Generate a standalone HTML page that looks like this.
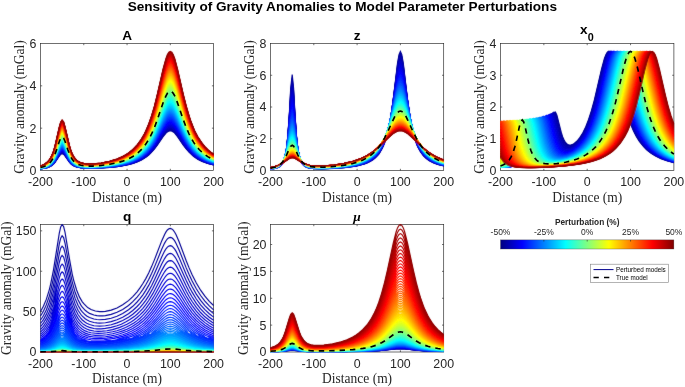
<!DOCTYPE html><html><head><meta charset="utf-8"><title>fig</title><style>html,body{margin:0;padding:0;background:#fff}#f{position:relative;width:685px;height:387px;overflow:hidden;background:#fff}</style></head><body><div id="f">
<svg width="685" height="387" viewBox="0 0 685 387" style="position:absolute;left:0;top:0;will-change:opacity">
<defs>
<clipPath id="c0"><rect x="39.70" y="42.70" width="174.70" height="128.60"/></clipPath>
<clipPath id="c1"><rect x="269.70" y="42.70" width="174.80" height="128.60"/></clipPath>
<clipPath id="c2"><rect x="499.70" y="42.70" width="175.00" height="128.60"/></clipPath>
<clipPath id="c3"><rect x="39.70" y="223.70" width="174.70" height="129.10"/></clipPath>
<clipPath id="c4"><rect x="269.70" y="223.70" width="174.80" height="129.10"/></clipPath>
<linearGradient id="jet" x1="0" x2="1" y1="0" y2="0">
<stop offset="0.0000" stop-color="#000080"/>
<stop offset="0.0156" stop-color="#00008f"/>
<stop offset="0.0312" stop-color="#00009f"/>
<stop offset="0.0469" stop-color="#0000af"/>
<stop offset="0.0625" stop-color="#0000bf"/>
<stop offset="0.0781" stop-color="#0000cf"/>
<stop offset="0.0938" stop-color="#0000df"/>
<stop offset="0.1094" stop-color="#0000ef"/>
<stop offset="0.1250" stop-color="#0000ff"/>
<stop offset="0.1406" stop-color="#0010ff"/>
<stop offset="0.1562" stop-color="#0020ff"/>
<stop offset="0.1719" stop-color="#0030ff"/>
<stop offset="0.1875" stop-color="#0040ff"/>
<stop offset="0.2031" stop-color="#0050ff"/>
<stop offset="0.2188" stop-color="#0060ff"/>
<stop offset="0.2344" stop-color="#0070ff"/>
<stop offset="0.2500" stop-color="#0080ff"/>
<stop offset="0.2656" stop-color="#008fff"/>
<stop offset="0.2812" stop-color="#009fff"/>
<stop offset="0.2969" stop-color="#00afff"/>
<stop offset="0.3125" stop-color="#00bfff"/>
<stop offset="0.3281" stop-color="#00cfff"/>
<stop offset="0.3438" stop-color="#00dfff"/>
<stop offset="0.3594" stop-color="#00efff"/>
<stop offset="0.3750" stop-color="#00ffff"/>
<stop offset="0.3906" stop-color="#10ffef"/>
<stop offset="0.4062" stop-color="#20ffdf"/>
<stop offset="0.4219" stop-color="#30ffcf"/>
<stop offset="0.4375" stop-color="#40ffbf"/>
<stop offset="0.4531" stop-color="#50ffaf"/>
<stop offset="0.4688" stop-color="#60ff9f"/>
<stop offset="0.4844" stop-color="#70ff8f"/>
<stop offset="0.5000" stop-color="#80ff80"/>
<stop offset="0.5156" stop-color="#8fff70"/>
<stop offset="0.5312" stop-color="#9fff60"/>
<stop offset="0.5469" stop-color="#afff50"/>
<stop offset="0.5625" stop-color="#bfff40"/>
<stop offset="0.5781" stop-color="#cfff30"/>
<stop offset="0.5938" stop-color="#dfff20"/>
<stop offset="0.6094" stop-color="#efff10"/>
<stop offset="0.6250" stop-color="#ffff00"/>
<stop offset="0.6406" stop-color="#ffef00"/>
<stop offset="0.6562" stop-color="#ffdf00"/>
<stop offset="0.6719" stop-color="#ffcf00"/>
<stop offset="0.6875" stop-color="#ffbf00"/>
<stop offset="0.7031" stop-color="#ffaf00"/>
<stop offset="0.7188" stop-color="#ff9f00"/>
<stop offset="0.7344" stop-color="#ff8f00"/>
<stop offset="0.7500" stop-color="#ff8000"/>
<stop offset="0.7656" stop-color="#ff7000"/>
<stop offset="0.7812" stop-color="#ff6000"/>
<stop offset="0.7969" stop-color="#ff5000"/>
<stop offset="0.8125" stop-color="#ff4000"/>
<stop offset="0.8281" stop-color="#ff3000"/>
<stop offset="0.8438" stop-color="#ff2000"/>
<stop offset="0.8594" stop-color="#ff1000"/>
<stop offset="0.8750" stop-color="#ff0000"/>
<stop offset="0.8906" stop-color="#ef0000"/>
<stop offset="0.9062" stop-color="#df0000"/>
<stop offset="0.9219" stop-color="#cf0000"/>
<stop offset="0.9375" stop-color="#bf0000"/>
<stop offset="0.9531" stop-color="#af0000"/>
<stop offset="0.9688" stop-color="#9f0000"/>
<stop offset="0.9844" stop-color="#8f0000"/>
<stop offset="1.0000" stop-color="#800000"/>
</linearGradient>
<filter id="bl" filterUnits="userSpaceOnUse" x="0" y="0" width="685" height="387"><feConvolveMatrix order="3" kernelMatrix="0.01 0.05 0.01 0.05 0.76 0.05 0.01 0.05 0.01" divisor="1" edgeMode="none" preserveAlpha="false"/></filter>
</defs>
<g stroke="#262626" stroke-width="0.66" fill="none">
<rect x="40.50" y="43.50" width="173.10" height="127.00"/>
<path d="M83.78 170.50v-1.70M83.78 43.50v1.70M127.05 170.50v-1.70M127.05 43.50v1.70M170.32 170.50v-1.70M170.32 43.50v1.70M40.50 128.17h1.70M213.60 128.17h-1.70M40.50 85.83h1.70M213.60 85.83h-1.70"/>
</g>
<g clip-path="url(#c0)"><g filter="url(#bl)"><g transform="scale(.1)" fill="none" stroke-linejoin="miter" stroke-miterlimit="8" stroke-width="11.5">
<path stroke="#000093" d="M405 1690l43-7 29-7 29-13 14-10 15-13 14-16 44-64 14-17 14-7 15 6 14 17 44 63 14 15 14 12 15 9 29 12 43 9 43 3 72 1 87-3 86-6 73-7 57-9 58-11 43-12 43-15 44-20 43-27 29-23 29-28 29-33 28-38 58-84 29-36 14-12 15-8 14-3 15 3 14 8 15 12 28 36 58 84 29 38 29 33 43 40 43 30 44 22 57 21 58 15"/>
<path fill="#00009d" d="M405 1690l43-7 29-7 43-23 29-29 58-81 14-7 15 6 58 80 28 27 44 21 43 9 115 4 173-9 130-16 101-23 43-15 44-20 43-27 29-23 58-61 86-122 29-36 29-20 14-3 15 3 29 20 28 36 87 122 29 33 43 40 43 30 44 22 57 21 58 15 0-2 -58-16 -57-22 -44-23 -43-31 -43-41 -29-34 -87-128 -28-37 -29-21 -15-3 -14 3 -29 21 -29 37 -86 128 -58 63 -29 24 -43 28 -44 20 -43 16 -101 24 -130 17 -173 9 -115-4 -43-9 -44-22 -28-29 -58-82 -15-6 -14 7 -58 84 -29 30 -43 23 -29 9 -43 6z"/>
<path stroke="#00009d" d="M405 1690l43-7 29-8 29-13 14-10 15-13 14-16 44-66 14-17 14-7 15 6 14 17 44 64 14 16 14 12 15 9 29 13 43 8 43 4 72 1 87-3 86-6 73-8 57-9 58-12 43-11 43-16 44-20 43-28 29-23 29-28 29-34 28-39 58-86 29-36 14-13 15-8 14-3 15 3 14 8 15 13 28 36 58 86 29 39 29 34 43 40 43 31 44 22 57 22 58 15"/>
<path stroke="#0000a7" d="M405 1689l43-6 29-9 29-13 14-10 15-13 14-17 44-67 14-17 14-7 15 6 14 17 44 65 14 17 14 12 15 10 29 12 43 9 43 3 72 1 87-3 86-6 73-8 57-9 58-12 43-12 43-16 44-20 43-28 29-24 29-29 29-34 28-40 58-88 29-37 14-13 15-8 14-3 15 3 14 8 15 13 28 37 58 88 29 40 29 34 43 41 43 31 44 23 57 22 58 16"/>
<path fill="#0000b1" d="M405 1689l43-6 29-9 43-23 29-30 58-84 14-7 15 6 58 82 28 29 44 22 43 9 115 4 173-9 130-17 101-24 43-16 44-20 43-28 29-24 58-63 86-128 29-37 29-21 14-3 15 3 29 21 28 37 87 128 29 34 43 41 43 31 44 23 57 22 58 16 0-2 -58-16 -57-23 -44-24 -43-32 -43-43 -29-36 -87-132 -28-38 -29-23 -15-3 -14 3 -29 22 -29 39 -86 132 -58 66 -29 24 -43 29 -44 22 -43 16 -101 25 -130 18 -173 9 -72 0 -43-4 -43-9 -29-13 -15-10 -28-30 -58-86 -15-6 -14 7 -58 88 -29 31 -43 24 -29 9 -43 7z"/>
<path stroke="#0000b1" d="M405 1689l43-7 29-8 29-14 14-10 15-14 14-17 44-68 14-18 14-7 15 7 14 17 44 67 14 16 14 13 15 10 29 12 43 9 43 4 72 1 87-3 86-7 73-8 57-9 58-12 43-12 43-16 44-22 43-28 29-24 29-30 29-35 28-40 58-90 29-37 14-13 15-9 14-3 15 3 14 9 15 13 28 37 58 90 29 40 29 35 43 43 43 31 44 23 57 23 58 16"/>
<path stroke="#0000ba" d="M405 1689l43-7 29-9 29-14 14-10 15-14 14-17 44-70 14-18 14-7 15 6 14 18 44 68 14 17 14 13 15 10 29 13 43 9 43 4 72 0 87-3 86-6 73-8 57-10 58-12 43-13 43-16 44-22 43-29 29-24 29-30 29-36 28-41 58-91 29-39 14-13 15-9 14-3 15 3 14 9 15 14 28 38 58 91 29 41 29 36 43 43 43 32 44 24 57 23 58 16"/>
<path fill="#0000c4" d="M405 1689l43-7 29-9 43-24 29-31 58-88 14-7 15 6 58 86 28 30 15 10 29 13 43 9 43 4 72 0 173-9 130-18 101-25 43-16 44-22 43-29 29-24 58-66 86-132 29-39 29-22 14-3 15 3 29 23 28 38 87 132 29 36 43 43 43 32 44 24 57 23 58 16 0-2 -58-17 -57-24 -44-25 -43-33 -43-45 -29-37 -87-137 -28-39 -15-15 -14-9 -15-3 -14 3 -15 9 -14 15 -29 39 -86 137 -58 68 -29 26 -43 30 -44 23 -43 17 -101 26 -130 17 -173 10 -72 0 -43-4 -43-10 -29-13 -15-10 -28-31 -58-89 -15-7 -14 8 -58 91 -29 32 -14 10 -29 15 -29 9 -43 7z"/>
<path stroke="#0000c4" d="M405 1688l43-7 29-8 29-15 14-10 15-14 14-18 44-70 14-19 14-8 15 7 14 18 44 69 14 17 14 14 15 10 29 13 43 9 43 4 72 1 87-3 86-7 73-8 57-9 58-13 43-13 43-17 44-22 43-29 29-26 29-30 29-36 28-43 58-92 29-39 14-14 15-9 14-3 15 3 14 9 15 14 28 39 58 93 29 42 29 36 43 44 43 32 44 25 57 23 58 17"/>
<path stroke="#0000ce" d="M405 1688l43-7 29-9 29-15 14-10 15-14 14-18 44-72 14-19 14-8 15 7 14 18 44 71 14 17 14 14 15 10 29 13 43 10 43 4 72 0 87-3 86-7 73-8 57-9 58-13 43-13 43-17 44-23 43-30 29-26 29-31 29-37 28-43 58-94 29-39 14-15 15-9 14-3 15 3 14 9 15 15 28 39 58 94 29 43 29 37 43 45 43 33 44 25 57 24 58 17"/>
<path fill="#0000d8" d="M405 1688l43-7 29-9 29-15 14-10 29-32 58-91 14-8 15 7 58 89 28 31 15 10 29 13 43 10 43 4 72 0 173-10 130-17 101-26 43-17 44-23 43-30 29-26 58-68 86-137 29-39 14-15 15-9 14-3 15 3 14 9 15 15 28 39 87 137 29 37 43 45 43 33 44 25 57 24 58 17 0-3 -58-17 -57-25 -44-25 -43-35 -43-46 -29-38 -87-142 -28-41 -15-15 -14-9 -15-3 -14 3 -15 9 -14 15 -29 41 -86 142 -58 70 -29 27 -43 31 -44 23 -43 18 -101 27 -130 18 -173 11 -72-1 -43-4 -43-10 -29-14 -15-11 -28-32 -44-72 -14-20 -15-7 -14 8 -58 94 -29 34 -14 11 -29 15 -29 9 -43 8z"/>
<path stroke="#0000d8" d="M405 1688l43-8 29-8 29-15 14-11 15-15 14-18 44-73 14-20 14-7 15 7 14 19 44 71 14 18 14 13 15 11 29 13 43 10 43 4 72 1 87-3 86-7 73-9 57-9 58-14 43-13 43-17 44-23 43-31 29-26 29-31 29-38 28-44 58-96 29-40 14-14 15-9 14-4 15 4 14 9 15 14 28 40 58 96 29 44 29 38 43 45 43 34 44 25 57 25 58 17"/>
<path stroke="#0000e2" d="M405 1688l43-8 29-9 29-15 14-11 15-15 14-19 44-74 14-20 14-8 15 7 14 20 44 72 14 18 14 14 15 11 29 14 43 10 43 4 72 1 87-4 86-7 73-9 57-9 58-14 43-13 43-18 44-23 43-31 29-27 29-32 29-38 28-45 58-97 29-41 14-15 15-9 14-3 15 3 14 9 15 15 28 41 58 97 29 45 29 38 43 46 43 35 44 25 57 25 58 17"/>
<path fill="#0000eb" d="M405 1688l43-8 29-9 29-15 14-11 29-34 58-94 14-8 15 7 14 20 44 72 28 32 15 11 29 14 43 10 43 4 72 1 173-11 130-18 101-27 43-18 44-23 43-31 29-27 58-70 86-142 29-41 14-15 15-9 14-3 15 3 14 9 15 15 28 41 87 142 29 38 43 46 43 35 44 25 57 25 58 17 0-2 -58-18 -57-25 -44-27 -43-36 -43-47 -29-40 -87-147 -28-42 -15-15 -14-10 -15-3 -14 3 -15 10 -14 15 -29 42 -86 147 -58 73 -29 27 -43 33 -44 24 -43 18 -101 28 -130 19 -173 11 -72-1 -43-4 -43-11 -29-14 -15-11 -28-33 -44-75 -14-20 -15-7 -14 8 -58 97 -29 35 -14 11 -29 16 -29 9 -43 8z"/>
<path stroke="#0000eb" d="M405 1687l43-7 29-10 29-15 14-11 15-15 14-19 44-76 14-20 14-8 15 7 14 20 44 74 14 18 14 14 15 11 29 14 43 10 43 4 72 1 87-3 86-7 73-9 57-10 58-14 43-14 43-17 44-24 43-32 29-27 29-33 29-39 28-45 58-99 29-42 14-15 15-9 14-3 15 3 14 9 15 15 28 42 58 99 29 45 29 39 43 47 43 35 44 27 57 25 58 17"/>
<path stroke="#0000f5" d="M405 1687l43-8 29-9 29-16 14-11 15-16 14-19 44-77 14-20 14-8 15 7 14 20 44 75 14 19 14 14 15 11 29 14 43 11 43 4 72 1 87-4 86-7 73-9 57-10 58-14 43-14 43-18 44-24 43-33 29-27 29-33 29-40 28-46 58-101 29-42 14-15 15-10 14-3 15 3 14 10 15 15 28 42 58 101 29 46 29 40 43 47 43 36 44 27 57 25 58 18"/>
<path fill="#0000ff" d="M405 1687l43-8 29-9 29-16 14-11 29-35 58-97 14-8 15 7 14 20 44 75 28 33 15 11 29 14 43 11 43 4 72 1 173-11 130-19 101-28 43-18 44-24 43-33 29-27 58-73 86-147 29-42 14-15 15-10 14-3 15 3 14 10 15 15 28 42 87 147 29 40 43 47 43 36 44 27 57 25 58 18 0-2 -58-18 -57-27 -44-27 -43-37 -43-49 -29-41 -87-152 -28-44 -15-16 -14-10 -15-3 -14 3 -15 10 -14 16 -29 44 -86 151 -29 41 -29 35 -29 28 -43 33 -44 25 -43 19 -43 15 -58 14 -130 20 -173 11 -72-1 -43-4 -43-11 -29-15 -15-11 -28-34 -44-78 -14-21 -15-7 -14 8 -14 21 -44 80 -29 35 -14 12 -29 17 -29 9 -43 8z"/>
<path stroke="#0000ff" d="M405 1687l43-8 29-10 29-16 14-12 15-15 14-19 44-79 14-21 14-8 15 8 14 20 44 76 14 19 14 15 15 11 29 15 43 10 43 4 72 1 87-3 86-8 73-9 57-10 58-14 43-14 43-19 44-24 43-33 29-28 29-34 29-40 28-47 58-103 29-43 14-15 15-10 14-3 15 3 14 10 15 15 28 43 58 103 29 47 29 40 43 49 43 36 44 27 57 26 58 18"/>
<path stroke="#000aff" d="M405 1686l43-8 29-9 29-17 14-12 15-15 14-20 44-80 14-21 14-8 15 7 14 21 44 78 14 19 14 15 15 11 29 15 43 11 43 4 72 1 87-4 86-7 73-10 57-10 58-14 43-15 43-19 44-25 43-33 29-28 29-35 29-41 28-47 58-104 29-44 14-16 15-10 14-3 15 3 14 10 15 16 28 44 58 104 29 48 29 41 43 49 43 37 44 27 57 27 58 18"/>
<path fill="#0014ff" d="M405 1686l43-8 29-9 29-17 14-12 29-35 44-80 14-21 14-8 15 7 14 21 44 78 28 34 15 11 29 15 43 11 43 4 72 1 173-11 130-20 58-14 43-15 43-19 44-25 43-33 29-28 29-35 29-41 86-151 29-44 14-16 15-10 14-3 15 3 14 10 15 16 28 44 87 152 29 41 43 49 43 37 44 27 57 27 58 18 0-2 -58-19 -57-28 -44-28 -43-38 -43-51 -29-42 -87-157 -28-45 -15-16 -14-11 -15-3 -14 3 -15 11 -14 16 -29 45 -86 157 -29 42 -29 36 -29 29 -43 34 -44 26 -43 19 -43 15 -58 15 -130 20 -173 12 -72-1 -43-4 -43-11 -29-16 -15-11 -28-36 -44-80 -14-21 -15-8 -14 9 -14 21 -44 83 -29 36 -14 13 -29 16 -29 10 -43 9z"/>
<path stroke="#0014ff" d="M405 1686l43-8 29-10 29-16 14-13 15-15 14-21 44-81 14-21 14-9 15 8 14 21 44 79 14 20 14 15 15 11 29 15 43 11 43 4 72 1 87-3 86-8 73-9 57-11 58-15 43-14 43-19 44-26 43-34 29-28 29-35 29-42 28-48 58-106 29-45 14-16 15-10 14-3 15 3 14 10 15 16 28 45 58 106 29 48 29 42 43 50 43 37 44 28 57 27 58 19"/>
<path stroke="#001dff" d="M405 1686l43-9 29-10 29-16 14-13 15-16 14-20 44-83 14-21 14-9 15 8 14 21 44 80 14 20 14 16 15 11 29 16 43 11 43 4 72 1 87-4 86-8 73-9 57-11 58-15 43-15 43-19 44-26 43-34 29-29 29-36 29-42 28-49 58-108 29-45 14-16 15-11 14-3 15 3 14 11 15 16 28 45 58 108 29 49 29 42 43 51 43 38 44 28 57 28 58 19"/>
<path fill="#0027ff" d="M405 1686l43-9 29-10 29-16 14-13 29-36 44-83 14-21 14-9 15 8 14 21 44 80 28 36 15 11 29 16 43 11 43 4 72 1 173-12 130-20 58-15 43-15 43-19 44-26 43-34 29-29 29-36 29-42 86-157 29-45 14-16 15-11 14-3 15 3 14 11 15 16 28 45 87 157 29 42 43 51 43 38 44 28 57 28 58 19 0-2 -58-20 -57-28 -44-29 -43-40 -43-52 -29-44 -87-161 -28-47 -15-17 -14-10 -15-4 -14 4 -15 10 -14 17 -29 46 -86 162 -29 44 -29 36 -29 31 -43 35 -44 27 -43 20 -43 15 -58 15 -130 21 -173 12 -72-1 -43-4 -43-12 -29-16 -15-12 -28-36 -44-83 -14-22 -15-8 -14 9 -14 23 -44 84 -29 38 -14 13 -29 17 -29 10 -43 9z"/>
<path stroke="#0027ff" d="M405 1685l43-8 29-10 29-17 14-13 15-16 14-21 44-83 14-23 14-8 15 8 14 21 44 82 14 20 14 16 15 11 29 16 43 11 43 5 72 0 87-3 86-8 73-10 57-11 58-15 43-15 43-20 44-26 43-35 29-30 29-36 29-43 28-49 58-110 29-46 14-16 15-10 14-4 15 4 14 10 15 16 28 46 58 110 29 50 29 43 43 51 43 39 44 29 57 27 58 20"/>
<path stroke="#0031ff" d="M405 1685l43-9 29-10 29-17 14-13 15-16 14-22 44-84 14-23 14-9 15 8 14 22 44 83 14 21 14 15 15 12 29 16 43 12 43 4 72 1 87-4 86-8 73-10 57-11 58-15 43-15 43-20 44-27 43-35 29-31 29-36 29-44 28-50 58-112 29-46 14-17 15-10 14-4 15 4 14 10 15 17 28 47 58 111 29 50 29 44 43 52 43 40 44 29 57 28 58 20"/>
<path fill="#003bff" d="M405 1685l43-9 29-10 29-17 14-13 29-38 44-84 14-23 14-9 15 8 14 22 44 83 28 36 15 12 29 16 43 12 43 4 72 1 173-12 130-21 58-15 43-15 43-20 44-27 43-35 29-31 29-36 29-44 86-162 29-46 14-17 15-10 14-4 15 4 14 10 15 17 28 47 87 161 29 44 43 52 43 40 44 29 57 28 58 20 0-2 -58-21 -57-29 -44-30 -43-40 -43-54 -29-45 -87-167 -28-48 -15-17 -14-11 -15-4 -14 4 -15 11 -14 17 -29 48 -86 167 -29 44 -29 38 -29 31 -43 37 -44 27 -43 21 -43 16 -58 15 -130 22 -173 12 -72-1 -43-4 -43-12 -29-16 -15-13 -28-37 -44-86 -14-22 -15-8 -14 9 -14 23 -44 87 -29 39 -14 13 -29 18 -29 11 -43 9z"/>
<path stroke="#003bff" d="M405 1685l43-9 29-10 29-18 14-13 15-17 14-21 44-86 14-23 14-9 15 8 14 22 44 84 14 21 14 16 15 13 29 16 43 11 43 5 72 1 87-4 86-8 73-10 57-12 58-15 43-16 43-20 44-27 43-36 29-31 29-37 29-44 28-52 58-112 29-48 14-17 15-10 14-4 15 4 14 10 15 17 28 48 58 113 29 51 29 44 43 53 43 40 44 30 57 29 58 20"/>
<path stroke="#0045ff" d="M405 1685l43-9 29-11 29-18 14-13 15-17 14-22 44-87 14-23 14-9 15 8 14 22 44 86 14 21 14 16 15 13 29 16 43 12 43 4 72 1 87-4 86-8 73-10 57-12 58-15 43-16 43-21 44-27 43-37 29-31 29-38 29-44 28-53 58-114 29-48 14-17 15-11 14-4 15 4 14 11 15 17 28 48 58 114 29 53 29 45 43 54 43 40 44 30 57 29 58 21"/>
<path fill="#004eff" d="M405 1685l43-9 29-11 29-18 14-13 29-39 44-87 14-23 14-9 15 8 14 22 44 86 28 37 15 13 29 16 43 12 43 4 72 1 173-12 130-22 58-15 43-16 43-21 44-27 43-37 29-31 29-38 29-44 86-167 29-48 14-17 15-11 14-4 15 4 14 11 15 17 28 48 87 167 29 45 43 54 43 40 44 30 57 29 58 21 0-3 -58-21 -57-29 -44-31 -43-42 -43-56 -29-46 -87-172 -28-49 -15-18 -14-11 -15-4 -14 4 -15 11 -14 18 -29 49 -86 172 -29 46 -29 39 -29 32 -43 38 -44 28 -43 21 -43 16 -58 16 -130 23 -86 8 -87 4 -72-1 -43-4 -43-13 -29-16 -15-13 -28-39 -44-87 -14-24 -15-8 -14 9 -14 24 -44 90 -29 40 -14 14 -29 18 -29 11 -43 9z"/>
<path stroke="#004eff" d="M405 1684l43-9 29-11 29-18 14-13 15-17 14-22 44-89 14-24 14-9 15 9 14 23 44 86 14 21 14 17 15 13 29 16 43 12 43 5 72 1 87-4 86-9 73-10 57-12 58-16 43-16 43-21 44-27 43-37 29-32 29-38 29-46 28-53 58-116 29-49 14-17 15-11 14-4 15 4 14 11 15 17 28 49 58 116 29 53 29 46 43 55 43 41 44 30 57 30 58 20"/>
<path stroke="#0058ff" d="M405 1684l43-9 29-11 29-18 14-14 15-18 14-22 44-90 14-24 14-9 15 8 14 24 44 87 14 22 14 17 15 13 29 16 14 6 29 7 43 4 72 1 87-4 86-8 73-11 57-12 58-16 43-16 43-21 44-28 43-38 29-32 29-39 29-46 28-54 58-118 29-49 14-18 15-11 14-4 15 4 14 11 15 18 28 49 58 118 29 54 29 46 43 56 43 42 44 31 28 16 29 13 58 21"/>
<path fill="#0062ff" d="M405 1684l43-9 29-11 29-18 14-14 29-40 44-90 14-24 14-9 15 8 14 24 44 87 28 39 15 13 29 16 43 13 43 4 72 1 87-4 86-8 130-23 58-16 43-16 43-21 44-28 43-38 29-32 29-39 29-46 86-172 29-49 14-18 15-11 14-4 15 4 14 11 15 18 28 49 87 172 29 46 43 56 43 42 44 31 57 29 58 21 0-2 -58-21 -57-31 -44-32 -43-43 -43-57 -29-48 -87-176 -28-51 -15-18 -14-12 -15-4 -14 4 -15 12 -14 18 -29 51 -86 176 -29 48 -29 40 -29 33 -43 38 -44 29 -43 22 -43 17 -58 17 -130 23 -86 8 -87 4 -72-1 -43-4 -43-13 -29-17 -15-13 -28-40 -44-90 -14-24 -15-9 -14 10 -14 24 -44 93 -29 41 -14 14 -29 19 -29 11 -43 9z"/>
<path stroke="#0062ff" d="M405 1684l43-10 29-11 29-18 14-14 15-18 14-23 44-91 14-24 14-9 15 8 14 24 44 89 14 22 14 17 15 13 29 17 14 5 29 7 43 5 72 1 87-4 86-9 73-10 57-12 58-17 43-16 43-22 44-28 43-39 29-32 29-39 29-47 28-55 58-119 29-51 14-17 15-12 14-4 15 4 14 12 15 17 28 51 58 119 29 55 29 47 43 56 43 42 44 32 28 16 29 14 58 21"/>
<path stroke="#006cff" d="M405 1683l43-9 29-11 29-19 14-14 15-18 14-23 44-93 14-24 14-10 15 9 14 24 44 90 14 22 14 18 15 13 29 17 14 5 29 8 43 4 72 1 87-4 86-8 73-11 57-12 58-17 43-17 43-22 44-29 43-38 29-33 29-40 29-48 28-55 58-121 29-51 14-18 15-12 14-4 15 4 14 12 15 18 28 51 58 121 29 55 29 48 43 57 43 43 44 32 28 17 29 14 58 21"/>
<path fill="#0076ff" d="M405 1683l43-9 29-11 29-19 14-14 29-41 44-93 14-24 14-10 15 9 14 24 44 90 28 40 15 13 29 17 43 13 43 4 72 1 87-4 86-8 130-23 58-17 43-17 43-22 44-29 43-38 29-33 29-40 29-48 86-176 29-51 14-18 15-12 14-4 15 4 14 12 15 18 28 51 87 176 29 48 43 57 43 43 44 32 57 31 58 21 0-2 -58-22 -57-32 -44-33 -43-44 -43-58 -29-49 -87-182 -28-52 -15-19 -14-11 -15-4 -14 4 -15 11 -14 19 -29 52 -86 182 -29 49 -29 41 -29 33 -43 40 -44 30 -43 22 -43 18 -58 17 -130 23 -86 9 -87 4 -72-1 -43-4 -43-13 -29-18 -15-13 -28-41 -44-93 -14-25 -15-9 -14 10 -14 25 -44 96 -29 42 -14 14 -29 20 -29 11 -43 10z"/>
<path stroke="#0076ff" d="M405 1683l43-10 29-11 29-19 14-14 15-18 14-24 44-94 14-25 14-9 15 9 14 24 44 91 14 23 14 18 15 13 29 17 14 6 29 7 43 5 72 1 87-4 86-9 73-11 57-12 58-17 43-17 43-22 44-30 43-39 29-33 29-41 29-48 28-56 58-123 29-51 14-19 15-12 14-4 15 4 14 12 15 19 28 51 58 123 29 56 29 48 43 58 43 44 44 32 28 17 29 14 58 22"/>
<path stroke="#0080ff" d="M405 1683l43-10 29-11 29-20 14-14 15-19 14-23 44-96 14-25 14-10 15 9 14 25 44 93 14 23 14 18 15 13 29 18 14 5 29 8 43 4 72 1 87-4 86-9 73-11 57-12 58-17 43-18 43-22 44-30 43-40 29-33 29-41 29-49 28-57 58-125 29-52 14-19 15-11 14-4 15 4 14 11 15 19 28 52 58 125 29 57 29 49 43 58 43 44 44 33 28 17 29 15 58 22"/>
<path fill="#0089ff" d="M405 1683l43-10 29-11 29-20 14-14 29-42 44-96 14-25 14-10 15 9 14 25 44 93 28 41 15 13 29 18 43 13 43 4 72 1 87-4 86-9 130-23 58-17 43-18 43-22 44-30 43-40 29-33 29-41 29-49 86-182 29-52 14-19 15-11 14-4 15 4 14 11 15 19 28 52 87 182 29 49 43 58 43 44 44 33 57 32 58 22 0-2 -58-23 -57-32 -44-34 -43-45 -43-61 -29-50 -87-186 -28-54 -15-19 -14-12 -15-4 -14 4 -15 12 -14 19 -29 54 -86 186 -29 50 -29 42 -29 35 -43 41 -44 31 -43 23 -43 17 -58 18 -57 13 -73 11 -86 9 -87 5 -72-1 -43-6 -43-13 -29-18 -15-14 -28-42 -44-95 -14-25 -15-9 -14 10 -14 26 -44 97 -29 44 -14 15 -29 19 -29 12 -43 10z"/>
<path stroke="#0089ff" d="M405 1682l43-9 29-12 29-20 14-14 15-19 14-24 44-96 14-26 14-10 15 9 14 25 44 94 14 23 14 18 15 14 29 18 14 6 29 7 43 5 72 1 87-4 86-9 73-12 57-12 58-18 43-17 43-23 44-30 43-40 29-35 29-41 29-50 28-57 58-126 29-53 14-19 15-12 14-4 15 4 14 12 15 19 28 53 58 126 29 57 29 50 43 60 43 44 44 33 28 18 29 14 58 23"/>
<path stroke="#0093ff" d="M405 1682l43-10 29-12 29-19 14-15 15-19 14-25 44-97 14-26 14-10 15 9 14 25 44 95 14 24 14 18 15 14 29 18 14 6 29 7 43 6 72 1 87-5 86-9 73-11 57-13 58-18 43-17 43-23 44-31 43-41 29-35 29-42 29-50 28-58 58-128 29-54 14-19 15-12 14-4 15 4 14 12 15 19 28 54 58 128 29 58 29 50 43 61 43 45 44 34 28 17 29 15 58 23"/>
<path fill="#009dff" d="M405 1682l43-10 29-12 29-19 14-15 29-44 44-97 14-26 14-10 15 9 14 25 44 95 28 42 15 14 29 18 43 13 43 6 72 1 87-5 86-9 73-11 57-13 58-18 43-17 43-23 44-31 43-41 29-35 29-42 29-50 86-186 29-54 14-19 15-12 14-4 15 4 14 12 15 19 28 54 87 186 29 50 43 61 43 45 44 34 57 32 58 23 0-2 -58-24 -57-33 -44-35 -43-46 -43-62 -29-52 -87-191 -28-55 -15-20 -14-12 -15-4 -14 4 -15 12 -14 20 -29 55 -86 191 -29 52 -29 43 -29 36 -43 42 -44 31 -43 24 -43 18 -58 18 -57 13 -73 12 -86 9 -87 5 -72-1 -43-6 -43-13 -29-19 -15-14 -28-43 -44-98 -14-26 -15-9 -14 10 -14 27 -44 100 -29 45 -14 15 -29 20 -29 12 -43 10z"/>
<path stroke="#009dff" d="M405 1682l43-10 29-12 29-20 14-15 15-20 14-24 44-99 14-26 14-11 15 10 14 25 44 97 14 24 14 18 15 14 29 19 14 5 29 8 43 5 72 1 87-4 86-10 73-11 57-13 58-18 43-18 43-23 44-31 43-42 29-35 29-42 29-51 28-59 58-130 29-54 14-20 15-12 14-4 15 4 14 12 15 20 28 54 58 130 29 59 29 51 43 61 43 46 44 34 28 18 29 15 58 23"/>
<path stroke="#00a7ff" d="M405 1681l43-10 29-12 29-20 14-15 15-20 14-25 44-100 14-27 14-10 15 9 14 26 44 98 14 24 14 19 15 14 29 19 14 6 29 7 43 6 72 1 87-5 86-9 73-12 57-13 58-18 43-18 43-24 44-31 43-42 29-36 29-43 29-52 28-59 58-132 29-55 14-20 15-12 14-4 15 4 14 12 15 20 28 55 58 132 29 59 29 52 43 62 43 46 44 35 28 18 29 15 58 24"/>
<path fill="#00b1ff" d="M405 1681l43-10 29-12 29-20 14-15 29-45 44-100 14-27 14-10 15 9 14 26 44 98 28 43 15 14 29 19 43 13 43 6 72 1 87-5 86-9 73-12 57-13 58-18 43-18 43-24 44-31 43-42 29-36 29-43 29-52 86-191 29-55 14-20 15-12 14-4 15 4 14 12 15 20 28 55 87 191 29 52 43 62 43 46 44 35 57 33 58 24 0-3 -58-24 -57-34 -44-35 -43-48 -43-63 -29-53 -87-196 -28-57 -15-20 -14-13 -15-4 -14 4 -15 13 -14 20 -29 57 -86 196 -29 53 -29 44 -29 37 -43 43 -44 32 -43 24 -43 19 -58 18 -57 14 -73 12 -86 9 -87 5 -72-1 -43-6 -43-14 -29-19 -15-14 -28-44 -44-101 -14-26 -15-10 -14 11 -14 27 -44 103 -29 46 -14 15 -29 21 -29 12 -43 11z"/>
<path stroke="#00b1ff" d="M405 1681l43-10 29-12 29-21 14-15 15-20 14-26 44-101 14-27 14-10 15 9 14 26 44 99 14 25 14 19 15 14 29 19 14 6 29 8 43 5 72 1 87-4 86-10 73-12 57-13 58-18 43-19 43-24 44-31 43-43 29-36 29-44 29-52 28-61 58-132 29-56 14-20 15-13 14-4 15 4 14 13 15 20 28 56 58 133 29 60 29 52 43 63 43 47 44 35 28 19 29 15 58 23"/>
<path stroke="#00baff" d="M405 1681l43-11 29-12 29-21 14-15 15-20 14-26 44-103 14-27 14-11 15 10 14 26 44 101 14 25 14 19 15 14 29 19 14 7 29 7 43 6 72 1 87-5 86-9 73-12 57-14 58-18 43-19 43-24 44-32 43-43 29-37 29-44 29-53 28-62 58-134 29-57 14-20 15-13 14-4 15 4 14 13 15 20 28 57 58 135 29 61 29 53 43 63 43 48 44 35 28 19 29 15 58 24"/>
<path fill="#00c4ff" d="M405 1681l43-11 29-12 29-21 14-15 29-46 44-103 14-27 14-11 15 10 14 26 44 101 28 44 15 14 29 19 43 14 43 6 72 1 87-5 86-9 73-12 57-14 58-18 43-19 43-24 44-32 43-43 29-37 29-44 29-53 86-196 29-57 14-20 15-13 14-4 15 4 14 13 15 20 28 57 87 196 29 53 43 63 43 48 44 35 57 34 58 24 0-2 -58-24 -57-35 -44-37 -43-48 -43-66 -29-54 -87-201 -28-58 -15-20 -14-14 -15-4 -14 4 -15 14 -14 20 -29 58 -86 201 -29 54 -29 46 -29 37 -43 44 -44 33 -43 25 -43 19 -58 19 -57 14 -73 12 -86 10 -87 5 -72-1 -43-6 -43-14 -29-19 -15-15 -28-46 -44-102 -14-28 -15-10 -14 11 -14 28 -44 106 -29 47 -14 15 -29 22 -29 13 -43 10z"/>
<path stroke="#00c4ff" d="M405 1681l43-11 29-13 29-21 14-15 15-21 14-26 44-104 14-27 14-11 15 10 14 27 44 101 14 25 14 20 15 14 29 20 14 6 29 8 43 5 72 1 87-4 86-10 73-12 57-14 58-19 43-18 43-25 44-33 43-43 29-37 29-45 29-54 28-62 58-136 29-57 14-21 15-13 14-4 15 4 14 13 15 21 28 57 58 136 29 63 29 53 43 64 43 49 44 36 28 18 29 16 58 24"/>
<path stroke="#00ceff" d="M405 1680l43-10 29-13 29-22 14-15 15-21 14-26 44-106 14-28 14-11 15 10 14 28 44 102 14 26 14 20 15 15 29 19 14 6 29 8 43 6 72 1 87-5 86-10 73-12 57-14 58-19 43-19 43-25 44-33 43-44 29-37 29-46 29-54 28-63 58-138 29-58 14-20 15-14 14-4 15 4 14 14 15 20 28 58 58 138 29 63 29 54 43 66 43 48 44 37 28 19 29 16 58 24"/>
<path fill="#00d8ff" d="M405 1680l43-10 29-13 29-22 14-15 29-47 44-106 14-28 14-11 15 10 14 28 44 102 28 46 15 15 29 19 43 14 43 6 72 1 87-5 86-10 73-12 57-14 58-19 43-19 43-25 44-33 43-44 29-37 29-46 29-54 86-201 29-58 14-20 15-14 14-4 15 4 14 14 15 20 28 58 87 201 29 54 43 66 43 48 44 37 57 35 58 24 0-2 -58-25 -57-36 -44-37 -43-50 -43-67 -29-55 -87-206 -28-60 -15-21 -14-13 -15-5 -14 5 -15 13 -14 21 -29 60 -86 205 -29 56 -29 47 -29 38 -43 45 -44 34 -43 25 -43 20 -58 19 -57 15 -73 12 -86 10 -87 5 -72-1 -43-6 -43-14 -29-20 -15-16 -28-46 -44-105 -14-28 -15-10 -14 11 -14 28 -44 108 -29 49 -14 16 -29 22 -29 13 -43 11z"/>
<path stroke="#00d8ff" d="M405 1680l43-11 29-13 29-21 14-16 15-21 14-27 44-107 14-28 14-11 15 10 14 28 44 104 14 25 14 20 15 16 29 19 14 7 29 8 43 5 72 2 87-5 86-10 73-13 57-14 58-19 43-19 43-25 44-34 43-44 29-38 29-46 29-55 28-64 58-140 29-58 14-21 15-13 14-5 15 5 14 13 15 21 28 59 58 139 29 64 29 55 43 66 43 49 44 37 28 19 29 16 58 25"/>
<path stroke="#00e2ff" d="M405 1680l43-11 29-13 29-22 14-16 15-22 14-27 44-108 14-28 14-11 15 10 14 28 44 105 14 26 14 20 15 16 29 20 14 6 29 8 43 6 72 1 87-5 86-10 73-12 57-15 58-19 43-20 43-25 44-34 43-45 29-38 29-47 29-56 28-64 58-141 29-60 14-21 15-13 14-5 15 5 14 13 15 21 28 60 58 141 29 65 29 55 43 67 43 50 44 37 28 20 29 16 58 25"/>
<path fill="#00ebff" d="M405 1680l43-11 29-13 29-22 14-16 29-49 44-108 14-28 14-11 15 10 14 28 44 105 28 46 15 16 29 20 43 14 43 6 72 1 87-5 86-10 73-12 57-15 58-19 43-20 43-25 44-34 43-45 29-38 29-47 29-56 86-205 29-60 14-21 15-13 14-5 15 5 14 13 15 21 28 60 87 206 29 55 43 67 43 50 44 37 57 36 58 25 0-2 -58-26 -57-37 -44-38 -43-51 -43-68 -29-57 -87-211 -28-61 -15-21 -14-14 -15-5 -14 5 -15 14 -14 21 -29 61 -86 211 -29 57 -29 47 -29 40 -43 46 -44 35 -43 26 -43 20 -58 20 -57 14 -73 13 -86 10 -87 5 -72-1 -43-6 -43-15 -29-20 -15-16 -28-47 -44-108 -14-29 -15-10 -14 11 -14 30 -44 110 -29 49 -14 17 -29 22 -29 14 -43 11z"/>
<path stroke="#00ebff" d="M405 1679l43-11 29-13 29-22 14-17 15-21 14-27 44-109 14-29 14-12 15 11 14 28 44 106 14 27 14 20 15 16 14 11 15 9 14 6 29 9 43 6 72 1 87-5 86-10 73-13 57-15 58-19 43-20 43-26 44-34 43-46 29-39 29-47 29-56 28-65 58-143 29-60 14-22 15-13 14-5 15 5 14 13 15 22 28 60 58 143 29 65 29 57 43 67 43 51 44 37 28 20 29 16 58 26"/>
<path stroke="#00f5ff" d="M405 1679l43-11 29-14 29-22 14-17 15-21 14-28 44-110 14-30 14-11 15 10 14 29 44 108 14 26 14 21 15 16 14 12 15 8 14 7 29 8 43 6 72 1 87-5 86-10 73-13 57-14 58-20 43-20 43-26 44-35 43-46 29-40 29-47 29-57 28-66 58-145 29-61 14-21 15-14 14-5 15 5 14 14 15 21 28 61 58 145 29 66 29 57 43 68 43 51 44 38 28 20 29 17 58 26"/>
<path fill="#00ffff" d="M405 1679l43-11 29-14 29-22 14-17 29-49 44-110 14-30 14-11 15 10 14 29 44 108 28 47 15 16 29 20 43 15 43 6 72 1 87-5 86-10 73-13 57-14 58-20 43-20 43-26 44-35 43-46 29-40 29-47 29-57 86-211 29-61 14-21 15-14 14-5 15 5 14 14 15 21 28 61 87 211 29 57 43 68 43 51 44 38 57 37 58 26 0-2 -58-27 -57-37 -44-39 -43-53 -43-69 -29-59 -87-215 -28-63 -15-22 -14-14 -15-5 -14 5 -15 14 -14 22 -29 63 -86 215 -29 58 -29 49 -29 40 -43 48 -44 35 -43 27 -43 20 -58 21 -57 14 -73 14 -86 10 -87 5 -72-1 -43-6 -43-15 -29-21 -15-16 -28-49 -44-110 -14-29 -15-11 -14 12 -14 30 -44 113 -29 50 -14 17 -29 23 -29 14 -43 11z"/>
<path stroke="#00ffff" d="M405 1679l43-12 29-13 29-23 14-17 15-21 14-28 44-112 14-30 14-11 15 10 14 29 44 109 14 27 14 21 15 16 14 12 15 9 14 6 29 9 43 6 72 1 87-5 86-11 73-13 57-14 58-21 43-20 43-26 44-35 43-47 29-40 29-48 29-57 28-67 58-147 29-61 14-22 15-14 14-5 15 5 14 14 15 22 28 61 58 147 29 67 29 57 43 69 43 52 44 39 28 20 29 17 58 26"/>
<path stroke="#0afff5" d="M405 1678l43-11 29-14 29-23 14-17 15-22 14-28 44-113 14-30 14-12 15 11 14 29 44 110 14 28 14 21 15 16 14 12 15 9 14 7 29 8 43 6 72 1 87-5 86-10 73-14 57-14 58-21 43-20 43-27 44-35 43-48 29-40 29-49 29-58 28-67 58-148 29-63 14-22 15-14 14-5 15 5 14 14 15 22 28 63 58 148 29 67 29 59 43 69 43 53 44 39 28 20 29 17 58 27"/>
<path fill="#14ffeb" d="M405 1678l43-11 29-14 29-23 14-17 29-50 44-113 14-30 14-12 15 11 14 29 44 110 28 49 15 16 29 21 43 15 43 6 72 1 87-5 86-10 73-14 57-14 58-21 43-20 43-27 44-35 43-48 29-40 29-49 29-58 86-215 29-63 14-22 15-14 14-5 15 5 14 14 15 22 28 63 87 215 29 59 43 69 43 53 44 39 57 37 58 27 0-3 -58-27 -57-38 -44-40 -43-53 -43-72 -29-59 -87-221 -28-63 -15-23 -14-15 -15-5 -14 5 -15 15 -14 22 -29 64 -86 221 -29 59 -29 50 -29 41 -43 49 -44 36 -43 27 -43 21 -58 21 -57 15 -73 13 -86 11 -87 5 -72-1 -43-6 -43-15 -29-22 -15-16 -28-50 -44-113 -14-30 -15-11 -14 12 -14 31 -44 116 -29 51 -14 18 -29 23 -29 14 -43 12z"/>
<path stroke="#14ffeb" d="M405 1678l43-11 29-14 29-24 14-17 15-22 14-29 44-114 14-30 14-12 15 11 14 29 44 112 14 27 14 22 15 16 14 12 15 9 14 7 29 9 43 6 72 1 87-5 86-11 73-13 57-15 58-21 43-21 43-27 44-35 43-48 29-41 29-49 29-59 28-68 58-150 29-63 14-22 15-15 14-5 15 5 14 15 15 22 28 63 58 150 29 68 29 59 43 71 43 52 44 40 28 21 29 17 58 27"/>
<path stroke="#1dffe2" d="M405 1678l43-12 29-14 15-10 14-13 14-18 15-22 14-29 44-116 14-31 14-12 15 11 14 30 44 113 14 28 14 22 15 16 14 12 15 10 14 6 29 9 43 6 72 1 87-5 86-11 73-13 57-15 58-21 43-21 43-27 44-36 43-49 29-41 29-50 29-59 28-69 58-152 29-64 14-22 15-15 14-5 15 5 14 15 15 23 28 63 58 152 29 69 29 59 43 72 43 53 44 40 28 21 29 17 58 27"/>
<path fill="#27ffd8" d="M405 1678l43-12 29-14 29-23 14-18 29-51 44-116 14-31 14-12 15 11 14 30 44 113 28 50 15 16 29 22 43 15 43 6 72 1 87-5 86-11 73-13 57-15 58-21 43-21 43-27 44-36 43-49 29-41 29-50 29-59 86-221 29-64 14-22 15-15 14-5 15 5 14 15 15 23 28 63 87 221 29 59 43 72 43 53 44 40 57 38 58 27 0-2 -58-27 -57-40 -44-40 -43-55 -43-73 -29-61 -87-225 -28-65 -15-24 -14-14 -15-5 -14 5 -15 14 -14 24 -29 65 -86 225 -29 61 -29 51 -29 42 -43 49 -44 37 -43 28 -43 22 -58 21 -57 15 -73 14 -86 11 -87 6 -72-2 -43-6 -43-16 -29-22 -15-17 -28-50 -44-116 -14-30 -15-11 -14 12 -14 31 -44 118 -29 53 -14 18 -29 24 -29 14 -43 12z"/>
<path stroke="#27ffd8" d="M405 1678l43-12 29-14 15-11 14-13 14-18 15-23 14-29 44-117 14-31 14-12 15 11 14 30 44 114 14 29 14 22 15 16 14 13 15 9 14 7 29 9 43 6 72 1 87-5 86-11 73-14 57-15 58-21 43-21 43-28 44-37 43-49 29-41 29-51 29-60 28-69 58-154 29-64 14-23 15-14 14-5 15 5 14 14 15 23 28 64 58 154 29 69 29 61 43 72 43 54 44 40 28 21 29 18 58 27"/>
<path stroke="#31ffce" d="M405 1677l43-12 29-14 15-10 14-14 14-18 15-23 14-30 44-118 14-31 14-12 15 11 14 30 44 116 14 28 14 22 15 17 14 13 15 9 14 7 29 9 43 6 72 2 87-6 86-11 73-14 57-15 58-21 43-22 43-28 44-37 43-49 29-42 29-51 29-61 28-71 58-154 29-65 14-24 15-14 14-5 15 5 14 14 15 24 28 65 58 155 29 70 29 61 43 73 43 55 44 40 28 22 29 18 58 27"/>
<path fill="#3bffc4" d="M405 1677l43-12 29-14 29-24 14-18 29-53 44-118 14-31 14-12 15 11 14 30 44 116 28 50 15 17 29 22 43 16 43 6 72 2 87-6 86-11 73-14 57-15 58-21 43-22 43-28 44-37 43-49 29-42 29-51 29-61 86-225 29-65 14-24 15-14 14-5 15 5 14 14 15 24 28 65 87 225 29 61 43 73 43 55 44 40 57 40 58 27 0-2 -58-28 -57-40 -44-42 -43-56 -43-74 -29-63 -87-230 -28-66 -15-24 -14-15 -15-5 -14 5 -15 15 -14 24 -29 66 -86 230 -29 62 -29 53 -29 43 -43 50 -44 38 -43 28 -43 22 -58 22 -57 16 -73 14 -86 11 -87 6 -72-2 -43-6 -43-16 -29-23 -15-17 -28-52 -44-117 -14-32 -15-11 -14 12 -14 32 -44 121 -29 54 -14 18 -29 25 -29 14 -43 13z"/>
<path stroke="#3bffc4" d="M405 1677l43-12 29-15 15-10 14-14 14-18 15-23 14-30 44-120 14-31 14-13 15 12 14 30 44 117 14 29 14 22 15 17 14 13 15 9 14 8 29 9 43 6 72 1 87-5 86-11 73-14 57-16 58-22 43-21 43-28 44-38 43-50 29-42 29-52 29-61 28-72 58-156 29-66 14-23 15-15 14-5 15 5 14 15 15 23 28 66 58 156 29 72 29 61 43 74 43 55 44 42 28 21 29 18 58 28"/>
<path stroke="#45ffba" d="M405 1677l43-13 29-14 15-11 14-14 14-18 15-24 14-30 44-121 14-32 14-12 15 11 14 32 44 117 14 30 14 22 15 17 14 13 15 10 14 7 29 9 43 6 72 2 87-6 86-11 73-14 57-16 58-22 43-22 43-28 44-38 43-50 29-43 29-53 29-62 28-72 58-158 29-66 14-24 15-15 14-5 15 5 14 15 15 24 28 66 58 158 29 72 29 63 43 74 43 56 44 42 28 22 29 18 58 28"/>
<path fill="#4effb1" d="M405 1677l43-13 29-14 29-25 14-18 29-54 44-121 14-32 14-12 15 11 14 32 44 117 28 52 15 17 29 23 43 16 43 6 72 2 87-6 86-11 73-14 57-16 58-22 43-22 43-28 44-38 43-50 29-43 29-53 29-62 86-230 29-66 14-24 15-15 14-5 15 5 14 15 15 24 28 66 87 230 29 63 43 74 43 56 44 42 57 40 58 28 0-2 -58-29 -57-41 -44-42 -43-57 -43-77 -29-63 -87-235 -28-68 -15-25 -14-15 -15-5 -14 5 -15 15 -14 25 -29 68 -86 235 -29 63 -29 53 -29 44 -43 52 -44 38 -43 30 -43 22 -58 22 -57 16 -73 15 -86 11 -87 6 -72-1 -43-7 -43-17 -29-23 -15-17 -28-53 -44-120 -14-32 -15-12 -14 13 -14 33 -44 123 -29 55 -14 19 -29 25 -29 15 -43 12z"/>
<path stroke="#4effb1" d="M405 1676l43-12 29-15 15-11 14-14 14-18 15-24 14-30 44-122 14-33 14-12 15 11 14 32 44 119 14 29 14 23 15 17 14 13 15 10 14 7 29 10 43 6 72 1 87-5 86-12 73-14 57-16 58-22 43-22 43-29 44-38 43-51 29-44 29-52 29-63 28-73 58-160 29-67 14-24 15-15 14-5 15 5 14 15 15 24 28 67 58 160 29 73 29 63 43 75 43 57 44 42 28 22 29 19 58 28"/>
<path stroke="#58ffa7" d="M405 1676l43-12 29-15 15-11 14-14 14-19 15-24 14-31 44-123 14-33 14-13 15 12 14 32 44 120 14 30 14 23 15 17 14 14 15 9 14 8 29 9 43 7 72 1 87-6 86-11 73-15 57-16 58-22 43-22 43-30 44-38 43-52 29-44 29-53 29-63 28-74 58-161 29-68 14-25 15-15 14-5 15 5 14 15 15 25 28 68 58 161 29 74 29 63 43 77 43 57 44 42 28 23 29 18 58 29"/>
<path fill="#62ff9d" d="M405 1676l43-12 29-15 29-25 14-19 29-55 44-123 14-33 14-13 15 12 14 32 44 120 28 53 15 17 29 23 43 17 43 7 72 1 87-6 86-11 73-15 57-16 58-22 43-22 43-30 44-38 43-52 29-44 29-53 29-63 86-235 29-68 14-25 15-15 14-5 15 5 14 15 15 25 28 68 87 235 29 63 43 77 43 57 44 42 57 41 58 29 0-2 -58-30 -57-41 -44-44 -43-58 -43-78 -29-65 -87-240 -28-69 -15-25 -14-16 -15-5 -14 5 -15 16 -14 25 -29 69 -86 240 -29 65 -29 54 -29 45 -43 53 -44 39 -43 30 -43 23 -58 22 -57 17 -73 15 -86 11 -87 6 -72-1 -43-7 -43-17 -29-23 -15-18 -28-54 -44-123 -14-33 -15-12 -14 13 -14 34 -44 126 -29 56 -14 19 -29 25 -29 16 -43 12z"/>
<path stroke="#62ff9d" d="M405 1676l43-13 29-15 15-11 14-14 14-19 15-24 14-32 44-124 14-33 14-13 15 12 14 32 44 121 14 31 14 23 15 18 14 13 15 10 14 7 29 10 43 6 72 1 87-5 86-12 73-14 57-17 58-22 43-23 43-29 44-39 43-52 29-45 29-53 29-65 28-74 58-163 29-69 14-24 15-16 14-5 15 5 14 16 15 24 28 69 58 163 29 75 29 64 43 77 43 57 44 43 28 23 29 19 58 29"/>
<path stroke="#6cff93" d="M405 1675l43-12 29-16 15-11 14-14 14-19 15-25 14-31 44-126 14-34 14-13 15 12 14 33 44 123 14 30 14 24 15 18 14 13 15 10 14 7 29 10 43 7 72 1 87-6 86-11 73-15 57-17 58-22 43-23 43-30 44-39 43-53 29-45 29-54 29-65 28-75 58-165 29-69 14-25 15-16 14-5 15 5 14 16 15 25 28 69 58 165 29 75 29 65 14 28 29 50 43 58 44 44 28 22 29 19 58 30"/>
<path fill="#76ff89" d="M405 1675l43-12 29-16 29-25 14-19 29-56 44-126 14-34 14-13 15 12 14 33 44 123 28 54 15 18 29 23 43 17 43 7 72 1 87-6 86-11 73-15 57-17 58-22 43-23 43-30 44-39 43-53 29-45 29-54 29-65 86-240 29-69 14-25 15-16 14-5 15 5 14 16 15 25 28 69 87 240 29 65 43 78 43 58 44 44 57 41 58 30 0-3 -58-29 -57-43 -44-44 -43-60 -43-79 -29-66 -87-245 -28-71 -15-25 -14-16 -15-6 -14 6 -15 16 -14 25 -29 70 -86 245 -29 67 -29 55 -29 46 -43 53 -44 41 -43 30 -43 23 -58 23 -57 17 -73 15 -86 12 -87 6 -72-1 -43-7 -43-17 -29-24 -15-18 -28-56 -44-125 -14-33 -15-12 -14 13 -14 34 -44 129 -29 57 -14 19 -29 26 -29 16 -43 13z"/>
<path stroke="#76ff89" d="M405 1675l43-13 29-15 15-11 14-15 14-19 15-25 14-32 44-127 14-34 14-13 15 12 14 33 44 124 14 31 14 24 15 18 14 13 15 10 14 8 29 9 43 7 72 2 87-6 86-12 73-15 57-17 58-23 43-23 43-30 44-39 43-54 29-45 29-55 29-65 28-76 58-167 29-70 14-25 15-16 14-5 15 5 14 16 15 25 28 70 58 167 29 76 29 65 14 29 29 50 43 59 44 44 28 23 29 19 58 30"/>
<path stroke="#80ff80" d="M405 1675l43-13 29-16 15-11 14-15 14-19 15-25 14-32 44-129 14-34 14-13 15 12 14 33 44 125 14 31 14 25 15 18 14 13 15 11 14 7 29 10 43 7 72 1 87-6 86-12 73-15 57-17 58-23 43-23 43-30 44-41 43-53 29-46 29-55 29-67 28-76 58-169 29-70 14-25 15-16 14-6 15 6 14 16 15 25 28 71 58 168 29 77 29 66 14 29 29 50 43 60 44 44 28 23 29 20 58 29"/>
<path fill="#89ff76" d="M405 1675l43-13 29-16 29-26 14-19 29-57 44-129 14-34 14-13 15 12 14 33 44 125 28 56 15 18 29 24 43 17 43 7 72 1 87-6 86-12 73-15 57-17 58-23 43-23 43-30 44-41 43-53 29-46 29-55 29-67 86-245 29-70 14-25 15-16 14-6 15 6 14 16 15 25 28 71 87 245 29 66 43 79 43 60 44 44 57 43 58 29 0-2 -58-30 -57-44 -44-45 -43-61 -43-81 -29-67 -87-250 -28-72 -15-26 -14-16 -15-6 -14 6 -15 16 -14 26 -29 72 -86 250 -29 67 -29 57 -29 46 -43 55 -44 41 -43 31 -43 24 -58 24 -57 17 -73 15 -86 12 -87 6 -72-1 -43-7 -43-18 -29-24 -15-19 -28-56 -44-128 -14-34 -15-12 -14 13 -14 35 -44 131 -29 59 -14 19 -29 27 -29 16 -43 13z"/>
<path stroke="#89ff76" d="M405 1675l43-14 29-15 15-12 14-15 14-19 15-26 14-32 44-130 14-34 14-14 15 13 14 33 44 127 14 31 14 24 15 19 14 14 15 10 14 8 29 9 43 7 72 2 87-6 86-12 73-16 57-17 58-23 43-23 43-31 44-41 43-54 29-46 29-56 29-67 28-77 58-170 29-72 14-25 15-16 14-6 15 6 14 16 15 25 28 72 58 170 29 77 29 67 14 29 29 51 43 60 44 45 28 24 29 19 58 30"/>
<path stroke="#93ff6c" d="M405 1674l43-13 29-16 15-11 14-16 14-19 15-26 14-33 44-131 14-35 14-13 15 12 14 34 44 128 14 32 14 24 15 19 14 14 15 10 14 8 29 10 43 7 72 1 87-6 86-12 73-15 57-17 58-24 43-24 43-31 44-41 43-55 29-46 29-57 29-67 28-78 58-172 29-72 14-26 15-16 14-6 15 6 14 16 15 26 28 72 58 172 29 78 29 67 14 30 29 51 43 61 44 45 28 24 29 20 58 30"/>
<path fill="#9dff62" d="M405 1674l43-13 29-16 29-27 14-19 29-59 44-131 14-35 14-13 15 12 14 34 44 128 28 56 15 19 29 24 43 18 43 7 72 1 87-6 86-12 73-15 57-17 58-24 43-24 43-31 44-41 43-55 29-46 29-57 29-67 86-250 29-72 14-26 15-16 14-6 15 6 14 16 15 26 28 72 87 250 29 67 43 81 43 61 44 45 57 44 58 30 0-2 -58-31 -57-44 -44-46 -43-62 -43-83 -29-69 -87-255 -28-73 -15-26 -14-17 -15-6 -14 6 -15 17 -14 26 -29 73 -86 255 -29 69 -29 58 -29 47 -43 56 -44 42 -43 31 -43 25 -58 24 -57 17 -73 16 -86 12 -87 6 -72-1 -43-7 -43-18 -29-25 -15-19 -28-57 -44-131 -14-34 -15-13 -14 14 -14 35 -44 134 -29 60 -14 20 -29 27 -29 16 -43 14z"/>
<path stroke="#9dff62" d="M405 1674l43-14 29-16 15-11 14-15 14-20 15-26 14-33 44-133 14-35 14-13 15 12 14 34 44 129 14 32 14 25 15 19 14 14 15 11 14 7 29 10 43 7 72 2 87-6 86-13 73-15 57-17 58-24 43-24 43-31 44-42 43-55 29-47 29-57 29-69 28-78 58-174 29-73 14-26 15-16 14-6 15 6 14 16 15 26 28 73 58 174 29 79 29 68 14 30 29 52 43 61 44 45 28 24 29 20 58 31"/>
<path stroke="#a7ff58" d="M405 1674l43-14 29-16 15-12 14-15 14-20 15-26 14-34 44-134 14-35 14-14 15 13 14 34 44 131 14 32 14 25 15 19 14 14 15 11 14 8 29 10 43 7 72 1 87-6 86-12 73-16 57-17 58-24 43-25 43-31 44-42 43-56 29-47 29-58 29-69 28-80 58-175 29-73 14-26 15-17 14-6 15 6 14 17 15 26 28 73 58 176 29 79 29 69 14 30 29 53 43 62 44 46 28 24 29 20 58 31"/>
<path fill="#b1ff4e" d="M405 1674l43-14 29-16 29-27 14-20 29-60 44-134 14-35 14-14 15 13 14 34 44 131 28 57 15 19 29 25 43 18 43 7 72 1 87-6 86-12 73-16 57-17 58-24 43-25 43-31 44-42 43-56 29-47 29-58 29-69 86-255 29-73 14-26 15-17 14-6 15 6 14 17 15 26 28 73 87 255 29 69 43 83 43 62 44 46 57 44 58 31 0-2 -58-32 -57-45 -44-47 -43-63 -43-84 -29-70 -87-260 -28-75 -15-27 -14-17 -15-6 -14 6 -15 17 -14 27 -29 75 -86 260 -29 70 -29 58 -29 49 -43 57 -44 42 -43 33 -43 24 -58 25 -57 18 -73 16 -86 12 -87 6 -72-1 -43-7 -43-19 -29-25 -15-19 -28-59 -44-132 -14-36 -15-13 -14 15 -14 36 -44 136 -29 61 -14 20 -29 28 -29 16 -43 14z"/>
<path stroke="#b1ff4e" d="M405 1673l43-13 29-17 15-12 14-15 14-20 15-27 14-33 44-135 14-36 14-14 15 13 14 34 44 132 14 33 14 25 15 19 14 14 15 11 14 8 29 10 43 7 72 2 87-6 86-13 73-16 57-17 58-25 43-24 43-32 44-42 43-57 29-48 29-58 29-69 28-81 58-176 29-75 14-26 15-17 14-6 15 6 14 17 15 26 28 75 58 176 29 81 29 69 14 31 29 53 43 62 44 47 28 24 29 21 58 31"/>
<path stroke="#baff45" d="M405 1673l43-14 29-16 15-12 14-16 14-20 15-27 14-34 44-136 14-36 14-15 15 13 14 36 44 132 14 33 14 26 15 19 14 15 15 10 14 8 29 11 43 7 72 1 87-6 86-12 73-16 57-18 58-25 43-24 43-33 44-42 43-57 29-49 29-58 29-70 28-82 58-178 29-75 14-27 15-17 14-6 15 6 14 17 15 27 28 75 58 178 29 82 29 70 14 31 29 53 43 63 44 47 28 25 29 20 58 32"/>
<path fill="#c4ff3b" d="M405 1673l43-14 29-16 29-28 14-20 29-61 44-136 14-36 14-15 15 13 14 36 44 132 28 59 15 19 29 25 43 19 43 7 72 1 87-6 86-12 73-16 57-18 58-25 43-24 43-33 44-42 43-57 29-49 29-58 29-70 86-260 29-75 14-27 15-17 14-6 15 6 14 17 15 27 28 75 87 260 29 70 43 84 43 63 44 47 57 45 58 32 0-2 -58-33 -57-46 -44-48 -43-64 -43-85 -29-72 -87-265 -28-76 -15-27 -14-18 -15-5 -14 5 -15 18 -14 27 -29 76 -86 265 -29 71 -29 60 -29 50 -43 58 -44 43 -43 33 -43 25 -58 25 -57 18 -73 16 -86 13 -87 7 -72-2 -43-7 -43-19 -29-26 -15-19 -28-60 -44-135 -14-36 -15-13 -14 14 -14 37 -44 139 -29 62 -14 20 -29 29 -29 16 -43 14z"/>
<path stroke="#c4ff3b" d="M405 1673l43-14 29-17 15-12 14-16 14-20 15-27 14-35 44-137 14-37 14-14 15 13 14 36 44 134 14 33 14 26 15 19 14 15 15 11 14 8 29 10 43 8 72 1 87-6 86-13 73-16 57-18 58-25 43-25 43-32 44-43 43-58 29-49 29-59 29-71 28-82 58-180 29-76 14-27 15-17 14-5 15 5 14 17 15 27 28 76 58 180 29 82 29 71 14 31 29 54 43 64 44 47 28 25 29 21 58 32"/>
<path stroke="#ceff31" d="M405 1672l43-14 29-16 15-13 14-16 14-20 15-28 14-34 44-139 14-37 14-14 15 13 14 36 44 135 14 34 14 26 15 19 14 15 15 11 14 8 29 11 43 7 72 2 87-7 86-13 73-16 57-18 58-25 43-25 43-33 44-43 43-58 29-50 29-60 29-71 28-83 58-182 29-76 14-27 15-18 14-5 15 5 14 18 15 27 28 76 58 182 29 83 29 72 14 31 29 54 43 64 44 48 28 25 29 21 58 33"/>
<path fill="#d8ff27" d="M405 1672l43-14 29-16 29-29 14-20 29-62 44-139 14-37 14-14 15 13 14 36 44 135 28 60 15 19 29 26 43 19 43 7 72 2 87-7 86-13 73-16 57-18 58-25 43-25 43-33 44-43 43-58 29-50 29-60 29-71 86-265 29-76 14-27 15-18 14-5 15 5 14 18 15 27 28 76 87 265 29 72 43 85 43 64 44 48 57 46 58 33 0-2 -58-33 -57-47 -44-49 -43-65 -43-88 -29-73 -87-269 -28-78 -15-28 -14-17 -15-6 -14 6 -15 17 -14 28 -29 78 -86 269 -29 73 -29 61 -29 50 -43 59 -44 45 -43 33 -43 26 -58 25 -57 19 -73 16 -86 13 -87 7 -72-2 -43-7 -43-19 -29-27 -15-20 -28-60 -44-138 -14-37 -15-13 -14 15 -14 37 -44 141 -29 63 -14 22 -29 28 -29 17 -43 15z"/>
<path stroke="#d8ff27" d="M405 1672l43-14 29-17 15-12 14-16 14-22 15-27 14-35 44-140 14-37 14-15 15 14 14 36 44 136 14 34 14 26 15 20 14 15 15 11 14 9 29 10 43 8 72 1 87-6 86-13 73-17 57-18 58-25 43-26 43-33 44-43 43-59 29-50 29-60 29-72 28-84 58-183 29-77 14-28 15-17 14-6 15 6 14 17 15 28 28 77 58 183 29 84 29 72 14 31 29 55 43 65 44 49 28 25 29 21 29 18 29 15"/>
<path stroke="#e2ff1d" d="M405 1672l43-15 29-17 15-12 14-16 14-22 15-27 14-36 44-141 14-37 14-15 15 13 14 37 44 138 14 34 14 26 15 20 14 15 15 12 14 8 29 11 43 7 72 2 87-7 86-13 73-16 57-19 58-25 43-26 43-33 44-45 43-59 29-50 29-61 29-73 28-84 58-185 29-78 14-28 15-17 14-6 15 6 14 17 15 28 28 78 58 185 29 84 29 73 14 32 29 56 43 65 44 49 28 25 29 22 29 17 29 16"/>
<path fill="#ebff14" d="M405 1672l43-15 29-17 29-28 14-22 29-63 44-141 14-37 14-15 15 13 14 37 44 138 28 60 15 20 29 27 43 19 43 7 72 2 87-7 86-13 73-16 57-19 58-25 43-26 43-33 44-45 43-59 29-50 29-61 29-73 86-269 29-78 14-28 15-17 14-6 15 6 14 17 15 28 28 78 87 269 29 73 43 88 43 65 44 49 57 47 58 33 0-3 -58-33 -57-48 -44-50 -43-66 -43-89 -29-74 -87-275 -28-79 -15-28 -14-18 -15-6 -14 6 -15 18 -14 28 -29 79 -86 275 -29 74 -29 62 -29 51 -43 60 -44 45 -43 34 -43 26 -58 26 -57 19 -73 17 -86 13 -87 7 -72-2 -43-7 -43-20 -29-26 -15-21 -28-62 -44-140 -14-37 -15-14 -14 15 -14 38 -44 144 -29 64 -14 22 -29 29 -29 18 -43 14z"/>
<path stroke="#ebff14" d="M405 1672l43-15 29-17 15-13 14-16 14-22 15-28 14-35 44-143 14-38 14-14 15 13 14 37 44 139 14 35 14 26 15 20 14 16 15 11 14 8 29 11 43 8 72 1 87-6 86-14 73-16 57-19 58-26 43-25 43-34 44-45 43-59 29-51 29-62 29-73 28-85 58-187 29-78 14-28 15-18 14-6 15 6 14 18 15 28 28 78 58 187 29 85 29 74 14 32 29 56 14 24 29 42 44 49 28 26 29 21 29 18 29 15"/>
<path stroke="#f5ff0a" d="M405 1671l43-14 29-18 15-12 14-17 14-22 15-28 14-36 44-144 14-38 14-15 15 14 14 37 44 140 14 35 14 27 15 21 14 15 15 11 14 9 29 11 43 7 72 2 87-7 86-13 73-17 57-19 58-26 43-26 43-34 44-45 43-60 29-51 29-62 29-74 28-86 58-189 29-79 14-28 15-18 14-6 15 6 14 18 15 28 28 79 58 189 29 86 29 74 14 32 29 57 14 24 29 42 44 50 28 26 29 22 29 18 29 15"/>
<path fill="#ffff00" d="M405 1671l43-14 29-18 29-29 14-22 29-64 44-144 14-38 14-15 15 14 14 37 44 140 28 62 15 21 29 26 43 20 43 7 72 2 87-7 86-13 73-17 57-19 58-26 43-26 43-34 44-45 43-60 29-51 29-62 29-74 86-275 29-79 14-28 15-18 14-6 15 6 14 18 15 28 28 79 87 275 29 74 43 89 43 66 44 50 57 48 58 33 0-2 -58-34 -57-49 -44-50 -43-68 -43-90 -29-76 -87-279 -28-81 -15-29 -14-18 -15-6 -14 6 -15 18 -14 29 -29 81 -86 279 -29 75 -29 64 -29 52 -43 61 -44 46 -43 34 -43 27 -58 26 -57 20 -73 17 -86 13 -87 7 -72-2 -43-7 -43-20 -29-27 -15-21 -28-63 -44-143 -14-38 -15-14 -14 16 -14 39 -44 146 -29 65 -14 22 -29 30 -29 18 -43 15z"/>
<path stroke="#ffff00" d="M405 1671l43-15 29-17 15-13 14-17 14-22 15-28 14-36 44-146 14-38 14-15 15 14 14 37 44 142 14 35 14 27 15 21 14 15 15 12 14 8 29 11 43 8 72 1 87-6 86-14 73-17 57-19 58-26 43-26 43-34 44-46 43-61 29-51 29-63 29-75 28-86 58-190 29-80 14-29 15-18 14-6 15 6 14 18 15 29 28 80 58 190 29 86 29 75 14 33 29 57 14 25 29 42 44 50 28 27 29 21 29 19 29 15"/>
<path stroke="#fff500" d="M405 1671l43-15 29-18 15-13 14-17 14-22 15-28 14-37 44-146 14-39 14-16 15 14 14 38 44 143 14 35 14 28 15 21 14 15 15 12 14 9 29 11 43 7 72 2 87-7 86-13 73-17 57-20 58-26 43-27 43-34 44-46 43-61 29-52 29-64 29-75 28-87 58-192 29-81 14-29 15-18 14-6 15 6 14 18 15 29 28 81 58 192 29 87 29 76 14 33 29 57 14 25 29 43 44 50 28 27 29 22 29 19 29 15"/>
<path fill="#ffeb00" d="M405 1671l43-15 29-18 29-30 14-22 29-65 44-146 14-39 14-16 15 14 14 38 44 143 28 63 15 21 29 27 43 20 43 7 72 2 87-7 86-13 73-17 57-20 58-26 43-27 43-34 44-46 43-61 29-52 29-64 29-75 86-279 29-81 14-29 15-18 14-6 15 6 14 18 15 29 28 81 87 279 29 76 43 90 43 68 44 50 57 49 58 34 0-2 -58-35 -57-49 -44-52 -43-69 -43-92 -29-76 -87-285 -28-82 -15-29 -14-19 -15-6 -14 6 -15 19 -14 29 -29 82 -86 284 -29 77 -29 64 -29 53 -43 63 -44 46 -43 36 -43 27 -58 26 -57 20 -73 17 -86 14 -87 7 -72-2 -43-7 -43-21 -29-27 -15-21 -28-64 -44-146 -14-38 -15-14 -14 15 -14 40 -44 149 -29 66 -14 23 -29 30 -29 18 -43 15z"/>
<path stroke="#ffeb00" d="M405 1670l43-15 29-18 15-13 14-17 14-22 15-29 14-37 44-147 14-40 14-15 15 14 14 38 44 144 14 36 14 28 15 21 14 15 15 12 14 9 29 11 43 8 72 1 87-6 86-14 73-17 57-20 58-26 43-27 43-35 44-46 43-62 29-53 29-63 29-76 28-88 58-194 29-81 14-29 15-19 14-6 15 6 14 19 15 29 28 81 58 194 29 88 29 76 14 33 29 58 14 25 29 44 44 51 28 26 29 23 29 18 29 16"/>
<path stroke="#ffe200" d="M405 1670l43-15 29-18 15-13 14-17 14-23 15-29 14-37 44-149 14-40 14-15 15 14 14 38 44 146 14 36 14 28 15 21 14 16 15 11 14 9 29 12 43 7 72 2 87-7 86-14 73-17 57-20 58-26 43-27 43-36 44-46 43-63 29-53 29-64 29-77 28-89 58-195 29-82 14-29 15-19 14-6 15 6 14 19 15 29 28 82 58 196 29 89 29 76 14 34 29 58 14 26 29 43 44 52 28 27 29 22 29 19 29 16"/>
<path fill="#ffd800" d="M405 1670l43-15 29-18 29-30 14-23 29-66 44-149 14-40 14-15 15 14 14 38 44 146 28 64 15 21 29 27 43 21 43 7 72 2 87-7 86-14 73-17 57-20 58-26 43-27 43-36 44-46 43-63 29-53 29-64 29-77 86-284 29-82 14-29 15-19 14-6 15 6 14 19 15 29 28 82 87 285 29 76 43 92 43 69 44 52 57 49 58 35 0-2 -58-36 -57-50 -44-52 -43-70 -43-94 -29-78 -87-289 -28-84 -15-29 -14-19 -15-7 -14 7 -15 18 -14 30 -29 84 -86 289 -29 78 -29 65 -29 54 -43 64 -44 47 -43 36 -43 27 -58 28 -57 19 -73 18 -86 14 -87 7 -72-1 -43-8 -43-21 -29-28 -15-22 -28-65 -44-148 -14-39 -15-14 -14 16 -14 40 -44 152 -29 67 -14 23 -29 31 -29 18 -43 15z"/>
<path stroke="#ffd800" d="M405 1670l43-16 29-18 15-13 14-17 14-23 15-29 14-38 44-150 14-40 14-16 15 15 14 38 44 147 14 36 14 29 15 21 14 16 15 12 14 9 29 11 43 8 72 2 87-7 86-14 73-18 57-20 58-27 43-27 43-35 44-47 43-63 29-54 29-65 29-77 28-90 58-197 29-82 14-30 15-18 14-7 15 7 14 18 15 30 28 83 58 197 29 89 29 78 14 34 29 59 14 25 29 44 44 52 28 27 29 23 29 19 29 16"/>
<path stroke="#ffce00" d="M405 1669l43-15 29-18 15-14 14-17 14-23 15-30 14-37 44-152 14-40 14-16 15 14 14 39 44 148 14 37 14 28 15 22 14 16 15 12 14 9 29 12 43 8 72 1 87-7 86-14 73-18 57-19 58-28 43-27 43-36 44-47 43-64 29-54 29-65 29-78 28-91 58-198 29-84 14-30 15-18 14-7 15 7 14 19 15 29 28 84 58 198 29 91 29 78 14 34 29 60 14 25 29 45 44 52 28 28 29 22 29 20 29 16"/>
<path fill="#ffc400" d="M405 1669l43-15 29-18 29-31 14-23 29-67 44-152 14-40 14-16 15 14 14 39 44 148 28 65 15 22 29 28 43 21 43 8 72 1 87-7 86-14 73-18 57-19 58-28 43-27 43-36 44-47 43-64 29-54 29-65 29-78 86-289 29-84 14-30 15-18 14-7 15 7 14 19 15 29 28 84 87 289 29 78 43 94 43 70 44 52 57 50 58 36 0-2 -58-36 -57-51 -44-54 -43-71 -43-95 -29-80 -87-294 -28-85 -15-30 -14-19 -15-7 -14 7 -15 19 -14 30 -29 85 -86 294 -29 79 -29 67 -29 55 -43 64 -44 49 -43 36 -43 28 -58 28 -57 20 -73 18 -86 14 -87 7 -72-1 -43-8 -43-21 -29-29 -15-22 -28-66 -44-150 -14-40 -15-15 -14 16 -14 41 -44 154 -29 69 -14 23 -29 31 -29 19 -43 16z"/>
<path stroke="#ffc400" d="M405 1669l43-15 29-19 15-13 14-18 14-23 15-30 14-38 44-153 14-41 14-15 15 14 14 40 44 149 14 37 14 28 15 22 14 16 15 12 14 9 29 12 43 8 29 2 43 0 87-7 86-14 73-18 57-20 58-28 43-28 43-36 44-48 43-64 29-54 29-66 29-79 28-91 58-200 29-84 14-30 15-19 14-7 15 7 14 19 15 30 28 84 58 200 29 92 29 78 14 35 29 60 14 26 29 45 44 52 28 28 29 23 29 19 29 17"/>
<path stroke="#ffba00" d="M405 1669l43-16 29-19 15-13 14-18 14-23 15-30 14-39 44-154 14-41 14-16 15 15 14 40 44 150 14 37 14 29 15 22 14 16 15 13 14 9 29 12 43 8 29 2 43-1 87-7 86-14 73-18 57-20 58-28 43-28 43-36 44-49 43-64 29-55 29-67 29-79 28-92 58-202 29-85 14-30 15-19 14-7 15 7 14 19 15 30 28 85 58 202 29 92 29 80 14 34 29 61 14 26 29 45 44 54 28 27 29 24 29 19 29 17"/>
<path fill="#ffb100" d="M405 1669l43-16 29-19 29-31 14-23 29-69 44-154 14-41 14-16 15 15 14 40 44 150 28 66 15 22 29 29 43 21 43 8 72 1 87-7 86-14 73-18 57-20 58-28 43-28 43-36 44-49 43-64 29-55 29-67 29-79 86-294 29-85 14-30 15-19 14-7 15 7 14 19 15 30 28 85 87 294 29 80 43 95 43 71 44 54 57 51 58 36 0-3 -58-36 -57-52 -44-54 -43-73 -43-97 -29-80 -87-299 -28-87 -15-30 -14-20 -15-7 -14 7 -15 20 -14 30 -29 87 -86 298 -29 81 -29 68 -29 56 -43 65 -44 49 -43 37 -43 29 -58 28 -57 20 -73 19 -86 14 -87 7 -72-1 -43-8 -43-22 -29-29 -15-22 -28-67 -44-153 -14-41 -15-15 -14 17 -14 41 -44 157 -29 70 -14 24 -29 31 -29 19 -43 16z"/>
<path stroke="#ffb100" d="M405 1669l43-16 29-19 15-14 14-18 14-23 15-30 14-39 44-156 14-41 14-16 15 15 14 40 44 151 14 38 14 29 15 22 14 17 15 12 14 9 29 12 43 8 29 2 43 0 87-7 86-15 73-18 57-20 58-28 43-28 43-37 44-49 43-65 29-55 29-67 29-80 28-93 58-204 29-85 14-31 15-19 14-7 15 7 14 19 15 31 28 85 58 204 29 93 29 80 14 35 29 61 14 26 29 46 44 54 28 28 29 23 29 20 29 16"/>
<path stroke="#ffa700" d="M405 1668l43-16 29-19 15-13 14-18 14-24 15-31 14-39 44-157 14-41 14-17 15 15 14 41 44 153 14 38 14 29 15 22 14 17 15 12 14 10 29 12 43 8 29 2 43-1 87-7 86-14 73-19 57-20 58-28 43-29 43-37 44-49 29-41 14-24 29-56 29-68 29-81 28-93 58-205 29-87 14-30 15-20 14-7 15 7 14 20 15 30 28 87 58 205 29 94 29 80 14 36 29 61 14 27 29 46 44 54 28 28 29 24 29 20 29 16"/>
<path fill="#ff9d00" d="M405 1668l43-16 29-19 29-31 14-24 29-70 44-157 14-41 14-17 15 15 14 41 44 153 28 67 15 22 29 29 43 22 43 8 72 1 87-7 86-14 73-19 57-20 58-28 43-29 43-37 44-49 43-65 29-56 29-68 29-81 86-298 29-87 14-30 15-20 14-7 15 7 14 20 15 30 28 87 87 299 29 80 43 97 43 73 44 54 57 52 58 36 0-2 -58-37 -57-53 -44-55 -43-73 -43-99 -29-82 -87-304 -28-88 -15-31 -14-20 -15-6 -14 6 -15 20 -14 31 -29 88 -86 304 -29 82 -29 69 -29 56 -43 67 -44 50 -43 37 -43 29 -58 29 -57 21 -73 18 -86 15 -87 8 -72-2 -43-9 -43-21 -29-30 -15-22 -28-69 -44-155 -14-41 -15-15 -14 16 -14 43 -44 159 -29 71 -14 24 -29 32 -29 19 -43 17z"/>
<path stroke="#ff9d00" d="M405 1668l43-16 29-19 15-14 14-18 14-24 15-31 14-40 44-158 14-42 14-16 15 15 14 41 44 154 14 38 14 30 15 22 14 17 15 13 14 9 29 12 43 8 29 2 43 0 87-7 86-15 73-18 57-21 58-29 43-28 43-37 44-50 29-42 14-24 29-56 29-69 29-81 28-94 58-207 29-87 14-31 15-20 14-7 15 7 14 20 15 31 28 87 58 207 29 94 29 82 14 35 29 62 14 27 29 47 44 54 28 29 29 23 29 20 29 17"/>
<path stroke="#ff9300" d="M405 1668l43-17 29-19 15-14 14-18 14-24 15-31 14-40 44-159 14-43 14-16 15 15 14 41 44 155 14 39 14 30 15 22 14 17 15 13 14 9 29 12 43 9 29 2 43 0 87-8 86-15 73-18 57-21 58-29 43-29 43-37 44-50 29-42 14-25 29-56 29-69 29-82 28-95 58-209 29-88 14-31 15-20 14-6 15 6 14 20 15 31 28 88 58 209 29 95 29 82 14 36 29 63 14 27 29 46 44 55 28 29 29 24 29 20 29 17"/>
<path fill="#ff8900" d="M405 1668l43-17 29-19 29-32 14-24 29-71 44-159 14-43 14-16 15 15 14 41 44 155 28 69 15 22 29 30 43 21 43 9 72 2 87-8 86-15 73-18 57-21 58-29 43-29 43-37 44-50 43-67 29-56 29-69 29-82 86-304 29-88 14-31 15-20 14-6 15 6 14 20 15 31 28 88 87 304 29 82 43 99 43 73 44 55 57 53 58 37 0-2 -58-38 -57-53 -44-56 -43-75 -43-100 -29-84 -87-308 -28-89 -15-32 -14-20 -15-7 -14 7 -15 20 -14 31 -29 90 -86 308 -29 84 -29 69 -29 58 -43 68 -44 50 -43 39 -43 29 -58 29 -57 21 -73 19 -86 15 -87 8 -72-2 -43-9 -29-12 -14-9 -29-30 -15-23 -28-70 -44-158 -14-42 -15-15 -14 17 -14 43 -44 162 -29 72 -14 24 -29 33 -29 20 -43 16z"/>
<path stroke="#ff8900" d="M405 1667l43-16 29-19 15-15 14-18 14-24 15-32 14-40 44-160 14-43 14-17 15 16 14 41 44 157 14 39 14 30 15 22 14 18 15 12 14 10 29 12 43 8 29 2 43 0 87-7 86-15 73-19 57-21 58-29 43-29 43-38 44-50 29-43 14-24 29-58 29-69 29-82 28-96 58-211 29-88 14-32 15-20 14-6 15 6 14 20 15 32 28 88 58 211 29 96 29 82 14 37 29 63 14 27 29 47 44 55 28 29 29 25 29 20 29 17"/>
<path stroke="#ff8000" d="M405 1667l43-16 29-20 15-14 14-19 14-24 15-32 14-40 44-162 14-43 14-17 15 15 14 42 44 158 14 39 14 31 15 23 14 17 15 13 14 9 29 12 43 9 29 2 43 0 87-8 86-15 73-19 57-21 58-29 43-29 43-39 44-50 29-43 14-25 29-58 29-69 29-84 28-96 58-212 29-90 14-31 15-20 14-7 15 7 14 20 15 32 28 89 58 212 29 96 29 84 14 36 29 64 14 27 29 48 44 56 28 29 29 24 29 21 29 17"/>
<path fill="#ff7600" d="M405 1667l43-16 29-20 29-33 14-24 29-72 44-162 14-43 14-17 15 15 14 42 44 158 28 70 15 23 29 30 14 9 29 12 43 9 72 2 87-8 86-15 73-19 57-21 58-29 43-29 43-39 44-50 43-68 29-58 29-69 29-84 86-308 29-90 14-31 15-20 14-7 15 7 14 20 15 32 28 89 87 308 29 84 43 100 43 75 44 56 57 53 58 38 0-2 -58-39 -57-54 -44-57 -43-76 -43-102 -29-84 -87-314 -28-90 -15-33 -14-20 -15-7 -14 7 -15 20 -14 33 -29 90 -86 314 -29 84 -29 71 -29 59 -43 69 -44 51 -43 39 -43 30 -58 29 -57 22 -73 19 -86 15 -87 8 -72-2 -43-9 -29-12 -14-10 -29-30 -15-24 -28-70 -44-161 -14-42 -15-16 -14 17 -14 44 -44 164 -29 74 -14 24 -29 34 -29 20 -43 16z"/>
<path stroke="#ff7600" d="M405 1667l43-17 29-20 15-14 14-19 14-24 15-32 14-41 44-163 14-44 14-16 15 15 14 42 44 159 14 40 14 30 15 24 14 17 15 13 14 9 29 13 43 9 29 1 43 0 87-7 86-15 73-19 57-22 58-29 43-30 43-38 44-51 29-44 14-25 29-58 29-70 29-84 28-97 58-214 29-90 14-32 15-20 14-7 15 7 14 20 15 32 28 90 58 214 29 97 29 84 14 37 29 64 14 28 29 47 44 57 28 29 29 25 29 20 29 18"/>
<path stroke="#ff6c00" d="M405 1666l43-16 29-20 15-15 14-19 14-24 15-33 14-41 44-164 14-44 14-17 15 16 14 42 44 161 14 39 14 31 15 24 14 17 15 13 14 10 29 12 43 9 29 2 43 0 87-8 86-15 73-19 57-22 58-29 43-30 43-39 44-51 29-44 14-25 29-59 29-71 29-84 28-99 58-215 29-90 14-33 15-20 14-7 15 7 14 20 15 33 28 90 58 216 29 98 29 84 14 38 29 64 14 28 29 48 44 57 28 30 29 24 29 21 29 18"/>
<path fill="#ff6200" d="M405 1666l43-16 29-20 29-34 14-24 29-74 44-164 14-44 14-17 15 16 14 42 44 161 28 70 15 24 29 30 14 10 29 12 43 9 72 2 87-8 86-15 73-19 57-22 58-29 43-30 43-39 44-51 43-69 29-59 29-71 29-84 86-314 29-90 14-33 15-20 14-7 15 7 14 20 15 33 28 90 87 314 29 84 43 102 43 76 44 57 57 54 58 39 0-2 -58-39 -57-56 -44-57 -43-78 -43-103 -29-86 -87-318 -28-92 -15-33 -14-21 -15-7 -14 7 -15 21 -14 33 -29 92 -86 318 -29 86 -29 72 -29 59 -43 70 -44 53 -43 39 -43 30 -58 30 -57 22 -73 20 -86 15 -87 8 -72-2 -43-9 -29-12 -14-10 -29-31 -15-24 -28-72 -44-163 -14-43 -15-16 -14 18 -14 44 -44 167 -29 75 -14 25 -29 34 -29 20 -43 17z"/>
<path stroke="#ff6200" d="M405 1666l29-10 14-7 29-20 15-14 14-19 14-25 15-33 14-41 44-166 14-44 14-17 15 16 14 42 44 162 14 40 14 31 15 24 14 17 15 13 14 10 29 13 43 9 29 2 43-1 87-7 86-16 73-19 57-22 58-30 43-30 43-39 44-52 29-44 14-25 29-59 29-71 29-86 28-99 58-217 29-91 14-32 15-21 14-7 15 7 14 21 15 32 28 91 58 218 29 98 29 86 14 37 29 65 14 28 29 49 44 57 28 30 29 25 29 21 29 18"/>
<path stroke="#ff5800" d="M405 1666l29-10 14-7 29-20 15-15 14-19 14-25 15-33 14-42 44-167 14-44 14-18 15 16 14 43 44 163 14 41 14 31 15 24 14 18 15 13 14 10 29 12 43 9 29 2 43 0 87-8 86-15 73-20 57-22 58-30 43-30 43-39 44-53 29-44 14-26 29-59 29-72 29-86 28-100 58-218 29-92 14-33 15-21 14-7 15 7 14 21 15 33 28 92 58 218 29 100 29 86 14 38 29 65 14 29 29 49 44 57 28 31 29 25 29 21 29 18"/>
<path fill="#ff4e00" d="M405 1666l43-17 29-20 29-34 14-25 29-75 44-167 14-44 14-18 15 16 14 43 44 163 28 72 15 24 29 31 14 10 29 12 43 9 72 2 87-8 86-15 73-20 57-22 58-30 43-30 43-39 44-53 43-70 29-59 29-72 29-86 86-318 29-92 14-33 15-21 14-7 15 7 14 21 15 33 28 92 87 318 29 86 43 103 43 78 44 57 57 56 58 39 0-3 -58-39 -57-56 -44-59 -43-78 -43-105 -29-87 -87-324 -28-93 -15-34 -14-21 -15-7 -14 7 -15 21 -14 34 -29 93 -86 323 -29 88 -29 73 -29 60 -43 71 -44 53 -43 40 -43 31 -58 30 -57 23 -73 20 -86 15 -87 8 -72-2 -43-9 -29-13 -14-10 -29-31 -15-24 -28-73 -44-165 -14-44 -15-16 -14 17 -14 45 -44 170 -29 76 -14 25 -29 34 -29 21 -43 17z"/>
<path stroke="#ff4e00" d="M405 1666l29-11 14-7 29-20 15-15 14-19 14-25 15-33 14-42 44-169 14-44 14-18 15 16 14 44 44 164 14 40 14 32 15 24 14 18 15 13 14 10 29 13 43 9 29 2 43-1 87-7 86-16 73-20 57-22 58-30 43-30 43-40 44-53 29-44 14-26 29-60 29-73 29-86 28-101 58-220 29-93 14-33 15-21 14-7 15 7 14 21 15 33 28 93 58 220 29 101 29 86 14 38 29 67 14 28 29 49 44 58 28 31 29 25 29 22 29 18"/>
<path stroke="#ff4500" d="M405 1665l29-10 14-7 29-21 15-14 14-20 14-25 15-34 14-42 44-170 14-45 14-17 15 16 14 44 44 165 14 41 14 32 15 24 14 18 15 13 14 10 29 13 43 9 29 2 43 0 87-8 86-15 73-20 57-23 58-30 43-31 43-40 44-53 29-45 14-26 29-60 29-73 29-88 28-101 58-222 29-93 14-34 15-21 14-7 15 7 14 21 15 34 28 93 58 222 29 102 29 87 14 38 29 67 14 28 29 50 44 59 28 30 29 26 29 21 29 18"/>
<path fill="#ff3b00" d="M405 1665l43-17 29-21 29-34 14-25 29-76 44-170 14-45 14-17 15 16 14 44 44 165 28 73 15 24 29 31 14 10 29 13 43 9 72 2 87-8 86-15 73-20 57-23 58-30 43-31 43-40 44-53 43-71 29-60 29-73 29-88 86-323 29-93 14-34 15-21 14-7 15 7 14 21 15 34 28 93 87 324 29 87 43 105 43 78 44 59 57 56 58 39 0-2 -58-40 -57-57 -44-59 -43-80 -43-106 -29-89 -87-328 -28-95 -15-34 -14-21 -15-8 -14 7 -15 22 -14 34 -29 94 -86 329 -29 88 -29 75 -29 61 -43 72 -44 54 -43 40 -43 32 -58 31 -57 22 -73 20 -86 16 -87 8 -72-2 -43-9 -29-13 -14-10 -29-32 -15-24 -28-74 -44-168 -14-45 -15-16 -14 18 -14 46 -44 172 -29 76 -14 26 -29 35 -29 21 -43 18z"/>
<path stroke="#ff3b00" d="M405 1665l29-10 14-7 29-21 15-15 14-20 14-26 15-33 14-43 44-171 14-45 14-18 15 17 14 44 44 166 14 42 14 32 15 24 14 18 15 14 14 10 29 13 43 9 29 2 43 0 87-8 86-16 73-20 57-22 58-31 43-31 43-41 44-53 29-45 14-27 29-60 29-74 29-88 28-102 58-224 29-94 14-33 15-22 14-7 15 7 14 22 15 33 28 94 58 224 29 102 29 88 14 39 29 67 14 29 29 50 44 59 28 31 29 26 29 21 29 18"/>
<path stroke="#ff3100" d="M405 1665l29-11 14-7 29-21 15-15 14-20 14-26 15-33 14-43 44-172 14-46 14-18 15 16 14 45 44 168 14 41 14 33 15 24 14 18 15 14 14 10 29 13 43 9 29 2 43 0 87-8 86-16 73-20 57-22 58-31 43-32 43-40 44-54 29-46 14-26 29-61 29-75 29-88 28-103 58-226 29-94 14-34 15-22 14-7 15 8 14 21 15 34 28 95 58 225 29 103 29 89 14 38 29 68 14 29 29 51 44 59 28 31 29 26 29 22 29 18"/>
<path fill="#ff2700" d="M405 1665l43-18 29-21 29-35 14-26 29-76 44-172 14-46 14-18 15 16 14 45 44 168 28 74 15 24 29 32 14 10 29 13 43 9 72 2 87-8 86-16 73-20 57-22 58-31 43-32 43-40 44-54 43-72 29-61 29-75 29-88 86-329 29-94 14-34 15-22 14-7 15 8 14 21 15 34 28 95 87 328 29 89 43 106 43 80 44 59 57 57 58 40 0-2 -58-41 -57-58 -44-60 -43-81 -43-108 -29-90 -87-333 -28-96 -15-35 -14-21 -15-8 -14 8 -15 21 -14 35 -29 96 -86 333 -29 90 -29 75 -29 63 -43 73 -44 54 -43 42 -43 31 -58 32 -57 23 -73 20 -86 16 -87 8 -72-2 -43-9 -29-13 -14-10 -29-33 -15-25 -28-75 -44-170 -14-45 -15-17 -14 18 -14 47 -44 174 -29 78 -14 27 -29 35 -29 21 -43 18z"/>
<path stroke="#ff2700" d="M405 1664l29-10 14-7 29-21 15-16 14-20 14-26 15-34 14-43 44-173 14-46 14-18 15 16 14 45 44 169 14 42 14 32 15 25 14 19 15 13 14 11 29 13 43 9 29 2 43 0 87-8 86-16 73-21 57-22 58-32 43-31 43-41 44-54 29-46 14-27 29-62 29-74 29-90 28-103 58-227 29-96 14-34 15-21 14-8 15 8 14 21 15 34 28 96 58 227 29 104 29 89 14 39 29 68 14 30 29 50 44 60 28 32 29 26 29 22 29 18"/>
<path stroke="#ff1d00" d="M405 1664l29-10 14-8 29-21 15-15 14-20 14-27 15-34 14-44 44-174 14-47 14-18 15 17 14 45 44 170 14 43 14 32 15 25 14 19 15 14 14 10 29 13 43 9 29 3 43-1 87-8 86-16 73-20 57-23 58-32 43-31 43-42 44-54 29-47 14-26 29-63 29-75 29-90 28-104 58-229 29-96 14-35 15-21 14-8 15 8 14 21 15 35 28 96 58 229 29 104 29 90 14 40 29 68 14 30 29 51 44 60 28 32 29 26 29 22 29 19"/>
<path fill="#ff1400" d="M405 1664l43-18 29-21 29-35 14-27 29-78 44-174 14-47 14-18 15 17 14 45 44 170 28 75 15 25 29 33 14 10 29 13 43 9 72 2 87-8 86-16 73-20 57-23 58-32 43-31 43-42 44-54 43-73 29-63 29-75 29-90 86-333 29-96 14-35 15-21 14-8 15 8 14 21 15 35 28 96 87 333 29 90 43 108 43 81 44 60 57 58 58 41 0-2 -58-41 -57-59 -44-61 -43-82 -43-110 -29-91 -87-339 -28-97 -15-35 -14-22 -15-8 -14 8 -15 22 -14 35 -29 97 -86 338 -29 92 -29 76 -29 63 -43 74 -44 56 -43 42 -43 32 -58 32 -57 23 -73 21 -86 16 -87 8 -72-1 -43-10 -29-13 -14-11 -29-33 -15-25 -28-76 -44-173 -14-46 -15-16 -14 18 -14 47 -44 177 -29 79 -14 27 -29 36 -29 21 -43 18z"/>
<path stroke="#ff1400" d="M405 1664l29-11 14-7 29-21 15-16 14-20 14-27 15-34 14-44 44-176 14-47 14-18 15 17 14 45 44 172 14 42 14 33 15 25 14 19 15 14 14 10 29 14 43 9 29 2 43 0 87-8 86-17 73-20 57-23 58-32 43-32 43-41 44-55 29-47 14-27 29-63 29-76 29-90 28-105 58-231 29-97 14-34 15-22 14-8 15 8 14 22 15 34 28 97 58 231 29 105 29 91 14 39 29 69 14 30 29 52 44 61 28 31 29 27 29 22 29 19"/>
<path stroke="#ff0a00" d="M405 1663l29-10 14-8 29-21 15-16 14-20 14-27 15-34 14-45 44-177 14-47 14-18 15 16 14 46 44 173 14 43 14 33 15 25 14 19 15 14 14 11 29 13 43 10 29 2 43-1 87-8 86-16 73-21 57-23 58-32 43-32 43-42 44-56 29-47 14-27 29-63 29-76 29-92 28-105 58-233 29-97 14-35 15-22 14-8 15 8 14 22 15 35 28 97 58 233 29 106 29 91 14 40 29 70 14 30 29 52 44 61 28 32 29 27 29 22 29 19"/>
<path fill="#ff0000" d="M405 1663l43-18 29-21 29-36 14-27 29-79 44-177 14-47 14-18 15 16 14 46 44 173 28 76 15 25 29 33 14 11 29 13 43 10 72 1 87-8 86-16 73-21 57-23 58-32 43-32 43-42 44-56 43-74 29-63 29-76 29-92 86-338 29-97 14-35 15-22 14-8 15 8 14 22 15 35 28 97 87 339 29 91 43 110 43 82 44 61 57 59 58 41 0-2 -58-42 -57-60 -44-62 -43-83 -43-111 -29-93 -87-343 -28-99 -15-35 -14-23 -15-7 -14 7 -15 23 -14 35 -29 99 -86 343 -29 92 -29 78 -29 64 -43 75 -44 57 -43 42 -43 33 -58 32 -57 24 -73 21 -86 16 -87 8 -72-1 -43-10 -29-14 -14-10 -29-34 -15-25 -28-77 -44-176 -14-46 -15-17 -14 18 -14 48 -44 180 -29 80 -14 27 -29 37 -29 21 -43 19z"/>
<path stroke="#ff0000" d="M405 1663l29-11 14-7 29-22 15-15 14-21 14-27 15-35 14-44 44-179 14-47 14-19 15 17 14 46 44 174 14 44 14 33 15 25 14 19 15 15 14 10 29 14 43 9 29 2 43 0 87-8 86-17 73-21 57-23 58-32 43-33 43-42 44-56 29-47 14-27 29-64 29-77 29-92 28-106 58-234 29-99 14-35 15-22 14-8 15 8 14 22 15 35 28 99 58 234 29 106 29 92 14 41 29 70 14 30 29 52 44 62 28 32 29 27 29 23 29 19"/>
<path stroke="#f50000" d="M405 1663l29-11 14-8 29-21 15-16 14-21 14-27 15-35 14-45 44-180 14-48 14-18 15 17 14 46 44 176 14 43 14 34 15 25 14 20 15 14 14 10 29 14 43 10 29 2 43-1 87-8 86-16 73-21 57-24 58-32 43-33 43-42 44-57 29-47 14-28 29-64 29-78 29-92 28-108 58-235 29-99 14-35 15-23 14-7 15 7 14 23 15 35 28 99 58 236 29 107 29 93 14 40 29 71 14 30 29 53 44 62 28 33 29 27 29 22 29 20"/>
<path fill="#eb0000" d="M405 1663l43-19 29-21 29-37 14-27 29-80 44-180 14-48 14-18 15 17 14 46 44 176 28 77 15 25 29 34 14 10 29 14 43 10 72 1 87-8 86-16 73-21 57-24 58-32 43-33 43-42 44-57 43-75 29-64 29-78 29-92 86-343 29-99 14-35 15-23 14-7 15 7 14 23 15 35 28 99 87 343 29 93 43 111 43 83 44 62 57 60 58 42 0-3 -58-42 -57-61 -44-63 -43-84 -43-113 -29-94 -87-348 -28-100 -15-36 -14-23 -15-7 -14 7 -15 23 -14 36 -29 100 -86 348 -29 94 -29 79 -29 65 -43 76 -44 57 -43 43 -43 33 -58 33 -57 24 -73 21 -86 17 -87 9 -72-2 -43-10 -29-14 -14-11 -29-33 -15-26 -28-79 -44-178 -14-47 -15-17 -14 19 -14 48 -44 183 -29 81 -14 28 -29 37 -29 22 -43 18z"/>
<path stroke="#eb0000" d="M405 1663l29-11 14-8 29-22 15-16 14-21 14-27 15-35 14-46 44-181 14-48 14-19 15 18 14 46 44 177 14 44 14 34 15 26 14 19 15 14 14 11 29 14 43 9 29 2 43 0 87-8 86-17 73-21 57-24 58-33 43-32 43-43 44-57 29-48 14-28 29-64 29-78 29-94 28-108 58-237 29-100 14-35 15-23 14-7 15 7 14 23 15 35 28 100 58 238 29 108 29 93 14 41 29 71 14 31 29 53 44 62 28 33 29 27 29 23 29 20"/>
<path stroke="#e20000" d="M405 1662l29-11 14-7 29-22 15-16 14-21 14-28 15-36 14-45 44-183 14-48 14-19 15 17 14 47 44 178 14 45 14 34 15 26 14 19 15 14 14 11 29 14 43 10 29 2 43 0 87-9 86-17 73-21 57-24 58-33 43-33 43-43 44-57 29-48 14-28 29-65 29-79 29-94 28-109 58-239 29-100 14-36 15-23 14-7 15 7 14 23 15 36 28 100 58 239 29 109 29 94 14 41 29 72 14 31 29 53 44 63 28 33 29 28 29 23 29 19"/>
<path fill="#d80000" d="M405 1662l43-18 29-22 29-37 14-28 29-81 44-183 14-48 14-19 15 17 14 47 44 178 28 79 15 26 29 33 14 11 29 14 43 10 72 2 87-9 86-17 73-21 57-24 58-33 43-33 43-43 44-57 43-76 29-65 29-79 29-94 86-348 29-100 14-36 15-23 14-7 15 7 14 23 15 36 28 100 87 348 29 94 43 113 43 84 44 63 57 61 58 42 0-2 -58-43 -57-61 -44-64 -43-86 -43-114 -29-95 -87-353 -28-102 -15-36 -14-23 -15-8 -14 8 -15 23 -14 36 -29 102 -86 353 -29 95 -29 80 -29 65 -43 78 -44 58 -43 43 -43 34 -58 33 -57 24 -73 22 -86 17 -87 9 -72-2 -43-10 -29-14 -14-11 -29-34 -15-27 -28-79 -44-180 -14-48 -15-18 -14 19 -14 50 -44 185 -29 82 -14 28 -29 37 -29 23 -43 19z"/>
<path stroke="#d80000" d="M405 1662l29-11 14-8 29-22 15-16 14-21 14-28 15-36 14-46 44-184 14-48 14-19 15 17 14 47 44 180 14 44 14 35 15 26 14 19 15 15 14 11 29 14 43 9 29 2 43 0 87-8 86-17 73-22 57-24 58-33 43-33 43-44 44-57 29-49 14-28 29-65 29-80 29-94 28-110 58-240 29-102 14-36 15-22 14-8 15 8 14 22 15 37 28 101 58 240 29 110 29 95 14 41 29 72 14 31 29 54 44 64 28 33 29 28 29 23 29 19"/>
<path stroke="#ce0000" d="M405 1662l29-12 14-7 29-23 15-16 14-21 14-28 15-36 14-46 44-185 14-50 14-19 15 18 14 48 44 180 14 45 14 34 15 27 14 19 15 15 14 11 29 14 43 10 29 2 43 0 87-9 86-17 73-22 57-24 58-33 43-34 43-43 44-58 29-49 14-29 29-65 29-80 29-95 28-111 58-242 29-102 14-36 15-23 14-8 15 8 14 23 15 36 28 102 58 242 29 111 29 95 14 42 29 72 14 32 29 54 44 64 28 33 29 28 29 24 29 19"/>
<path fill="#c40000" d="M405 1662l43-19 29-23 29-37 14-28 29-82 44-185 14-50 14-19 15 18 14 48 44 180 28 79 15 27 29 34 14 11 29 14 43 10 72 2 87-9 86-17 73-22 57-24 58-33 43-34 43-43 44-58 43-78 29-65 29-80 29-95 86-353 29-102 14-36 15-23 14-8 15 8 14 23 15 36 28 102 87 353 29 95 43 114 43 86 44 64 57 61 58 43 0-2 -58-44 -57-62 -44-65 -43-86 -43-116 -29-97 -87-358 -28-103 -15-37 -14-23 -15-8 -14 8 -15 23 -14 37 -29 103 -86 358 -29 96 -29 81 -29 67 -43 79 -44 58 -43 45 -43 34 -58 33 -57 25 -73 22 -86 17 -87 9 -72-2 -43-10 -29-14 -14-11 -29-35 -15-27 -28-80 -44-183 -14-49 -15-17 -14 19 -14 50 -44 187 -29 84 -14 28 -29 38 -29 23 -43 19z"/>
<path stroke="#c40000" d="M405 1661l29-11 14-8 29-22 15-17 14-21 14-28 15-36 14-47 44-186 14-50 14-19 15 18 14 48 44 181 14 45 14 35 15 27 14 20 15 14 14 11 29 15 43 9 29 3 43-1 87-8 86-17 73-22 57-25 58-33 43-34 43-44 44-58 29-50 14-28 29-67 29-80 29-96 28-111 58-244 29-102 14-37 15-23 14-8 15 8 14 23 15 37 28 102 58 244 29 111 29 96 14 42 29 74 14 31 29 55 44 64 28 34 29 28 29 23 29 20"/>
<path stroke="#ba0000" d="M405 1661l29-11 14-8 29-23 15-16 14-22 14-28 15-37 14-47 44-187 14-50 14-19 15 17 14 49 44 183 14 45 14 35 15 27 14 20 15 15 14 11 29 14 43 10 29 2 43 0 87-9 86-17 73-22 57-25 58-33 43-34 43-45 44-58 29-50 14-29 29-67 29-81 29-96 28-112 58-246 29-103 14-37 15-23 14-8 15 8 14 23 15 37 28 103 58 246 29 112 29 97 14 42 29 74 14 31 29 55 44 65 28 34 29 28 29 24 29 20"/>
<path fill="#b10000" d="M405 1661l43-19 29-23 29-38 14-28 29-84 44-187 14-50 14-19 15 17 14 49 44 183 28 80 15 27 29 35 14 11 29 14 43 10 72 2 87-9 86-17 73-22 57-25 58-33 43-34 43-45 44-58 43-79 29-67 29-81 29-96 86-358 29-103 14-37 15-23 14-8 15 8 14 23 15 37 28 103 87 358 29 97 43 116 43 86 44 65 57 62 58 44 0-2 -58-44 -57-63 -44-66 -43-88 -43-118 -29-98 -87-362 -28-105 -15-37 -14-24 -15-8 -14 8 -15 24 -14 37 -29 105 -86 362 -29 98 -29 82 -29 68 -43 79 -44 60 -43 45 -43 34 -58 34 -57 25 -73 23 -86 17 -87 9 -72-2 -43-10 -29-14 -14-12 -29-35 -15-27 -28-82 -44-185 -14-49 -15-18 -14 19 -14 51 -44 190 -29 85 -14 28 -29 39 -29 23 -43 19z"/>
<path stroke="#b10000" d="M405 1661l29-12 14-8 29-22 15-17 14-22 14-28 15-37 14-47 44-189 14-50 14-20 15 18 14 49 44 184 14 46 14 35 15 27 14 20 15 15 14 11 29 15 43 9 29 3 43-1 87-8 86-18 73-22 57-25 58-34 43-34 43-44 44-59 29-51 14-29 29-67 29-81 29-97 28-113 58-247 29-104 14-38 15-23 14-8 15 8 14 24 15 37 28 104 58 247 29 113 29 97 14 43 29 74 14 32 29 55 44 65 28 35 29 28 29 24 29 20"/>
<path stroke="#a70000" d="M405 1660l29-11 14-8 29-23 15-17 14-22 14-28 15-37 14-48 44-190 14-51 14-19 15 18 14 49 44 185 14 46 14 36 15 27 14 20 15 15 14 12 29 14 43 10 29 2 43 0 87-9 86-17 73-23 57-25 58-34 43-34 43-45 44-60 29-50 14-29 29-68 29-82 29-98 28-113 58-249 29-105 14-37 15-24 14-8 15 8 14 24 15 37 28 105 58 249 29 113 29 98 14 43 29 75 14 32 29 56 44 66 28 34 29 29 29 24 29 20"/>
<path fill="#9d0000" d="M405 1660l43-19 29-23 29-39 14-28 29-85 44-190 14-51 14-19 15 18 14 49 44 185 28 82 15 27 29 35 14 12 29 14 43 10 72 2 87-9 86-17 73-23 57-25 58-34 43-34 43-45 44-60 43-79 29-68 29-82 29-98 86-362 29-105 14-37 15-24 14-8 15 8 14 24 15 37 28 105 87 362 29 98 43 118 43 88 44 66 57 63 58 44 0-2 -58-45 -57-64 -44-67 -43-89 -43-119 -29-99 -87-368 -28-106 -15-38 -14-24 -15-8 -14 8 -15 24 -14 38 -29 106 -86 368 -29 99 -29 83 -29 69 -43 80 -44 61 -43 45 -43 35 -58 35 -57 25 -73 22 -86 18 -87 9 -72-2 -43-10 -29-15 -14-11 -29-36 -15-27 -28-83 -44-188 -14-50 -15-18 -14 20 -14 51 -44 193 -29 86 -14 29 -29 39 -29 23 -43 20z"/>
<path stroke="#9d0000" d="M405 1660l29-11 14-8 29-24 15-16 14-22 14-29 15-38 14-48 44-191 14-51 14-20 15 19 14 49 44 187 14 46 14 36 15 27 14 20 15 16 14 11 29 14 43 11 29 2 43 0 87-9 86-18 73-22 57-25 29-16 29-19 43-35 43-45 44-60 29-50 14-30 29-68 29-83 29-98 28-114 58-251 29-105 14-38 15-24 14-8 15 8 14 24 15 38 28 105 58 251 29 114 29 99 14 43 29 75 14 33 29 56 44 66 28 34 29 29 29 24 29 21"/>
<path stroke="#930000" d="M405 1660l29-12 14-8 29-23 15-17 14-22 14-29 15-38 14-48 44-193 14-51 14-20 15 18 14 50 44 188 14 47 14 36 15 27 14 21 15 15 14 11 29 15 43 10 29 2 43 0 87-9 86-18 73-22 57-25 29-16 29-19 43-35 43-45 44-61 29-51 14-29 29-69 29-83 29-99 28-115 58-253 29-106 14-38 15-24 14-8 15 8 14 24 15 38 28 106 58 253 29 115 29 99 14 44 29 75 14 33 29 56 44 67 28 35 29 29 29 24 29 21"/>
</g></g>
<path transform="scale(.1)" fill="none" stroke="#000" stroke-width="16.5" stroke-dasharray="54 50" d="M405 1675l29-8 14-5 15-7 14-9 15-11 14-15 14-19 15-25 14-32 15-40 29-89 14-34 14-13 15 12 14 33 29 87 15 38 14 31 14 25 15 18 14 13 15 11 14 7 29 10 43 7 29 1 43 0 87-6 86-12 73-15 57-17 29-10 29-13 43-23 43-30 29-26 15-15 29-34 14-19 29-46 29-55 29-67 28-76 58-169 15-38 14-32 14-25 15-16 14-6 15 6 14 16 15 25 14 32 14 39 58 168 29 77 29 66 14 29 29 50 14 22 29 38 15 16 29 28 28 23 29 20 29 16 29 13"/>
</g>
<g stroke="#262626" stroke-width="0.66" fill="none">
<rect x="270.50" y="43.50" width="173.20" height="127.00"/>
<path d="M313.80 170.50v-1.70M313.80 43.50v1.70M357.10 170.50v-1.70M357.10 43.50v1.70M400.40 170.50v-1.70M400.40 43.50v1.70M270.50 138.75h1.70M443.70 138.75h-1.70M270.50 107.00h1.70M443.70 107.00h-1.70M270.50 75.25h1.70M443.70 75.25h-1.70"/>
</g>
<g clip-path="url(#c1)"><g filter="url(#bl)"><g transform="scale(.1)" fill="none" stroke-linejoin="miter" stroke-miterlimit="8" stroke-width="11.5">
<path stroke="#000093" d="M2705 1693l29-4 29-7 29-13 14-11 14-18 15-27 14-44 15-77 14-131 15-212 14-265 15-139 14 139 14 264 15 212 14 131 15 76 14 44 15 27 14 16 14 11 29 12 29 6 43 4 73 1 86-3 87-5 72-6 101-15 72-19 29-11 29-14 29-18 29-24 29-32 14-21 29-53 14-35 15-42 14-51 15-63 14-75 14-91 15-108 43-369 15-87 14-32 14 32 15 87 43 369 29 199 14 75 15 63 14 51 15 42 14 35 29 53 29 38 29 28 29 21 43 22 43 16 58 14"/>
<path fill="#00009d" d="M2705 1693l58-11 29-13 14-11 14-18 15-27 14-44 15-77 14-131 29-477 15-139 14 139 29 476 14 131 15 76 14 44 15 27 14 16 14 11 29 12 29 6 43 4 159-2 159-11 101-15 72-19 58-25 29-18 29-24 43-53 29-53 29-77 14-51 29-138 14-91 58-477 15-87 14-32 14 32 15 87 43 369 29 199 29 138 29 93 14 35 29 53 29 38 29 28 29 21 43 22 43 16 58 14 0-1 -58-15 -43-17 -43-23 -29-21 -29-28 -29-39 -29-54 -14-35 -29-93 -29-135 -29-190 -43-341 -15-78 -14-29 -14 29 -15 78 -58 443 -14 88 -29 135 -29 93 -29 65 -28 45 -44 46 -29 21 -29 17 -57 22 -72 18 -101 14 -159 11 -145 1 -43-4 -29-6 -29-12 -14-11 -14-17 -15-27 -14-44 -15-74 -14-124 -29-431 -14-120 -15 121 -29 431 -14 125 -15 74 -14 45 -15 27 -14 17 -14 12 -29 13 -58 11z"/>
<path stroke="#00009d" d="M2705 1692l29-4 29-7 29-13 14-11 14-17 15-27 14-45 15-75 14-128 15-204 14-250 15-129 14 129 14 249 15 203 14 128 15 75 14 44 15 27 14 17 14 11 29 12 29 6 43 4 58 1 87-2 86-5 73-6 101-14 72-18 29-9 28-13 29-16 29-21 29-28 15-18 28-45 29-64 15-42 14-51 15-62 14-75 14-89 15-105 43-355 15-82 14-30 14 30 15 82 43 355 29 194 14 75 15 62 14 51 15 42 14 35 29 54 29 38 29 28 29 21 43 23 43 16 58 14"/>
<path stroke="#0000a7" d="M2705 1692l29-4 29-7 29-13 14-12 14-17 15-27 14-45 15-74 14-125 15-196 14-235 15-121 14 120 14 235 15 196 14 124 15 74 14 44 15 27 14 17 14 11 29 12 29 6 43 4 58 1 87-2 86-4 73-7 101-14 72-18 29-10 28-12 29-17 29-21 29-28 15-18 28-45 29-65 15-42 14-51 15-61 14-74 14-88 58-443 15-78 14-29 14 29 15 78 43 341 29 190 14 74 15 61 14 51 15 42 14 35 29 54 29 39 29 28 29 21 43 23 43 17 58 15"/>
<path fill="#0000b1" d="M2705 1692l58-11 29-13 14-12 14-17 15-27 14-45 15-74 14-125 29-431 15-121 14 120 29 431 14 124 15 74 14 44 15 27 14 17 14 11 29 12 29 6 43 4 145-1 159-11 101-14 72-18 57-22 29-17 29-21 44-46 28-45 29-65 29-93 29-135 14-88 58-443 15-78 14-29 14 29 15 78 43 341 29 190 29 135 29 93 14 35 29 54 29 39 29 28 29 21 43 23 43 17 58 15 0-2 -87-26 -43-21 -29-19 -29-25 -29-33 -28-46 -15-30 -29-77 -29-111 -28-157 -58-413 -15-70 -14-25 -14 25 -15 70 -58 413 -14 85 -29 133 -29 92 -29 64 -28 46 -44 47 -29 22 -29 17 -57 23 -72 19 -101 14 -159 12 -145 0 -43-3 -29-7 -29-12 -14-11 -14-17 -15-27 -14-44 -15-72 -14-118 -29-390 -14-104 -15 105 -29 390 -14 119 -15 72 -14 44 -15 28 -14 17 -14 12 -29 13 -58 12z"/>
<path stroke="#0000b1" d="M2705 1692l29-4 29-7 29-14 14-11 14-18 15-27 14-44 15-74 14-122 29-410 15-112 14 112 29 409 14 122 15 73 14 43 15 27 14 17 14 11 29 13 29 6 43 4 58 1 87-2 86-5 73-6 101-15 72-18 29-10 28-13 29-16 29-22 29-28 15-18 28-46 29-65 15-42 14-50 15-61 14-73 14-86 58-428 15-74 14-27 14 27 15 74 43 328 29 186 14 73 15 61 14 50 15 43 14 35 29 54 29 39 29 28 29 22 43 23 43 17 58 15"/>
<path stroke="#0000ba" d="M2705 1692l29-4 29-8 29-13 14-12 14-17 15-28 14-44 15-72 14-119 29-390 15-105 14 104 29 390 14 118 15 72 14 44 15 27 14 17 14 11 29 12 29 7 43 3 58 2 87-2 86-5 73-7 101-14 72-19 29-10 28-13 29-17 29-22 29-28 15-19 28-46 29-64 15-42 14-50 15-61 14-72 14-85 58-413 15-70 14-25 14 25 15 70 58 413 28 157 15 61 14 50 15 42 14 35 15 30 28 46 29 33 29 25 29 19 43 21 44 15 43 11"/>
<path fill="#0000c4" d="M2705 1692l58-12 29-13 14-12 14-17 15-28 14-44 15-72 14-119 29-390 15-105 14 104 29 390 14 118 15 72 14 44 15 27 14 17 14 11 29 12 29 7 43 3 145 0 159-12 101-14 72-19 57-23 29-17 29-22 44-47 28-46 29-64 29-92 29-133 14-85 58-413 15-70 14-25 14 25 15 70 58 413 28 157 29 111 29 77 15 30 28 46 29 33 29 25 29 19 43 21 87 26 0-2 -87-26 -43-22 -29-19 -29-26 -29-34 -28-46 -15-30 -29-77 -29-109 -28-152 -58-385 -15-63 -14-23 -14 23 -15 63 -72 467 -14 70 -29 109 -29 77 -29 55 -29 39 -43 42 -58 34 -58 22 -86 19 -101 13 -159 10 -130-1 -58-10 -29-12 -14-12 -14-17 -15-27 -14-42 -15-70 -14-113 -29-353 -14-91 -15 91 -29 354 -14 113 -15 71 -14 43 -15 27 -14 18 -14 12 -29 14 -58 11z"/>
<path stroke="#0000c4" d="M2705 1691l29-4 29-7 29-14 14-11 14-18 15-27 14-44 15-71 14-117 29-371 15-98 14 97 29 371 14 116 15 71 14 43 15 27 14 17 14 11 29 13 29 6 43 4 58 1 87-2 86-5 73-6 101-15 72-19 29-10 28-14 29-16 29-22 29-30 15-18 28-46 29-65 15-42 14-50 15-59 14-71 14-84 58-398 15-67 14-24 14 24 15 67 58 398 28 155 15 59 14 51 29 77 15 29 28 46 29 34 29 25 29 20 43 21 44 15 43 11"/>
<path stroke="#0000ce" d="M2705 1691l29-4 29-7 29-14 14-12 14-18 15-27 14-43 15-71 14-113 29-354 15-91 14 91 29 353 14 113 15 70 14 42 15 27 14 17 14 12 29 12 29 7 29 3 58 2 72-1 86-4 73-6 101-13 43-8 43-11 58-22 29-15 29-19 29-26 14-16 29-39 29-55 29-77 14-50 15-59 14-70 29-174 43-293 15-63 14-23 14 23 15 63 58 385 28 152 15 59 14 50 29 77 15 30 28 46 29 34 29 26 29 19 43 22 44 15 43 11"/>
<path fill="#0000d8" d="M2705 1691l58-11 29-14 14-12 14-18 15-27 14-43 15-71 14-113 29-354 15-91 14 91 29 353 14 113 15 70 14 42 15 27 14 17 14 12 29 12 58 10 130 1 159-10 101-13 86-19 58-22 58-34 43-42 29-39 29-55 29-77 29-109 14-70 72-467 15-63 14-23 14 23 15 63 58 385 28 152 29 109 29 77 15 30 28 46 29 34 29 26 29 19 43 22 87 26 0-1 -87-28 -43-22 -29-19 -29-26 -29-35 -28-47 -15-29 -29-77 -29-107 -28-147 -58-359 -15-58 -14-20 -14 20 -15 58 -72 438 -14 68 -29 107 -29 77 -29 54 -29 41 -43 41 -58 36 -58 22 -72 17 -86 13 -145 11 -144 3 -72-8 -44-16 -14-12 -14-17 -15-27 -14-42 -15-68 -14-107 -29-320 -14-80 -15 80 -29 321 -14 108 -15 68 -14 43 -15 27 -14 18 -14 12 -29 14 -58 12z"/>
<path stroke="#0000d8" d="M2705 1691l29-4 29-8 29-14 14-12 14-17 15-27 14-43 15-70 14-110 29-337 15-86 14 85 29 336 14 110 15 69 14 43 15 27 14 17 14 11 15 8 29 9 29 4 43 3 58 0 86-2 145-11 86-13 72-17 58-22 29-15 29-20 29-26 14-16 29-39 29-55 29-77 29-108 14-69 14-80 58-372 15-61 14-21 14 21 15 61 58 372 28 149 29 108 29 77 15 30 28 46 29 34 29 26 29 20 43 22 44 15 43 11"/>
<path stroke="#0000e2" d="M2705 1691l29-5 29-7 29-14 14-12 14-18 15-27 14-43 15-68 14-108 29-321 15-80 14 80 29 320 14 107 15 68 14 42 15 27 14 17 14 12 15 7 29 9 29 5 43 3 58 0 86-3 145-11 86-13 72-17 58-22 29-16 29-20 29-25 14-16 29-41 29-54 29-77 29-107 14-68 14-79 58-359 15-58 14-20 14 20 15 58 58 359 28 147 29 107 29 77 15 29 28 47 29 35 29 26 29 19 43 22 44 16 43 12"/>
<path fill="#0000eb" d="M2705 1691l58-12 29-14 14-12 14-18 15-27 14-43 15-68 14-108 29-321 15-80 14 80 29 320 14 107 15 68 14 42 15 27 14 17 14 12 44 16 72 8 144-3 145-11 86-13 72-17 58-22 58-36 43-41 29-41 29-54 29-77 29-107 14-68 72-438 15-58 14-20 14 20 15 58 58 359 28 147 29 107 29 77 15 29 28 47 29 35 29 26 29 19 43 22 87 28 0-2 -43-12 -44-16 -43-22 -29-21 -29-26 -29-35 -28-47 -15-30 -29-76 -29-105 -28-142 -58-335 -15-52 -14-19 -14 19 -15 52 -72 411 -14 66 -29 105 -29 76 -29 55 -29 41 -43 42 -58 36 -58 23 -72 18 -86 13 -145 12 -144 2 -72-7 -44-18 -14-11 -14-17 -15-27 -14-41 -15-66 -14-102 -29-291 -14-70 -15 71 -29 292 -14 102 -15 66 -14 42 -15 27 -14 18 -14 12 -29 14 -58 12z"/>
<path stroke="#0000eb" d="M2705 1691l29-5 29-7 29-15 14-12 14-17 15-27 14-43 15-67 14-105 29-306 15-75 14 74 29 306 14 104 15 67 14 42 15 26 14 18 14 11 15 8 29 9 29 5 43 2 58 1 86-3 145-11 86-13 72-18 58-23 29-15 29-20 29-26 14-16 29-41 29-55 29-76 29-106 14-67 14-77 44-268 14-80 15-54 14-20 14 20 15 54 14 80 44 268 28 144 29 106 29 76 15 30 28 47 29 35 29 26 29 20 43 22 44 16 43 12"/>
<path stroke="#0000f5" d="M2705 1690l29-4 29-8 29-14 14-12 14-18 15-27 14-42 15-66 14-102 29-292 15-71 14 70 29 291 14 102 15 66 14 41 15 27 14 17 14 11 15 8 29 10 29 4 43 3 58 0 86-2 145-12 86-13 72-18 58-23 29-16 29-20 29-26 14-16 29-41 29-55 29-76 29-105 14-66 72-411 15-52 14-19 14 19 15 52 14 76 44 259 28 142 29 105 29 76 15 30 28 47 29 35 29 26 29 21 43 22 44 16 43 12"/>
<path fill="#0000ff" d="M2705 1690l58-12 29-14 14-12 14-18 15-27 14-42 15-66 14-102 29-292 15-71 14 70 29 291 14 102 15 66 14 41 15 27 14 17 14 11 44 18 72 7 144-2 145-12 86-13 72-18 58-23 58-36 43-42 29-41 29-55 29-76 29-105 14-66 72-411 15-52 14-19 14 19 15 52 58 335 28 142 29 105 29 76 15 30 28 47 29 35 29 26 29 21 43 22 44 16 43 12 0-2 -43-12 -44-16 -43-23 -29-21 -29-26 -29-36 -43-77 -29-75 -29-103 -28-137 -58-314 -15-47 -14-17 -14 17 -15 47 -72 387 -14 64 -29 103 -29 75 -29 55 -43 57 -44 38 -57 33 -58 20 -72 17 -101 14 -130 10 -130 1 -72-7 -44-18 -14-11 -14-17 -15-27 -14-40 -15-64 -14-96 -29-266 -14-61 -15 62 -29 266 -14 97 -15 64 -14 41 -15 27 -28 30 -29 14 -58 13z"/>
<path stroke="#0000ff" d="M2705 1690l29-4 29-8 29-15 14-12 14-17 15-27 14-42 15-65 14-100 29-278 15-66 14 65 29 278 14 99 15 65 14 41 15 26 14 17 14 12 15 8 29 9 29 5 43 3 58 0 72-2 130-9 101-14 72-17 58-20 28-14 29-18 29-24 15-14 29-35 14-22 29-55 29-76 29-104 14-65 14-74 44-252 14-72 15-50 14-18 14 18 15 50 14 72 44 252 28 139 29 104 29 76 15 30 28 47 29 35 29 27 29 20 43 23 44 16 43 12"/>
<path stroke="#000aff" d="M2705 1690l29-5 29-8 29-14 14-12 14-18 15-27 14-41 15-64 14-97 29-266 15-62 14 61 29 266 14 96 15 64 14 40 15 27 14 17 14 11 15 8 29 10 29 4 43 3 58 1 72-2 130-10 101-14 72-17 58-20 28-15 29-18 29-23 15-15 29-35 14-22 29-55 29-75 29-103 14-64 58-317 14-70 15-47 14-17 14 17 15 47 14 70 44 244 28 137 29 103 29 75 15 30 28 47 29 36 29 26 29 21 43 23 44 16 43 12"/>
<path fill="#0014ff" d="M2705 1690l58-13 29-14 28-30 15-27 14-41 15-64 14-97 29-266 15-62 14 61 29 266 14 96 15 64 14 40 15 27 14 17 14 11 44 18 72 7 130-1 130-10 101-14 72-17 58-20 57-33 44-38 43-57 29-55 29-75 29-103 14-64 72-387 15-47 14-17 14 17 15 47 58 314 28 137 29 103 29 75 43 77 29 36 29 26 29 21 43 23 44 16 43 12 0-1 -43-13 -44-16 -57-34 -29-23 -29-31 -43-67 -29-64 -29-87 -29-116 -72-363 -15-44 -14-15 -14 15 -15 44 -72 363 -43 163 -29 75 -29 55 -43 57 -44 38 -57 33 -58 22 -72 17 -101 14 -130 10 -130 2 -72-8 -44-18 -28-28 -15-26 -14-40 -15-62 -14-91 -29-242 -14-54 -15 55 -29 243 -14 91 -15 62 -14 41 -15 26 -28 30 -29 15 -58 12z"/>
<path stroke="#0014ff" d="M2705 1690l29-5 29-8 29-14 14-13 14-17 15-27 14-41 15-63 14-94 29-254 15-58 14 57 29 253 14 94 15 63 14 40 15 26 14 17 14 12 15 8 29 9 29 5 43 3 58 0 72-2 130-9 101-15 72-17 58-21 28-14 29-18 29-24 15-14 29-36 14-21 29-56 29-75 29-102 14-63 58-307 14-67 15-46 14-16 14 16 15 46 14 67 58 307 29 118 29 88 29 64 14 26 29 40 29 31 29 24 29 18 28 15 44 16 43 13"/>
<path stroke="#001dff" d="M2705 1689l29-4 29-8 29-15 14-12 14-18 15-26 14-41 15-62 14-91 29-243 15-55 14 54 29 242 14 91 15 62 14 40 15 26 14 17 14 11 15 8 29 10 29 5 43 3 58 0 72-2 130-10 101-14 72-17 58-22 28-14 29-19 29-23 15-15 29-35 14-22 29-55 29-75 29-101 14-62 58-299 14-64 15-44 14-15 14 15 15 44 14 64 58 299 29 116 29 87 29 64 14 26 29 41 29 31 29 23 29 19 28 15 44 16 43 13"/>
<path fill="#0027ff" d="M2705 1689l58-12 29-15 28-30 15-26 14-41 15-62 14-91 29-243 15-55 14 54 29 242 14 91 15 62 14 40 15 26 28 28 44 18 72 8 130-2 130-10 101-14 72-17 58-22 57-33 44-38 43-57 29-55 29-75 43-163 72-363 15-44 14-15 14 15 15 44 72 363 29 116 29 87 29 64 43 67 29 31 29 23 57 34 44 16 43 13 0-2 -43-12 -44-18 -57-33 -29-24 -29-32 -43-66 -29-64 -29-86 -29-112 -72-342 -15-40 -14-14 -14 14 -15 40 -72 341 -29 113 -29 86 -29 64 -28 47 -44 51 -43 33 -58 30 -58 20 -72 16 -101 14 -130 9 -115 1 -72-8 -44-18 -28-28 -15-26 -14-39 -15-59 -14-87 -29-220 -14-49 -15 49 -29 222 -14 87 -15 59 -14 40 -15 26 -28 30 -29 15 -58 13z"/>
<path stroke="#0027ff" d="M2705 1689l29-5 29-8 29-14 14-12 14-18 15-27 14-40 15-61 14-89 29-232 15-51 14 51 29 231 14 88 15 61 14 39 15 26 14 17 14 12 15 8 29 10 29 4 43 3 58 1 72-2 130-10 101-15 72-17 58-22 28-14 29-19 29-24 15-14 29-36 28-48 29-64 29-86 29-114 58-291 14-61 15-42 14-15 14 15 15 42 14 61 58 291 29 114 29 87 29 64 14 25 29 41 29 31 29 24 29 19 28 14 44 17 43 13"/>
<path stroke="#0031ff" d="M2705 1689l29-5 29-8 29-15 14-12 14-18 15-26 14-40 15-59 14-87 29-222 15-49 14 49 29 220 14 87 15 59 14 39 15 26 14 17 14 11 15 9 29 9 29 5 43 3 115-1 130-9 101-14 72-16 58-20 29-13 29-17 43-33 29-32 15-19 28-47 29-64 29-86 29-113 58-282 14-59 15-40 14-14 14 14 15 40 14 59 58 283 29 112 29 86 29 64 14 25 29 41 29 32 29 24 29 18 28 15 44 18 43 12"/>
<path fill="#003bff" d="M2705 1689l58-13 29-15 28-30 15-26 14-40 15-59 14-87 29-222 15-49 14 49 29 220 14 87 15 59 14 39 15 26 28 28 44 18 72 8 115-1 130-9 101-14 72-16 58-20 58-30 43-33 44-51 28-47 29-64 29-86 29-113 72-341 15-40 14-14 14 14 15 40 72 342 29 112 29 86 29 64 43 66 29 32 29 24 57 33 44 18 43 12 0-1 -43-13 -44-18 -57-34 -29-24 -29-32 -43-66 -44-103 -29-96 -86-380 -15-37 -14-13 -14 13 -15 37 -86 379 -44 136 -29 63 -28 48 -44 51 -43 34 -58 30 -58 20 -72 17 -86 12 -130 10 -116 3 -72-6 -43-12 -29-20 -14-17 -15-26 -14-38 -15-57 -14-81 -29-202 -14-43 -15 43 -43 285 -15 58 -14 39 -15 26 -28 30 -29 15 -58 13z"/>
<path stroke="#003bff" d="M2705 1689l29-5 29-8 29-15 14-12 14-18 15-26 14-39 15-59 14-84 29-213 15-46 14 46 29 211 14 84 15 58 14 39 15 25 14 17 14 12 15 8 29 10 29 5 72 3 115-3 130-11 87-13 72-18 58-22 43-24 43-34 29-31 15-19 28-48 29-64 29-84 15-53 28-124 44-209 14-57 15-38 14-14 14 14 15 38 14 57 58 275 29 111 29 85 29 63 14 26 29 41 29 31 29 24 29 19 28 15 44 18 43 12"/>
<path stroke="#0045ff" d="M2705 1689l29-5 29-8 29-15 14-13 14-17 15-26 14-39 15-58 14-82 29-203 15-43 14 43 29 202 14 81 15 57 14 38 15 26 14 17 14 12 15 8 14 5 29 7 29 4 43 2 116-3 130-10 86-12 72-17 58-20 29-13 29-17 43-34 29-32 15-19 28-48 29-63 29-84 15-52 28-121 44-203 14-55 15-37 14-13 14 13 15 37 14 55 44 203 28 122 29 96 15 39 29 64 14 25 29 41 29 32 29 24 29 19 28 15 44 18 43 13"/>
<path fill="#004eff" d="M2705 1689l58-13 29-15 28-30 15-26 14-39 15-58 43-285 15-43 14 43 29 202 14 81 15 57 14 38 15 26 14 17 29 20 43 12 72 6 116-3 130-10 86-12 72-17 58-20 58-30 43-34 44-51 28-48 29-63 44-136 86-379 15-37 14-13 14 13 15 37 86 380 29 96 44 103 43 66 29 32 29 24 57 34 44 18 43 13 0-2 -43-13 -44-18 -57-35 -29-24 -29-32 -43-67 -44-101 -29-94 -72-308 -14-51 -15-34 -14-12 -14 12 -15 34 -14 51 -72 308 -44 133 -29 62 -28 48 -44 51 -43 34 -58 31 -58 21 -72 17 -86 12 -130 11 -116 2 -72-5 -43-13 -29-20 -14-17 -15-25 -14-37 -15-55 -14-77 -29-185 -14-39 -15 39 -43 264 -15 55 -14 38 -15 26 -28 30 -44 20 -43 8z"/>
<path stroke="#004eff" d="M2705 1688l29-5 29-8 29-15 14-12 14-18 15-26 14-38 15-56 14-80 29-194 15-42 14 41 29 193 14 79 15 56 14 38 15 25 14 17 14 12 15 8 14 6 29 7 29 3 43 3 116-3 130-10 86-13 72-16 58-21 29-13 29-17 43-35 29-31 15-20 28-47 29-63 29-84 15-50 28-120 44-197 14-52 15-35 14-13 14 13 15 35 14 52 44 197 28 120 29 95 15 39 29 63 14 25 29 42 29 31 29 25 29 19 28 15 44 18 43 13"/>
<path stroke="#0058ff" d="M2705 1688l43-8 29-11 15-9 14-12 14-18 15-26 14-38 15-55 14-78 29-186 15-39 14 39 29 185 14 77 15 55 14 37 15 25 14 17 14 12 15 8 14 6 29 7 29 3 43 2 116-2 130-11 86-12 72-17 58-21 29-13 29-18 43-34 29-32 15-19 28-48 29-62 29-83 15-50 28-117 44-191 14-51 15-34 14-12 14 12 15 34 14 51 44 191 28 117 29 94 15 39 29 62 14 26 29 41 29 32 29 24 29 20 28 15 44 18 43 13"/>
<path fill="#0062ff" d="M2705 1688l43-8 44-20 28-30 15-26 14-38 15-55 43-264 15-39 14 39 29 185 14 77 15 55 14 37 15 25 14 17 29 20 43 13 72 5 116-2 130-11 86-12 72-17 58-21 58-31 43-34 44-51 28-48 29-62 44-133 72-308 14-51 15-34 14-12 14 12 15 34 14 51 72 308 29 94 44 101 43 67 29 32 29 24 57 35 44 18 43 13 0-1 -43-14 -44-18 -57-35 -29-25 -29-32 -43-66 -29-63 -29-81 -29-102 -58-239 -14-47 -15-31 -14-11 -14 11 -15 31 -14 47 -72 293 -29 91 -29 72 -29 54 -29 41 -43 45 -44 31 -57 28 -58 19 -72 16 -87 12 -115 9 -116 3 -72-6 -43-13 -29-20 -14-17 -15-24 -14-37 -15-53 -14-72 -29-170 -14-34 -15 35 -43 244 -15 53 -14 37 -15 25 -28 30 -44 20 -43 9z"/>
<path stroke="#0062ff" d="M2705 1688l43-9 29-11 15-9 14-12 14-17 15-26 14-37 15-55 14-75 29-178 15-37 14 36 29 177 14 75 15 54 14 37 15 25 14 17 14 11 15 8 14 6 29 7 29 4 43 2 116-3 115-9 87-11 72-16 58-19 29-12 28-16 44-31 29-28 14-16 29-42 29-54 29-72 29-93 28-115 44-185 14-49 15-32 14-12 14 12 15 32 14 49 44 185 28 115 29 93 15 39 29 62 14 25 29 42 29 31 29 25 29 20 28 15 44 18 43 13"/>
<path stroke="#006cff" d="M2705 1688l43-9 29-11 15-9 14-12 14-18 15-25 14-37 15-53 14-74 29-170 15-35 14 34 29 170 14 72 15 53 14 37 15 24 14 17 14 12 15 8 14 6 29 7 29 3 43 3 116-3 115-9 87-12 72-16 58-19 29-12 28-16 44-31 29-28 14-17 29-41 29-54 29-72 29-91 72-293 14-47 15-31 14-11 14 11 15 31 14 47 58 239 29 102 29 81 29 63 14 25 29 41 29 32 29 25 29 19 28 16 44 18 43 14"/>
<path fill="#0076ff" d="M2705 1688l43-9 44-20 28-30 15-25 14-37 15-53 43-244 15-35 14 34 29 170 14 72 15 53 14 37 15 24 14 17 29 20 43 13 72 6 116-3 115-9 87-12 72-16 58-19 57-28 44-31 43-45 29-41 29-54 29-72 29-91 72-293 14-47 15-31 14-11 14 11 15 31 14 47 58 239 29 102 29 81 29 63 43 66 29 32 29 25 57 35 44 18 43 14 0-2 -72-25 -58-32 -29-22 -29-28 -43-59 -43-86 -29-80 -29-99 -58-226 -14-44 -15-28 -14-11 -14 11 -15 28 -29 97 -57 225 -29 89 -29 70 -29 54 -29 41 -43 46 -44 31 -57 29 -58 19 -72 16 -87 12 -115 9 -116 3 -72-6 -43-13 -29-20 -14-16 -15-25 -14-35 -15-51 -14-68 -29-156 -14-31 -15 31 -43 227 -15 51 -14 36 -15 25 -28 29 -44 21 -43 8z"/>
<path stroke="#0076ff" d="M2705 1688l43-9 29-11 15-9 14-12 14-18 15-25 14-37 15-52 14-71 29-164 15-33 14 33 29 162 14 71 15 52 14 35 15 25 14 17 14 11 15 9 14 5 29 7 29 4 43 2 116-2 115-10 87-12 72-15 58-19 29-13 28-16 44-31 29-28 14-17 29-42 29-54 29-70 29-91 72-285 14-45 15-30 14-11 14 11 15 30 14 45 58 232 29 101 29 80 14 33 29 54 14 23 29 36 29 28 29 22 29 18 29 14 29 11 43 14"/>
<path stroke="#0080ff" d="M2705 1687l43-8 29-12 15-9 14-12 14-17 15-25 14-36 15-51 43-227 15-31 14 31 29 156 14 68 15 51 14 35 15 25 14 16 14 12 15 8 14 6 29 7 29 4 43 2 116-3 115-9 87-12 72-16 58-19 29-13 28-16 44-31 29-29 14-17 29-41 29-54 29-70 29-89 57-225 15-53 14-44 15-28 14-11 14 11 15 28 14 44 58 226 29 99 29 80 14 32 29 54 14 22 29 37 29 28 29 22 29 18 29 14 29 11 43 14"/>
<path fill="#0089ff" d="M2705 1687l43-8 44-21 28-29 15-25 14-36 15-51 43-227 15-31 14 31 29 156 14 68 15 51 14 35 15 25 14 16 29 20 43 13 72 6 116-3 115-9 87-12 72-16 58-19 57-29 44-31 43-46 29-41 29-54 29-70 29-89 57-225 29-97 15-28 14-11 14 11 15 28 14 44 58 226 29 99 29 80 43 86 43 59 29 28 29 22 58 32 72 25 0-1 -72-26 -58-32 -29-23 -29-28 -43-58 -43-86 -29-78 -29-96 -43-164 -29-90 -15-27 -14-9 -14 9 -15 27 -14 40 -72 264 -29 87 -29 69 -29 53 -29 42 -43 45 -44 32 -57 29 -58 19 -72 17 -72 10 -101 10 -116 5 -72-3 -58-11 -29-14 -28-28 -15-24 -14-34 -15-49 -43-208 -14-28 -15 29 -43 210 -15 49 -14 35 -15 24 -28 30 -44 20 -43 9z"/>
<path stroke="#0089ff" d="M2705 1687l43-9 29-11 15-9 14-12 14-17 15-25 14-36 15-50 43-218 15-30 14 30 43 216 15 49 14 35 15 24 14 17 14 12 15 8 14 6 29 7 29 3 43 3 116-3 115-9 87-13 72-16 58-19 29-13 28-16 44-32 29-28 14-17 29-41 29-54 29-69 29-89 72-270 14-42 15-28 14-10 14 10 15 28 14 42 58 219 29 98 29 79 14 32 29 54 14 22 29 36 29 28 29 23 29 18 29 14 29 12 43 13"/>
<path stroke="#0093ff" d="M2705 1687l43-9 29-11 15-9 14-12 14-18 15-24 14-35 15-49 43-210 15-29 14 28 43 208 15 49 14 34 15 24 14 17 14 11 29 14 29 7 29 4 72 3 116-5 101-10 72-10 72-17 58-19 29-13 28-16 44-32 29-28 14-17 29-42 29-53 29-69 29-87 72-264 14-40 15-27 14-9 14 9 15 27 14 40 15 50 43 164 29 96 29 78 14 32 29 54 14 22 29 36 29 28 29 23 29 18 29 14 29 12 43 14"/>
<path fill="#009dff" d="M2705 1687l43-9 44-20 28-30 15-24 14-35 15-49 43-210 15-29 14 28 43 208 15 49 14 34 15 24 28 28 29 14 58 11 72 3 116-5 101-10 72-10 72-17 58-19 57-29 44-32 43-45 29-42 29-53 29-69 29-87 72-264 14-40 15-27 14-9 14 9 15 27 29 90 43 164 29 96 29 78 43 86 43 58 29 28 29 23 58 32 72 26 0-2 -72-26 -58-33 -29-22 -29-29 -43-58 -43-85 -29-76 -72-248 -29-85 -15-25 -14-8 -14 8 -15 25 -14 38 -72 251 -29 84 -29 68 -29 53 -43 58 -44 41 -43 28 -58 27 -57 18 -73 15 -72 10 -115 10 -101 3 -72-4 -44-9 -29-14 -14-12 -14-16 -15-24 -14-33 -15-47 -43-193 -14-25 -15 26 -43 195 -15 47 -14 34 -15 24 -28 29 -44 20 -43 9z"/>
<path stroke="#009dff" d="M2705 1687l43-9 29-12 15-8 14-13 14-17 15-24 14-35 15-48 43-202 15-27 14 26 43 201 15 47 14 34 15 24 14 16 14 12 15 8 14 6 29 7 29 4 43 2 101-2 116-9 86-11 73-16 57-17 29-12 29-15 43-28 44-41 29-36 14-22 29-53 29-68 29-86 72-258 14-39 15-25 14-9 14 9 15 25 14 40 15 48 43 160 29 94 29 77 14 32 29 53 14 22 29 37 29 28 29 23 29 18 29 14 29 12 43 14"/>
<path stroke="#00a7ff" d="M2705 1686l43-9 29-11 15-9 14-12 14-17 15-24 14-34 15-47 43-195 15-26 14 25 43 193 15 47 14 33 15 24 14 16 14 12 29 14 44 9 72 4 101-3 115-10 72-10 73-15 57-18 29-12 29-15 43-28 44-41 29-36 14-22 29-53 29-68 29-84 72-251 14-38 15-25 14-8 14 8 15 25 14 38 15 47 43 155 29 93 29 76 14 32 29 53 14 22 29 36 29 29 29 22 29 19 29 14 29 12 43 14"/>
<path fill="#00b1ff" d="M2705 1686l43-9 44-20 28-29 15-24 14-34 15-47 43-195 15-26 14 25 43 193 15 47 14 33 15 24 14 16 14 12 29 14 44 9 72 4 101-3 115-10 72-10 73-15 57-18 58-27 43-28 44-41 43-58 29-53 29-68 29-84 72-251 14-38 15-25 14-8 14 8 15 25 29 85 72 248 29 76 43 85 43 58 29 29 29 22 58 33 72 26 0-1 -72-27 -58-33 -29-22 -29-29 -43-58 -43-84 -29-74 -87-282 -14-35 -15-23 -14-8 -14 8 -15 23 -14 35 -87 282 -29 74 -29 59 -28 47 -29 36 -44 40 -43 29 -58 27 -57 18 -73 16 -72 10 -115 10 -101 3 -72-4 -44-9 -29-14 -14-12 -14-16 -15-23 -14-32 -15-45 -43-179 -14-23 -15 23 -43 181 -15 46 -14 33 -15 24 -28 29 -44 20 -43 9z"/>
<path stroke="#00b1ff" d="M2705 1686l43-9 29-11 15-9 14-12 14-17 15-24 14-34 15-46 43-188 15-24 14 23 43 186 15 46 14 33 15 23 14 17 14 11 29 14 44 10 72 4 101-3 115-10 72-11 73-15 57-18 29-12 29-15 43-28 44-41 29-36 14-22 29-53 29-67 29-83 72-245 14-37 15-23 14-9 14 9 15 23 14 37 58 197 29 92 29 75 14 31 29 53 14 22 29 36 29 29 29 22 29 19 29 14 29 12 43 15"/>
<path stroke="#00baff" d="M2705 1686l43-9 29-12 15-8 14-12 14-17 15-24 14-33 15-46 43-181 15-23 14 23 43 179 15 45 14 32 15 23 14 16 14 12 29 14 44 9 72 4 101-3 115-10 72-10 73-16 57-18 29-12 29-15 43-29 44-40 29-36 28-47 29-59 29-74 29-90 58-192 14-35 15-23 14-8 14 8 15 23 14 35 58 192 29 90 29 74 14 32 29 52 14 22 29 36 29 29 29 22 29 19 29 14 29 12 43 15"/>
<path fill="#00c4ff" d="M2705 1686l43-9 44-20 28-29 15-24 14-33 15-46 43-181 15-23 14 23 43 179 15 45 14 32 15 23 14 16 14 12 29 14 44 9 72 4 101-3 115-10 72-10 73-16 57-18 58-27 43-29 44-40 29-36 28-47 29-59 29-74 87-282 14-35 15-23 14-8 14 8 15 23 14 35 87 282 29 74 43 84 43 58 29 29 29 22 58 33 72 27 0-2 -72-26 -58-34 -29-23 -29-28 -43-58 -43-83 -29-72 -87-269 -14-33 -15-22 -14-7 -14 7 -15 22 -14 33 -87 269 -29 72 -29 58 -28 46 -29 37 -44 40 -43 29 -58 28 -57 18 -73 16 -72 10 -115 11 -101 3 -72-4 -44-10 -29-14 -14-11 -29-39 -14-31 -15-43 -43-167 -14-20 -15 21 -43 168 -15 44 -14 32 -15 23 -14 17 -29 21 -29 11 -43 10z"/>
<path stroke="#00c4ff" d="M2705 1686l43-9 29-12 15-9 14-12 14-17 15-23 14-33 15-44 43-175 15-22 14 21 43 173 15 44 14 32 15 23 14 16 14 11 29 14 44 10 72 4 101-3 115-10 72-11 73-15 57-19 29-12 29-15 43-29 44-40 29-37 28-46 29-58 29-74 87-275 14-34 15-22 14-8 14 8 15 22 14 34 87 275 29 74 14 31 29 52 14 22 29 36 29 29 29 22 29 19 29 14 29 13 43 14"/>
<path stroke="#00ceff" d="M2705 1686l43-10 29-11 15-9 14-12 14-17 15-23 14-32 15-44 43-168 15-21 14 20 43 167 15 43 14 31 15 23 14 16 14 11 29 14 44 10 72 4 101-3 115-11 72-10 73-16 57-18 29-13 29-15 43-29 44-40 29-37 28-46 29-58 29-72 87-269 14-33 15-22 14-7 14 7 15 22 14 33 87 269 29 72 14 31 29 52 14 22 29 36 29 28 29 23 29 19 29 15 29 12 43 14"/>
<path fill="#00d8ff" d="M2705 1686l43-10 29-11 29-21 14-17 15-23 14-32 15-44 43-168 15-21 14 20 43 167 15 43 14 31 29 39 14 11 29 14 44 10 72 4 101-3 115-11 72-10 73-16 57-18 58-28 43-29 44-40 29-37 28-46 29-58 29-72 87-269 14-33 15-22 14-7 14 7 15 22 14 33 87 269 29 72 43 83 43 58 29 28 29 23 58 34 72 26 0-1 -72-27 -58-34 -43-36 -44-52 -43-72 -29-64 -29-78 -72-216 -14-31 -15-20 -14-7 -14 7 -15 20 -14 31 -87 257 -29 70 -29 58 -28 45 -44 52 -43 36 -43 26 -58 25 -58 17 -72 15 -72 10 -101 9 -101 3 -72-4 -44-10 -29-14 -14-11 -29-38 -29-71 -43-155 -14-19 -15 19 -43 157 -15 42 -14 31 -15 23 -14 17 -29 20 -29 12 -43 9z"/>
<path stroke="#00d8ff" d="M2705 1686l43-10 29-11 15-9 14-12 14-17 15-23 14-31 15-43 43-163 15-20 14 19 43 161 15 42 14 31 15 23 14 15 14 12 29 14 44 9 72 4 101-3 101-8 72-10 72-15 58-17 58-25 43-26 43-36 29-33 15-19 28-45 29-58 29-72 87-263 14-32 15-20 14-7 14 7 15 20 14 32 15 40 57 182 29 79 29 64 15 28 28 45 15 20 29 32 43 36 29 19 29 15 29 12 43 15"/>
<path stroke="#00e2ff" d="M2705 1685l43-9 29-12 15-8 14-12 14-17 15-23 14-31 15-42 29-109 14-48 15-19 14 19 14 47 29 108 15 41 14 30 15 22 14 16 14 11 29 14 44 10 72 4 101-3 101-9 72-10 72-15 58-17 58-25 43-26 43-36 29-33 15-19 28-45 29-58 29-70 72-218 15-39 14-31 15-20 14-7 14 7 15 20 14 31 15 39 57 177 29 78 29 64 15 27 28 45 15 20 29 32 43 36 29 19 29 15 29 12 43 15"/>
<path fill="#00ebff" d="M2705 1685l43-9 29-12 29-20 14-17 15-23 14-31 15-42 43-157 15-19 14 19 43 155 29 71 29 38 14 11 29 14 44 10 72 4 101-3 101-9 72-10 72-15 58-17 58-25 43-26 43-36 44-52 28-45 29-58 29-70 87-257 14-31 15-20 14-7 14 7 15 20 14 31 72 216 29 78 29 64 43 72 44 52 43 36 58 34 72 27 0-1 -72-28 -58-34 -43-36 -44-51 -43-72 -29-63 -101-281 -14-29 -15-19 -14-6 -14 6 -15 19 -14 29 -87 245 -29 69 -29 56 -28 45 -44 52 -43 36 -43 27 -58 25 -58 17 -72 15 -72 10 -101 9 -101 3 -72-4 -44-9 -29-14 -14-11 -29-37 -29-69 -43-145 -14-17 -15 18 -58 186 -29 53 -14 16 -29 21 -29 12 -43 9z"/>
<path stroke="#00ebff" d="M2705 1685l43-9 29-12 15-9 14-12 14-16 15-22 14-31 15-41 29-106 14-46 15-18 14 17 14 46 29 104 15 40 14 30 15 22 14 16 14 11 29 14 44 10 72 4 101-3 101-9 72-10 72-15 58-17 58-25 43-27 43-36 29-33 15-19 28-45 29-57 29-70 72-213 15-38 14-30 15-19 14-6 14 6 15 19 14 30 15 38 57 173 29 77 29 63 15 27 28 45 15 20 29 32 43 36 29 19 29 15 29 12 43 15"/>
<path stroke="#00f5ff" d="M2705 1685l43-9 29-12 15-9 14-12 14-16 15-22 14-31 15-40 29-102 14-44 15-18 14 17 14 43 29 102 15 39 14 30 15 21 14 16 14 11 29 14 44 9 72 4 101-3 101-9 72-10 72-15 58-17 58-25 43-27 43-36 29-33 15-19 28-45 29-56 29-69 72-209 15-36 14-29 15-19 14-6 14 6 15 19 14 29 15 36 57 170 29 75 29 63 15 26 28 46 15 19 29 32 43 36 29 19 29 15 29 13 43 15"/>
<path fill="#00ffff" d="M2705 1685l43-9 29-12 29-21 14-16 29-53 58-186 15-18 14 17 43 145 29 69 29 37 14 11 29 14 44 9 72 4 101-3 101-9 72-10 72-15 58-17 58-25 43-27 43-36 44-52 28-45 29-56 29-69 87-245 14-29 15-19 14-6 14 6 15 19 14 29 101 281 29 63 43 72 44 51 43 36 58 34 72 28 0-2 -72-27 -58-35 -43-36 -44-51 -43-71 -29-62 -101-269 -14-27 -15-18 -14-6 -14 6 -15 18 -14 27 -87 234 -29 67 -29 56 -28 45 -44 51 -43 36 -43 27 -44 20 -57 19 -73 17 -72 11 -86 9 -101 5 -73-1 -57-9 -44-18 -28-26 -15-21 -29-66 -43-135 -14-16 -15 17 -58 175 -29 51 -14 16 -29 20 -29 12 -43 10z"/>
<path stroke="#00ffff" d="M2705 1685l43-10 29-11 15-9 14-12 14-16 15-22 14-30 15-39 29-100 14-42 15-17 14 17 14 41 29 98 15 39 14 29 15 21 14 15 14 12 29 13 44 10 72 4 101-3 101-9 72-10 72-15 58-18 58-25 43-27 43-36 29-33 15-19 28-44 29-56 29-69 72-204 15-35 14-28 15-18 14-6 14 6 15 18 14 28 29 75 43 126 29 74 29 62 15 27 28 45 15 19 29 32 43 36 29 19 29 15 29 13 43 15"/>
<path stroke="#0afff5" d="M2705 1685l43-10 29-12 15-8 14-12 14-16 15-22 14-29 15-39 29-96 14-40 15-17 14 16 14 40 29 95 15 37 14 29 15 21 14 15 14 11 15 8 29 10 29 6 28 3 73 1 101-5 86-9 72-11 73-17 57-19 44-20 43-27 43-36 29-32 15-19 28-45 29-56 29-67 58-161 29-73 14-27 15-18 14-6 14 6 15 18 14 27 15 34 57 162 29 73 29 62 15 26 28 45 15 19 29 32 43 36 29 19 29 16 29 12 43 15"/>
<path fill="#14ffeb" d="M2705 1685l43-10 29-12 29-20 14-16 29-51 58-175 15-17 14 16 43 135 29 66 15 21 28 26 44 18 57 9 73 1 101-5 86-9 72-11 73-17 57-19 44-20 43-27 43-36 44-51 28-45 29-56 29-67 87-234 14-27 15-18 14-6 14 6 15 18 14 27 101 269 29 62 43 71 44 51 43 36 58 35 72 27 0-1 -72-28 -58-34 -43-37 -44-51 -43-70 -29-60 -101-258 -14-26 -15-16 -14-6 -14 6 -15 16 -14 26 -101 258 -29 60 -29 49 -29 40 -43 45 -44 33 -43 25 -43 18 -58 18 -72 15 -72 11 -101 9 -87 3 -72-2 -43-7 -44-18 -28-26 -15-21 -29-63 -43-126 -14-14 -15 14 -58 165 -29 50 -14 16 -29 20 -29 12 -43 9z"/>
<path stroke="#14ffeb" d="M2705 1684l43-9 29-12 15-9 14-11 14-16 15-22 14-29 15-37 29-94 14-38 15-16 14 15 14 38 29 92 15 37 14 28 15 21 14 15 14 11 15 8 29 10 43 7 72 3 87-4 101-9 72-10 72-16 58-17 43-19 43-24 44-33 43-45 29-40 29-50 29-61 29-72 57-158 15-33 14-26 15-17 14-6 14 6 15 17 14 26 15 33 57 158 29 73 29 60 15 26 28 45 15 19 29 32 43 36 29 19 29 16 29 12 43 16"/>
<path stroke="#1dffe2" d="M2705 1684l43-9 29-12 15-9 14-11 14-16 15-22 14-28 15-37 29-90 14-38 15-14 14 14 14 36 29 90 15 35 14 28 15 21 14 15 14 11 15 8 29 10 43 7 72 2 87-3 101-9 72-11 72-15 58-18 43-18 43-25 44-33 43-45 29-40 29-49 29-60 29-71 57-155 15-32 14-26 15-16 14-6 14 6 15 16 14 26 15 32 57 155 29 71 29 60 15 26 28 44 15 19 29 32 43 37 29 18 29 16 29 13 43 15"/>
<path fill="#27ffd8" d="M2705 1684l43-9 29-12 29-20 14-16 29-50 58-165 15-14 14 14 43 126 29 63 15 21 28 26 44 18 43 7 72 2 87-3 101-9 72-11 72-15 58-18 43-18 43-25 44-33 43-45 29-40 29-49 29-60 101-258 14-26 15-16 14-6 14 6 15 16 14 26 101 258 29 60 43 70 44 51 43 37 58 34 72 28 0-1 -72-29 -58-34 -43-37 -44-50 -43-70 -29-59 -101-247 -14-24 -15-15 -14-5 -14 5 -15 15 -14 24 -101 247 -29 59 -29 49 -29 39 -43 45 -44 34 -43 24 -43 18 -58 19 -72 15 -72 11 -101 9 -87 4 -72-3 -43-7 -44-18 -28-25 -15-20 -29-62 -43-117 -14-13 -15 14 -58 154 -29 49 -14 15 -29 21 -29 11 -43 10z"/>
<path stroke="#27ffd8" d="M2705 1684l43-10 29-11 29-21 14-15 15-21 14-28 15-36 29-88 14-36 15-14 14 13 14 36 29 86 15 35 14 27 15 21 14 15 14 10 15 8 29 10 43 8 72 2 87-3 101-10 72-10 72-16 58-18 43-18 43-25 44-33 43-45 29-40 29-49 29-59 29-70 43-115 29-67 14-25 15-16 14-5 14 5 15 16 14 25 29 67 43 115 29 70 29 60 15 25 28 44 15 19 29 32 43 37 29 19 29 15 29 13 43 15"/>
<path stroke="#31ffce" d="M2705 1684l43-10 29-11 29-21 14-15 15-21 14-28 15-35 29-85 14-34 15-14 14 13 14 34 29 83 15 35 14 27 15 20 14 14 14 11 15 8 29 10 43 7 72 3 87-4 101-9 72-11 72-15 58-19 43-18 43-24 44-34 43-45 29-39 29-49 29-59 29-68 43-113 29-66 14-24 15-15 14-5 14 5 15 15 14 24 29 66 43 113 29 68 29 59 15 26 28 44 44 50 43 37 29 19 29 15 29 13 43 16"/>
<path fill="#3bffc4" d="M2705 1684l43-10 29-11 29-21 14-15 29-49 58-154 15-14 14 13 43 117 29 62 15 20 28 25 44 18 43 7 72 3 87-4 101-9 72-11 72-15 58-19 43-18 43-24 44-34 43-45 29-39 29-49 29-59 101-247 14-24 15-15 14-5 14 5 15 15 14 24 101 247 29 59 43 70 44 50 43 37 58 34 72 29 0-1 -58-22 -57-32 -44-33 -43-45 -43-62 -29-53 -116-267 -14-22 -15-14 -14-5 -14 5 -15 14 -14 22 -29 63 -72 174 -29 58 -29 47 -29 40 -43 45 -44 33 -43 24 -43 19 -58 18 -72 16 -72 11 -101 10 -87 3 -72-2 -43-7 -44-18 -28-26 -15-19 -29-59 -43-110 -14-12 -15 13 -58 146 -29 47 -14 15 -29 20 -29 12 -43 9z"/>
<path stroke="#3bffc4" d="M2705 1684l43-10 29-12 29-20 14-15 15-21 14-27 15-34 29-83 14-33 15-13 14 12 14 33 29 81 15 33 14 27 15 20 14 14 14 11 15 8 29 10 43 7 72 2 87-3 101-9 72-11 72-16 58-18 43-19 43-24 44-33 43-46 29-39 29-48 29-58 29-68 43-110 29-64 14-23 15-15 14-5 14 5 15 15 14 23 29 64 43 110 29 68 29 58 15 25 28 44 44 50 43 37 29 19 29 16 29 13 43 15"/>
<path stroke="#45ffba" d="M2705 1683l43-9 29-12 29-20 14-15 15-21 14-26 15-34 29-80 14-32 15-13 14 12 14 32 29 78 15 33 14 26 15 19 14 15 14 11 15 8 29 10 43 7 72 2 87-3 101-10 72-11 72-16 58-18 43-19 43-24 44-33 43-45 29-40 29-47 29-58 72-174 29-63 14-22 15-14 14-5 14 5 15 14 14 22 29 63 58 142 29 62 29 53 14 23 29 39 43 45 44 33 28 17 29 15 58 22"/>
<path fill="#4effb1" d="M2705 1683l43-9 29-12 29-20 14-15 29-47 58-146 15-13 14 12 43 110 29 59 15 19 28 26 44 18 43 7 72 2 87-3 101-10 72-11 72-16 58-18 43-19 43-24 44-33 43-45 29-40 29-47 29-58 72-174 29-63 14-22 15-14 14-5 14 5 15 14 14 22 116 267 29 53 43 62 43 45 44 33 57 32 58 22 0-2 -58-22 -57-31 -44-34 -43-45 -43-61 -29-51 -29-61 -58-137 -29-59 -14-21 -15-14 -14-4 -14 4 -15 14 -14 21 -29 59 -58 137 -29 60 -29 52 -28 43 -29 35 -44 40 -43 30 -43 23 -44 17 -57 17 -72 15 -73 10 -86 8 -87 3 -72-2 -43-7 -44-18 -28-25 -15-19 -29-56 -29-74 -14-29 -14-11 -15 12 -58 137 -29 46 -14 15 -29 20 -29 11 -43 10z"/>
<path stroke="#4effb1" d="M2705 1683l43-9 29-12 29-20 14-15 15-20 14-27 15-32 29-78 14-31 15-12 14 11 14 30 29 77 15 32 14 25 15 19 14 15 14 10 15 8 29 10 43 7 72 3 87-4 86-8 73-10 72-14 57-17 44-17 43-23 43-30 44-41 29-35 28-43 15-24 29-57 72-172 29-60 14-22 15-14 14-5 14 5 15 14 14 22 29 60 58 140 29 61 29 53 14 22 29 39 43 45 44 33 28 18 29 14 58 22"/>
<path stroke="#58ffa7" d="M2705 1683l43-10 29-11 29-20 14-15 15-20 14-26 15-32 29-75 14-30 15-12 14 11 14 29 29 74 15 31 14 25 15 19 14 15 14 10 15 8 29 10 43 7 72 2 87-3 86-8 73-10 72-15 57-17 44-17 43-23 43-30 44-40 29-35 28-43 29-52 29-60 58-137 29-59 14-21 15-14 14-4 14 4 15 14 14 21 29 59 58 137 29 61 29 51 43 61 43 45 44 34 28 17 29 14 58 22"/>
<path fill="#62ff9d" d="M2705 1683l43-10 29-11 29-20 14-15 29-46 58-137 15-12 14 11 14 29 29 74 29 56 15 19 28 25 44 18 43 7 72 2 87-3 86-8 73-10 72-15 57-17 44-17 43-23 43-30 44-40 29-35 28-43 29-52 29-60 58-137 29-59 14-21 15-14 14-4 14 4 15 14 14 21 29 59 58 137 29 61 29 51 43 61 43 45 44 34 57 31 58 22 0-1 -58-22 -57-32 -44-33 -43-45 -43-60 -29-51 -87-191 -29-55 -14-20 -15-13 -14-5 -14 5 -15 12 -14 21 -29 55 -87 191 -29 50 -28 43 -29 34 -44 41 -43 30 -43 22 -44 18 -57 17 -72 15 -73 10 -86 8 -87 4 -72-3 -43-7 -44-17 -28-25 -29-42 -58-127 -14-10 -15 11 -58 130 -29 44 -14 15 -29 19 -29 12 -43 10z"/>
<path stroke="#62ff9d" d="M2705 1683l43-10 29-12 29-19 14-15 15-20 14-25 15-32 29-73 14-28 15-12 14 11 14 28 29 71 15 31 14 25 15 18 14 14 14 11 15 8 29 10 43 7 72 2 87-3 86-8 73-11 72-15 57-17 44-17 43-22 43-31 44-40 29-35 28-42 29-51 29-60 58-134 29-58 14-20 15-13 14-5 14 5 15 13 14 20 29 58 58 134 29 60 29 51 43 61 43 44 44 34 28 17 29 14 58 23"/>
<path stroke="#6cff93" d="M2705 1683l43-10 29-12 29-19 14-15 15-20 14-24 15-31 29-71 14-28 15-11 14 10 14 27 29 70 15 30 14 24 15 18 14 14 14 11 15 7 29 10 43 7 72 3 87-4 86-8 73-10 72-15 57-17 44-18 43-22 43-30 44-41 29-34 28-43 29-50 29-59 58-132 29-55 14-21 15-12 14-5 14 5 15 13 14 20 29 55 58 132 29 59 29 51 43 60 43 45 44 33 28 17 29 15 58 22"/>
<path fill="#76ff89" d="M2705 1683l43-10 29-12 29-19 14-15 29-44 58-130 15-11 14 10 58 127 29 42 28 25 44 17 43 7 72 3 87-4 86-8 73-10 72-15 57-17 44-18 43-22 43-30 44-41 29-34 28-43 29-50 87-191 29-55 14-21 15-12 14-5 14 5 15 13 14 20 29 55 87 191 29 51 43 60 43 45 44 33 57 32 58 22 0-1 -58-23 -57-32 -44-33 -43-44 -43-60 -29-50 -87-183 -29-53 -14-19 -15-12 -14-4 -14 4 -15 12 -14 19 -29 53 -87 183 -29 50 -28 41 -29 35 -44 40 -43 30 -43 23 -44 17 -57 18 -130 24 -87 9 -86 4 -73-1 -43-5 -43-13 -29-18 -14-14 -29-41 -44-94 -14-25 -14-9 -15 10 -14 26 -44 96 -29 43 -14 14 -29 20 -29 12 -43 9z"/>
<path stroke="#76ff89" d="M2705 1683l43-10 29-12 29-20 14-14 15-19 14-25 44-99 14-26 15-11 14 10 14 26 44 96 14 24 15 18 14 14 14 11 15 7 29 10 43 7 72 3 87-4 86-8 73-11 72-15 57-17 44-17 43-23 43-30 44-41 29-34 28-42 29-50 29-58 58-129 29-54 14-20 15-12 14-4 14 4 15 12 14 20 29 54 58 129 29 58 29 50 43 60 43 45 44 33 28 18 29 14 58 22"/>
<path stroke="#80ff80" d="M2705 1682l43-9 29-12 29-20 14-14 15-19 14-24 44-96 14-26 15-10 14 9 14 25 44 94 14 23 15 18 14 14 29 18 14 6 29 7 43 5 73 1 86-4 87-9 72-12 58-12 57-18 44-17 43-23 43-30 44-40 29-35 28-41 29-50 29-57 58-126 29-53 14-19 15-12 14-4 14 4 15 12 14 19 29 53 58 126 29 57 29 50 43 60 43 44 44 33 28 18 29 14 58 23"/>
<path fill="#89ff76" d="M2705 1682l43-9 29-12 29-20 14-14 29-43 44-96 14-26 15-10 14 9 14 25 44 94 29 41 14 14 29 18 43 13 43 5 73 1 86-4 87-9 130-24 57-18 44-17 43-23 43-30 44-40 29-35 28-41 29-50 87-183 29-53 14-19 15-12 14-4 14 4 15 12 14 19 29 53 87 183 29 50 43 60 43 44 44 33 57 32 58 23 0-1 -58-23 -57-32 -44-33 -43-45 -43-58 -29-49 -87-177 -29-51 -14-18 -15-11 -14-4 -14 4 -15 11 -29 42 -101 204 -29 49 -28 40 -29 34 -44 41 -43 30 -58 29 -43 16 -58 16 -130 23 -158 11 -73-1 -43-5 -43-13 -29-17 -14-14 -29-40 -44-89 -14-23 -14-8 -15 9 -14 24 -44 91 -29 42 -14 14 -29 20 -29 11 -43 10z"/>
<path stroke="#89ff76" d="M2705 1682l43-10 29-11 29-20 14-14 15-19 14-23 44-94 14-25 15-9 14 8 14 24 44 92 14 23 15 17 14 14 29 18 14 5 29 8 43 5 73 1 72-4 86-8 73-10 57-12 58-16 43-16 58-29 43-31 44-40 29-34 28-41 29-49 29-57 58-124 29-52 14-18 15-12 14-4 14 4 15 12 14 19 29 51 58 124 29 57 29 49 43 59 43 44 44 34 28 17 29 15 58 22"/>
<path stroke="#93ff6c" d="M2705 1682l43-10 29-11 29-20 14-14 15-18 14-24 44-91 14-24 15-9 14 8 14 23 44 89 14 23 15 17 14 14 29 17 14 6 29 7 43 5 73 1 72-3 86-8 73-11 57-12 58-16 43-16 58-29 43-30 44-41 29-34 28-40 29-49 101-204 15-24 14-18 15-11 14-4 14 4 15 11 14 18 29 51 58 121 29 56 29 49 43 58 43 45 44 33 28 17 29 15 58 23"/>
<path fill="#9dff62" d="M2705 1682l43-10 29-11 29-20 14-14 29-42 44-91 14-24 15-9 14 8 14 23 44 89 29 40 14 14 29 17 43 13 43 5 73 1 158-11 130-23 58-16 43-16 58-29 43-30 44-41 29-34 28-40 29-49 101-204 29-42 15-11 14-4 14 4 15 11 14 18 29 51 87 177 29 49 43 58 43 45 44 33 57 32 58 23 0-1 -58-23 -57-32 -44-34 -43-44 -43-58 -29-47 -101-197 -29-39 -15-11 -14-4 -14 4 -15 11 -29 39 -101 197 -29 47 -43 58 -29 31 -43 36 -43 28 -44 21 -43 16 -58 16 -130 23 -158 12 -73-1 -43-5 -43-13 -29-17 -14-14 -29-38 -44-84 -14-22 -14-8 -15 9 -14 22 -44 87 -29 40 -14 14 -29 19 -29 12 -43 10z"/>
<path stroke="#9dff62" d="M2705 1682l43-10 29-12 29-19 14-14 15-18 14-23 44-89 14-23 15-9 14 8 14 23 44 86 14 22 15 17 14 14 29 17 14 6 29 7 43 5 73 1 72-3 86-9 73-10 57-12 58-16 43-17 44-21 43-27 43-36 29-31 43-59 29-48 29-55 58-119 29-49 14-17 15-11 14-4 14 4 15 11 14 17 29 49 58 119 29 55 29 49 43 58 43 44 44 33 28 18 29 14 58 23"/>
<path stroke="#a7ff58" d="M2705 1682l43-10 29-12 29-19 14-14 15-18 14-22 44-87 14-22 15-9 14 8 14 22 44 84 14 21 15 17 14 14 29 17 14 6 29 7 43 5 73 1 72-4 86-8 73-11 57-12 58-16 43-16 44-21 43-28 43-36 29-31 43-58 29-47 101-197 15-22 14-17 15-11 14-4 14 4 15 11 14 17 15 22 101 197 29 47 43 58 43 44 44 34 28 17 29 15 58 23"/>
<path fill="#b1ff4e" d="M2705 1682l43-10 29-12 29-19 14-14 29-40 44-87 14-22 15-9 14 8 14 22 44 84 29 38 14 14 29 17 43 13 43 5 73 1 158-12 130-23 58-16 43-16 44-21 43-28 43-36 29-31 43-58 29-47 101-197 29-39 15-11 14-4 14 4 15 11 29 39 101 197 29 47 43 58 43 44 44 34 57 32 58 23 0-2 -58-23 -43-23 -43-30 -44-40 -43-52 -29-43 -115-214 -29-37 -15-10 -14-4 -14 4 -15 10 -29 37 -101 189 -29 47 -43 57 -29 31 -43 36 -43 27 -44 22 -43 16 -58 16 -130 23 -158 12 -73-1 -43-5 -43-12 -29-18 -14-12 -29-38 -44-80 -14-19 -14-8 -15 8 -14 21 -44 82 -14 22 -29 31 -43 25 -58 15z"/>
<path stroke="#b1ff4e" d="M2705 1682l43-10 29-12 29-19 14-14 15-17 14-23 44-84 14-21 15-9 14 8 14 21 44 81 14 22 15 17 14 12 29 18 14 5 29 8 43 5 73 1 72-4 86-8 73-11 57-12 58-17 43-16 44-21 43-27 43-37 29-30 43-58 29-47 101-193 15-22 14-16 15-11 14-3 14 3 15 11 14 16 15 22 101 193 29 47 43 58 43 44 44 33 28 17 29 15 58 23"/>
<path stroke="#baff45" d="M2705 1681l29-5 29-10 29-14 14-11 14-14 15-17 14-22 44-82 14-21 15-8 14 8 14 19 44 80 14 21 15 17 14 12 29 18 14 5 29 7 43 5 73 1 72-3 86-9 73-11 57-12 58-16 43-16 44-22 43-27 43-36 29-31 43-57 29-47 101-189 15-21 14-16 15-10 14-4 14 4 15 10 14 16 15 21 29 51 57 113 29 50 29 43 43 52 44 40 43 30 43 23 58 23"/>
<path fill="#c4ff3b" d="M2705 1681l58-15 43-25 29-31 14-22 44-82 14-21 15-8 14 8 14 19 44 80 29 38 14 12 29 18 43 12 43 5 73 1 158-12 130-23 58-16 43-16 44-22 43-27 43-36 29-31 43-57 29-47 101-189 29-37 15-10 14-4 14 4 15 10 29 37 115 214 29 43 43 52 44 40 43 30 43 23 58 23 0-1 -58-23 -43-23 -43-30 -44-40 -43-51 -29-43 -115-206 -29-36 -15-9 -14-3 -14 3 -15 9 -29 36 -101 182 -29 46 -43 56 -29 31 -43 36 -43 27 -58 27 -101 31 -130 21 -159 11 -58-1 -43-5 -43-13 -29-17 -14-12 -29-37 -44-75 -14-18 -14-7 -15 7 -14 20 -44 78 -14 21 -29 30 -43 25 -58 15z"/>
<path stroke="#c4ff3b" d="M2705 1681l29-6 29-9 29-14 14-11 14-14 15-17 14-21 44-80 14-20 15-8 14 7 14 19 44 78 14 20 15 17 14 12 29 17 14 6 29 7 43 5 73 1 72-4 86-8 73-11 57-12 58-17 43-16 44-21 43-28 43-36 29-30 43-57 29-46 72-136 29-50 15-21 14-15 15-10 14-3 14 3 15 10 14 15 15 21 29 50 57 111 29 49 29 43 43 52 44 40 43 30 43 23 58 23"/>
<path stroke="#ceff31" d="M2705 1681l29-6 29-9 29-15 14-10 14-13 15-17 14-21 44-78 14-20 15-7 14 7 14 18 44 75 14 21 15 16 14 12 29 17 14 6 29 7 43 5 58 1 72-3 87-8 72-10 58-11 58-16 43-15 58-27 43-27 43-36 29-31 43-56 29-46 72-133 29-49 15-20 14-16 15-9 14-3 14 3 15 9 14 16 15 20 29 49 57 108 29 49 29 43 43 51 44 40 43 30 43 23 58 23"/>
<path fill="#d8ff27" d="M2705 1681l58-15 43-25 29-30 14-21 44-78 14-20 15-7 14 7 14 18 44 75 29 37 14 12 29 17 43 13 43 5 58 1 159-11 130-21 101-31 58-27 43-27 43-36 29-31 43-56 29-46 101-182 29-36 15-9 14-3 14 3 15 9 29 36 115 206 29 43 43 51 44 40 43 30 43 23 58 23 0-1 -58-23 -43-23 -43-30 -44-40 -43-51 -29-41 -115-200 -29-33 -15-9 -14-3 -14 3 -15 9 -29 33 -115 199 -58 78 -29 29 -43 36 -43 28 -58 27 -101 31 -130 22 -159 10 -58-1 -43-5 -43-12 -29-17 -14-12 -29-35 -44-72 -14-17 -14-6 -15 7 -14 18 -44 74 -14 20 -29 30 -43 25 -58 15z"/>
<path stroke="#d8ff27" d="M2705 1681l29-6 29-9 29-15 14-10 14-13 15-17 14-21 44-76 14-18 15-8 14 7 14 18 44 73 14 20 15 16 14 12 29 17 14 5 29 8 43 5 58 1 72-3 87-8 72-10 58-12 58-15 43-15 58-27 43-28 43-36 29-30 43-56 29-45 72-131 29-49 15-19 14-15 15-9 14-3 14 3 15 9 14 15 15 19 29 49 57 106 29 48 29 42 43 52 44 39 43 30 43 24 58 23"/>
<path stroke="#e2ff1d" d="M2705 1681l29-6 29-9 29-15 14-10 29-30 14-20 44-74 14-18 15-7 14 6 14 17 44 72 29 35 14 12 29 17 43 12 43 5 58 1 72-3 87-7 72-11 58-11 58-16 43-15 58-27 43-28 43-36 29-29 29-36 29-42 29-47 57-105 29-47 15-19 14-14 15-9 14-3 14 3 15 9 14 14 15 19 29 47 57 105 29 48 29 41 43 51 44 40 43 30 43 23 58 23"/>
<path fill="#ebff14" d="M2705 1681l58-15 43-25 29-30 14-20 44-74 14-18 15-7 14 6 14 17 44 72 29 35 14 12 29 17 43 12 43 5 58 1 159-10 130-22 101-31 58-27 43-28 43-36 29-29 58-78 115-199 29-33 15-9 14-3 14 3 15 9 29 33 115 200 29 41 43 51 44 40 43 30 43 23 58 23 0-1 -58-23 -43-23 -43-30 -44-40 -43-50 -29-41 -115-192 -29-32 -15-9 -14-3 -14 3 -15 9 -29 32 -115 192 -29 41 -43 50 -29 27 -44 33 -43 25 -43 20 -101 31 -130 22 -159 11 -58-1 -43-5 -43-13 -29-16 -14-12 -29-34 -44-68 -14-16 -14-5 -15 6 -14 17 -44 70 -14 20 -29 29 -43 24 -58 15z"/>
<path stroke="#ebff14" d="M2705 1681l29-6 29-9 29-15 14-10 29-29 14-20 44-72 14-18 15-7 14 6 14 17 44 69 29 35 14 12 29 16 43 13 43 5 58 1 72-3 87-8 72-10 58-12 58-15 43-16 58-27 43-27 43-36 29-30 29-35 29-41 29-47 57-103 29-46 15-19 14-14 15-8 14-3 14 3 15 8 14 14 15 19 29 46 57 103 29 47 29 41 43 51 44 39 43 30 43 23 58 24"/>
<path stroke="#f5ff0a" d="M2705 1680l29-5 29-10 29-14 14-10 29-29 14-20 44-70 14-17 15-6 14 5 14 16 44 68 29 34 14 12 29 16 43 13 43 5 58 1 72-3 87-8 72-11 58-11 58-16 43-15 43-20 43-25 44-33 29-27 43-50 29-41 29-46 57-101 29-45 15-18 14-14 15-9 14-3 14 3 15 9 14 14 15 18 29 45 57 101 29 46 29 41 43 50 44 40 43 30 43 23 58 23"/>
<path fill="#ffff00" d="M2705 1680l58-15 43-24 29-29 14-20 44-70 14-17 15-6 14 5 14 16 44 68 29 34 14 12 29 16 43 13 43 5 58 1 159-11 130-22 101-31 43-20 43-25 44-33 29-27 43-50 29-41 115-192 29-32 15-9 14-3 14 3 15 9 29 32 115 192 29 41 43 50 44 40 43 30 43 23 58 23 0-1 -58-23 -43-24 -43-30 -44-38 -43-50 -29-40 -115-186 -29-30 -15-9 -14-2 -14 2 -15 9 -29 30 -115 186 -29 40 -43 49 -29 27 -44 33 -43 25 -58 25 -101 29 -130 21 -144 9 -58-1 -43-5 -43-12 -29-16 -14-12 -29-33 -44-64 -14-15 -14-5 -15 6 -14 16 -44 67 -14 19 -29 28 -43 24 -58 15z"/>
<path stroke="#ffff00" d="M2705 1680l29-6 29-9 29-14 14-10 29-29 14-19 44-68 14-17 15-6 14 5 14 16 44 66 14 18 29 27 14 9 29 12 44 10 57 4 58-1 72-5 72-7 58-9 58-12 58-15 43-16 43-19 43-25 44-33 29-27 43-50 29-41 29-45 57-100 29-44 15-17 14-14 15-8 14-3 14 3 15 8 14 14 15 17 29 44 57 100 29 45 29 41 43 50 44 39 43 30 43 23 58 24"/>
<path stroke="#fff500" d="M2705 1680l29-6 29-9 29-14 14-10 29-28 14-19 44-67 14-16 15-6 14 5 14 15 44 64 29 33 14 12 29 16 43 12 43 5 58 1 72-3 72-6 73-10 57-11 58-14 43-15 58-25 43-25 44-33 29-27 43-49 29-40 29-46 57-97 29-43 15-17 14-13 15-9 14-2 14 2 15 9 14 13 15 17 29 43 57 98 29 45 29 40 43 50 44 38 43 30 43 24 58 23"/>
<path fill="#ffeb00" d="M2705 1680l58-15 43-24 29-28 14-19 44-67 14-16 15-6 14 5 14 15 44 64 29 33 14 12 29 16 43 12 43 5 58 1 144-9 130-21 101-29 58-25 43-25 44-33 29-27 43-49 29-40 115-186 29-30 15-9 14-2 14 2 15 9 29 30 115 186 29 40 43 50 44 38 43 30 43 24 58 23 0-1 -58-23 -43-24 -43-30 -44-38 -43-49 -29-39 -115-180 -29-29 -15-8 -14-2 -14 2 -15 8 -29 29 -115 179 -29 40 -43 49 -29 26 -44 33 -43 25 -58 25 -101 29 -115 19 -144 12 -101-4 -44-9 -43-21 -29-26 -58-78 -14-14 -14-5 -15 6 -14 15 -58 81 -29 28 -43 24 -58 15z"/>
<path stroke="#ffeb00" d="M2705 1680l29-6 29-9 29-14 14-10 29-28 14-19 44-65 14-15 15-6 14 5 14 15 44 62 14 18 29 26 14 9 29 12 44 9 43 4 58 0 72-4 72-7 58-8 57-11 58-15 43-14 58-25 43-26 44-32 29-27 43-49 29-40 86-141 29-42 15-16 14-13 15-8 14-3 14 3 15 8 14 13 15 16 29 43 86 140 29 40 43 49 44 39 43 30 43 23 58 24"/>
<path stroke="#ffe200" d="M2705 1680l29-6 29-9 29-14 14-10 29-28 14-18 44-63 14-15 15-6 14 5 14 14 44 61 14 17 29 26 14 9 29 12 44 9 43 3 58 1 72-4 72-8 58-8 57-11 58-14 43-15 58-25 43-25 44-33 29-26 43-49 29-40 86-138 29-41 15-17 14-12 15-8 14-2 14 2 15 8 14 12 15 17 29 41 86 139 29 39 43 49 44 38 43 30 43 24 58 23"/>
<path fill="#ffd800" d="M2705 1680l58-15 43-24 29-28 58-81 14-15 15-6 14 5 14 14 58 78 29 26 43 21 44 9 101 4 144-12 115-19 101-29 58-25 43-25 44-33 29-26 43-49 29-40 115-179 29-29 15-8 14-2 14 2 15 8 29 29 115 180 29 39 43 49 44 38 43 30 43 24 58 23 0-1 -58-23 -43-24 -43-30 -29-24 -44-45 -28-36 -130-193 -29-28 -15-7 -14-3 -14 3 -15 7 -29 28 -29 39 -86 134 -29 39 -43 48 -29 27 -44 32 -43 25 -58 25 -101 29 -115 20 -144 11 -101-4 -44-9 -43-20 -29-25 -58-75 -14-13 -14-4 -15 5 -14 14 -58 78 -29 27 -43 24 -58 15z"/>
<path stroke="#ffd800" d="M2705 1680l29-6 29-9 29-14 14-10 29-27 58-80 14-15 15-5 14 5 14 13 44 59 14 17 29 26 14 9 29 12 44 9 43 3 58 0 72-4 72-7 58-8 57-11 58-15 43-14 58-25 43-26 44-32 29-27 43-48 29-39 86-136 29-41 15-16 14-12 15-7 14-3 14 3 15 7 14 12 15 16 29 41 86 136 29 39 43 49 44 38 43 30 43 23 58 24"/>
<path stroke="#ffce00" d="M2705 1680l29-6 29-9 29-14 14-10 29-27 58-78 14-14 15-5 14 4 14 13 58 75 29 25 14 8 29 12 44 9 43 4 58 0 72-4 72-7 58-9 57-11 58-14 43-15 58-25 43-25 44-32 29-27 43-48 29-39 86-134 29-39 15-16 14-12 15-7 14-3 14 3 15 7 14 12 15 16 29 39 57 91 44 63 28 36 44 45 29 24 43 30 43 24 58 23"/>
<path fill="#ffc400" d="M2705 1680l58-15 43-24 29-27 58-78 14-14 15-5 14 4 14 13 58 75 29 25 43 20 44 9 101 4 144-11 115-20 101-29 58-25 43-25 44-32 29-27 43-48 29-39 86-134 29-39 29-28 15-7 14-3 14 3 15 7 29 28 130 193 28 36 44 45 29 24 43 30 43 24 58 23 0-1 -58-24 -43-23 -43-29 -29-25 -44-44 -28-35 -101-150 -29-38 -29-26 -15-7 -14-2 -14 2 -15 7 -29 26 -29 38 -86 130 -43 55 -29 30 -44 38 -43 30 -43 23 -44 18 -101 30 -115 19 -144 11 -101-3 -44-9 -43-20 -29-25 -58-70 -14-13 -14-4 -15 5 -14 13 -58 75 -29 26 -43 23 -58 15z"/>
<path stroke="#ffc400" d="M2705 1679l29-6 29-9 29-13 14-10 29-27 58-76 14-13 15-6 14 5 14 12 58 73 29 25 14 8 29 12 44 9 43 4 58 0 72-4 72-8 58-8 57-11 58-15 43-14 58-26 43-25 44-32 29-26 43-48 29-38 86-132 29-39 15-15 14-12 15-7 14-2 14 2 15 7 14 12 15 15 29 39 72 111 29 40 28 36 44 45 29 24 43 30 43 23 58 24"/>
<path stroke="#ffba00" d="M2705 1679l29-6 29-9 29-13 14-10 29-26 58-75 14-13 15-5 14 4 14 13 58 70 29 25 14 8 29 12 44 9 43 3 58 0 72-4 72-7 58-8 57-11 58-15 43-15 44-18 43-23 43-30 44-38 29-30 43-55 86-130 29-38 15-15 14-11 15-7 14-2 14 2 15 7 14 11 15 15 29 38 72 110 29 40 28 35 44 44 29 25 43 29 43 23 58 24"/>
<path fill="#ffb100" d="M2705 1679l58-15 43-23 29-26 58-75 14-13 15-5 14 4 14 13 58 70 29 25 43 20 44 9 101 3 144-11 115-19 101-30 44-18 43-23 43-30 44-38 29-30 43-55 86-130 29-38 29-26 15-7 14-2 14 2 15 7 29 26 29 38 101 150 28 35 44 44 29 25 43 29 43 23 58 24 0-1 -58-24 -43-23 -43-29 -29-24 -44-44 -28-35 -101-145 -29-36 -29-25 -15-7 -14-2 -14 2 -15 7 -29 25 -29 36 -101 145 -28 35 -44 43 -43 35 -43 27 -44 22 -43 16 -101 28 -116 18 -129 10 -101-3 -44-9 -43-20 -29-24 -58-67 -14-12 -14-4 -15 5 -14 12 -58 72 -29 25 -43 23 -58 15z"/>
<path stroke="#ffb100" d="M2705 1679l29-6 29-9 29-14 14-9 29-26 58-73 14-12 15-5 14 4 14 12 58 69 29 24 14 8 29 12 44 9 43 3 58 0 57-3 72-7 58-7 58-11 58-14 43-13 58-23 43-24 43-29 29-24 44-44 28-35 29-40 72-107 29-37 15-15 14-11 15-7 14-2 14 2 15 7 14 11 15 15 29 37 72 107 29 40 28 35 44 44 29 24 43 30 43 23 58 24"/>
<path stroke="#ffa700" d="M2705 1679l29-6 29-9 29-14 14-9 29-25 58-72 14-12 15-5 14 4 14 12 58 67 29 24 14 8 29 12 44 9 43 3 58 0 57-3 72-7 58-8 58-10 58-14 43-14 43-16 44-22 43-27 43-35 44-43 28-35 29-39 72-106 29-36 15-14 14-11 15-7 14-2 14 2 15 7 14 11 15 14 29 36 72 106 29 39 28 35 44 44 29 24 43 29 43 23 58 24"/>
<path fill="#ff9d00" d="M2705 1679l58-15 43-23 29-25 58-72 14-12 15-5 14 4 14 12 58 67 29 24 43 20 44 9 101 3 129-10 116-18 101-28 43-16 44-22 43-27 43-35 44-43 28-35 101-145 29-36 29-25 15-7 14-2 14 2 15 7 29 25 29 36 101 145 28 35 44 44 29 24 43 29 43 23 58 24 0-1 -43-17 -44-21 -43-28 -43-34 -44-43 -28-34 -101-141 -29-35 -29-24 -15-6 -14-2 -14 2 -15 6 -29 24 -29 35 -101 140 -28 35 -44 43 -43 34 -43 27 -44 22 -43 17 -101 27 -116 19 -129 9 -101-3 -44-9 -43-19 -29-23 -58-65 -14-10 -14-4 -15 5 -14 11 -58 68 -29 25 -43 23 -58 15z"/>
<path stroke="#ff9d00" d="M2705 1679l29-6 29-9 29-14 14-9 29-25 58-70 14-12 15-4 14 3 14 11 58 66 29 24 14 8 29 11 44 9 43 4 58 0 57-3 72-7 58-8 58-11 58-13 43-14 43-17 44-21 43-27 43-35 44-43 28-35 29-38 72-105 29-35 15-14 14-10 15-7 14-2 14 2 15 7 14 10 15 14 29 36 72 104 29 38 28 35 44 43 43 35 43 27 44 22 43 17"/>
<path stroke="#ff9300" d="M2705 1679l29-6 29-9 29-14 14-9 29-25 58-68 14-11 15-5 14 4 14 10 58 65 29 23 14 8 29 11 44 9 43 3 58 0 57-3 72-6 58-8 58-11 58-14 43-13 43-17 44-22 43-27 43-34 44-43 28-35 101-140 29-35 15-14 14-10 15-6 14-2 14 2 15 6 14 11 15 13 29 35 101 141 28 34 44 43 43 34 43 28 44 21 43 17"/>
<path fill="#ff8900" d="M2705 1679l58-15 43-23 29-25 58-68 14-11 15-5 14 4 14 10 58 65 29 23 43 19 44 9 101 3 129-9 116-19 101-27 43-17 44-22 43-27 43-34 44-43 28-35 101-140 29-35 29-24 15-6 14-2 14 2 15 6 29 24 29 35 101 141 28 34 44 43 43 34 43 28 44 21 43 17 0-1 -87-38 -43-27 -43-35 -44-42 -28-34 -101-136 -29-34 -29-22 -29-9 -29 8 -29 23 -29 34 -101 136 -28 34 -44 42 -43 34 -43 27 -44 22 -43 17 -101 27 -116 19 -129 10 -101-3 -44-9 -43-19 -29-23 -58-61 -14-10 -14-3 -15 4 -14 11 -58 65 -29 24 -43 23 -58 14z"/>
<path stroke="#ff8900" d="M2705 1678l29-5 29-9 29-14 14-9 29-24 58-67 14-11 15-5 14 4 14 10 58 63 29 23 14 8 29 11 44 9 43 3 58 0 57-3 72-7 58-8 58-10 58-14 43-14 43-17 44-21 43-27 43-35 44-42 28-34 101-139 29-34 15-13 14-10 15-6 14-2 14 2 15 6 14 10 15 13 29 34 101 139 28 34 44 43 43 34 43 27 44 22 43 17"/>
<path stroke="#ff8000" d="M2705 1678l29-6 29-8 29-14 14-9 29-24 58-65 14-11 15-4 14 3 14 10 58 61 29 23 14 8 29 11 44 9 43 3 58 0 57-3 72-7 58-8 58-11 58-14 43-13 43-17 44-22 43-27 43-34 44-42 28-34 101-136 29-34 15-13 14-10 15-6 14-2 14 2 15 7 14 9 15 13 29 34 101 136 28 34 44 42 43 35 43 27 44 21 43 17"/>
<path fill="#ff7600" d="M2705 1678l58-14 43-23 29-24 58-65 14-11 15-4 14 3 14 10 58 61 29 23 43 19 44 9 101 3 129-10 116-19 101-27 43-17 44-22 43-27 43-34 44-42 28-34 101-136 29-34 29-23 29-8 29 9 29 22 29 34 101 136 28 34 44 42 43 35 43 27 87 38 0-1 -87-38 -43-27 -43-34 -44-42 -28-33 -101-133 -29-32 -29-21 -29-8 -29 7 -29 22 -29 32 -115 150 -29 31 -43 39 -44 31 -43 25 -86 36 -101 25 -116 18 -130 9 -86-4 -44-9 -43-18 -29-22 -58-58 -14-10 -14-3 -15 4 -14 10 -58 63 -29 23 -43 22 -58 15z"/>
<path stroke="#ff7600" d="M2705 1678l29-6 29-9 29-13 14-9 29-24 58-63 14-11 15-4 14 3 14 10 58 60 29 22 14 7 29 12 29 6 29 4 43 2 58-1 58-4 72-7 58-9 57-11 44-11 43-14 43-17 44-21 43-27 43-34 44-42 28-34 101-134 29-33 15-12 14-10 15-6 14-2 14 2 15 6 14 10 15 12 29 33 101 135 28 33 44 42 43 34 43 27 44 22 43 17"/>
<path stroke="#ff6c00" d="M2705 1678l29-6 29-9 29-13 14-9 29-23 58-63 14-10 15-4 14 3 14 10 58 58 29 22 14 7 29 11 44 9 43 3 43 1 58-3 72-6 58-8 58-10 57-13 44-12 43-16 43-20 43-25 44-31 43-39 29-31 43-54 72-96 29-32 15-12 14-10 15-5 14-2 14 2 15 6 14 9 15 12 29 32 101 133 28 33 44 42 43 34 43 27 44 21 43 17"/>
<path fill="#ff6200" d="M2705 1678l58-15 43-22 29-23 58-63 14-10 15-4 14 3 14 10 58 58 29 22 43 18 44 9 86 4 130-9 116-18 101-25 86-36 43-25 44-31 43-39 29-31 115-150 29-32 29-22 29-7 29 8 29 21 29 32 101 133 28 33 44 42 43 34 43 27 87 38 0-1 -87-38 -72-48 -43-39 -29-31 -115-145 -29-31 -29-21 -29-7 -29 7 -29 21 -29 31 -115 145 -29 31 -43 38 -44 31 -43 25 -86 36 -87 23 -116 19 -115 9 -101-1 -58-10 -43-18 -29-21 -58-56 -14-9 -14-3 -15 4 -14 10 -58 59 -29 23 -43 22 -58 15z"/>
<path stroke="#ff6200" d="M2705 1678l29-6 29-9 29-13 14-9 29-23 58-61 14-10 15-4 14 3 14 9 58 57 29 22 14 7 29 11 44 9 43 3 43 0 58-2 72-6 58-8 58-10 57-13 44-13 43-16 43-19 43-25 44-31 43-39 29-31 43-53 72-94 29-32 15-12 14-9 15-6 14-2 14 2 15 6 14 9 29 27 29 35 87 112 43 48 29 27 43 33 43 27 44 22 43 17"/>
<path stroke="#ff5800" d="M2705 1678l29-6 29-9 29-13 14-9 29-23 58-59 14-10 15-4 14 3 14 9 58 56 29 21 14 7 29 11 29 7 29 3 43 2 58-1 115-9 58-8 58-11 87-23 43-16 43-20 43-25 44-31 43-38 29-31 29-34 86-111 29-31 15-12 14-9 15-5 14-2 14 2 15 5 14 9 15 12 29 31 86 111 29 34 29 31 43 39 29 21 43 27 44 21 43 17"/>
<path fill="#ff4e00" d="M2705 1678l58-15 43-22 29-23 58-59 14-10 15-4 14 3 14 9 58 56 29 21 43 18 58 10 101 1 115-9 116-19 87-23 86-36 43-25 44-31 43-38 29-31 115-145 29-31 29-21 29-7 29 7 29 21 29 31 115 145 29 31 43 39 72 48 87 38 0 0 -87-39 -72-48 -72-68 -130-157 -29-26 -14-8 -29-7 -29 7 -14 8 -29 26 -130 157 -72 68 -44 31 -43 24 -86 36 -87 23 -116 19 -115 10 -101-1 -58-10 -43-18 -29-21 -58-53 -14-8 -14-3 -15 4 -14 9 -58 57 -29 23 -43 21 -58 15z"/>
<path stroke="#ff4e00" d="M2705 1678l29-6 29-9 29-13 14-9 29-22 58-58 14-10 15-4 14 3 14 9 58 54 29 21 14 7 29 11 29 6 29 4 43 2 58-1 115-10 58-8 58-11 87-23 43-16 43-19 43-25 44-31 43-39 29-30 43-51 58-74 29-34 29-26 14-8 15-6 14-2 14 2 15 6 14 8 29 26 29 34 58 74 43 51 29 31 43 38 29 22 43 26 44 22 43 17"/>
<path stroke="#ff4500" d="M2705 1678l29-6 29-9 29-13 14-8 29-23 58-57 14-9 15-4 14 3 14 8 58 53 29 21 14 7 29 11 29 6 29 4 43 2 58-1 115-10 58-8 58-11 87-23 43-16 43-20 43-24 44-31 43-39 29-29 43-52 58-73 29-32 29-26 14-8 15-5 14-2 14 2 15 5 14 8 29 26 29 33 58 73 43 51 29 30 43 38 29 21 43 27 44 21 43 18"/>
<path fill="#ff3b00" d="M2705 1678l58-15 43-21 29-23 58-57 14-9 15-4 14 3 14 8 58 53 29 21 43 18 58 10 101 1 115-10 116-19 87-23 86-36 43-24 44-31 72-68 130-157 29-26 14-8 29-7 29 7 14 8 29 26 130 157 72 68 72 48 87 39 0-1 -87-39 -72-47 -72-68 -130-152 -29-24 -14-9 -29-6 -29 6 -14 8 -29 25 -130 152 -72 67 -44 31 -43 24 -86 36 -87 23 -116 19 -115 10 -101-1 -43-6 -44-14 -43-27 -58-51 -14-8 -14-2 -15 3 -14 9 -58 55 -43 30 -44 17 -43 10z"/>
<path stroke="#ff3b00" d="M2705 1677l43-9 44-18 28-19 15-11 58-56 14-9 15-4 14 3 14 8 58 52 15 10 28 17 44 14 43 6 43 2 58-1 115-9 58-9 58-10 87-24 43-15 43-20 43-25 44-31 43-38 29-29 29-33 72-90 29-32 29-25 14-8 15-5 14-2 14 2 15 5 14 9 29 24 29 32 72 90 29 33 29 30 43 38 29 21 43 27 44 21 43 17"/>
<path stroke="#ff3100" d="M2705 1677l43-10 44-17 28-18 15-12 58-55 14-9 15-3 14 2 14 8 58 51 15 11 28 16 44 14 43 6 43 2 58-1 115-10 58-8 58-11 87-23 43-16 43-20 43-24 44-31 43-38 29-29 29-33 72-88 29-31 29-25 14-8 15-5 14-1 14 1 15 5 14 9 29 24 29 31 101 121 29 30 43 38 29 21 43 26 44 22 43 17"/>
<path fill="#ff2700" d="M2705 1677l43-10 44-17 43-30 58-55 14-9 15-3 14 2 14 8 58 51 43 27 44 14 43 6 101 1 115-10 116-19 87-23 86-36 43-24 44-31 72-67 130-152 29-25 14-8 29-6 29 6 14 9 29 24 130 152 72 68 72 47 87 39 0-1 -87-38 -72-48 -72-66 -130-148 -29-24 -14-7 -29-7 -29 7 -14 7 -29 24 -130 148 -43 42 -44 35 -43 28 -43 23 -87 33 -86 22 -116 18 -115 8 -87-1 -43-6 -44-14 -43-27 -58-48 -14-7 -14-3 -15 4 -14 8 -58 53 -43 29 -44 17 -43 10z"/>
<path stroke="#ff2700" d="M2705 1677l43-10 44-17 28-18 15-12 58-53 14-9 15-3 14 2 14 8 58 49 15 11 28 16 44 14 43 6 43 2 58-1 115-10 58-8 58-11 87-23 43-16 43-20 43-24 44-31 43-38 29-29 101-119 29-31 29-24 14-8 15-4 14-2 14 2 15 4 14 9 29 23 29 31 101 119 29 30 43 37 29 21 43 27 44 21 43 17"/>
<path stroke="#ff1d00" d="M2705 1677l43-10 44-17 28-18 15-11 58-53 14-8 15-4 14 3 14 7 58 48 15 11 28 16 44 14 43 6 43 2 44-1 115-8 58-8 58-10 86-22 43-15 44-18 43-23 43-28 44-35 43-42 101-118 29-30 29-24 14-7 15-5 14-2 14 2 15 5 14 7 29 24 29 30 101 118 29 29 43 37 29 21 43 27 44 21 43 17"/>
<path fill="#ff1400" d="M2705 1677l43-10 44-17 43-29 58-53 14-8 15-4 14 3 14 7 58 48 43 27 44 14 43 6 87 1 115-8 116-18 86-22 87-33 43-23 43-28 44-35 43-42 130-148 29-24 14-7 29-7 29 7 14 7 29 24 130 148 72 66 72 48 87 38 0-1 -87-38 -72-47 -72-66 -130-143 -29-23 -14-7 -29-7 -29 7 -14 7 -29 22 -130 144 -43 42 -44 34 -43 28 -43 23 -87 33 -86 22 -116 18 -115 9 -87-2 -43-6 -44-13 -43-26 -58-46 -14-7 -14-2 -15 3 -14 8 -58 50 -43 29 -44 17 -43 10z"/>
<path stroke="#ff1400" d="M2705 1677l43-10 44-17 28-18 15-11 58-51 14-9 15-3 14 2 14 8 58 47 15 10 28 16 44 13 43 7 43 2 44-1 115-9 58-8 58-10 86-22 43-14 44-19 43-22 43-29 44-34 43-42 101-116 29-30 29-23 14-7 15-5 14-2 14 2 15 5 14 7 29 23 29 30 101 116 43 42 29 24 29 21 43 26 44 21 43 18"/>
<path stroke="#ff0a00" d="M2705 1677l43-10 44-17 28-18 15-11 58-50 14-8 15-3 14 2 14 7 58 46 15 10 28 16 44 13 43 6 43 2 44 0 115-9 58-8 58-10 86-22 43-15 44-18 43-23 43-28 44-34 43-42 101-114 29-30 29-22 14-7 15-5 14-2 14 2 15 5 14 7 29 23 29 29 101 114 43 42 29 24 29 21 43 26 44 21 43 17"/>
<path fill="#ff0000" d="M2705 1677l43-10 44-17 43-29 58-50 14-8 15-3 14 2 14 7 58 46 43 26 44 13 43 6 87 2 115-9 116-18 86-22 87-33 43-23 43-28 44-34 43-42 130-144 29-22 14-7 29-7 29 7 14 7 29 23 130 143 72 66 72 47 87 38 0-1 -87-38 -72-47 -72-64 -130-140 -43-28 -29-6 -29 6 -43 28 -144 154 -73 61 -43 28 -43 22 -87 33 -86 22 -116 18 -115 9 -87-1 -43-6 -44-13 -43-25 -58-44 -14-7 -14-2 -15 3 -14 8 -58 48 -43 28 -44 17 -43 10z"/>
<path stroke="#ff0000" d="M2705 1677l43-10 44-17 28-17 15-11 58-50 14-7 15-3 14 2 14 6 58 45 15 10 28 16 44 13 43 6 43 2 44-1 115-8 58-8 58-10 86-22 43-15 44-18 43-23 43-28 44-34 43-42 101-112 29-29 29-22 14-7 15-5 14-1 14 1 15 5 14 7 29 22 29 29 101 113 43 41 29 24 29 20 43 26 44 22 43 17"/>
<path stroke="#f50000" d="M2705 1677l43-10 44-17 28-17 15-11 58-48 14-8 15-3 14 2 14 7 58 44 15 9 28 16 44 13 43 6 43 2 44-1 115-9 58-7 58-11 86-22 43-15 44-18 43-22 43-28 44-34 29-27 43-45 72-81 29-28 29-21 14-7 15-5 14-1 14 1 15 5 14 7 29 21 29 29 101 111 43 41 29 23 29 21 43 26 44 21 43 17"/>
<path fill="#eb0000" d="M2705 1677l43-10 44-17 43-28 58-48 14-8 15-3 14 2 14 7 58 44 43 25 44 13 43 6 87 1 115-9 116-18 86-22 87-33 43-22 43-28 73-61 144-154 43-28 29-6 29 6 43 28 130 140 72 64 72 47 87 38 0 0 -87-39 -72-46 -72-63 -130-136 -43-28 -29-5 -29 5 -43 28 -144 149 -73 60 -43 28 -43 22 -87 34 -101 24 -101 16 -115 9 -87-2 -43-5 -44-14 -43-24 -58-42 -14-6 -14-2 -15 3 -14 7 -58 47 -43 27 -44 17 -43 9z"/>
<path stroke="#eb0000" d="M2705 1676l43-9 44-17 43-28 58-47 14-7 15-3 14 2 14 6 58 43 15 10 28 14 44 14 43 6 43 2 44-1 115-9 58-8 58-10 86-22 43-15 44-18 43-23 43-28 44-33 29-27 43-44 72-80 29-28 29-21 14-7 15-4 14-1 14 1 15 4 14 8 29 21 29 27 101 110 43 41 29 23 29 21 43 26 44 21 43 17"/>
<path stroke="#e20000" d="M2705 1676l43-9 44-17 43-27 58-47 14-7 15-3 14 2 14 6 58 42 15 10 28 14 44 14 43 5 43 2 44 0 115-9 101-16 58-12 43-12 43-15 44-19 43-22 43-28 44-33 29-27 43-44 72-78 29-27 29-21 14-7 15-4 14-1 14 1 15 4 14 7 29 21 29 27 101 109 43 40 29 23 29 20 43 26 44 22 43 17"/>
<path fill="#d80000" d="M2705 1676l43-9 44-17 43-27 58-47 14-7 15-3 14 2 14 6 58 42 43 24 44 14 43 5 87 2 115-9 101-16 101-24 87-34 43-22 43-28 73-60 144-149 43-28 29-5 29 5 43 28 130 136 72 63 72 46 87 39 0-1 -72-31 -72-43 -73-59 -144-146 -43-26 -29-6 -29 6 -43 26 -144 146 -73 59 -43 27 -43 23 -44 18 -57 19 -87 21 -101 15 -115 9 -87-1 -43-6 -44-13 -28-14 -73-49 -28-8 -29 10 -73 55 -28 16 -44 16 -43 10z"/>
<path stroke="#d80000" d="M2705 1676l43-10 44-16 28-17 73-55 14-7 15-3 14 2 14 6 58 41 43 23 44 13 43 6 43 2 44 0 115-10 101-15 87-21 57-19 44-18 43-22 43-28 44-33 29-26 43-44 72-77 29-27 29-20 14-7 15-4 14-1 14 1 15 4 14 7 29 20 29 27 72 77 43 44 29 26 44 33 29 19 43 25 72 30"/>
<path stroke="#ce0000" d="M2705 1676l43-10 44-16 28-16 73-55 14-7 15-3 14 2 14 6 73 49 28 14 44 13 43 6 43 2 44-1 115-9 101-15 87-21 57-19 44-18 43-23 43-27 44-33 29-26 115-119 29-27 29-20 14-6 15-4 14-2 14 2 15 4 14 7 29 19 29 27 115 119 29 26 44 33 29 19 43 24 72 31"/>
<path fill="#c40000" d="M2705 1676l43-10 44-16 28-16 73-55 29-10 28 8 73 49 28 14 44 13 43 6 87 1 115-9 101-15 87-21 57-19 44-18 43-23 43-27 73-59 144-146 43-26 29-6 29 6 43 26 144 146 73 59 72 43 72 31 0-1 -72-30 -72-43 -73-58 -115-117 -29-25 -43-26 -29-5 -29 5 -43 26 -29 25 -115 116 -44 37 -43 31 -43 26 -44 21 -86 30 -87 21 -101 16 -115 9 -87-1 -43-6 -44-13 -28-14 -73-47 -28-7 -29 9 -73 53 -28 16 -44 16 -43 10z"/>
<path stroke="#c40000" d="M2705 1676l43-10 44-16 28-16 73-54 14-6 15-3 14 1 14 6 73 48 28 14 44 13 43 6 43 2 44-1 115-9 101-16 87-20 43-14 43-17 44-21 43-26 43-31 44-37 115-118 29-25 29-20 14-6 15-4 14-2 14 2 15 4 14 6 29 20 29 25 115 118 29 26 44 33 29 19 43 24 72 31"/>
<path stroke="#ba0000" d="M2705 1676l43-10 44-16 28-16 73-53 14-6 15-3 14 2 14 5 73 47 28 14 44 13 43 6 43 1 44 0 115-9 101-16 87-21 43-13 43-17 44-21 43-26 43-31 44-37 115-116 29-25 29-19 14-7 15-4 14-1 14 1 15 4 14 7 29 19 29 25 115 117 44 37 29 21 29 19 43 24 72 30"/>
<path fill="#b10000" d="M2705 1676l43-10 44-16 28-16 73-53 29-9 28 7 73 47 28 14 44 13 43 6 87 1 115-9 101-16 87-21 86-30 44-21 43-26 43-31 44-37 115-116 29-25 43-26 29-5 29 5 43 26 29 25 115 117 73 58 72 43 72 30 0 0 -72-31 -72-42 -73-58 -101-100 -43-38 -43-24 -29-5 -29 5 -43 24 -43 38 -101 100 -44 36 -43 31 -43 25 -44 21 -86 31 -87 20 -101 16 -101 9 -87 0 -57-6 -44-13 -28-13 -73-45 -28-7 -29 9 -73 50 -28 16 -44 16 -43 10z"/>
<path stroke="#b10000" d="M2705 1676l43-10 44-16 28-16 73-51 14-7 15-2 14 1 14 5 73 47 28 13 44 13 43 5 43 2 44 0 115-10 101-15 87-21 43-14 43-17 44-21 43-25 43-31 44-36 115-115 29-25 29-19 14-6 15-4 14-1 14 1 15 4 14 6 29 19 29 25 115 115 44 37 29 21 29 18 43 24 72 31"/>
<path stroke="#a70000" d="M2705 1676l43-10 44-16 28-16 73-50 14-7 15-2 14 1 14 6 73 45 28 13 44 13 57 6 87 0 101-9 101-16 87-20 43-14 43-17 44-21 43-25 43-31 44-36 101-100 43-38 29-18 14-6 15-4 14-1 14 1 15 4 14 6 29 18 43 38 101 100 44 36 29 22 29 18 43 24 72 31"/>
<path fill="#9d0000" d="M2705 1676l43-10 44-16 28-16 73-50 29-9 28 7 73 45 28 13 44 13 57 6 87 0 101-9 101-16 87-20 86-31 44-21 43-25 43-31 44-36 101-100 43-38 43-24 29-5 29 5 43 24 43 38 101 100 73 58 72 42 72 31 0-1 -72-31 -72-42 -73-56 -101-98 -43-37 -43-23 -29-5 -29 5 -43 23 -43 37 -101 97 -44 36 -43 30 -87 46 -86 31 -87 21 -101 16 -101 8 -87 1 -57-7 -44-12 -28-13 -73-43 -28-6 -29 8 -73 49 -28 15 -44 16 -43 9z"/>
<path stroke="#9d0000" d="M2705 1675l43-9 44-16 28-15 73-50 14-6 15-3 14 2 14 5 73 44 28 13 44 12 57 7 87-1 101-8 101-16 87-21 43-14 43-16 44-21 43-25 43-31 44-36 101-98 43-38 29-18 14-6 15-3 14-2 14 2 15 3 14 6 29 18 43 38 101 98 44 36 29 21 29 19 43 24 72 30"/>
<path stroke="#930000" d="M2705 1675l43-9 44-16 28-15 73-49 14-6 15-2 14 1 14 5 73 43 28 13 44 12 57 7 87-1 101-8 101-16 87-21 43-14 43-17 44-20 43-26 43-30 44-36 101-97 43-37 29-17 14-6 29-5 29 5 14 6 29 17 43 37 101 98 44 35 29 21 29 19 43 23 72 31"/>
</g></g>
<path transform="scale(.1)" fill="none" stroke="#000" stroke-width="16.5" stroke-dasharray="54 50" d="M2705 1682l43-9 29-12 15-9 14-11 14-14 15-19 14-24 15-30 29-66 14-26 15-10 14 9 14 25 29 65 15 29 14 23 15 18 14 14 14 10 15 8 14 6 29 7 43 5 73 1 86-4 87-9 72-12 58-12 57-18 44-17 43-23 29-19 14-11 29-25 15-15 29-35 28-41 29-50 29-57 58-126 14-29 15-24 14-19 15-12 14-4 14 4 15 12 14 19 15 24 14 29 58 126 29 57 29 50 14 22 29 38 14 16 29 28 15 12 29 21 28 18 29 14 29 13 29 10"/>
</g>
<g stroke="#262626" stroke-width="0.66" fill="none">
<rect x="500.50" y="43.50" width="173.40" height="127.00"/>
<path d="M543.85 170.50v-1.70M543.85 43.50v1.70M587.20 170.50v-1.70M587.20 43.50v1.70M630.55 170.50v-1.70M630.55 43.50v1.70M500.50 138.75h1.70M673.90 138.75h-1.70M500.50 107.00h1.70M673.90 107.00h-1.70M500.50 75.25h1.70M673.90 75.25h-1.70"/>
</g>
<g clip-path="url(#c2)"><g filter="url(#bl)"><g transform="scale(.1)" fill="none" stroke-linejoin="miter" stroke-miterlimit="8" stroke-width="11.5">
<path stroke="#000093" d="M5005 1673l159-14 58-8 43-9 43-12 29-12 29-16 29-25 15-17 14-22 14-28 15-36 14-46 15-57 43-204 15-41 14-6 15 31 43 171 14 45 15 34 14 24 15 15 14 8 15 2 14-1 15-6 14-8 29-25 29-36 29-47 29-60 28-73 29-90 29-106 72-310 29-106 15-38 14-23 15-9 14 9 15 24 14 38 29 106 58 253 43 167 15 47 29 84 28 68 29 57 29 46 44 55 28 30 44 35 43 27 58 28 58 20 72 20"/>
<path fill="#00009d" d="M5005 1673l159-14 101-17 43-12 29-12 29-16 29-25 29-39 29-64 29-103 43-204 15-41 14-6 15 31 43 171 14 45 15 34 14 24 15 15 14 8 15 2 14-1 29-14 29-25 29-36 29-47 29-60 28-73 29-90 29-106 72-310 29-106 15-38 14-23 15-9 14 9 15 24 14 38 29 106 58 253 43 167 44 131 28 68 29 57 29 46 44 55 28 30 44 35 43 27 58 28 58 20 72 20 0-2 -58-16 -58-20 -57-27 -44-26 -43-34 -29-28 -43-53 -29-45 -44-86 -43-115 -43-150 -101-422 -15-43 -14-30 -15-15 -14 2 -15 17 -14 33 -15 44 -101 422 -29 102 -29 84 -28 70 -29 56 -29 45 -29 35 -43 34 -29 10 -15-1 -14-4 -15-10 -14-17 -15-25 -14-36 -58-220 -14-28 -15 9 -14 44 -44 203 -29 100 -28 62 -29 37 -44 33 -29 13 -43 14 -101 18 -159 14z"/>
<path stroke="#00009d" d="M5005 1674l159-14 58-9 43-9 43-13 29-12 29-18 15-12 14-15 15-19 14-25 14-31 15-40 14-50 15-62 29-141 14-56 15-26 14 12 15 44 28 120 15 52 14 40 15 30 14 19 15 13 14 6 15 1 14-2 15-6 14-9 29-25 29-35 29-46 29-58 28-72 29-87 29-104 72-309 29-110 15-42 14-28 15-13 14 4 15 19 14 34 15 46 14 55 72 313 44 159 14 44 29 78 29 64 29 53 29 44 43 51 29 28 43 33 44 25 57 27 58 20 58 15"/>
<path stroke="#0000a7" d="M5005 1674l159-14 58-9 43-9 43-14 29-13 29-20 15-13 14-16 15-21 14-27 14-35 15-44 14-56 44-203 14-44 15-9 14 28 43 172 15 48 14 36 15 25 14 17 15 10 14 4 15 1 14-4 15-6 14-9 29-25 29-35 29-45 29-56 28-70 29-84 29-102 29-117 43-190 29-115 15-44 14-33 15-17 14-2 15 15 14 30 15 43 28 112 73 310 43 150 15 42 28 73 15 32 29 54 29 45 43 53 29 28 43 34 44 26 57 27 58 20 58 16"/>
<path fill="#0000b1" d="M5005 1674l159-14 101-18 43-14 29-13 44-33 29-37 28-62 29-100 44-203 14-44 15-9 14 28 58 220 14 36 15 25 14 17 15 10 14 4 15 1 29-10 43-34 29-35 29-45 29-56 28-70 29-84 29-102 101-422 15-44 14-33 15-17 14-2 15 15 14 30 15 43 101 422 43 150 43 115 44 86 29 45 43 53 29 28 43 34 44 26 57 27 58 20 58 16 0-2 -58-16 -58-21 -57-29 -44-27 -43-36 -29-30 -43-56 -29-47 -29-58 -29-70 -43-133 -44-169 -58-252 -28-103 -15-36 -14-21 -15-5 -14 12 -15 26 -14 41 -29 108 -72 310 -29 105 -29 89 -29 73 -29 59 -29 48 -43 53 -43 34 -29 11 -29 0 -15-6 -14-12 -15-18 -14-28 -15-37 -57-223 -15-25 -14 12 -15 47 -43 202 -29 97 -29 60 -29 36 -43 32 -29 12 -43 13 -101 18 -145 12z"/>
<path stroke="#0000b1" d="M5005 1674l87-7 72-7 58-9 43-10 43-14 29-14 29-21 15-15 14-18 15-24 14-30 14-38 15-49 14-61 29-140 15-58 14-29 15 9 14 42 43 174 15 43 14 31 15 22 14 14 15 8 14 3 15-1 14-4 15-6 14-9 29-25 29-34 14-21 29-49 29-61 29-75 29-91 29-107 86-367 15-48 14-36 15-23 14-6 15 10 14 25 15 40 28 107 73 312 43 154 15 43 28 75 15 33 29 56 29 46 43 54 29 29 43 35 44 27 57 27 58 21 58 16"/>
<path stroke="#0000ba" d="M5005 1674l145-12 57-9 44-9 43-13 29-12 29-19 14-13 15-16 14-20 15-26 14-34 14-43 15-54 43-202 15-47 14-12 15 25 14 52 29 121 14 50 15 37 14 28 15 18 14 12 15 6 14 2 15-2 29-11 14-9 29-25 29-33 14-20 29-48 29-59 29-73 29-89 29-105 72-310 29-108 14-41 15-26 14-12 15 5 14 21 15 36 28 103 58 252 44 169 14 48 29 85 29 70 29 58 29 47 43 56 29 30 43 36 44 27 57 29 58 21 58 16"/>
<path fill="#0000c4" d="M5005 1674l145-12 101-18 43-13 29-12 43-32 29-36 29-60 29-97 43-202 15-47 14-12 15 25 57 223 15 37 14 28 15 18 14 12 15 6 29 0 29-11 43-34 43-53 29-48 29-59 29-73 29-89 29-105 72-310 29-108 14-41 15-26 14-12 15 5 14 21 15 36 28 103 58 252 44 169 43 133 29 70 29 58 29 47 43 56 29 30 43 36 44 27 57 29 58 21 58 16 0-2 -58-17 -58-22 -43-21 -43-27 -44-35 -29-28 -43-54 -29-46 -43-87 -43-117 -44-153 -72-311 -29-110 -14-40 -15-27 -14-12 -15 5 -14 21 -29 82 -87 367 -29 108 -29 92 -29 76 -28 62 -29 51 -44 57 -43 39 -43 22 -29 3 -15-3 -14-8 -15-13 -14-20 -15-29 -14-40 -58-224 -14-22 -15 15 -14 49 -44 202 -28 94 -29 58 -29 35 -44 30 -28 12 -44 13 -101 16 -130 11z"/>
<path stroke="#0000c4" d="M5005 1674l145-12 57-9 44-9 43-14 29-13 29-21 14-14 15-17 14-23 15-29 14-38 14-47 15-59 29-139 14-60 15-32 14 6 15 39 43 176 14 45 15 33 14 23 15 16 14 10 15 4 14 1 15-2 29-12 14-9 29-25 29-33 14-19 29-46 29-58 29-71 29-86 29-103 29-118 43-190 29-113 14-44 15-31 14-16 15 0 14 16 15 32 14 44 14 53 73 312 43 161 15 46 28 79 29 66 29 54 29 44 43 52 29 28 44 34 43 26 43 21 58 21 58 17"/>
<path stroke="#0000ce" d="M5005 1674l130-11 58-8 43-8 44-13 28-12 29-18 15-12 14-15 15-20 14-25 15-33 14-42 14-52 44-202 14-49 15-15 14 22 15 51 29 122 14 51 14 40 15 29 14 20 15 13 14 8 15 3 14 0 15-3 14-5 29-17 29-24 14-15 29-36 15-21 29-51 28-62 29-76 29-92 29-108 58-250 29-117 14-47 15-35 14-21 15-5 14 12 15 27 14 40 29 110 72 311 44 153 14 42 29 75 14 32 29 55 29 46 43 54 29 28 44 35 43 27 43 21 58 22 58 17"/>
<path fill="#0000d8" d="M5005 1674l130-11 101-16 44-13 28-12 44-30 29-35 29-58 28-94 44-202 14-49 15-15 14 22 58 224 14 40 15 29 14 20 15 13 14 8 15 3 29-3 43-22 43-39 44-57 29-51 28-62 29-76 29-92 29-108 87-367 29-82 14-21 15-5 14 12 15 27 14 40 29 110 72 311 44 153 43 117 43 87 29 46 43 54 29 28 44 35 43 27 43 21 58 22 58 17 0-3 -58-17 -58-23 -43-22 -43-29 -44-36 -29-30 -43-57 -29-48 -29-59 -29-72 -43-135 -29-111 -72-312 -29-99 -14-33 -15-18 -14-2 -15 15 -14 30 -15 42 -101 421 -29 104 -29 87 -29 72 -28 59 -29 47 -44 55 -29 27 -28 20 -44 17 -29 0 -14-5 -15-9 -14-14 -15-22 -14-30 -14-42 -44-176 -14-49 -15-19 -14 19 -15 52 -29 138 -28 113 -29 72 -29 43 -15 15 -29 22 -28 14 -44 14 -86 16 -145 13z"/>
<path stroke="#0000d8" d="M5005 1674l130-11 58-8 43-9 44-13 28-13 29-19 15-14 14-17 15-22 14-28 15-36 14-47 14-57 44-199 14-35 15 2 14 37 44 177 14 46 14 35 15 25 14 18 15 11 14 6 15 2 14-1 15-3 14-6 29-16 29-24 14-15 29-35 15-21 29-49 28-60 29-74 29-90 29-106 72-310 29-108 15-39 14-25 15-10 14 7 15 22 14 37 29 105 58 252 43 168 15 48 28 84 29 69 29 57 29 47 43 56 29 29 44 36 43 27 43 22 58 22 58 17"/>
<path stroke="#0000e2" d="M5005 1675l145-13 43-7 43-9 44-14 28-14 29-22 15-15 14-19 15-24 14-31 15-41 14-51 14-62 29-138 15-52 14-19 15 19 14 49 29 124 15 52 14 42 14 30 15 22 14 14 15 9 14 5 15 2 14-2 15-4 29-13 28-20 29-27 29-34 15-21 29-47 28-59 29-72 29-87 29-104 72-309 29-112 15-42 14-30 15-15 14 2 15 18 14 33 14 45 15 54 72 312 29 111 15 49 28 86 29 72 29 59 29 48 43 57 29 30 44 36 43 29 43 22 58 23 58 17"/>
<path fill="#0000eb" d="M5005 1675l145-13 86-16 44-14 28-14 29-22 15-15 29-43 29-72 28-113 29-138 15-52 14-19 15 19 14 49 44 176 14 42 14 30 15 22 14 14 15 9 14 5 29 0 44-17 28-20 29-27 44-55 29-47 28-59 29-72 29-87 29-104 101-421 15-42 14-30 15-15 14 2 15 18 14 33 29 99 72 312 29 111 43 135 29 72 29 59 29 48 43 57 29 30 44 36 43 29 43 22 58 23 58 17 0-2 -58-18 -58-24 -43-23 -43-30 -44-38 -29-32 -28-38 -29-47 -29-56 -29-69 -43-131 -44-167 -58-252 -29-106 -14-38 -14-24 -15-9 -14 8 -15 24 -14 38 -29 106 -72 311 -29 107 -29 90 -29 75 -43 88 -29 45 -44 52 -29 26 -28 20 -44 18 -29 2 -14-2 -29-16 -15-16 -14-23 -14-32 -29-97 -29-125 -15-47 -14-15 -15 22 -14 54 -29 137 -29 111 -29 70 -29 42 -14 14 -29 21 -58 23 -86 17 -145 14z"/>
<path stroke="#0000eb" d="M5005 1675l145-14 43-6 43-10 29-9 29-13 29-18 14-13 15-17 14-21 15-27 14-36 15-45 14-56 43-199 15-38 14-2 15 35 43 178 15 48 14 37 14 26 15 19 14 12 15 7 14 4 15 1 14-2 15-4 29-14 28-20 29-26 29-34 15-20 29-46 28-57 29-70 29-85 29-101 29-117 58-251 14-55 15-46 14-33 15-20 14-3 15 13 14 29 14 41 29 111 58 252 44 164 14 46 29 81 14 35 29 61 29 49 43 59 29 31 44 37 43 29 43 23 58 23 58 18"/>
<path stroke="#0000f5" d="M5005 1675l87-7 58-7 43-7 43-10 29-9 29-14 29-21 14-14 15-18 14-24 15-30 14-40 15-50 14-61 29-137 14-54 15-22 14 15 15 47 29 125 14 54 15 43 14 32 14 23 15 16 14 10 15 6 14 2 29-2 15-5 29-13 28-20 29-26 29-33 15-19 29-45 28-55 15-33 29-75 29-90 29-107 72-311 29-106 14-38 15-24 14-8 15 9 14 24 14 38 29 106 58 252 44 167 14 48 29 83 29 69 29 56 29 47 28 38 29 32 44 38 43 30 43 23 58 24 58 18"/>
<path fill="#0000ff" d="M5005 1675l145-14 86-17 58-23 29-21 14-14 29-42 29-70 29-111 29-137 14-54 15-22 14 15 15 47 29 125 29 97 14 32 14 23 15 16 29 16 14 2 29-2 44-18 28-20 29-26 44-52 29-45 43-88 29-75 29-90 29-107 72-311 29-106 14-38 15-24 14-8 15 9 14 24 14 38 29 106 58 252 44 167 43 131 29 69 29 56 29 47 28 38 29 32 44 38 43 30 43 23 58 24 58 18 0-2 -58-19 -58-25 -43-25 -43-31 -44-40 -29-34 -28-40 -29-50 -44-94 -43-126 -43-162 -58-253 -29-112 -15-43 -14-30 -14-14 -15 1 -14 18 -15 33 -14 44 -101 423 -29 102 -29 86 -29 71 -43 82 -29 43 -44 49 -43 36 -29 16 -29 11 -29 5 -14-1 -29-11 -15-11 -14-17 -14-25 -15-33 -29-100 -29-125 -14-45 -15-12 -14 26 -43 193 -29 108 -29 68 -29 40 -15 14 -28 20 -58 23 -87 16 -130 12z"/>
<path stroke="#0000ff" d="M5005 1675l130-12 43-6 44-9 29-9 29-12 28-19 15-12 14-16 15-21 14-26 15-34 14-44 15-55 43-199 14-41 15-5 14 31 44 180 14 49 15 38 14 28 14 20 15 13 14 9 15 5 14 1 29-3 15-5 29-14 28-19 29-26 44-50 29-44 28-54 15-31 29-73 29-88 29-105 72-310 29-110 14-42 15-28 14-13 15 3 14 20 14 34 15 46 14 55 73 312 29 110 14 49 29 85 29 71 29 58 29 48 28 40 29 32 44 40 43 30 43 24 58 24 58 19"/>
<path stroke="#000aff" d="M5005 1675l130-12 43-7 44-9 29-10 29-13 28-20 15-14 14-17 15-23 14-30 15-38 14-49 15-59 28-138 15-55 14-26 15 12 14 45 29 125 15 55 14 45 15 33 14 25 14 17 15 11 14 7 15 4 14 1 29-5 29-11 29-16 43-36 44-49 29-43 28-52 15-30 29-71 29-86 29-102 28-117 44-191 29-115 14-44 15-33 14-18 15-1 14 14 14 30 15 43 29 112 58 253 43 162 14 46 29 80 15 34 29 60 29 50 28 40 29 34 44 40 43 31 43 25 58 25 58 19"/>
<path fill="#0014ff" d="M5005 1675l130-12 87-16 58-23 28-20 15-14 29-40 29-68 29-108 43-193 14-26 15 12 14 45 29 125 29 100 15 33 14 25 14 17 15 11 29 11 14 1 29-5 29-11 29-16 43-36 44-49 29-43 43-82 29-71 29-86 29-102 101-423 14-44 15-33 14-18 15-1 14 14 14 30 15 43 29 112 58 253 43 162 43 126 44 94 29 50 28 40 29 34 44 40 43 31 43 25 58 25 58 19 0-3 -58-20 -43-18 -44-24 -43-30 -43-39 -29-33 -29-39 -29-47 -29-58 -29-70 -43-133 -43-169 -58-252 -29-103 -15-35 -14-21 -14-5 -15 11 -14 27 -15 40 -29 109 -72 311 -29 105 -29 89 -29 74 -43 87 -29 44 -43 52 -29 27 -29 21 -43 22 -29 9 -29 3 -15-2 -29-13 -14-12 -14-18 -15-26 -14-35 -29-103 -29-125 -15-42 -14-9 -15 29 -43 194 -29 106 -29 66 -29 39 -14 14 -29 19 -58 22 -86 16 -116 10z"/>
<path stroke="#0014ff" d="M5005 1675l130-12 43-7 44-10 29-10 29-14 28-22 15-16 14-20 15-25 14-33 15-43 14-54 43-199 15-43 14-9 15 29 14 54 29 125 15 51 14 39 15 30 14 21 14 14 15 10 14 6 15 2 14 1 29-6 29-11 29-16 29-22 29-27 43-53 29-46 29-57 29-68 29-84 29-99 28-116 44-190 29-118 14-48 15-37 14-22 15-6 14 9 14 26 15 39 29 108 72 312 29 106 14 47 29 83 15 35 29 62 29 51 28 42 29 34 44 42 43 31 43 25 58 26 58 19"/>
<path stroke="#001dff" d="M5005 1675l116-10 43-7 43-9 29-9 29-13 29-19 14-14 15-17 14-22 15-29 14-37 15-47 14-59 29-137 14-57 15-29 14 9 15 42 29 125 14 57 15 46 14 35 15 26 14 18 14 12 15 8 14 5 15 2 29-3 29-9 43-22 29-21 29-27 43-52 29-44 29-55 14-32 29-74 29-89 29-105 72-311 29-109 15-40 14-27 15-11 14 5 14 21 15 35 29 103 58 252 43 169 14 49 29 84 29 70 29 58 29 47 29 39 29 33 43 39 43 30 44 24 43 18 58 20"/>
<path fill="#0027ff" d="M5005 1675l116-10 86-16 58-22 29-19 14-14 29-39 29-66 29-106 43-194 15-29 14 9 15 42 29 125 29 103 14 35 15 26 14 18 14 12 29 13 15 2 29-3 29-9 43-22 29-21 29-27 43-52 29-44 43-87 29-74 29-89 29-105 72-311 29-109 15-40 14-27 15-11 14 5 14 21 15 35 29 103 58 252 43 169 43 133 29 70 29 58 29 47 29 39 29 33 43 39 43 30 44 24 43 18 58 20 0-3 -58-20 -43-20 -44-25 -43-31 -43-41 -29-34 -29-42 -29-50 -43-97 -44-128 -28-106 -73-311 -29-109 -14-41 -15-27 -14-11 -14 5 -15 21 -29 82 -101 423 -29 101 -29 84 -29 70 -43 81 -29 43 -43 49 -58 46 -58 27 -29 7 -29 0 -29-8 -14-9 -29-32 -29-64 -14-47 -44-183 -14-40 -15-5 -14 32 -58 253 -29 82 -29 50 -14 16 -29 24 -29 15 -29 10 -86 17 -116 11z"/>
<path stroke="#0027ff" d="M5005 1675l116-11 43-6 43-10 29-10 29-13 29-22 14-15 15-19 14-25 15-32 14-41 15-53 43-198 14-46 15-13 14 26 15 53 29 126 14 52 15 41 14 31 15 22 14 16 14 10 15 7 14 3 29 1 29-7 29-11 29-16 29-21 29-26 43-51 29-43 29-53 14-31 29-71 29-87 29-103 29-118 43-191 29-113 15-44 14-31 15-16 14 0 14 16 15 31 14 44 29 113 58 253 29 111 14 50 29 87 29 72 29 59 29 49 29 40 29 33 43 40 43 31 44 24 43 20 58 20"/>
<path stroke="#0031ff" d="M5005 1675l116-11 43-7 43-10 29-10 29-15 29-24 14-16 15-22 14-28 15-36 14-46 15-57 29-136 14-60 14-32 15 5 14 40 44 183 14 47 15 37 14 27 15 19 14 13 14 9 15 6 14 2 29 0 29-7 29-11 29-16 29-21 29-25 43-49 29-43 29-51 14-30 29-70 29-84 29-101 101-423 15-47 14-35 15-21 14-5 14 11 15 27 14 41 29 109 73 311 28 106 15 47 29 81 14 36 29 61 29 50 29 42 29 34 43 41 43 31 44 25 43 20 58 20"/>
<path fill="#003bff" d="M5005 1675l116-11 86-17 29-10 29-15 29-24 14-16 29-50 29-82 58-253 14-32 15 5 14 40 44 183 14 47 29 64 29 32 14 9 29 8 29 0 29-7 58-27 58-46 43-49 29-43 43-81 29-70 29-84 29-101 101-423 29-82 15-21 14-5 14 11 15 27 14 41 29 109 73 311 28 106 44 128 43 97 29 50 29 42 29 34 43 41 43 31 44 25 43 20 58 20 0-2 -58-22 -43-20 -72-47 -44-40 -29-33 -29-40 -28-48 -29-59 -29-71 -44-136 -28-110 -73-313 -29-99 -14-33 -15-17 -14-2 -14 15 -15 29 -14 43 -29 112 -73 310 -28 103 -29 88 -29 72 -44 85 -28 44 -44 52 -58 49 -28 17 -44 19 -43 9 -29-1 -29-9 -14-10 -29-35 -15-28 -29-87 -43-183 -15-37 -14-2 -14 36 -58 252 -29 80 -29 48 -14 16 -29 22 -29 15 -29 10 -72 15 -116 11z"/>
<path stroke="#003bff" d="M5005 1675l116-11 72-14 29-9 29-14 29-20 14-15 14-18 15-24 14-32 15-40 14-51 15-62 29-136 14-48 14-16 15 22 14 51 29 127 15 53 14 43 15 32 14 23 15 17 14 11 14 8 15 4 29 2 29-4 29-10 43-22 43-31 29-28 44-53 28-45 29-56 15-32 29-74 29-90 28-106 73-312 29-107 14-39 15-26 14-9 14 6 15 23 14 36 29 105 58 252 43 168 15 48 29 84 14 37 29 63 29 51 29 43 29 35 43 42 43 33 44 25 43 20 58 21"/>
<path stroke="#0045ff" d="M5005 1675l116-11 43-8 29-7 29-10 29-15 29-22 14-16 14-21 15-27 14-35 15-45 14-56 44-196 14-36 14 2 15 37 43 183 15 49 14 38 15 28 14 20 15 15 14 10 14 6 15 3 29 1 43-9 44-19 28-17 29-22 29-27 44-52 28-44 29-53 15-32 29-72 29-88 28-103 73-310 29-112 14-43 15-29 14-15 14 2 15 17 14 33 15 45 14 54 73 313 28 110 15 49 29 87 29 71 29 59 28 48 29 40 29 33 44 40 28 21 44 26 43 20 58 22"/>
<path fill="#004eff" d="M5005 1675l116-11 72-15 29-10 29-15 29-22 14-16 29-48 29-80 58-252 14-36 14 2 15 37 43 183 29 87 15 28 29 35 14 10 29 9 29 1 43-9 44-19 28-17 58-49 44-52 28-44 44-85 29-72 29-88 28-103 73-310 29-112 14-43 15-29 14-15 14 2 15 17 14 33 29 99 73 313 28 110 44 136 29 71 29 59 28 48 29 40 29 33 44 40 72 47 43 20 58 22 0-3 -58-22 -43-22 -44-27 -28-23 -44-41 -29-35 -29-42 -28-52 -44-98 -43-131 -43-166 -58-253 -29-106 -15-38 -14-24 -15-8 -14 8 -14 24 -15 38 -29 106 -87 367 -28 99 -29 82 -29 69 -44 80 -28 42 -44 48 -29 26 -43 30 -43 21 -29 10 -44 6 -29-2 -28-11 -15-11 -29-36 -14-29 -29-90 -44-183 -14-35 -14 3 -15 38 -58 251 -29 78 -28 46 -15 16 -29 22 -43 20 -72 16 -116 12z"/>
<path stroke="#004eff" d="M5005 1675l116-12 43-7 29-8 43-18 29-20 15-14 14-18 14-23 15-31 14-39 15-50 14-60 29-136 15-52 14-19 14 19 15 49 29 127 14 55 15 44 14 33 15 25 14 17 15 13 14 8 29 8 29 0 43-10 44-19 28-17 29-21 29-26 44-50 28-43 29-52 15-31 29-70 29-85 28-102 29-117 58-251 15-55 14-46 15-34 14-19 14-4 15 14 14 28 15 41 29 111 58 253 43 163 14 46 29 81 15 35 29 61 28 49 29 41 29 34 44 41 28 22 44 26 43 22 58 21"/>
<path stroke="#0058ff" d="M5005 1675l116-12 43-8 29-8 29-12 14-8 29-22 15-16 14-20 14-26 15-34 14-44 15-54 43-197 15-38 14-3 14 35 44 183 14 50 15 40 14 29 15 21 14 15 15 11 14 7 14 4 29 2 44-6 29-10 43-21 43-30 29-26 44-48 28-42 29-51 15-29 29-69 29-82 28-99 29-115 58-252 29-106 15-38 14-24 14-8 15 8 14 24 15 38 29 106 58 253 43 166 14 48 29 83 15 36 29 62 28 52 29 42 29 35 44 41 28 23 44 27 43 22 58 22"/>
<path fill="#0062ff" d="M5005 1675l116-12 72-16 43-20 29-22 15-16 28-46 29-78 58-251 15-38 14-3 14 35 44 183 29 90 14 29 29 36 15 11 28 11 29 2 44-6 29-10 43-21 43-30 29-26 44-48 28-42 44-80 29-69 29-82 28-99 87-367 29-106 15-38 14-24 14-8 15 8 14 24 15 38 29 106 58 253 43 166 43 131 44 98 28 52 29 42 29 35 44 41 28 23 44 27 43 22 58 22 0-3 -58-23 -43-23 -44-29 -28-23 -44-44 -29-37 -29-45 -28-54 -44-104 -43-138 -116-477 -14-42 -15-30 -14-15 -15 2 -14 17 -14 33 -15 45 -101 423 -29 102 -29 86 -29 71 -43 84 -29 43 -43 51 -29 27 -44 31 -28 17 -44 18 -43 11 -29 2 -29-4 -29-12 -29-28 -29-53 -29-92 -43-183 -14-31 -15 6 -14 41 -44 197 -29 96 -14 33 -29 45 -14 15 -29 22 -44 19 -72 16 -101 10z"/>
<path stroke="#0062ff" d="M5005 1675l58-5 58-7 43-9 29-9 29-12 14-9 29-24 15-18 14-23 14-29 15-38 14-49 15-59 29-136 14-54 15-23 14 16 14 47 29 127 15 56 14 46 15 34 14 26 15 18 14 13 15 9 28 10 29 1 44-8 43-15 29-15 43-29 29-25 44-48 43-63 29-55 14-31 29-74 29-88 29-105 72-310 29-111 15-41 14-29 14-13 15 4 14 19 15 34 14 46 15 55 72 312 29 110 14 49 29 86 15 37 29 64 28 53 29 43 29 36 44 43 28 23 44 28 43 22 58 22"/>
<path stroke="#006cff" d="M5005 1675l101-10 44-9 28-7 44-19 29-22 14-15 15-19 14-26 14-33 15-42 14-54 44-197 14-41 15-6 14 31 43 183 15 52 14 40 15 31 14 22 15 16 14 12 15 7 14 5 29 4 29-2 43-11 44-18 28-17 44-31 29-27 43-51 29-43 29-53 14-31 29-71 29-86 29-102 29-118 43-191 29-114 15-45 14-33 14-17 15-2 14 15 15 30 14 42 29 112 58 253 29 112 14 50 29 88 15 38 29 66 28 54 29 45 29 37 44 44 28 23 44 29 43 23 58 23"/>
<path fill="#0076ff" d="M5005 1675l101-10 72-16 44-19 29-22 14-15 29-45 14-33 29-96 44-197 14-41 15-6 14 31 43 183 29 92 29 53 29 28 29 12 29 4 29-2 43-11 44-18 28-17 44-31 29-27 43-51 29-43 43-84 29-71 29-86 29-102 101-423 15-45 14-33 14-17 15-2 14 15 15 30 14 42 116 477 43 138 44 104 28 54 29 45 29 37 44 44 28 23 44 29 43 23 58 23 0-3 -58-24 -43-24 -44-30 -28-25 -58-65 -29-43 -29-52 -43-101 -44-133 -43-169 -58-252 -29-103 -14-35 -15-21 -14-5 -15 12 -14 26 -14 41 -29 109 -87 366 -29 97 -29 81 -29 67 -43 79 -29 41 -43 48 -29 26 -44 30 -43 22 -43 16 -44 8 -29 1 -28-4 -29-14 -29-29 -29-55 -29-95 -43-182 -15-28 -14 9 -15 45 -43 196 -15 52 -28 74 -29 44 -15 14 -29 21 -43 18 -72 16 -87 9z"/>
<path stroke="#0076ff" d="M5005 1675l101-11 44-8 28-9 29-12 15-8 29-24 14-17 15-22 14-29 14-37 15-47 14-58 29-136 15-56 14-26 15 12 14 44 29 127 14 58 15 47 14 35 15 27 14 20 15 14 14 9 15 7 28 6 29-1 44-8 43-16 43-22 44-31 29-26 43-50 29-42 29-51 14-30 29-69 29-84 29-100 29-115 43-191 29-118 15-48 14-36 14-23 15-6 14 10 15 25 14 39 29 108 72 312 29 106 15 47 29 83 14 36 29 61 29 51 29 42 29 34 29 29 28 24 44 30 43 23 58 23"/>
<path stroke="#0080ff" d="M5005 1675l87-9 43-8 29-8 43-18 29-21 15-14 14-19 15-25 14-32 14-42 15-52 43-196 15-45 14-9 15 28 14 55 29 127 14 53 15 42 14 32 15 23 14 17 15 12 14 8 15 6 28 4 29-1 44-8 43-16 43-22 44-30 29-26 43-48 29-41 29-50 14-29 29-67 29-81 29-97 29-114 58-252 29-109 14-41 14-26 15-12 14 5 15 21 14 35 29 103 58 252 43 169 15 49 29 84 14 37 29 64 29 52 29 43 29 35 29 30 28 25 44 30 43 24 58 24"/>
<path fill="#0089ff" d="M5005 1675l87-9 72-16 43-18 29-21 15-14 29-44 28-74 15-52 43-196 15-45 14-9 15 28 43 182 29 95 29 55 29 29 29 14 28 4 29-1 44-8 43-16 43-22 44-30 29-26 43-48 29-41 43-79 29-67 29-81 29-97 87-366 29-109 14-41 14-26 15-12 14 5 15 21 14 35 29 103 58 252 43 169 44 133 43 101 29 52 29 43 58 65 28 25 44 30 43 24 58 24 0-3 -58-26 -43-25 -44-31 -28-26 -29-32 -29-37 -29-46 -29-55 -43-106 -44-141 -86-366 -29-109 -15-40 -14-27 -15-12 -14 5 -15 21 -28 82 -102 424 -29 101 -28 84 -29 70 -44 82 -29 43 -43 50 -43 38 -44 29 -43 21 -43 16 -44 9 -43 1 -29-6 -29-15 -29-30 -29-57 -29-97 -43-182 -14-24 -15 13 -14 47 -29 134 -29 113 -14 40 -29 56 -15 18 -29 26 -43 21 -58 16 -101 12z"/>
<path stroke="#0089ff" d="M5005 1675l87-10 43-8 29-8 29-12 14-8 29-23 15-16 14-22 15-27 14-37 14-46 15-57 29-135 14-58 15-29 14 8 15 42 43 185 14 48 15 37 14 28 15 20 14 15 15 10 29 12 28 4 29-2 44-9 43-15 43-22 44-30 29-24 43-47 43-63 29-53 15-31 29-72 28-87 29-103 29-119 44-191 29-113 14-44 14-31 15-16 14 0 15 16 14 31 15 44 29 114 57 252 29 111 15 50 29 87 14 38 29 65 29 54 29 44 29 37 29 30 28 25 44 31 43 24 58 25"/>
<path stroke="#0093ff" d="M5005 1675l58-6 43-6 29-7 29-9 29-13 14-8 29-26 15-18 14-24 15-32 14-40 14-51 15-62 29-134 14-47 15-13 14 24 15 53 28 129 15 54 14 43 15 33 14 24 15 18 14 12 15 9 14 6 29 6 43-1 44-9 43-16 43-21 44-29 43-38 43-50 29-43 29-52 15-30 29-70 28-84 29-101 102-424 14-47 14-35 15-21 14-5 15 12 14 27 15 40 29 109 57 253 29 113 15 51 29 90 14 39 29 67 29 55 29 46 29 37 29 32 28 26 44 31 43 25 58 26"/>
<path fill="#009dff" d="M5005 1675l101-12 58-16 43-21 29-26 15-18 29-56 14-40 29-113 29-134 14-47 15-13 14 24 43 182 29 97 29 57 29 30 29 15 29 6 43-1 44-9 43-16 43-21 44-29 43-38 43-50 29-43 44-82 29-70 28-84 29-101 102-424 28-82 15-21 14-5 15 12 14 27 15 40 29 109 86 366 44 141 43 106 29 55 29 46 29 37 29 32 28 26 44 31 43 25 58 26 0-4 -43-19 -44-24 -43-30 -29-26 -29-30 -29-36 -29-44 -29-53 -43-102 -43-136 -29-110 -87-367 -14-45 -15-32 -14-18 -15-2 -14 15 -15 30 -14 42 -29 112 -72 310 -29 104 -29 88 -29 72 -43 86 -44 63 -43 48 -29 25 -43 30 -43 23 -44 17 -43 11 -44 5 -43-3 -29-11 -29-23 -14-18 -29-60 -29-99 -29-129 -14-51 -15-21 -14 17 -15 49 -29 135 -28 110 -15 40 -29 53 -14 18 -29 25 -43 21 -58 15 -87 11z"/>
<path stroke="#009dff" d="M5005 1675l87-11 58-13 28-12 15-8 29-22 14-16 15-21 14-27 15-35 14-45 14-56 44-193 14-34 15 5 14 39 43 186 15 49 14 39 15 28 14 22 15 15 14 11 29 13 29 4 43-2 44-9 43-15 43-21 44-28 43-37 43-49 29-42 29-50 15-29 29-68 28-82 29-99 29-114 58-252 29-108 14-39 15-25 14-10 15 7 14 22 15 37 29 104 57 253 44 167 14 48 29 84 15 37 28 63 29 51 29 43 29 35 29 29 29 25 43 30 44 23 43 19"/>
<path stroke="#00a7ff" d="M5005 1675l87-11 58-15 28-12 15-9 29-25 14-18 15-23 14-30 15-40 14-49 14-61 29-135 15-49 14-17 15 21 14 51 29 129 14 55 15 44 14 34 15 26 14 18 15 14 14 9 29 11 15 2 28 1 44-5 43-11 44-17 43-23 43-30 29-25 43-48 44-63 29-54 14-32 29-72 29-88 29-104 72-310 29-112 14-42 15-30 14-15 15 2 14 18 15 32 14 45 29 115 58 252 29 110 14 49 29 87 15 37 28 65 29 53 29 44 29 36 29 30 29 26 43 30 44 24 43 19"/>
<path fill="#00b1ff" d="M5005 1675l87-11 58-15 43-21 29-25 14-18 29-53 15-40 28-110 29-135 15-49 14-17 15 21 14 51 29 129 29 99 29 60 14 18 29 23 29 11 43 3 44-5 43-11 44-17 43-23 43-30 29-25 43-48 44-63 43-86 29-72 29-88 29-104 72-310 29-112 14-42 15-30 14-15 15 2 14 18 15 32 14 45 87 367 29 110 43 136 43 102 29 53 29 44 29 36 29 30 29 26 43 30 44 24 43 19 0-3 -43-20 -44-25 -43-33 -29-26 -29-32 -29-38 -29-47 -29-56 -43-109 -43-142 -87-368 -29-106 -14-38 -15-24 -14-8 -15 8 -14 24 -15 38 -28 106 -87 367 -29 99 -29 83 -29 69 -43 80 -29 42 -43 50 -44 37 -43 29 -43 22 -44 16 -58 14 -43 4 -43-5 -29-12 -29-24 -15-19 -29-61 -28-103 -29-129 -15-48 -14-18 -15 21 -14 51 -29 135 -29 109 -14 38 -29 52 -29 31 -43 25 -58 17 -87 12z"/>
<path stroke="#00b1ff" d="M5005 1675l87-12 29-6 29-10 28-13 15-10 14-12 15-16 14-20 15-26 14-34 15-44 14-55 43-194 15-36 14 0 15 36 43 186 14 51 15 40 14 29 15 23 14 16 15 11 29 14 14 4 29 2 43-3 44-10 43-15 43-20 44-27 43-35 43-46 44-62 29-52 14-31 29-70 29-86 29-101 29-117 58-252 14-55 14-46 15-34 14-19 15-3 14 13 15 28 14 42 29 110 58 253 29 113 14 50 29 89 15 38 28 67 29 55 29 45 29 37 29 31 29 26 43 31 44 25 43 20"/>
<path stroke="#00baff" d="M5005 1674l87-12 29-7 29-10 28-15 15-10 14-14 15-17 14-23 15-29 14-38 15-49 14-60 29-135 14-51 15-21 14 18 15 48 29 129 14 57 14 46 15 35 14 26 15 19 14 14 15 10 29 12 14 3 29 2 43-4 58-14 44-16 43-22 43-29 44-37 43-50 29-42 29-51 14-29 29-69 29-83 29-99 29-115 58-252 28-106 15-38 14-24 15-8 14 8 15 24 14 38 29 106 58 253 29 115 43 142 15 40 28 69 29 56 29 47 29 38 29 32 29 26 43 33 44 25 43 20"/>
<path fill="#00c4ff" d="M5005 1674l87-12 58-17 43-25 29-31 29-52 14-38 29-109 29-135 14-51 15-21 14 18 15 48 29 129 28 103 29 61 15 19 29 24 29 12 43 5 43-4 58-14 44-16 43-22 43-29 44-37 43-50 29-42 43-80 29-69 29-83 29-99 87-367 28-106 15-38 14-24 15-8 14 8 15 24 14 38 29 106 87 368 43 142 43 109 29 56 29 47 29 38 29 32 29 26 43 33 44 25 43 20 0-4 -72-38 -44-31 -29-25 -28-31 -29-37 -29-45 -29-54 -43-104 -44-138 -115-477 -15-42 -14-30 -15-15 -14 2 -15 18 -14 32 -15 45 -101 423 -29 103 -29 86 -28 71 -44 84 -43 62 -43 47 -44 36 -43 27 -43 21 -58 20 -58 12 -43 3 -44-6 -29-13 -29-25 -14-20 -29-64 -29-104 -29-129 -14-47 -15-14 -14 25 -43 188 -29 106 -15 38 -29 50 -29 30 -43 25 -58 17 -72 10z"/>
<path stroke="#00c4ff" d="M5005 1674l43-5 44-7 29-8 29-11 28-17 15-11 14-15 15-20 14-25 15-33 14-43 15-54 43-195 14-39 15-4 14 34 44 185 14 52 14 41 15 31 14 23 15 17 14 12 15 9 29 10 43 3 43-4 58-14 44-16 43-21 43-28 44-37 43-48 43-64 29-55 15-32 28-73 29-88 29-105 73-311 28-110 15-42 14-28 15-13 14 3 15 19 14 34 15 46 14 55 72 313 29 109 15 49 29 86 14 37 29 64 29 53 29 43 29 36 28 30 29 25 44 30 29 17 43 20"/>
<path stroke="#00ceff" d="M5005 1674l72-10 29-7 29-10 29-15 14-10 15-13 14-17 15-22 14-28 15-38 14-47 15-59 28-134 15-54 14-25 15 14 14 47 29 129 15 57 14 47 14 37 15 27 14 20 15 15 14 10 29 13 15 3 29 3 43-3 58-12 58-20 43-21 43-27 44-36 43-47 43-62 29-53 15-31 28-71 29-86 29-103 29-117 44-191 28-115 15-45 14-32 15-18 14-2 15 15 14 30 15 42 29 113 57 252 29 112 15 50 29 88 14 38 29 66 29 54 29 45 29 37 28 31 29 25 44 31 29 17 43 21"/>
<path fill="#00d8ff" d="M5005 1674l72-10 58-17 43-25 29-30 29-50 15-38 29-106 43-188 14-25 15 14 14 47 29 129 29 104 29 64 14 20 29 25 29 13 44 6 43-3 58-12 58-20 43-21 43-27 44-36 43-47 43-62 44-84 28-71 29-86 29-103 101-423 15-45 14-32 15-18 14-2 15 15 14 30 15 42 115 477 44 138 43 104 29 54 29 45 29 37 28 31 29 25 44 31 72 38 0-4 -72-39 -44-33 -29-27 -28-32 -29-39 -29-48 -29-57 -43-111 -29-93 -44-169 -57-252 -29-103 -15-35 -14-21 -15-5 -14 12 -15 27 -14 40 -29 109 -87 366 -29 97 -29 82 -28 67 -44 79 -29 41 -43 49 -43 37 -44 29 -43 21 -58 22 -58 14 -57 6 -44-4 -29-9 -29-19 -14-16 -29-49 -29-85 -43-188 -15-44 -14-10 -15 28 -57 248 -15 46 -29 64 -29 38 -14 13 -29 17 -58 20 -72 11z"/>
<path stroke="#00d8ff" d="M5005 1674l72-11 29-7 29-11 29-16 14-12 15-14 14-19 15-25 14-32 15-42 14-52 43-195 15-43 14-7 15 30 14 57 29 128 15 53 14 42 14 32 15 24 14 18 15 12 14 10 29 11 44 4 43-3 58-12 58-20 43-20 43-27 44-34 43-46 43-61 29-51 15-30 28-69 29-84 29-100 29-116 44-190 28-118 15-48 14-37 15-22 14-7 15 10 14 25 15 39 29 108 57 253 29 114 44 142 14 39 29 68 29 56 29 46 29 38 28 31 29 27 44 32 29 17 43 21"/>
<path stroke="#00e2ff" d="M5005 1673l72-11 29-8 29-12 29-17 14-13 15-17 14-21 15-28 14-36 15-46 14-58 29-134 14-56 15-28 14 10 15 44 43 188 15 48 14 37 14 28 15 21 14 16 15 11 14 8 29 9 44 4 57-6 58-14 58-22 43-21 44-29 43-37 43-49 29-41 29-50 15-29 28-67 29-82 29-97 29-114 58-252 29-109 14-40 15-27 14-12 15 5 14 21 15 35 29 103 57 252 44 169 29 93 14 41 29 70 29 57 29 48 29 39 28 32 29 27 44 33 29 17 43 22"/>
<path fill="#00ebff" d="M5005 1673l72-11 58-20 29-17 14-13 29-38 29-64 15-46 57-248 15-28 14 10 15 44 43 188 29 85 29 49 14 16 29 19 29 9 44 4 57-6 58-14 58-22 43-21 44-29 43-37 43-49 29-41 44-79 28-67 29-82 29-97 87-366 29-109 14-40 15-27 14-12 15 5 14 21 15 35 29 103 57 252 44 169 29 93 43 111 29 57 29 48 29 39 28 32 29 27 44 33 72 39 0-4 -72-41 -44-35 -29-28 -28-34 -29-42 -44-79 -43-106 -43-141 -87-366 -29-109 -14-40 -15-27 -14-12 -15 5 -14 21 -29 82 -101 425 -29 100 -29 85 -29 70 -43 82 -44 61 -43 47 -43 35 -44 27 -43 21 -58 20 -58 14 -57 7 -44-2 -43-13 -29-20 -15-16 -28-51 -29-87 -44-188 -14-41 -15-7 -14 31 -58 248 -14 46 -29 62 -29 36 -14 13 -29 17 -44 16 -72 13z"/>
<path stroke="#00ebff" d="M5005 1673l72-12 44-14 29-16 14-11 14-14 15-19 14-24 15-31 14-41 15-51 43-195 14-45 15-11 14 27 15 54 29 130 14 54 15 43 14 33 14 25 15 18 14 14 15 9 29 12 43 6 29-1 29-3 58-12 58-19 57-28 44-28 43-36 43-47 44-63 29-54 14-31 29-72 29-87 29-103 29-118 43-191 29-114 14-44 15-31 14-16 15 0 14 16 15 32 14 43 29 114 58 252 29 111 14 50 29 87 14 38 29 65 15 28 29 49 29 40 28 33 29 28 44 34 29 18 43 22"/>
<path stroke="#00f5ff" d="M5005 1673l43-7 29-6 44-16 29-17 14-13 14-16 15-20 14-27 15-35 14-46 15-56 29-134 14-58 14-31 15 7 14 41 44 188 14 49 15 38 14 30 14 21 15 16 14 12 15 8 14 6 29 7 44 2 57-7 58-14 58-20 43-21 44-27 43-35 43-47 44-61 29-52 14-30 29-70 29-85 29-100 101-425 14-47 15-35 14-21 15-5 14 12 15 27 14 40 29 109 58 253 29 113 14 51 29 90 14 39 29 67 15 29 29 50 29 42 28 34 29 28 44 35 29 18 43 23"/>
<path fill="#00ffff" d="M5005 1673l72-13 44-16 29-17 14-13 29-36 29-62 14-46 58-248 14-31 15 7 14 41 44 188 29 87 28 51 15 16 29 20 43 13 44 2 57-7 58-14 58-20 43-21 44-27 43-35 43-47 44-61 43-82 29-70 29-85 29-100 101-425 29-82 14-21 15-5 14 12 15 27 14 40 29 109 87 366 43 141 43 106 44 79 29 42 28 34 29 28 44 35 72 41 0-4 -72-43 -44-37 -29-30 -28-36 -29-44 -44-84 -43-112 -29-95 -29-110 -86-367 -15-45 -14-32 -15-18 -14-2 -15 15 -14 30 -15 42 -29 112 -72 310 -29 105 -29 87 -29 73 -43 86 -43 63 -44 48 -43 37 -43 28 -58 28 -58 20 -72 16 -58 5 -43-3 -44-13 -29-21 -14-17 -29-53 -29-90 -43-188 -15-38 -14-3 -14 35 -58 248 -15 44 -29 60 -28 36 -29 21 -44 19 -72 15z"/>
<path stroke="#00ffff" d="M5005 1672l58-10 43-14 29-15 15-11 14-14 14-18 15-23 14-30 15-40 14-50 15-61 29-133 14-48 14-15 15 24 14 52 29 130 15 55 14 45 15 34 14 25 14 19 15 14 14 10 15 8 29 8 43 4 58-5 58-12 58-18 57-27 44-26 43-34 43-45 44-60 29-50 14-30 29-68 29-82 29-98 29-114 57-253 29-108 15-39 14-25 15-10 14 7 15 22 14 37 29 104 58 253 43 167 29 92 14 40 29 70 15 30 29 51 29 43 28 35 29 29 44 36 29 19 43 23"/>
<path stroke="#0afff5" d="M5005 1672l43-8 29-7 29-11 15-8 29-21 14-16 14-20 15-26 14-34 15-44 14-55 44-193 14-35 14 3 15 38 43 188 15 51 14 39 15 30 14 23 14 17 15 12 14 9 15 6 29 7 43 3 58-5 72-16 58-20 58-28 43-28 43-37 44-48 43-63 29-55 14-31 29-73 29-87 29-105 72-310 29-112 15-42 14-30 15-15 14 2 15 18 14 32 15 45 28 115 58 252 29 110 29 95 14 41 29 71 15 31 29 53 29 44 28 36 29 30 44 37 29 19 43 24"/>
<path fill="#14ffeb" d="M5005 1672l72-15 44-19 29-21 28-36 29-60 15-44 58-248 14-35 14 3 15 38 43 188 29 90 29 53 14 17 29 21 44 13 43 3 58-5 72-16 58-20 58-28 43-28 43-37 44-48 43-63 43-86 29-73 29-87 29-105 72-310 29-112 15-42 14-30 15-15 14 2 15 18 14 32 15 45 86 367 29 110 29 95 43 112 44 84 29 44 28 36 29 30 44 37 72 43 0-4 -72-46 -58-53 -29-35 -29-42 -43-81 -44-108 -43-143 -87-368 -28-106 -15-38 -14-24 -15-8 -14 8 -15 24 -14 38 -29 106 -87 367 -29 100 -29 83 -29 68 -43 81 -43 60 -44 46 -43 34 -58 35 -57 24 -58 18 -73 14 -57 4 -44-4 -43-14 -29-22 -14-18 -29-54 -29-93 -44-187 -14-35 -14 1 -15 37 -58 248 -14 43 -29 59 -29 34 -29 21 -43 18 -58 13z"/>
<path stroke="#14ffeb" d="M5005 1671l43-8 29-8 29-12 15-8 29-24 14-17 14-23 15-30 14-38 15-49 43-194 15-50 14-19 14 20 15 51 29 130 14 56 15 46 14 35 15 27 14 19 14 15 15 10 14 8 15 6 29 6 43 2 58-6 72-16 58-19 58-28 43-27 43-36 44-46 43-62 29-53 14-30 29-71 29-85 29-102 29-117 58-252 14-55 15-46 14-34 15-19 14-3 15 13 14 28 15 42 28 110 58 253 29 113 29 97 14 42 29 73 15 32 29 55 29 45 28 37 29 31 44 37 29 20 43 25"/>
<path stroke="#1dffe2" d="M5005 1671l58-13 29-10 14-8 29-21 15-15 14-19 14-26 15-33 14-43 15-54 43-194 15-37 14-1 14 35 44 187 14 52 15 41 14 31 15 23 14 18 14 12 15 10 14 6 29 8 44 4 57-4 73-14 58-18 57-24 29-16 29-19 43-34 44-46 43-60 29-51 14-30 29-68 29-83 29-100 29-115 58-252 29-106 14-38 15-24 14-8 15 8 14 24 15 38 28 106 58 253 29 115 43 143 15 39 29 69 14 29 29 52 29 42 29 35 29 29 29 24 29 21 43 25"/>
<path fill="#27ffd8" d="M5005 1671l58-13 43-18 29-21 29-34 29-59 14-43 58-248 15-37 14-1 14 35 44 187 29 93 29 54 14 18 29 22 43 14 44 4 57-4 73-14 58-18 57-24 58-35 43-34 44-46 43-60 43-81 29-68 29-83 29-100 87-367 29-106 14-38 15-24 14-8 15 8 14 24 15 38 28 106 87 368 43 143 44 108 43 81 29 42 29 35 58 53 72 46 0-5 -72-48 -58-56 -29-37 -29-45 -43-85 -44-115 -28-96 -116-476 -14-43 -15-30 -14-15 -15 2 -14 18 -15 32 -14 45 -101 424 -29 102 -29 86 -29 72 -43 84 -44 62 -43 47 -43 36 -58 36 -58 26 -58 18 -72 16 -58 6 -58-2 -43-11 -29-16 -14-14 -29-42 -15-32 -29-94 -43-187 -14-32 -15 4 -14 41 -44 194 -14 53 -29 74 -29 44 -29 26 -43 22 -58 14z"/>
<path stroke="#27ffd8" d="M5005 1670l58-13 29-12 14-8 29-23 15-17 14-22 14-29 15-38 14-47 15-59 29-134 14-53 15-22 14 16 14 49 44 187 14 47 15 36 14 28 15 20 14 15 14 11 15 8 14 6 29 7 44 3 57-5 73-14 58-17 57-24 29-16 29-18 43-34 44-44 43-58 29-50 14-29 29-66 29-81 29-97 29-112 58-253 29-110 14-42 15-28 14-13 15 3 14 20 15 33 14 46 29 116 58 252 29 109 28 94 15 41 29 70 14 31 29 53 29 43 29 36 29 30 29 25 29 21 43 26"/>
<path stroke="#31ffce" d="M5005 1669l29-6 29-8 29-13 14-9 15-11 14-15 15-19 14-25 14-32 15-42 14-53 44-194 14-41 15-4 14 32 43 187 15 52 14 42 15 32 14 25 15 17 14 14 29 16 14 6 29 5 29 2 29 0 58-6 72-16 58-18 58-26 29-16 29-20 43-36 43-47 44-62 28-54 15-30 29-72 29-86 29-102 29-118 43-191 29-115 14-45 15-32 14-18 15-2 14 15 15 30 14 43 29 112 58 252 29 112 28 96 15 42 29 73 14 31 29 54 29 45 29 37 29 31 29 25 29 22 43 26"/>
<path fill="#3bffc4" d="M5005 1669l58-14 43-22 29-26 29-44 29-74 14-53 44-194 14-41 15-4 14 32 43 187 29 94 15 32 29 42 14 14 29 16 43 11 58 2 58-6 72-16 58-18 58-26 58-36 43-36 43-47 44-62 43-84 29-72 29-86 29-102 101-424 14-45 15-32 14-18 15-2 14 15 15 30 14 43 116 476 28 96 44 115 43 85 29 45 29 37 58 56 72 48 0-5 -58-38 -58-54 -29-36 -28-43 -44-82 -43-111 -29-93 -43-168 -58-253 -29-102 -14-36 -15-21 -14-5 -15 12 -14 27 -15 40 -29 109 -86 366 -29 98 -29 81 -29 68 -43 79 -44 59 -43 44 -43 35 -58 34 -58 24 -58 18 -72 15 -72 8 -58-3 -44-12 -28-17 -15-14 -29-43 -14-33 -29-98 -43-185 -15-29 -14 8 -15 44 -43 194 -15 52 -28 72 -29 43 -29 25 -44 21 -43 12z"/>
<path stroke="#3bffc4" d="M5005 1668l43-10 29-12 15-7 29-23 14-16 15-22 14-28 14-36 15-47 14-58 29-134 15-54 14-26 15 13 14 45 43 189 15 48 14 37 15 28 14 21 15 16 14 12 14 8 15 6 29 8 29 3 29 0 72-7 72-15 58-19 58-25 29-16 29-19 43-35 43-45 44-61 28-52 15-30 29-69 29-84 29-100 29-116 43-190 29-118 14-48 15-37 14-22 15-7 14 10 15 25 14 40 29 107 58 253 29 114 28 99 15 43 29 75 14 32 29 56 29 46 29 38 29 31 29 27 29 22 43 27"/>
<path stroke="#45ffba" d="M5005 1668l43-12 29-12 15-9 29-25 14-19 15-24 14-31 14-41 15-52 43-194 15-44 14-8 15 29 14 56 29 129 14 54 15 44 14 33 15 25 14 18 15 14 28 17 15 6 29 6 29 3 29 0 72-8 72-15 58-18 58-24 29-16 29-18 43-35 43-44 44-59 28-50 15-29 29-68 29-81 29-98 29-113 57-253 29-109 15-40 14-27 15-12 14 5 15 21 14 36 29 102 58 253 43 168 29 93 14 41 29 70 15 30 29 52 28 43 29 36 29 29 29 25 29 21 29 17"/>
<path fill="#4effb1" d="M5005 1668l43-12 44-21 29-25 29-43 28-72 15-52 43-194 15-44 14-8 15 29 43 185 29 98 14 33 29 43 15 14 28 17 44 12 58 3 72-8 72-15 58-18 58-24 58-34 43-35 43-44 44-59 43-79 29-68 29-81 29-98 86-366 29-109 15-40 14-27 15-12 14 5 15 21 14 36 29 102 58 253 43 168 29 93 43 111 44 82 28 43 29 36 58 54 58 38 0-5 -58-40 -58-57 -29-38 -28-46 -44-87 -43-117 -29-97 -87-367 -29-109 -14-40 -14-27 -15-12 -14 5 -15 21 -29 83 -101 424 -29 101 -29 84 -29 70 -43 82 -43 62 -44 46 -43 36 -58 35 -58 25 -72 23 -87 17 -72 6 -58-3 -43-13 -29-18 -14-15 -29-44 -15-34 -29-100 -43-184 -14-26 -15 13 -14 46 -44 194 -14 50 -29 71 -29 41 -29 25 -29 15 -43 14z"/>
<path stroke="#4effb1" d="M5005 1667l43-13 29-14 15-9 14-13 15-16 14-20 15-28 14-35 14-46 58-247 15-29 14 9 15 43 43 189 14 49 15 39 14 29 15 22 14 16 15 12 14 9 14 6 29 8 29 4 29 0 72-5 73-14 72-21 58-24 58-33 43-34 29-27 29-34 43-63 29-53 14-32 29-72 29-87 29-103 29-118 43-191 29-114 15-43 14-32 15-16 14 0 15 16 14 32 14 43 29 114 58 252 29 111 29 95 14 42 29 72 15 31 29 54 28 44 29 37 29 30 29 25 29 22 29 18"/>
<path stroke="#58ffa7" d="M5005 1666l43-14 29-15 29-25 15-18 14-23 15-31 14-40 14-50 44-194 14-46 15-13 14 26 15 54 28 130 15 55 14 45 15 34 14 25 15 19 14 15 29 18 14 6 29 7 29 3 29 0 72-6 44-7 43-10 72-23 58-25 29-16 29-19 43-36 44-46 43-62 29-52 14-30 29-70 29-84 29-101 101-424 15-47 14-36 15-21 14-5 15 12 14 27 14 40 29 109 58 253 29 114 29 97 14 43 29 74 15 32 29 55 28 46 29 38 29 31 29 26 29 22 29 18"/>
<path fill="#62ff9d" d="M5005 1666l43-14 29-15 29-25 29-41 29-71 14-50 44-194 14-46 15-13 14 26 43 184 29 100 15 34 29 44 14 15 29 18 43 13 58 3 72-6 87-17 72-23 58-25 58-35 43-36 44-46 43-62 43-82 29-70 29-84 29-101 101-424 29-83 15-21 14-5 15 12 14 27 14 40 29 109 87 367 29 97 43 117 44 87 28 46 29 38 58 57 58 40 0-5 -58-42 -58-61 -43-63 -43-84 -44-112 -29-95 -28-110 -87-367 -15-44 -14-33 -14-18 -15-2 -14 15 -15 30 -14 43 -29 112 -72 310 -29 104 -44 126 -29 66 -43 77 -43 58 -44 44 -43 34 -58 33 -72 30 -72 20 -87 15 -72 5 -58-4 -43-14 -29-19 -15-14 -29-47 -14-35 -29-102 -29-130 -14-52 -15-22 -14 16 -15 49 -43 193 -14 50 -29 68 -15 23 -29 31 -29 19 -43 16z"/>
<path stroke="#62ff9d" d="M5005 1664l43-14 29-17 15-12 14-16 15-20 14-27 15-34 14-44 14-56 44-192 14-32 15 5 14 40 43 189 15 50 14 40 15 30 14 23 15 16 14 13 29 16 14 5 29 6 58 2 72-6 87-17 72-22 58-25 29-16 29-18 43-35 44-45 43-60 29-50 14-29 29-68 29-83 29-98 29-114 58-253 29-107 14-40 15-25 14-10 15 7 14 22 14 37 29 104 58 253 29 115 29 101 14 43 29 77 15 33 29 57 28 47 29 38 29 32 29 27 29 23 29 19"/>
<path stroke="#6cff93" d="M5005 1663l43-16 29-19 15-13 14-18 15-23 14-30 15-38 14-50 43-193 15-49 14-16 15 22 14 52 29 130 14 57 15 45 14 35 15 27 14 20 15 14 29 19 14 6 29 8 29 3 29 1 72-5 87-15 72-20 43-17 29-13 58-33 43-34 44-44 43-58 29-49 14-28 29-66 29-80 15-46 29-104 72-310 29-112 14-43 15-30 14-15 15 2 14 18 14 33 15 44 29 115 58 252 28 110 29 95 15 41 29 71 14 31 29 53 43 63 29 33 29 28 29 23 29 19"/>
<path fill="#76ff89" d="M5005 1663l43-16 29-19 29-31 15-23 29-68 14-50 43-193 15-49 14-16 15 22 14 52 29 130 29 102 14 35 29 47 15 14 29 19 43 14 58 4 72-5 87-15 72-20 72-30 58-33 43-34 44-44 43-58 43-77 29-66 44-126 29-104 72-310 29-112 14-43 15-30 14-15 15 2 14 18 14 33 15 44 87 367 28 110 29 95 44 112 43 84 43 63 58 61 58 42 0-5 -58-45 -58-64 -43-67 -43-89 -44-119 -29-99 -86-368 -29-106 -15-38 -14-24 -14-8 -15 8 -14 24 -15 38 -29 106 -86 368 -29 99 -29 83 -29 69 -44 80 -43 61 -43 45 -44 35 -57 35 -58 25 -72 22 -87 18 -87 9 -72-2 -43-10 -29-15 -15-11 -29-36 -14-27 -29-83 -43-188 -15-50 -14-18 -15 20 -14 51 -43 193 -29 86 -15 29 -29 39 -29 23 -43 20z"/>
<path stroke="#76ff89" d="M5005 1661l29-10 14-7 29-21 15-15 14-20 15-26 14-33 15-44 14-54 43-193 15-35 14 1 15 37 43 189 14 51 15 41 14 31 15 23 14 18 15 13 29 16 14 6 29 6 29 3 43 0 72-7 87-16 72-22 58-23 58-33 43-33 44-43 43-56 29-48 14-27 29-65 29-77 15-45 29-102 28-117 58-252 15-55 14-46 15-33 14-20 15-3 14 13 14 28 15 42 29 111 58 252 28 113 29 97 15 42 29 73 14 32 29 55 43 65 29 33 29 29 29 23 29 20"/>
<path stroke="#80ff80" d="M5005 1660l29-12 14-8 29-23 15-17 14-22 15-29 14-38 15-48 43-193 14-51 15-20 14 18 15 50 43 188 14 47 15 36 14 27 15 21 14 15 15 11 29 15 43 10 29 2 43 0 87-9 87-18 72-22 58-25 29-16 28-19 44-35 43-45 43-61 29-51 15-29 29-69 29-83 29-99 28-115 58-253 29-106 15-38 14-24 15-8 14 8 14 24 15 38 29 106 58 253 28 115 29 99 15 44 29 75 14 33 29 56 43 67 29 35 29 29 29 24 29 21"/>
<path fill="#89ff76" d="M5005 1660l43-20 29-23 29-39 15-29 29-86 43-193 14-51 15-20 14 18 15 50 43 188 29 83 14 27 29 36 15 11 29 15 43 10 72 2 87-9 87-18 72-22 58-25 57-35 44-35 43-45 43-61 44-80 29-69 29-83 29-99 86-368 29-106 15-38 14-24 15-8 14 8 14 24 15 38 29 106 86 368 29 99 44 119 43 89 43 67 58 64 58 45 0-6 -58-47 -29-31 -29-37 -43-70 -43-95 -44-126 -29-104 -72-310 -29-112 -14-43 -15-30 -14-15 -14 2 -15 18 -14 33 -15 44 -101 424 -29 102 -43 124 -29 65 -44 76 -43 57 -43 43 -44 33 -57 33 -73 29 -72 20 -87 16 -86 8 -73-3 -43-11 -29-15 -14-12 -29-37 -15-28 -28-85 -44-189 -14-47 -15-15 -14 24 -58 245 -29 84 -14 28 -29 38 -29 23 -29 14z"/>
<path stroke="#89ff76" d="M5005 1658l29-13 29-20 14-15 15-19 14-25 15-33 14-42 15-53 43-193 14-39 15-3 14 34 44 188 14 53 14 42 15 32 14 24 15 18 14 13 29 18 15 5 28 7 29 3 44 1 86-8 87-16 72-20 44-17 29-13 57-34 44-34 43-44 43-59 29-50 15-28 29-67 29-81 29-96 28-113 58-253 29-110 15-42 14-28 15-13 14 3 14 20 15 34 14 46 15 55 58 251 28 118 29 101 15 45 29 78 14 33 29 59 14 25 29 43 29 36 29 30 29 25 29 21"/>
<path stroke="#93ff6c" d="M5005 1656l29-14 29-23 14-16 15-22 14-28 15-37 14-47 15-58 28-134 15-53 14-24 15 15 14 47 44 189 14 48 14 37 15 28 14 21 15 16 14 12 29 15 43 11 29 3 44 0 86-8 87-16 72-20 44-16 29-13 57-33 44-33 43-43 43-57 29-48 15-28 29-65 29-79 14-45 29-102 29-118 43-191 29-115 15-44 14-33 15-18 14-2 14 15 15 30 14 43 29 112 72 310 29 104 15 46 29 80 14 35 29 60 14 25 29 45 29 37 29 31 29 25 29 22"/>
<path fill="#9dff62" d="M5005 1656l29-14 29-23 29-38 14-28 29-84 58-245 14-24 15 15 14 47 44 189 28 85 15 28 29 37 14 12 29 15 43 11 73 3 86-8 87-16 72-20 73-29 57-33 44-33 43-43 43-57 44-76 29-65 43-124 29-102 101-424 15-44 14-33 15-18 14-2 14 15 15 30 14 43 29 112 72 310 29 104 44 126 43 95 43 70 29 37 29 31 58 47 0-6 -58-50 -43-51 -44-68 -43-91 -43-121 -29-101 -101-424 -29-83 -15-21 -14-5 -14 12 -15 27 -14 40 -29 109 -87 366 -29 98 -29 81 -29 68 -43 79 -43 59 -44 45 -43 34 -58 34 -72 30 -72 21 -102 19 -86 8 -73-1 -28-5 -29-8 -29-16 -15-13 -29-38 -14-29 -29-87 -43-189 -15-45 -14-11 -15 27 -57 246 -29 82 -15 27 -29 37 -14 13 -29 17z"/>
<path stroke="#9dff62" d="M5005 1654l29-16 14-11 15-14 14-19 15-24 14-32 15-41 14-52 43-194 15-42 14-6 15 31 14 57 29 130 15 54 14 43 14 32 15 25 14 19 15 14 29 18 14 6 29 7 29 3 43 2 87-7 87-14 72-19 72-26 58-30 29-19 29-22 29-27 29-32 43-61 29-52 14-30 29-69 29-84 29-100 29-115 43-191 29-118 15-48 14-37 15-22 14-7 14 10 15 26 14 39 29 107 58 253 29 114 29 99 14 43 29 75 15 32 28 56 44 66 43 49 29 27 29 22"/>
<path stroke="#a7ff58" d="M5005 1651l29-17 14-13 15-16 14-21 15-27 14-36 15-46 14-57 29-133 14-56 15-27 14 11 15 45 43 189 15 49 14 38 14 29 15 22 14 16 15 13 29 16 29 8 28 5 29 2 44-1 86-8 58-9 44-10 72-21 43-16 29-14 58-34 43-34 44-45 43-59 29-50 14-29 29-68 29-81 29-98 29-113 58-253 29-109 14-40 15-27 14-12 14 5 15 21 14 36 15 47 101 424 29 101 14 44 29 77 15 34 28 57 44 68 43 51 29 27 29 23"/>
<path fill="#b1ff4e" d="M5005 1651l29-17 14-13 29-37 15-27 29-82 57-246 15-27 14 11 15 45 43 189 29 87 14 29 29 38 15 13 29 16 29 8 28 5 73 1 86-8 102-19 72-21 72-30 58-34 43-34 44-45 43-59 43-79 29-68 29-81 29-98 87-366 29-109 14-40 15-27 14-12 14 5 15 21 29 83 101 424 29 101 43 121 43 91 44 68 43 51 58 50 0-7 -58-52 -43-54 -44-72 -43-96 -29-82 -29-97 -86-367 -29-109 -15-40 -14-27 -15-11 -14 4 -14 21 -29 83 -102 424 -28 101 -29 84 -29 70 -44 83 -43 61 -58 59 -58 42 -57 30 -73 27 -72 19 -101 17 -87 7 -72-2 -29-5 -29-9 -29-17 -14-13 -29-39 -14-30 -29-89 -44-190 -14-42 -15-7 -14 31 -43 190 -29 101 -15 35 -29 47 -14 15 -29 22z"/>
<path stroke="#b1ff4e" d="M5005 1648l29-19 14-14 15-18 14-24 15-31 14-40 15-51 43-193 14-45 15-10 14 27 15 55 29 131 14 55 15 44 14 34 14 26 15 19 14 14 15 11 29 14 29 8 28 3 73 1 43-3 58-7 87-16 72-21 43-16 29-13 58-34 43-33 29-28 29-33 43-64 29-53 15-31 29-72 29-87 28-104 29-118 44-191 29-114 14-43 15-32 14-16 14 0 15 16 14 32 15 44 29 113 43 191 29 119 29 103 14 45 29 80 15 34 28 59 15 26 29 44 43 53 29 27 29 24"/>
<path stroke="#baff45" d="M5005 1645l29-22 14-15 15-21 14-26 15-35 14-45 15-56 29-133 14-57 14-31 15 7 14 42 44 190 14 50 15 39 14 30 14 23 15 16 14 13 29 17 29 9 29 5 29 2 43 0 87-7 101-17 72-19 73-27 57-30 29-19 29-23 29-26 29-33 43-61 29-52 15-31 29-70 29-84 28-101 102-424 14-47 15-36 14-21 14-4 15 11 14 27 15 40 29 109 57 253 29 114 29 97 29 82 15 35 28 61 15 26 29 46 43 54 29 28 29 24"/>
<path fill="#c4ff3b" d="M5005 1645l29-22 14-15 29-47 15-35 29-101 43-190 14-31 15 7 14 42 44 190 29 89 14 30 29 39 14 13 29 17 29 9 29 5 72 2 87-7 101-17 72-19 73-27 57-30 58-42 58-59 43-61 44-83 29-70 29-84 28-101 102-424 29-83 14-21 14-4 15 11 14 27 15 40 29 109 86 367 29 97 29 82 43 96 44 72 43 54 58 52 0-6 -58-56 -43-57 -44-76 -28-65 -44-123 -29-103 -101-423 -14-45 -15-33 -14-18 -15-1 -14 14 -14 30 -15 43 -29 112 -72 310 -29 104 -43 126 -29 66 -44 77 -43 59 -58 56 -58 39 -57 29 -73 26 -86 21 -101 15 -102 6 -72-5 -43-12 -29-18 -15-13 -28-40 -15-31 -29-92 -43-189 -15-39 -14-3 -14 33 -44 192 -29 99 -29 59 -14 20 -29 27z"/>
<path stroke="#c4ff3b" d="M5005 1641l29-24 14-17 15-23 14-30 15-40 14-49 44-194 14-47 14-14 15 24 14 53 29 131 15 56 14 45 15 35 14 27 14 19 15 15 14 11 29 15 29 8 29 4 72 2 87-7 101-17 72-18 73-27 57-29 29-19 29-22 29-26 29-32 43-59 29-51 15-29 29-68 29-83 28-98 29-114 58-253 29-107 15-39 14-26 14-10 15 7 14 22 15 37 29 104 57 253 29 115 29 101 15 43 29 77 28 63 15 27 29 47 43 55 29 29 29 25"/>
<path stroke="#ceff31" d="M5005 1637l14-12 15-15 14-20 15-26 14-33 15-44 14-55 44-192 14-33 14 3 15 39 43 189 15 52 14 40 15 31 14 23 14 17 15 13 29 18 14 5 29 7 29 4 43 1 44-1 58-5 101-15 86-21 73-26 57-29 29-18 29-21 29-26 29-30 43-59 29-49 15-28 29-66 29-80 14-46 29-104 72-310 29-112 15-43 14-30 14-14 15 1 14 18 15 33 14 45 29 114 43 191 29 118 29 103 15 45 29 78 28 65 15 28 29 48 43 57 29 30 29 26"/>
<path fill="#d8ff27" d="M5005 1637l29-27 14-20 29-59 29-99 44-192 14-33 14 3 15 39 43 189 29 92 15 31 28 40 15 13 29 18 43 12 72 5 102-6 101-15 86-21 73-26 57-29 58-39 58-56 43-59 44-77 29-66 43-126 29-104 72-310 29-112 15-43 14-30 14-14 15 1 14 18 15 33 14 45 101 423 29 103 44 123 28 65 44 76 43 57 58 56 0-7 -58-59 -43-60 -44-81 -28-69 -29-83 -29-99 -87-368 -29-106 -14-38 -15-24 -14-8 -15 8 -14 24 -14 38 -29 106 -87 368 -29 99 -29 83 -29 69 -43 80 -44 61 -57 58 -58 41 -58 30 -72 26 -72 19 -102 17 -101 9 -86 0 -58-12 -29-13 -15-10 -28-32 -15-24 -29-73 -14-52 -44-189 -14-36 -14 0 -15 37 -43 193 -29 96 -29 58 -29 34z"/>
<path stroke="#d8ff27" d="M5005 1633l14-14 15-17 14-22 15-29 14-38 15-49 14-59 29-134 15-49 14-18 14 20 15 51 29 131 14 57 15 47 14 35 15 28 14 20 14 15 15 12 29 15 29 8 29 5 72 2 101-8 58-8 58-11 72-19 72-27 58-31 29-19 29-23 43-42 43-57 29-48 15-27 29-64 29-78 14-45 29-102 29-117 58-251 14-55 15-46 14-34 14-20 15-3 14 13 15 28 14 42 29 111 58 252 29 113 29 97 29 80 28 67 15 29 29 50 43 58 29 31 29 26"/>
<path stroke="#e2ff1d" d="M5005 1627l14-14 15-20 14-25 15-33 14-43 15-53 43-193 15-37 14 0 14 36 44 189 14 52 15 41 14 32 15 24 14 18 14 14 15 10 29 13 29 8 29 4 43 1 43-1 101-9 102-17 72-19 72-26 58-30 29-19 29-22 29-26 28-32 44-61 29-51 14-29 29-69 29-83 29-99 29-115 58-253 29-106 14-38 14-24 15-8 14 8 15 24 14 38 29 106 58 253 29 115 29 99 29 83 28 69 15 30 29 51 43 60 29 32 29 27"/>
<path fill="#ebff14" d="M5005 1627l29-34 29-58 29-96 43-193 15-37 14 0 14 36 44 189 14 52 29 73 15 24 28 32 15 10 29 13 58 12 86 0 101-9 102-17 72-19 72-26 58-30 58-41 57-58 44-61 43-80 29-69 29-83 29-99 87-368 29-106 14-38 14-24 15-8 14 8 15 24 14 38 29 106 87 368 29 99 29 83 28 69 44 81 43 60 58 59 0-8 -43-44 -44-58 -43-78 -29-66 -43-126 -29-104 -72-310 -29-112 -15-43 -14-30 -15-14 -14 1 -15 18 -14 33 -14 44 -102 424 -29 102 -43 124 -29 65 -43 76 -44 57 -57 55 -58 39 -58 29 -72 25 -87 21 -115 17 -102 7 -72-2 -58-12 -29-14 -28-24 -29-43 -15-33 -29-96 -43-188 -14-33 -15 4 -14 40 -44 194 -29 94 -14 32 -29 43z"/>
<path stroke="#ebff14" d="M5005 1621l14-16 15-22 14-28 15-37 14-48 15-58 29-134 14-52 15-21 14 16 14 49 44 189 14 47 15 37 14 28 15 22 14 15 14 12 29 16 29 9 29 5 72 2 102-6 57-8 58-10 87-21 72-26 58-29 29-19 29-21 29-26 28-31 44-59 29-49 14-29 29-67 29-81 29-96 29-113 58-252 29-111 14-42 14-28 15-13 14 3 15 20 14 34 15 46 14 55 58 251 29 118 29 101 14 45 29 78 29 64 14 28 29 47 44 57 43 43"/>
<path stroke="#f5ff0a" d="M5005 1615l14-19 15-24 14-32 15-42 14-52 44-194 14-40 15-4 14 33 43 188 15 53 14 43 15 33 14 24 15 19 14 14 14 10 29 14 29 8 29 4 72 2 102-7 57-7 58-10 87-21 72-25 58-29 29-18 29-21 29-25 28-30 44-57 29-48 14-28 29-65 29-78 14-46 29-102 29-118 44-191 29-115 14-44 14-33 15-18 14-1 15 14 14 30 15 43 29 112 72 310 29 104 14 46 29 80 29 66 14 29 29 49 44 58 43 44"/>
<path fill="#ffff00" d="M5005 1615l29-43 14-32 29-94 44-194 14-40 15-4 14 33 43 188 29 96 15 33 29 43 28 24 29 14 58 12 72 2 102-7 115-17 87-21 72-25 58-29 58-39 57-55 44-57 43-76 29-65 43-124 29-102 102-424 14-44 14-33 15-18 14-1 15 14 14 30 15 43 29 112 72 310 29 104 43 126 29 66 43 78 44 58 43 44 0-8 -43-46 -44-62 -43-82 -29-70 -29-85 -29-101 -101-424 -29-83 -14-21 -15-4 -14 11 -15 27 -14 40 -29 109 -87 366 -29 98 -28 82 -29 67 -44 79 -43 59 -58 58 -58 40 -57 29 -73 27 -86 21 -116 18 -116 9 -86-3 -58-12 -29-14 -14-11 -29-34 -15-25 -29-78 -57-241 -15-30 -14 9 -15 43 -43 193 -15 51 -14 41 -29 55z"/>
<path stroke="#ffff00" d="M5005 1607l14-21 15-27 14-37 15-46 14-57 29-134 15-54 14-25 15 13 14 46 43 190 15 48 14 38 15 29 14 22 15 16 14 12 29 17 29 9 29 5 72 3 101-5 116-16 86-20 73-23 43-18 29-15 29-18 29-20 29-25 28-29 44-56 29-46 14-28 29-62 29-77 14-44 29-100 29-115 58-253 29-104 14-37 15-22 14-7 15 10 14 26 15 39 29 107 57 253 29 114 29 99 29 82 29 68 14 29 29 51 44 60 43 45"/>
<path stroke="#fff500" d="M5005 1599l14-24 15-31 14-41 15-51 43-193 15-43 14-9 15 30 14 56 29 131 14 54 15 44 14 34 15 25 14 19 15 15 14 11 29 14 29 8 29 4 43 3 43 0 116-9 58-8 58-10 86-21 73-27 57-29 29-19 29-21 29-27 29-31 43-59 29-50 15-29 29-67 28-82 29-98 29-113 58-253 29-109 14-40 15-27 14-11 15 4 14 21 15 36 14 47 101 424 29 101 29 85 29 70 14 30 29 52 44 62 43 46"/>
<path fill="#ffeb00" d="M5005 1599l29-55 14-41 15-51 43-193 15-43 14-9 15 30 57 241 29 78 15 25 29 34 14 11 29 14 58 12 86 3 116-9 116-18 86-21 73-27 57-29 58-40 58-58 43-59 44-79 29-67 28-82 29-98 87-366 29-109 14-40 15-27 14-11 15 4 14 21 29 83 101 424 29 101 29 85 29 70 43 82 44 62 43 46 0-8 -43-49 -29-42 -44-79 -29-67 -28-82 -29-97 -87-367 -29-109 -14-40 -15-27 -14-11 -15 4 -14 21 -29 83 -101 424 -29 101 -43 121 -29 64 -44 74 -43 56 -58 55 -58 38 -72 34 -72 23 -87 20 -115 16 -116 8 -87-3 -58-13 -28-15 -15-11 -29-35 -14-26 -29-80 -58-241 -14-26 -15 12 -14 46 -44 193 -14 50 -29 70z"/>
<path stroke="#ffeb00" d="M5005 1589l14-27 15-35 14-45 58-246 15-28 14 9 15 43 43 190 14 50 15 39 14 30 15 22 14 17 15 13 14 9 29 13 29 7 29 4 43 2 43 0 116-9 58-8 58-10 86-21 73-26 57-29 29-18 29-21 29-25 29-31 43-57 29-49 15-28 29-65 28-80 15-45 29-104 29-118 43-191 29-113 14-44 15-31 14-17 15 0 14 17 15 31 14 44 29 113 43 191 29 119 29 103 15 45 28 80 29 65 15 28 29 49 29 40 43 48"/>
<path stroke="#ffe200" d="M5005 1578l14-30 15-40 14-50 44-193 14-46 15-12 14 26 15 54 28 132 15 55 14 45 15 35 14 26 15 20 14 15 15 11 28 15 29 8 29 5 44 3 43 0 116-8 115-16 87-20 72-23 43-19 29-15 29-18 29-20 29-25 29-30 43-56 29-47 15-27 29-64 28-77 15-44 29-101 101-424 14-47 15-36 14-21 15-4 14 11 15 27 14 40 29 109 58 253 29 114 29 97 28 82 29 67 15 29 29 50 29 42 43 49"/>
<path fill="#ffd800" d="M5005 1578l29-70 14-50 44-193 14-46 15-12 14 26 58 241 29 80 14 26 29 35 15 11 28 15 58 13 87 3 116-8 115-16 87-20 72-23 72-34 58-38 58-55 43-56 44-74 29-64 43-121 29-101 101-424 29-83 14-21 15-4 14 11 15 27 14 40 29 109 87 367 29 97 28 82 29 67 44 79 29 42 43 49 0-9 -43-52 -29-44 -44-84 -29-71 -28-86 -29-103 -101-423 -15-45 -14-33 -15-18 -14-1 -15 14 -14 30 -15 43 -28 112 -73 310 -29 104 -43 126 -43 94 -44 71 -43 53 -58 51 -58 37 -72 32 -87 26 -86 18 -116 15 -116 7 -86-4 -58-14 -29-15 -14-12 -29-35 -15-27 -29-82 -57-240 -15-23 -14 16 -15 49 -43 192 -29 88z"/>
<path stroke="#ffd800" d="M5005 1566l14-34 15-44 14-56 44-190 14-33 15 6 14 40 43 190 15 51 14 40 15 31 14 23 15 17 14 14 15 9 28 14 29 7 29 4 44 3 43 0 116-8 115-16 87-20 72-23 43-18 29-15 29-17 29-20 29-24 29-29 43-54 29-46 15-27 29-61 14-36 29-82 29-99 29-114 58-253 28-107 15-39 14-26 15-10 14 7 15 22 14 37 15 48 28 118 44 191 29 116 29 100 28 83 29 70 15 30 29 51 29 43 43 51"/>
<path stroke="#ffce00" d="M5005 1552l14-39 15-49 43-192 15-49 14-16 15 23 14 52 29 131 14 57 15 46 14 36 15 27 14 20 15 15 14 12 29 15 29 9 29 5 43 3 43 1 116-7 116-15 86-18 44-11 43-15 43-18 29-14 29-17 29-20 29-23 29-28 43-53 29-45 15-26 29-59 14-35 29-80 14-46 29-104 73-310 28-112 15-43 14-30 15-14 14 1 15 18 14 33 15 45 28 114 44 191 29 118 29 103 28 86 29 71 15 31 29 53 29 44 43 52"/>
<path fill="#ffc400" d="M5005 1552l29-88 43-192 15-49 14-16 15 23 57 240 29 82 15 27 29 35 14 12 29 15 58 14 86 4 116-7 116-15 86-18 87-26 72-32 58-37 58-51 43-53 44-71 43-94 43-126 29-104 73-310 28-112 15-43 14-30 15-14 14 1 15 18 14 33 15 45 101 423 29 103 28 86 29 71 44 84 29 44 43 52 0-9 -43-55 -29-47 -44-89 -29-75 -28-91 -29-108 -73-312 -28-106 -15-38 -14-24 -15-8 -14 8 -15 24 -14 38 -29 106 -87 368 -29 99 -43 119 -43 89 -44 67 -43 50 -58 48 -58 35 -72 31 -87 26 -86 17 -130 15 -116 6 -87-4 -57-14 -29-16 -15-12 -29-37 -14-28 -29-83 -43-189 -15-50 -14-19 -15 20 -14 50 -29 134 -29 106z"/>
<path stroke="#ffc400" d="M5005 1536l14-43 15-54 43-192 15-35 14 1 15 38 43 190 14 52 15 41 14 31 15 24 14 18 15 13 14 11 29 13 29 8 29 4 43 3 43 0 58-2 73-6 115-16 87-18 72-22 43-18 29-14 29-16 29-20 29-22 29-28 43-51 29-44 15-25 29-58 14-33 29-78 14-45 29-101 29-118 58-251 14-55 15-46 14-34 15-20 14-3 15 13 14 28 15 42 28 111 73 310 29 105 28 89 29 73 15 32 29 55 29 45 43 54"/>
<path stroke="#ffba00" d="M5005 1518l14-48 15-58 29-134 14-50 15-20 14 19 15 50 43 189 14 47 15 36 14 28 15 21 14 16 15 12 29 16 28 9 29 5 44 4 43 0 116-6 72-7 58-8 86-17 44-12 43-14 43-17 29-14 58-35 29-22 29-26 43-50 44-67 29-56 14-33 29-75 14-44 29-99 29-115 58-253 29-106 14-38 15-24 14-8 15 8 14 24 15 38 28 106 73 312 29 108 28 91 29 75 15 33 29 56 29 47 43 55"/>
<path fill="#ffb100" d="M5005 1518l29-106 29-134 14-50 15-20 14 19 15 50 43 189 29 83 14 28 29 37 15 12 29 16 57 14 87 4 116-6 130-15 86-17 87-26 72-31 58-35 58-48 43-50 44-67 43-89 43-119 29-99 87-368 29-106 14-38 15-24 14-8 15 8 14 24 15 38 28 106 73 312 29 108 28 91 29 75 44 89 29 47 43 55 0-10 -43-58 -29-49 -29-60 -29-73 -29-88 -29-104 -72-310 -29-112 -14-43 -15-30 -14-14 -15 1 -14 18 -15 33 -14 45 -101 423 -29 103 -44 123 -43 93 -43 69 -29 36 -29 30 -58 47 -58 33 -72 29 -87 25 -86 16 -130 16 -116 6 -87-3 -57-11 -29-13 -29-22 -29-37 -15-29 -28-86 -44-190 -14-47 -15-15 -14 23 -15 53 -43 191z"/>
<path stroke="#ffb100" d="M5005 1498l14-53 44-192 14-39 15-2 14 35 44 189 14 53 14 42 15 32 14 25 15 18 14 14 15 11 29 14 28 8 29 5 44 3 43 0 116-6 130-16 86-16 87-25 43-17 29-13 58-34 29-22 29-26 29-31 29-37 29-45 14-26 29-61 14-35 29-81 29-96 29-113 58-252 29-111 14-42 15-28 14-13 15 3 14 20 15 34 14 46 14 55 58 251 29 118 29 101 29 86 29 70 29 59 29 47 43 57"/>
<path stroke="#ffa700" d="M5005 1476l14-58 29-133 15-53 14-23 15 15 14 47 44 190 14 48 14 38 15 29 14 21 15 16 29 22 29 13 28 7 29 4 44 3 43 0 116-6 130-16 86-16 87-25 43-16 29-13 58-33 29-22 29-25 29-30 29-36 29-44 14-25 29-59 14-34 29-78 15-45 29-103 29-118 43-191 29-114 14-45 15-33 14-18 15-1 14 14 15 30 14 43 29 112 72 310 29 104 29 88 29 73 29 60 29 49 43 58"/>
<path fill="#ff9d00" d="M5005 1476l43-191 15-53 14-23 15 15 14 47 44 190 28 86 15 29 29 37 29 22 29 13 57 11 87 3 116-6 130-16 86-16 87-25 72-29 58-33 58-47 29-30 29-36 43-69 43-93 44-123 29-103 101-423 14-45 15-33 14-18 15-1 14 14 15 30 14 43 29 112 72 310 29 104 29 88 29 73 29 60 29 49 43 58 0-10 -43-62 -29-52 -29-64 -29-77 -29-92 -29-109 -87-368 -28-83 -15-20 -14-5 -15 11 -14 27 -15 40 -29 109 -86 366 -29 98 -44 117 -43 87 -43 65 -58 63 -58 44 -58 32 -72 28 -87 24 -86 16 -130 15 -130 6 -87-3 -58-12 -29-13 -29-22 -29-39 -14-30 -29-87 -43-191 -15-45 -14-11 -15 27 -43 188z"/>
<path stroke="#ff9d00" d="M5005 1452l43-193 15-42 14-6 15 31 14 58 29 130 15 55 14 43 14 33 15 25 14 20 15 14 14 11 29 14 29 9 29 5 43 3 44 1 115-6 130-14 101-18 87-24 72-29 58-33 29-20 29-25 29-29 29-35 43-67 29-57 14-33 29-77 15-44 29-100 29-115 57-253 29-104 15-37 14-22 15-7 14 10 15 26 14 39 29 107 72 312 29 107 29 90 29 75 29 61 29 51 43 60"/>
<path stroke="#ff9300" d="M5005 1425l29-133 14-55 15-27 14 11 15 45 43 191 15 49 14 38 14 30 15 22 14 17 15 13 14 9 29 13 29 8 29 4 43 3 44 0 130-6 130-15 86-16 87-24 72-28 58-32 29-20 29-24 29-28 29-35 43-65 29-55 14-32 29-74 15-43 29-98 29-113 57-253 29-109 15-40 14-27 15-11 14 5 15 20 14 36 14 47 29 117 58 251 29 109 29 92 29 77 29 64 29 52 43 62"/>
<path fill="#ff8900" d="M5005 1425l43-188 15-27 14 11 15 45 43 191 29 87 14 30 29 39 29 22 29 13 58 12 87 3 130-6 130-15 86-16 87-24 72-28 58-32 58-44 58-63 43-65 43-87 44-117 29-98 86-366 29-109 15-40 14-27 15-11 14 5 15 20 28 83 87 368 29 109 29 92 29 77 29 64 29 52 43 62 0-11 -29-42 -29-50 -29-61 -29-74 -29-90 -28-105 -73-312 -29-109 -14-40 -14-27 -15-11 -14 5 -15 20 -29 83 -101 424 -29 101 -43 121 -43 91 -29 47 -29 39 -58 60 -58 42 -58 30 -72 27 -72 19 -87 17 -115 14 -131 9 -86 0 -72-8 -44-13 -29-18 -29-30 -14-23 -29-70 -14-50 -44-191 -14-42 -15-7 -14 30 -29 125z"/>
<path stroke="#ff8900" d="M5005 1397l29-132 14-44 15-10 14 27 15 56 29 131 14 56 15 44 14 34 14 26 15 20 14 15 15 11 29 15 43 11 29 4 43 3 101-2 116-9 116-15 86-18 73-21 57-23 58-31 29-20 29-23 29-28 29-33 43-63 29-54 14-31 29-72 15-42 29-95 29-111 57-252 29-113 15-44 14-31 15-17 14 0 15 17 14 31 14 44 29 113 44 191 29 119 43 148 29 80 29 65 29 54 43 63"/>
<path stroke="#ff8000" d="M5005 1367l29-125 14-30 15 7 14 42 44 191 14 50 15 40 14 30 14 23 15 17 14 13 29 18 44 13 28 5 44 3 86 0 131-9 115-14 87-17 72-19 72-27 58-30 29-19 29-23 29-27 29-33 29-39 29-47 28-57 15-34 29-77 14-44 29-101 101-424 15-47 14-36 15-20 14-5 15 11 14 27 14 40 29 109 73 312 28 105 29 90 29 74 29 61 29 50 29 42"/>
<path fill="#ff7600" d="M5005 1367l29-125 14-30 15 7 14 42 44 191 14 50 29 70 14 23 29 30 29 18 44 13 72 8 86 0 131-9 115-14 87-17 72-19 72-27 58-30 58-42 58-60 29-39 29-47 43-91 43-121 29-101 101-424 29-83 15-20 14-5 15 11 14 27 14 40 29 109 73 312 28 105 29 90 29 74 29 61 29 50 29 42 0-12 -29-44 -29-53 -29-65 -29-78 -43-148 -101-423 -15-45 -14-33 -14-18 -15-1 -14 14 -15 30 -14 43 -116 476 -29 96 -43 115 -43 85 -29 45 -29 37 -58 56 -72 48 -58 27 -72 24 -87 20 -101 16 -130 13 -116 5 -87-3 -57-9 -29-11 -29-18 -29-31 -14-24 -29-72 -15-51 -43-191 -15-39 -14-3 -15 33 -14 59z"/>
<path stroke="#ff7600" d="M5005 1336l14-65 15-47 14-13 15 24 14 53 29 132 15 56 14 46 15 35 14 27 14 20 15 15 29 20 14 7 29 9 29 5 43 4 87 1 130-8 116-13 86-15 87-22 72-27 58-30 29-18 29-23 29-26 29-31 29-38 29-46 28-56 15-32 29-75 14-43 29-99 29-114 58-253 29-107 14-39 15-26 14-10 15 7 14 22 14 37 15 48 87 368 28 109 29 91 29 77 29 63 29 51 29 43"/>
<path stroke="#ff6c00" d="M5005 1306l14-59 15-33 14 3 15 39 43 191 15 51 14 41 15 31 14 24 14 18 15 13 29 18 29 11 29 6 28 3 87 3 116-5 130-13 101-16 87-20 72-24 58-27 43-26 29-22 29-26 29-30 29-37 29-45 28-54 15-31 29-73 14-42 29-96 29-112 58-252 29-112 14-43 15-30 14-14 15 1 14 18 14 33 15 45 29 114 43 191 29 118 43 148 29 78 29 65 29 53 29 44"/>
<path fill="#ff6200" d="M5005 1306l14-59 15-33 14 3 15 39 43 191 15 51 29 72 14 24 29 31 29 18 29 11 57 9 87 3 116-5 130-13 101-16 87-20 72-24 58-27 72-48 58-56 29-37 29-45 43-85 43-115 29-96 116-476 14-43 15-30 14-14 15 1 14 18 14 33 15 45 101 423 43 148 29 78 29 65 29 53 29 44 0-12 -29-47 -29-56 -43-108 -29-91 -29-108 -72-312 -29-106 -15-38 -14-24 -14-8 -15 8 -14 24 -15 38 -29 106 -86 368 -44 143 -43 108 -43 81 -29 42 -29 35 -58 53 -72 46 -73 31 -72 21 -86 19 -102 14 -130 12 -130 4 -86-4 -58-14 -29-14 -29-24 -29-43 -14-32 -29-94 -44-190 -14-36 -15 0 -14 37z"/>
<path stroke="#ff6200" d="M5005 1278l14-50 15-17 14 20 15 52 29 131 14 58 15 46 14 36 15 28 14 21 14 15 29 21 29 13 29 7 29 4 87 4 130-6 130-12 101-16 87-20 72-23 58-27 43-25 29-21 29-25 29-30 29-36 29-43 28-53 15-31 29-70 14-41 29-94 29-109 58-252 29-115 14-46 15-34 14-20 15-3 14 13 14 28 15 42 29 111 72 310 43 152 29 80 29 67 29 55 29 45"/>
<path stroke="#ff5800" d="M5005 1253l14-37 15 0 14 36 44 190 14 52 15 42 14 32 15 24 14 19 14 14 15 10 29 14 29 9 29 5 43 3 43 1 130-4 130-12 102-14 86-19 72-21 44-18 29-13 43-26 29-20 29-24 29-29 29-35 29-42 28-52 15-29 29-69 14-39 44-143 29-115 57-253 29-106 15-38 14-24 15-8 14 8 14 24 15 38 29 106 72 312 29 108 29 91 14 39 29 69 29 56 29 47"/>
<path fill="#ff4e00" d="M5005 1253l14-37 15 0 14 36 44 190 29 94 14 32 29 43 29 24 29 14 58 14 86 4 130-4 130-12 102-14 86-19 72-21 73-31 72-46 58-53 29-35 29-42 43-81 43-108 44-143 86-368 29-106 15-38 14-24 15-8 14 8 14 24 15 38 29 106 72 312 29 108 29 91 43 108 29 56 29 47 0-13 -29-49 -29-60 -43-115 -44-150 -72-310 -29-112 -14-43 -15-30 -14-14 -14 1 -15 18 -14 33 -15 45 -86 366 -29 110 -29 95 -44 112 -43 84 -29 44 -29 36 -29 30 -43 36 -72 44 -73 30 -72 21 -86 17 -116 16 -130 11 -130 3 -87-5 -58-13 -29-15 -14-11 -29-33 -14-25 -29-76 -58-243 -15-32 -14 4z"/>
<path stroke="#ff4e00" d="M5005 1233l14-22 15 17 14 49 44 190 14 48 15 37 14 28 15 22 14 16 14 12 15 9 29 13 29 7 29 5 86 4 130-5 130-11 102-14 86-19 72-21 44-17 29-13 43-25 29-20 43-37 29-31 29-37 29-45 29-55 14-32 29-73 15-42 29-97 29-113 57-252 29-111 15-42 14-28 15-13 14 3 14 20 15 34 14 46 29 115 58 252 29 110 29 93 14 41 29 71 29 58 29 47"/>
<path stroke="#ff4500" d="M5005 1219l14-4 15 32 43 189 15 54 14 43 15 33 14 25 15 19 14 14 14 11 29 15 29 8 29 5 43 4 44 1 130-3 130-11 116-16 86-17 72-21 44-17 29-13 43-24 29-20 43-36 29-30 29-36 29-44 29-53 14-31 29-71 15-41 29-95 29-110 57-252 29-114 15-45 14-33 15-18 14-1 14 14 15 30 14 43 29 112 72 310 44 150 14 42 29 73 29 60 29 49"/>
<path fill="#ff3b00" d="M5005 1219l14-4 15 32 58 243 29 76 14 25 29 33 14 11 29 15 58 13 87 5 130-3 130-11 116-16 86-17 72-21 73-30 72-44 43-36 29-30 29-36 29-44 43-84 44-112 29-95 29-110 86-366 15-45 14-33 15-18 14-1 14 14 15 30 14 43 29 112 72 310 44 150 43 115 29 60 29 49 0-14 -29-52 -29-64 -43-121 -44-157 -72-312 -29-103 -14-36 -15-20 -14-5 -14 11 -15 27 -14 40 -29 109 -87 367 -43 140 -44 106 -43 79 -29 42 -29 34 -29 28 -43 35 -72 41 -73 29 -86 23 -87 16 -116 15 -144 10 -116 3 -86-6 -58-14 -29-15 -14-11 -29-35 -15-25 -29-78 -58-243 -14-29z"/>
<path stroke="#ff3b00" d="M5005 1212l14 13 15 47 43 190 15 49 14 38 15 29 14 22 15 17 28 22 29 13 29 8 29 5 87 4 130-4 130-10 116-16 86-17 72-21 73-29 43-23 29-19 43-36 29-29 29-35 29-43 29-51 14-30 29-70 15-40 29-91 43-168 58-253 29-104 14-37 15-22 14-7 14 10 15 26 14 39 29 107 72 312 44 154 14 43 29 75 29 61 29 51"/>
<path stroke="#ff3100" d="M5005 1214l14 29 15 57 29 131 14 55 15 44 14 34 15 25 14 20 15 15 14 11 29 15 29 9 29 5 43 4 43 2 116-3 144-10 116-15 87-16 86-23 73-29 43-23 29-18 43-35 29-28 29-34 29-42 29-50 14-29 29-67 15-39 29-90 14-50 29-114 58-253 29-109 14-40 15-27 14-11 14 5 15 20 14 36 29 103 72 312 44 157 14 44 29 77 29 64 29 52"/>
<path fill="#ff2700" d="M5005 1214l14 29 58 243 29 78 15 25 29 35 14 11 29 15 58 14 86 6 116-3 144-10 116-15 87-16 86-23 73-29 72-41 43-35 29-28 29-34 29-42 43-79 44-106 43-140 87-367 29-109 14-40 15-27 14-11 14 5 15 20 14 36 29 103 72 312 44 157 43 121 29 64 29 52 0-15 -43-87 -44-117 -43-152 -72-311 -29-110 -15-40 -14-27 -15-11 -14 5 -14 20 -15 36 -29 102 -58 253 -43 169 -29 92 -43 111 -44 82 -28 43 -29 35 -29 30 -44 36 -72 42 -72 30 -72 20 -87 18 -116 16 -144 11 -130 5 -101-5 -58-11 -29-12 -29-20 -29-35 -14-27 -29-80 -58-242z"/>
<path stroke="#ff2700" d="M5005 1223l14 44 44 190 14 50 15 39 14 30 15 23 14 17 15 13 14 10 29 14 29 8 29 4 43 4 58 1 130-4 144-12 116-16 87-18 72-21 43-16 29-14 43-24 29-20 29-23 29-28 29-33 29-40 29-49 14-28 29-65 15-38 29-87 14-50 29-111 58-252 29-113 14-44 15-31 14-17 14 0 15 17 14 31 15 44 29 113 43 191 29 119 43 148 15 42 29 72 14 31 29 54"/>
<path stroke="#ff1d00" d="M5005 1239l14 55 29 131 15 56 14 45 15 35 14 27 15 20 14 15 29 20 29 12 29 7 29 4 43 4 58 1 130-5 144-11 116-16 87-18 72-20 72-30 43-23 29-19 44-36 29-30 29-35 28-43 29-52 15-30 29-70 14-41 29-92 43-169 58-253 29-102 15-36 14-20 14-5 15 11 14 27 15 40 29 110 72 311 43 152 15 43 29 74 14 32 29 55"/>
<path fill="#ff1400" d="M5005 1239l58 242 29 80 14 27 29 35 29 20 29 12 58 11 101 5 130-5 144-11 116-16 87-18 72-20 72-30 72-42 44-36 29-30 29-35 28-43 44-82 43-111 29-92 43-169 58-253 29-102 15-36 14-20 14-5 15 11 14 27 15 40 29 110 72 311 43 152 44 117 43 87 0-15 -29-59 -29-71 -43-136 -29-110 -72-312 -29-99 -15-33 -14-18 -15-1 -14 14 -14 30 -15 43 -115 476 -29 96 -44 115 -43 85 -29 45 -29 37 -58 56 -72 48 -72 33 -72 22 -87 19 -101 16 -145 13 -159 8 -101-2 -72-11 -43-16 -29-21 -29-36 -15-27 -29-82 -43-189z"/>
<path stroke="#ff1400" d="M5005 1262l43 190 15 51 14 41 15 30 14 24 15 17 14 14 29 18 29 10 29 7 29 4 43 2 58 1 144-5 145-12 115-17 87-18 72-22 44-17 29-14 43-25 29-20 29-24 29-29 29-34 28-42 29-51 15-29 29-68 14-39 44-142 28-114 58-253 29-107 15-39 14-26 14-10 15 7 14 22 15 37 29 104 57 253 44 168 14 48 29 84 29 69 29 57"/>
<path stroke="#ff0a00" d="M5005 1288l29 132 14 57 15 46 14 36 15 27 14 21 15 15 29 21 14 7 29 9 29 6 43 5 101 2 159-8 145-13 101-16 87-19 72-22 43-18 29-15 43-26 29-22 29-25 29-31 29-37 29-45 29-54 14-31 29-73 15-42 29-96 28-112 58-252 29-112 15-43 14-30 14-14 15 1 14 18 15 33 14 45 15 54 72 312 29 110 14 50 29 86 29 71 29 59"/>
<path fill="#ff0000" d="M5005 1288l43 189 29 82 15 27 29 36 29 21 43 16 72 11 101 2 159-8 145-13 101-16 87-19 72-22 72-33 72-48 58-56 29-37 29-45 43-85 44-115 29-96 115-476 15-43 14-30 14-14 15 1 14 18 15 33 29 99 72 312 29 110 43 136 29 71 29 59 0-16 -43-99 -44-130 -43-167 -58-253 -29-106 -14-38 -15-23 -14-9 -15 8 -14 24 -14 38 -29 106 -87 368 -43 143 -44 108 -43 81 -29 42 -29 35 -58 53 -58 38 -72 33 -72 24 -87 19 -101 16 -144 14 -159 8 -116-1 -72-8 -43-13 -29-16 -29-29 -15-21 -29-65 -14-47 -29-124z"/>
<path stroke="#ff0000" d="M5005 1317l29 130 14 52 15 42 14 31 15 24 14 18 15 14 29 19 14 6 29 8 29 5 43 5 116 1 144-7 145-14 101-15 87-19 72-22 43-17 29-15 43-25 29-21 29-25 29-30 29-36 29-43 29-53 14-31 29-70 15-41 29-94 28-109 58-252 29-115 15-46 14-34 14-20 15-3 14 13 15 28 14 42 29 111 58 252 43 163 15 47 29 80 14 35 29 61"/>
<path stroke="#f50000" d="M5005 1348l29 124 14 47 15 37 14 28 15 21 14 16 15 13 29 16 43 13 29 5 43 3 116 1 159-8 144-14 101-16 87-19 72-24 44-18 28-15 29-17 29-21 29-24 29-29 29-35 29-42 29-52 14-29 29-69 15-39 43-143 29-115 58-253 29-106 14-38 14-24 15-8 14 9 15 23 14 38 29 106 58 253 43 167 15 47 29 83 14 36 29 63"/>
<path fill="#eb0000" d="M5005 1348l29 124 14 47 29 65 15 21 29 29 29 16 43 13 72 8 116 1 159-8 144-14 101-16 87-19 72-24 72-33 58-38 58-53 29-35 29-42 43-81 44-108 43-143 87-368 29-106 14-38 14-24 15-8 14 9 15 23 14 38 29 106 58 253 43 167 44 130 43 99 0-18 -43-104 -44-138 -115-476 -15-43 -14-30 -15-14 -14 1 -15 18 -14 33 -14 45 -87 366 -29 110 -29 95 -43 112 -44 84 -43 63 -58 60 -58 43 -57 31 -73 28 -86 22 -101 18 -131 15 -159 11 -144 3 -87-6 -43-8 -29-10 -29-17 -29-29 -29-51 -14-37 -29-108z"/>
<path stroke="#eb0000" d="M5005 1379l29 116 14 42 15 33 14 25 15 18 14 15 15 10 29 15 43 12 43 5 44 3 115-1 159-8 145-15 101-17 86-20 73-25 43-19 29-16 29-18 29-22 29-26 29-31 28-37 29-45 29-55 15-32 29-73 14-42 29-97 29-113 58-252 29-111 14-42 14-28 15-13 14 3 15 20 14 34 15 46 14 55 72 312 29 110 15 48 29 86 14 37 29 64"/>
<path stroke="#e20000" d="M5005 1408l14 59 15 49 14 37 15 29 14 22 15 17 14 12 29 17 29 10 43 8 87 6 144-3 159-11 131-15 101-18 86-22 73-28 57-31 29-19 29-24 29-27 29-33 43-63 29-53 15-31 29-71 14-41 29-95 29-110 58-252 29-114 14-45 14-33 15-18 14-1 15 14 14 30 15 43 29 112 57 252 29 112 15 50 29 88 14 38 29 66"/>
<path fill="#d80000" d="M5005 1408l29 108 14 37 29 51 29 29 29 17 29 10 43 8 87 6 144-3 159-11 131-15 101-18 86-22 73-28 57-31 58-43 58-60 43-63 44-84 43-112 29-95 29-110 87-366 14-45 14-33 15-18 14-1 15 14 14 30 15 43 115 476 44 138 43 104 0-18 -43-111 -29-92 -44-169 -57-252 -29-103 -15-36 -14-20 -15-5 -14 11 -15 27 -14 40 -29 110 -87 366 -28 97 -44 117 -43 87 -44 66 -57 62 -58 44 -58 32 -72 29 -87 23 -87 16 -130 17 -144 10 -145 5 -115-2 -44-5 -43-11 -29-14 -29-22 -29-40 -14-29 -29-89z"/>
<path stroke="#d80000" d="M5005 1436l14 55 15 43 14 34 15 25 14 19 15 15 14 11 29 15 29 9 43 7 44 4 57 1 130-3 159-10 131-15 101-18 86-22 73-27 57-30 29-19 29-23 29-27 29-32 29-38 29-47 29-57 14-33 29-77 15-43 28-100 29-116 58-253 29-104 14-37 15-22 14-7 15 10 14 26 15 39 29 107 57 253 29 114 44 142 14 39 29 68"/>
<path stroke="#ce0000" d="M5005 1462l14 50 15 39 14 29 15 23 14 17 15 13 14 9 29 14 43 11 44 5 58 2 57 0 145-5 144-10 130-17 87-16 87-23 72-29 58-32 29-20 29-24 29-28 28-34 44-66 29-55 14-32 29-74 15-43 28-97 29-114 58-252 29-110 14-40 15-27 14-11 15 5 14 20 15 36 29 103 57 252 44 169 29 92 14 41 29 70"/>
<path fill="#c40000" d="M5005 1462l29 89 14 29 29 40 29 22 29 14 43 11 44 5 115 2 145-5 144-10 130-17 87-16 87-23 72-29 58-32 58-44 57-62 44-66 43-87 44-117 28-97 87-366 29-110 14-40 15-27 14-11 15 5 14 20 15 36 29 103 57 252 44 169 29 92 43 111 0-20 -43-117 -29-97 -87-366 -29-110 -14-40 -15-27 -14-11 -15 5 -14 20 -29 83 -101 424 -29 101 -43 121 -44 91 -43 68 -58 65 -58 46 -58 32 -72 30 -86 24 -87 17 -116 15 -130 10 -159 8 -115 0 -58-4 -43-7 -29-8 -29-14 -29-23 -15-18 -29-53 -14-40z"/>
<path stroke="#c40000" d="M5005 1486l14 45 15 34 14 26 15 20 14 15 29 20 29 12 43 10 58 5 116 2 144-6 145-11 115-15 87-16 87-23 72-28 58-31 29-19 29-24 29-28 28-33 44-63 29-54 14-31 29-72 15-42 28-95 29-111 58-252 29-113 14-44 15-31 14-17 15 0 14 17 15 31 14 44 29 113 58 252 29 111 29 95 14 42 29 72"/>
<path stroke="#ba0000" d="M5005 1508l14 40 15 30 14 23 15 18 14 13 15 10 29 14 29 8 43 7 58 4 115 0 159-8 130-10 116-15 87-17 86-24 72-30 58-32 29-21 29-25 29-29 29-36 43-68 29-57 15-34 29-77 14-44 29-101 101-424 14-47 15-36 14-20 15-5 14 11 15 27 14 40 29 110 58 252 29 114 29 97 14 43 29 74"/>
<path fill="#b10000" d="M5005 1508l14 40 29 53 15 18 29 23 29 14 29 8 43 7 58 4 115 0 159-8 130-10 116-15 87-17 86-24 72-30 58-32 58-46 58-65 43-68 44-91 43-121 29-101 101-424 29-83 14-20 15-5 14 11 15 27 14 40 29 110 87 366 29 97 43 117 0-21 -43-123 -29-103 -101-423 -15-45 -14-33 -15-18 -14-1 -15 14 -14 30 -15 43 -28 112 -73 310 -29 104 -43 126 -43 95 -44 70 -29 37 -28 31 -58 47 -58 34 -58 25 -72 22 -87 20 -101 15 -130 13 -145 9 -130 3 -130-5 -43-7 -43-14 -29-19 -15-13 -29-42 -14-31z"/>
<path stroke="#b10000" d="M5005 1527l14 36 15 27 14 20 15 15 29 21 29 12 43 10 43 5 73 3 130-2 144-8 130-12 101-14 87-17 72-21 72-28 58-32 29-21 29-24 29-29 29-34 43-66 29-56 15-32 29-75 14-43 29-99 29-114 58-253 28-107 15-39 14-26 15-10 14 7 15 22 14 37 29 104 58 253 29 116 29 100 14 44 29 76"/>
<path stroke="#a70000" d="M5005 1545l14 31 15 24 14 18 15 13 29 19 43 14 43 7 58 4 72 1 130-3 145-9 130-13 101-15 87-20 72-22 58-25 58-34 29-22 29-25 28-31 29-37 29-45 15-25 29-60 14-35 29-80 14-46 29-104 73-310 28-112 15-43 14-30 15-14 14 1 15 18 14 33 15 45 28 114 44 191 29 118 29 103 14 45 29 78"/>
<path fill="#9d0000" d="M5005 1545l14 31 29 42 15 13 29 19 43 14 43 7 130 5 130-3 145-9 130-13 101-15 87-20 72-22 58-25 58-34 58-47 28-31 29-37 44-70 43-95 43-126 29-104 73-310 28-112 15-43 14-30 15-14 14 1 15 18 14 33 15 45 101 423 29 103 43 123 0-22 -29-83 -29-99 -87-368 -28-106 -15-38 -14-23 -15-9 -14 9 -15 23 -14 38 -29 106 -87 368 -29 99 -43 119 -43 89 -44 67 -43 50 -58 49 -43 27 -58 28 -72 25 -72 18 -87 15 -101 13 -246 17 -188 3 -72-5 -43-7 -44-15 -29-19 -29-33 -14-24z"/>
<path stroke="#9d0000" d="M5005 1560l14 28 15 21 14 16 29 21 29 12 44 11 43 5 72 3 87-1 144-6 130-9 116-13 87-14 72-16 72-23 58-24 58-33 29-21 29-25 28-30 29-36 29-43 15-25 29-59 14-33 29-78 14-45 29-101 29-118 58-251 14-55 15-46 14-34 15-20 14-3 15 13 14 28 15 42 28 111 58 252 29 113 29 97 29 80"/>
<path stroke="#930000" d="M5005 1574l14 24 15 19 14 14 29 19 15 6 29 9 43 7 72 5 87 0 101-3 130-7 116-10 101-13 87-15 72-18 72-25 58-28 43-27 29-23 29-26 43-50 44-67 29-56 14-33 29-75 14-44 29-99 29-115 58-253 29-106 14-38 15-23 14-9 15 9 14 23 15 38 28 106 58 253 29 115 29 99 29 83"/>
</g></g>
<path transform="scale(.1)" fill="none" stroke="#000" stroke-width="16.5" stroke-dasharray="54 50" d="M5005 1660l29-12 14-8 15-10 14-13 15-17 14-22 15-29 14-38 15-48 14-59 29-134 14-51 15-20 14 18 15 50 29 131 14 57 14 47 15 36 14 27 15 21 14 15 15 11 14 9 15 6 14 5 29 5 29 2 43 0 44-3 43-6 43-8 44-10 43-12 29-10 29-12 29-13 29-16 28-19 44-35 29-29 14-16 29-39 14-22 29-51 15-29 29-69 29-83 29-99 28-115 58-253 15-57 14-49 15-38 14-24 15-8 14 8 14 24 15 38 14 49 15 57 58 253 28 115 29 99 15 44 29 75 14 33 29 56 14 25 29 42 29 35 29 29 29 24 29 21"/>
</g>
<g stroke="#262626" stroke-width="0.66" fill="none">
<rect x="40.50" y="224.50" width="173.10" height="127.50"/>
<path d="M83.78 352.00v-1.70M83.78 224.50v1.70M127.05 352.00v-1.70M127.05 224.50v1.70M170.32 352.00v-1.70M170.32 224.50v1.70M40.50 311.62h1.70M213.60 311.62h-1.70M40.50 271.23h1.70M213.60 271.23h-1.70M40.50 230.85h1.70M213.60 230.85h-1.70"/>
</g>
<g clip-path="url(#c3)"><g filter="url(#bl)"><g transform="scale(.1)" fill="none" stroke-linejoin="miter" stroke-miterlimit="8" stroke-width="11.5">
<path stroke="#000093" d="M405 3115l29-53 29-68 29-93 14-58 29-145 58-366 14-63 14-24 15 20 14 57 44 264 28 155 15 62 29 97 28 69 29 49 15 19 29 29 14 12 29 17 43 15 43 6 29 0 29-2 58-13 58-21 57-32 58-42 43-40 43-48 29-39 29-44 29-49 29-57 29-63 29-70 72-187 29-65 14-25 14-19 15-12 14-4 15 5 14 13 15 20 14 26 29 67 72 192 29 72 29 66 43 85 43 72 43 60 44 51 43 42"/>
<path stroke="#00009d" d="M405 3160l29-48 29-63 29-84 14-53 29-134 58-339 14-58 14-23 15 18 14 54 58 321 14 67 29 105 29 75 29 53 14 21 29 31 15 12 28 19 44 16 29 6 28 3 29 0 29-3 58-12 58-21 57-29 58-39 43-38 43-46 29-36 29-41 29-46 29-53 29-60 29-66 72-177 29-61 14-24 14-18 15-11 14-4 15 4 14 12 15 19 14 25 29 63 72 182 29 67 29 62 43 80 43 67 43 56 44 47 43 40"/>
<path stroke="#0000a7" d="M405 3200l29-43 29-57 29-78 14-48 29-123 58-314 14-55 14-21 15 17 14 50 58 298 14 61 29 97 29 69 29 48 14 18 29 29 15 11 28 16 44 15 29 5 28 2 58-3 58-12 58-20 57-27 58-37 43-35 43-43 29-33 29-39 29-44 29-50 29-56 29-62 72-167 29-58 14-23 14-17 15-10 14-4 15 4 14 12 15 18 14 23 29 60 72 171 29 63 29 58 43 75 43 63 43 52 44 44 43 36"/>
<path stroke="#0000b1" d="M405 3235l29-39 29-52 29-70 14-45 29-113 58-291 14-50 14-20 15 16 14 47 58 275 14 57 29 89 29 63 29 43 14 17 29 26 15 9 28 15 44 13 29 4 28 2 58-4 58-11 58-18 57-26 58-34 43-33 43-40 29-32 29-36 29-41 29-47 29-52 29-59 72-158 29-54 14-22 14-16 15-11 14-3 15 4 14 11 15 17 14 22 29 56 72 161 29 60 29 54 43 71 43 58 43 49 44 40 43 34"/>
<path stroke="#0000ba" d="M405 3267l29-36 29-47 29-64 14-41 29-104 58-269 14-47 14-18 15 15 14 43 58 255 14 53 29 81 29 57 29 40 14 15 29 23 15 9 28 13 44 12 29 3 28 1 58-4 58-10 58-18 57-24 58-32 43-30 43-38 29-29 29-34 29-39 29-44 43-76 87-177 29-52 14-20 14-16 15-9 14-3 15 3 14 10 15 16 14 21 29 53 72 152 29 56 29 51 43 66 43 54 43 46 44 38 43 31"/>
<path fill="#1f1fcb" stroke="#1f1fcb" stroke-width="5" d="M535 2975l29-133 0 121 -29 113z"/>
<path stroke="#0000c4" d="M405 3295l29-32 29-43 29-59 14-37 29-96 58-249 14-43 14-17 15 13 14 41 44 181 28 103 29 75 29 52 14 20 29 30 15 12 29 17 28 11 44 11 29 3 43 0 43-4 58-10 58-16 43-16 43-21 43-25 44-30 28-24 29-28 29-31 29-36 29-42 43-71 87-167 29-49 14-20 14-14 15-9 14-3 15 3 14 10 15 15 14 20 29 50 72 142 29 53 29 48 43 61 43 51 43 43 44 35 43 29"/>
<path stroke="#0000ce" d="M405 3320l29-29 14-18 29-46 29-63 29-88M549 3022l44-176 14-41 14-15 15 12 14 38 58 219 29 82 29 57 14 22 29 32 29 23 29 15 28 11 44 9 43 3 43-2 44-4 57-11 72-22 44-18 28-14 44-25 29-19 28-23 29-26 29-29 29-34 43-60 44-71 72-132 29-46 14-19 14-14 15-8 14-3 15 3 14 9 15 14 14 19 29 47 72 135 29 49 29 45 43 58 43 47 43 39 44 33 43 27"/>
<path fill="#0000d8" d="M535 3076l29-113 0 99 -29 97z"/>
<path fill="#1f1fdd" stroke="#1f1fdd" stroke-width="5" d="M564 2963l14-61 0 108 -14 52zM679 2951l15 57 0 93 -15-48z"/>
<path fill="#0a0ada" stroke="#0a0ada" stroke-width="5" d="M520 3124l15-48 0 83 -15 40z"/>
<path stroke="#0000d8" d="M405 3342l29-26 29-36 29-49 14-31 29-80 58-214 14-37 14-15 15 12 14 35 44 156 28 88 29 63 29 43 14 16 29 25 29 17 29 11 29 7 43 6 29 1 43-1 44-5 57-10 44-11 43-14 43-18 43-22 44-26 28-21 29-24 29-28 29-32 29-36 43-63 87-148 29-44 14-17 14-14 15-8 14-2 15 3 14 8 15 14 14 17 29 45 72 126 29 47 29 42 43 53 43 45 43 36 44 31 43 25"/>
<path stroke="#0000e2" d="M405 3362l29-24 29-32 29-45 14-28 29-74 58-197 14-35 14-14 15 11 14 33 44 144 28 81 29 57 29 40 14 15 29 22 29 15 29 10 29 7 43 5 72-1 44-4 57-10 58-15 43-14 43-17 44-22 43-27 29-21 29-24 29-27 28-32 29-36 44-63 72-117 29-42 14-16 14-13 15-7 14-3 15 3 14 8 15 13 14 16 29 42 58 96 43 67 29 39 43 51 43 41 43 34 44 28 43 24"/>
<path fill="#0000eb" d="M520 3199l44-137 0 82 -44 115z"/>
<path fill="#1f1fed" stroke="#1f1fed" stroke-width="5" d="M492 3261l14-28 0 55 -14 24zM665 3002l14 51 0 83 -14-43zM708 3144l14 38 0 63 -14-31z"/>
<path fill="#0a0aec" stroke="#0a0aec" stroke-width="5" d="M506 3233l14-34 0 60 -14 29zM564 3062l14-52 0 89 -14 45zM679 3053l29 91 0 70 -29-78z"/>
<path stroke="#0000eb" d="M405 3379l29-21 29-29 29-41 14-26 29-68 58-182 14-33 14-12 15 10 14 30 29 89M708 3181l29 63 14 24 29 36 14 14 29 20 44 18 28 8 44 6 72 1 43-4 58-8 43-9 43-12 72-25 58-28 58-37 43-35 43-43 44-52 43-62 58-89 29-39 14-16 14-11 15-8 14-2 15 3 14 7 15 12 14 16 29 39 58 91 43 62 29 37 43 47 43 39 43 31 44 26 43 22"/>
<path stroke="#0000f5" d="M405 3395l29-20 29-26 29-37 14-24 29-62 58-169 14-30 14-11 15 9 14 28 44 124 28 68 29 49 29 33 14 12 29 18 29 12 29 8 29 6 43 3 72-1 44-4 57-9 58-12 43-13 43-15 44-19 43-23 29-18 29-21 29-24 28-28 29-32 44-55 72-104 29-37 14-15 14-11 15-7 14-2 15 3 14 7 15 11 14 15 29 37 58 85 43 59 29 34 43 44 43 36 43 30 44 24 43 20"/>
<path fill="#0000ff" d="M405 3395l29-20 0 30 -29 16zM477 3332l29-44 14-29 29-72 29-88 0 73 -29 75 -29 62 -14 24 -29 36zM679 3136l43 109 0 52 -43-93z"/>
<path fill="#1f1fff" stroke="#1f1fff" stroke-width="5" d="M722 3245l15 27 0 47 -15-22z"/>
<path fill="#0a0aff" stroke="#0a0aff" stroke-width="5" d="M434 3375l43-43 0 37 -43 36zM665 3093l14 43 0 68 -14-37z"/>
<path stroke="#0000ff" d="M405 3409l29-18 14-11M463 3367l29-34 28-48 29-66 44-120 14-28 14-11 15 9 14 26 44 115 28 63 29 44 29 30 14 11 29 16 29 11 29 8 29 4 43 3 43 0 44-2 43-5 58-9 86-20 43-15 44-17 43-22 29-17 29-19 29-23 28-26 29-29 44-52 72-98 29-35 14-14 14-10 15-7 14-2 15 2 14 7 15 11 14 14 29 35 58 80 43 55 29 32 43 41 43 34 43 27 44 23 43 18"/>
<path stroke="#000aff" d="M405 3421l29-16 29-22 29-30 14-20 29-53 58-143 14-26 14-10 15 8 14 24 58 137 14 27 29 41 15 15 28 22 29 15 44 13M910 3410l43 3 43 0 58-4 58-7M1170 3392l72-18 57-19 58-26 58-34 29-21 28-24 44-44 43-51 58-74 29-33 14-13 14-10 15-6 14-2 15 2 14 6 15 10 14 14 29 33 58 75 43 52 29 30 43 38 43 31 43 26 44 21 43 17"/>
<path fill="#0014ff" d="M405 3421l29-16 29-22 29-30 14-20 29-53 43-108 0 61 -43 92 -29 44 -43 42 -29 18 -29 13zM665 3167l43 103 14 27 29 41 0 35 -29-34 -14-22 -43-88zM838 3395l29 8 43 7 86 3 116-11 101-20 0 25 -101 17 -116 10 -86-2 -72-12z"/>
<path fill="#1f30ff" stroke="#1f30ff" stroke-width="5" d="M578 3172l15-35 0 65 -15 31zM766 3353l43 30 0 28 -43-26zM1242 3374l28-9 0 27 -28 8zM2093 3355l29 11 0 27 -29-10z"/>
<path fill="#0a1dff" stroke="#0a1dff" stroke-width="5" d="M751 3338l15 15 0 32 -15-12zM809 3383l29 12 0 25 -29-9zM1213 3382l29-8 0 26 -29 7zM2122 3366l14 6 0 25 -14-4z"/>
<path stroke="#0014ff" d="M405 3432l29-14 29-20 29-28 14-18 29-48 58-133 14-24 14-9 15 8 14 22 44 98 28 53 15 21 29 30M823 3404l29 9 43 7 44 4 57 0 58-4 58-6 58-10 57-12M1256 3384l58-20 43-18 43-23 44-29 43-35 29-28 43-48 58-70 29-31 28-21 15-6 14-2 15 2 14 6 29 22 29 31 86 104 29 30 43 38 29 22 44 27 43 22 43 18"/>
<path stroke="#001dff" d="M405 3442l29-13 29-18 29-26 14-16 29-44 58-123 14-22 14-9 15 8 14 21 44 90 14 27 29 41 14 15 29 23 14 8 29 12 44 11 43 5 58 2 72-2 72-8 72-11 58-13 57-17M1328 3373l43-19 29-14 44-27 28-21 29-24 29-28 87-97 29-29 28-20 15-6 14-2 15 2 14 6 29 21 29 29 86 97 29 28 29 25 58 40 57 31M2078 3377l58 20"/>
<path fill="#0027ff" d="M405 3442l29-13 29-18 43-42 29-44 58-123 0 55 -58 104 -29 37 -43 35 -58 25zM665 3229l43 88 14 22 29 34 43 31 58 20 43 7 58 3 72-1 72-7 130-22 58-16 58-21 0 26 -58 18 -58 13 -130 20 -144 7 -58-2 -43-6 -58-16 -43-25 -29-29 -14-19 -43-75zM2035 3358l43 19 58 20 0 21 -101-34z"/>
<path fill="#1f41ff" stroke="#1f41ff" stroke-width="5" d="M1371 3354l15-7 0 29 -15 6zM1992 3334l29 16 0 28 -29-14z"/>
<path fill="#0a30ff" stroke="#0a30ff" stroke-width="5" d="M650 3200l15 29 0 50 -15-25zM1343 3367l28-13 0 28 -28 11zM2021 3350l14 8 0 26 -14-6z"/>
<path stroke="#0027ff" d="M405 3450l29-11 29-17 29-23 14-15 29-40 58-113 14-21 14-8 15 7 14 19 44 84 14 24 29 38 14 14 29 21 29 13 29 9 57 9 58 3 72-2 72-6 73-9 72-15 57-15 58-21M1371 3369l58-30 43-28 29-23 29-26 87-91 29-27 28-20 15-5 14-2 15 2 14 6 29 19 29 28 72 77 43 40 43 34 58 35M2021 3365l57 25 58 18"/>
<path stroke="#0031ff" d="M405 3458l29-10 29-15 29-21 14-14 29-37 14-24 44-80 14-19 14-8 15 6 14 18 44 78 14 22 29 35 14 13 29 18 29 12 43 11 58 7 72 1 87-4 86-10 72-13 72-17 58-19 58-26M1429 3354l43-26 44-33 29-26 72-72 29-26 28-18 15-5 14-2 15 2 14 5 29 18 29 26 72 73 29 26 29 23 43 29M1977 3356l29 15 43 19 44 16 43 12"/>
<path fill="#003bff" d="M405 3458l58-25 43-35 29-37 58-104 0 45 -44 69 -43 50 -43 29 -58 21zM650 3254l58 100 14 19 29 29 29 18 29 12 72 15 72 4 72-2 87-7 86-12 72-15 58-17 58-22 58-30 0 28 -58 26 -58 19 -58 14 -72 13 -86 11 -87 6 -72 2 -72-3 -72-12 -29-10 -29-16 -29-23 -14-16 -58-85zM1948 3339l44 25 43 20 101 34 0 18 -101-29 -87-40z"/>
<path fill="#1f53ff" stroke="#1f53ff" stroke-width="5" d="M1458 3337l29-20 0 32 -29 17zM1905 3308l29 21 0 30 -29-19z"/>
<path fill="#0a43ff" stroke="#0a43ff" stroke-width="5" d="M1444 3346l14-9 0 29 -14 8zM1934 3329l14 10 0 28 -14-8z"/>
<path stroke="#003bff" d="M405 3465l29-10 29-13 29-19 14-13 29-34 14-21 44-75 14-17 14-7 15 6 14 16 44 72 14 20 29 32 29 21 28 14 29 9 44 8 72 4 86-1 101-9 87-12 72-15 58-17 57-22 58-30M1472 3343l58-42 87-80 29-25 28-17 15-5 14-1 15 2 14 4 29 18 29 24 72 68 58 46M1934 3345l43 25 44 20 57 21 58 17"/>
<path stroke="#0045ff" d="M405 3471l29-9 29-12 29-17 14-12 29-31 14-19 44-69 14-17 14-6 15 5 14 16 44 66 14 19 14 16 29 23 29 16 29 10 43 9 43 4 87 2 87-4 101-11 86-14 72-17 58-19 58-26 57-35M1516 3329l29-23 72-63 29-23 28-16 15-5 14-1 15 1 14 5 29 16 29 23 86 76M1905 3340l43 27 58 28 58 22 72 19"/>
<path fill="#004eff" d="M405 3471l58-21 43-29 43-50 44-69 0 37 -44 59 -43 42 -43 24 -58 17zM650 3300l58 85 14 16 29 23 29 16 43 14 44 7 57 3 87 0 101-7 86-11 87-16 72-20 58-22 57-30 44-29 0 29 -44 25 -57 26 -58 19 -72 17 -87 14 -86 10 -101 6 -87 0 -101-8 -43-11 -29-13 -43-33 -58-72zM1876 3319l58 40 58 30 72 28 72 19 0 14 -72-16 -72-24 -58-26 -58-35z"/>
<path fill="#1f63ff" stroke="#1f63ff" stroke-width="5" d="M1545 3306l14-12 0 33 -14 11zM1848 3295l14 12 0 32 -14-11z"/>
<path fill="#0a55ff" stroke="#0a55ff" stroke-width="5" d="M1516 3329l29-23 0 32 -29 20zM1862 3307l14 12 0 30 -14-10z"/>
<path stroke="#004eff" d="M405 3476l29-7 29-11 29-16 14-11 29-28 14-18 44-64 14-15 14-6 15 5 14 15 44 61 14 17 14 15 29 21 29 14 43 13 44 6 43 3 86 0 101-6 101-11 87-15 72-19 58-20 57-28 58-37M1545 3323l86-71 29-19 29-11 14-1 15 1 14 4 29 16 115 92 29 20 43 26 44 20 43 16 43 14 58 13"/>
<path stroke="#0058ff" d="M405 3481l29-7 29-10 29-14 14-10 29-26 14-16 44-59 14-14 14-5 15 4 14 14 44 56 14 16 29 24 14 9 29 13 43 11 44 6 43 2 115-1 130-9 115-17 58-12 43-12 44-15 43-19 43-23 29-19 116-86 28-15 15-4 14-1 15 1 14 4 29 15 115 87 29 19 43 23 44 19 43 15 43 13 58 12"/>
<path fill="#0062ff" d="M405 3481l58-17 43-24 29-26 58-75 14-14 0 33 -14 12 -58 64 -29 22 -43 20 -58 13zM650 3338l58 72 29 24 29 16 43 14 43 7 58 4 72 0 101-4 101-10 86-13 73-16 57-18 58-24 58-32 57-42 0 30 -57 36 -44 22 -57 23 -58 17 -72 14 -87 12 -101 9 -101 5 -144-3 -43-6 -43-11 -29-13 -29-21 -58-61zM1833 3317l72 51 58 30 72 27 101 25 0 12 -101-21 -72-24 -58-26 -72-45z"/>
<path fill="#1f75ff" stroke="#1f75ff" stroke-width="5" d="M1588 3305l14-12 0 33 -14 10zM1804 3294l15 11 0 31 -15-10z"/>
<path fill="#0a68ff" stroke="#0a68ff" stroke-width="5" d="M636 3324l14 14 0 31 -14-12zM1573 3316l15-11 0 31 -15 10zM1819 3305l14 12 0 29 -14-10z"/>
<path stroke="#0062ff" d="M405 3486l29-7 29-9 29-13 14-9 29-23 14-16 44-54 14-13 14-5 15 4 14 13 44 52 14 15 29 22 14 8 29 11 43 11 44 5 43 2 115-1 130-9 115-15 58-12 43-11 44-14 43-17 43-22 29-17 116-82 28-13 29-5 29 5 29 14 115 81 29 18 43 22 44 17 43 14 43 12 58 12"/>
<path stroke="#006cff" d="M405 3489l58-13 29-12 14-8 29-22 14-14 44-50 14-12 14-5 15 4 14 12 44 48 28 24 15 10 29 13 43 11 43 6 43 3 116-1 144-8 115-14 58-11 43-10 44-13 43-16 43-21 29-16 116-76 28-13 29-5 29 5 29 13 115 76 29 17 43 20 44 17 43 13 43 10 58 11"/>
<path fill="#0076ff" d="M405 3489l58-13 43-20 29-22 58-64 14-12 0 27 -72 65 -29 18 -43 17 -58 11zM636 3357l14 12 44 48 28 24 29 17 29 10 43 10 58 5 159-1 101-6 101-11 72-12 72-17 58-19 57-27 44-25 72-49 0 29 -72 43 -44 22 -43 18 -58 18 -72 16 -72 11 -101 10 -101 6 -173 1 -58-4 -43-7 -29-9 -29-14 -28-21 -44-40 -14-10zM1790 3316l86 58 72 37 87 30 101 21 0 10 -101-18 -87-26 -72-32 -86-51z"/>
<path fill="#1f86ff" stroke="#1f86ff" stroke-width="5" d="M1617 3316l14-10 0 30 -14 9zM1775 3306l15 10 0 29 -15-9z"/>
<path stroke="#0076ff" d="M405 3493l58-13 43-18 29-20 14-13 44-46 14-11 14-4 15 4 14 10 44 44 28 23 15 9 29 12 43 10 43 5 43 2 116 0 144-8 115-13 58-10 43-9 44-12 43-15 43-19 29-16 116-71 28-12 29-5 29 5 29 12 115 72 29 15 43 19 44 16 43 12 101 19"/>
<path stroke="#0080ff" d="M405 3496l58-11 43-17 29-18 14-12 44-42 14-11 14-4 15 4 14 10 44 40 28 21 15 8 29 11 43 9 43 5 43 2 116-1 144-7 115-12 101-18 44-11 43-14 43-18 29-14 116-67 28-12 29-4 29 4 29 12 115 67 29 14 43 18 44 15 43 11 101 18"/>
<path fill="#0089ff" d="M405 3496l58-11 43-17 43-30 44-42 14-11 14-4 15 4 14 10 44 40 28 21 44 19 43 9 86 7 116-1 144-7 115-12 101-18 87-25 72-32 116-67 0 26 -101 53 -73 30 -86 23 -116 18 -115 11 -144 6 -116 1 -86-6 -43-7 -44-16 -28-17 -44-35 -14-8 -15-3 -14 3 -14 9 -44 36 -43 25 -43 14 -58 9zM1761 3329l115 67 72 32 87 26 101 18 0 8 -115-18 -87-24 -72-30 -101-53z"/>
<path fill="#0a8eff" stroke="#0a8eff" stroke-width="5" d="M1646 3329l14-7 0 28 -14 5zM1747 3322l14 7 0 26 -14-5z"/>
<path stroke="#0089ff" d="M405 3498l58-10 43-15 29-16 14-11 44-39 14-10 14-4 15 4 14 9 44 37 28 20 15 7 29 9 43 9 86 6 130-1 145-8 115-11 101-18 72-21 43-16 29-13 116-63 28-11 29-4 29 4 29 11 115 63 29 13 43 17 44 13 43 11 101 16"/>
<path stroke="#0093ff" d="M405 3501l58-9 43-14 29-15 14-10 44-36 14-9 14-3 15 3 14 8 44 35 28 17 44 16 43 7 86 6 130-1 145-7 115-11 101-17 72-19 72-28 116-59 28-10 29-3 29 3 29 10 115 60 72 28 44 12 43 10 101 15"/>
<path fill="#009dff" d="M405 3501l58-9 43-14 43-25 44-36 14-9 14-3 15 3 14 8 44 35 28 17 44 16 43 7 86 6 130-1 145-7 115-11 101-17 86-23 73-30 101-53 43-12 0 24 -43 11 -101 46 -73 26 -86 21 -101 14 -115 9 -145 6 -130 1 -86-4 -43-6 -44-13 -28-15 -44-29 -14-8 -15-2 -14 3 -14 7 -44 31 -43 21 -43 11 -58 8zM1718 3343l43 12 115 60 72 28 87 22 101 15 0 7 -101-13 -87-19 -72-25 -115-52 -43-11z"/>
<path fill="#0aa1ff" stroke="#0aa1ff" stroke-width="5" d="M1689 3343l29 0 0 24 -29 0z"/>
<path stroke="#009dff" d="M405 3503l58-8 43-13 29-14 14-9 44-33 14-8 14-3 15 2 14 8 44 32 28 16 44 14 43 7 86 5 130-1 145-6 115-10 101-16 72-17 72-26 116-56 28-9 29-4 29 4 29 9 115 56 72 26 87 20 101 15"/>
<path stroke="#00a7ff" d="M405 3505l58-8 43-11 29-13 14-8 44-31 14-7 14-3 15 2 14 8 44 29 28 15 44 13 43 6 86 4 130-1 145-6 115-9 101-14 72-16 72-25 116-52 28-9 29-3 29 4 29 8 115 52 72 25 87 19 101 13"/>
<path fill="#00b1ff" d="M405 3505l58-8 43-11 43-21 44-31 14-7 14-3 15 2 14 8 44 29 28 15 44 13 43 6 86 4 130-1 145-6 115-9 101-14 72-16 72-25 116-52 28-9 29-3 29 4 29 8 115 52 72 25 87 19 101 13 0 6 -101-12 -87-16 -72-21 -115-46 -29-8 -29-3 -29 3 -28 8 -116 46 -72 21 -72 14 -101 12 -115 8 -145 5 -130 1 -86-3 -43-5 -44-11 -28-13 -44-25 -29-8 -28 9 -44 26 -43 18 -43 9 -58 6z"/>
<path stroke="#00b1ff" d="M405 3507l58-7 43-10 43-20 44-28 14-7 14-3 15 3 14 6 44 28 28 13 44 12 43 5 86 4 130-1 145-5 115-9 101-13 72-15 72-23 116-48 28-9 29-3 29 3 29 9 115 48 72 23 87 18 101 12"/>
<path stroke="#00baff" d="M405 3508l58-6 43-9 43-18 44-26 14-7 14-2 15 2 14 6 44 25 28 13 44 11 43 5 86 3 130-1 145-5 115-8 101-12 72-14 72-21 116-46 28-8 29-3 29 3 29 8 115 46 72 21 87 16 101 12"/>
<path fill="#00c4ff" d="M405 3508l58-6 43-9 43-18 44-26 28-9 29 8 44 25 28 13 44 11 43 5 86 3 130-1 145-5 115-8 101-12 72-14 72-21 116-46 28-8 29-3 29 3 29 8 115 46 72 21 87 16 101 12 0 4 -101-9 -87-14 -72-19 -115-40 -29-7 -29-2 -29 2 -28 7 -101 36 -73 19 -72 14 -101 11 -259 12 -145 1 -86-3 -43-4 -44-9 -28-10 -44-21 -29-8 -28 8 -44 22 -43 15 -43 8 -58 5z"/>
<path stroke="#00c4ff" d="M405 3509l58-5 43-9 43-16 44-24 14-6 14-2 15 2 14 6 44 23 28 11 44 10 43 5 86 3 130-1 145-5 115-7 101-12 86-16 73-21 101-38 28-7 29-3 29 3 29 7 115 43 72 19 87 16 101 10"/>
<path stroke="#00ceff" d="M405 3511l58-5 43-8 43-15 44-22 14-5 14-3 15 2 14 6 44 21 28 10 44 9 43 4 86 3 145-1 144-5 115-7 101-11 72-14 73-19 101-36 28-7 29-2 29 2 29 7 115 40 72 19 87 14 101 9"/>
<path fill="#00d8ff" d="M405 3511l58-5 43-8 43-15 44-22 28-8 29 8 44 21 28 10 44 9 43 4 86 3 145-1 259-12 101-11 72-14 73-19 101-36 28-7 29-2 29 2 29 7 115 40 72 19 87 14 101 9 0 4 -101-8 -87-12 -72-16 -115-35 -58-9 -57 9 -101 31 -73 17 -72 11 -101 10 -259 10 -231-1 -87-10 -72-27 -29-6 -14 1 -58 24 -43 12 -101 11z"/>
<path stroke="#00d8ff" d="M405 3512l58-5 43-7 43-13 44-21 14-5 14-2 15 2 14 5 44 19 28 10 44 8 43 4 86 2 145-1 144-4 115-7 101-10 72-13 73-18 101-33 28-7 29-2 29 2 29 7 115 37 72 17 87 13 101 9"/>
<path stroke="#00e2ff" d="M405 3513l58-5 43-6 43-12 58-24 14-1 15 1 14 5 44 18 28 9 44 7 43 3 86 2 145-1 144-4 115-6 101-10 72-11 73-17 101-31 28-6 29-3 29 3 29 6 115 35 72 16 87 12 101 8"/>
<path fill="#00ebff" d="M405 3513l101-11 43-12 58-24 14-1 29 6 72 27 87 10 231 1 259-10 101-10 72-11 73-17 101-31 57-9 58 9 115 35 72 16 87 12 101 8 0 3 -101-7 -87-10 -72-14 -115-31 -58-7 -57 7 -101 28 -73 15 -72 9 -101 9 -245 8 -245 0 -87-9 -72-23 -29-5 -14 1 -58 20 -43 11 -101 8z"/>
<path stroke="#00ebff" d="M405 3513l58-3 43-6 43-11 58-22 14-2 15 2 14 4 44 17 28 8 44 6 43 3 101 2 144-1 130-3 115-6 101-9 72-11 73-16 101-29 28-6 29-2 29 2 29 6 115 33 72 15 87 11 101 8"/>
<path stroke="#00f5ff" d="M405 3514l58-3 43-5 43-11 58-20 14-1 15 1 14 4 44 15 28 8 44 6 43 3 101 1 144-1 130-3 115-5 101-9 72-9 73-15 101-28 28-5 29-2 29 2 29 5 115 31 72 14 87 10 101 7"/>
<path fill="#00ffff" d="M405 3514l101-8 43-11 58-20 14-1 29 5 72 23 87 9 245 0 245-8 101-9 72-9 73-15 101-28 57-7 58 7 115 31 72 14 87 10 101 7 0 3 -115-7 -87-10 -72-13 -101-24 -58-6 -57 6 -101 24 -73 13 -173 16 -245 7 -245-1 -87-7 -72-19 -29-4 -115 26 -101 7z"/>
<path stroke="#00ffff" d="M405 3515l58-3 43-5 43-9 58-19 14-1 29 5 44 14 28 7 44 5 43 3 101 1 144-1 245-8 101-7 72-10 73-14 101-25 28-5 29-2 29 2 29 5 115 29 72 13 87 9 101 7"/>
<path stroke="#0afff5" d="M405 3515l58-2 43-5 43-8 58-17 14-1 29 4 44 13 28 6 44 5 43 2 101 2 144-1 245-7 101-7 72-9 73-13 101-24 28-5 29-1 29 1 29 5 101 24 72 13 87 10 115 7"/>
<path fill="#14ffeb" d="M405 3515l101-7 115-26 29 4 72 19 87 7 245 1 245-7 173-16 73-13 101-24 57-6 58 6 101 24 72 13 87 10 115 7 0 2 -115-6 -87-8 -72-12 -101-21 -58-5 -57 5 -101 21 -73 12 -173 13 -245 6 -245 0 -87-6 -101-20 -101 21 -115 7z"/>
<path stroke="#14ffeb" d="M405 3516l72-4 43-5 29-5 44-13 28-4 29 4 44 12 28 6 44 4 43 2 245 0 245-6 101-7 72-8 73-12 101-22 28-5 29-1 29 1 29 5 101 22 72 13 87 9 115 6"/>
<path stroke="#1dffe2" d="M405 3516l72-3 43-4 29-6 44-11 28-4 29 4 44 11 28 5 87 6 245 0 245-6 101-6 72-7 73-12 101-21 28-4 29-1 29 1 29 4 101 21 72 12 87 8 115 6"/>
<path fill="#27ffd8" d="M405 3516l115-7 101-21 101 20 87 6 245 0 245-6 173-13 73-12 101-21 57-5 58 5 101 21 72 12 87 8 115 6 0 2 -202-12 -187-31 -44-3 -43 3 -188 31 -158 11 -245 5 -260 0 -87-5 -101-17 -101 18 -115 6z"/>
<path stroke="#27ffd8" d="M405 3517l72-3 43-4 29-5 44-11 28-3 29 3 44 10 28 5 87 6 260 0 245-7 86-4 72-7 73-11 101-19 28-4 29-2 29 2 29 4 101 19 72 11 87 8 115 5"/>
<path stroke="#31ffce" d="M405 3517l72-2 43-4 73-14 28-4 29 4 72 13 87 5 260 0 245-5 86-5 72-6 73-10 115-21 43-3 44 3 115 21 72 10 87 7 115 5"/>
<path fill="#3bffc4" d="M405 3517l115-6 101-18 101 17 87 5 260 0 245-5 158-11 188-31 43-3 44 3 187 31 202 12 0 2 -202-11 -187-27 -44-2 -57 4 -159 23 -173 11 -245 5 -260 0 -87-4 -101-14 -101 15 -115 5z"/>
<path stroke="#3bffc4" d="M405 3517l72-2 43-3 73-13 28-3 29 3 72 12 87 5 260 0 245-6 86-4 72-6 73-9 115-19 43-3 44 3 115 19 72 9 87 7 115 5"/>
<path stroke="#45ffba" d="M405 3518l115-5 73-12 28-3 29 3 72 11 87 4 260 0 245-5 101-5 72-6 58-7 101-16 57-4 44 2 115 18 72 9 87 6 115 5"/>
<path fill="#4effb1" d="M405 3518l115-5 101-15 101 14 87 4 260 0 245-5 173-11 159-23 57-4 44 2 187 27 202 11 0 1 -202-9 -187-23 -44-3 -43 3 -173 21 -173 10 -505 4 -87-3 -101-13 -101 13 -115 4z"/>
<path stroke="#4effb1" d="M405 3518l115-5 101-13 101 13 87 4 260-1 245-4 101-4 72-6 58-7 101-15 57-4 44 3 115 16 72 8 87 6 115 4"/>
<path stroke="#58ffa7" d="M405 3518l115-4 101-13 101 13 87 3 260 0 245-4 101-4 72-6 173-21 43-3 44 3 115 15 72 8 87 5 115 4"/>
<path fill="#62ff9d" d="M405 3518l115-4 101-13 101 13 87 3 505-4 173-10 173-21 43-3 44 3 187 23 202 9 0 1 -202-8 -187-20 -44-2 -43 2 -173 19 -173 8 -505 4 -87-3 -101-10 -101 10 -115 4z"/>
<path stroke="#62ff9d" d="M405 3518l115-3 101-12 101 11 87 3 274 0 231-4 173-8 173-21 43-2 44 2 115 15 72 7 87 5 115 3"/>
<path stroke="#6cff93" d="M405 3519l115-4 101-10 101 10 87 3 274-1 231-3 173-8 173-19 43-2 44 2 115 14 72 6 87 5 115 3"/>
<path fill="#76ff89" d="M405 3519l115-4 101-10 101 10 87 3 505-4 173-8 173-19 43-2 44 2 187 20 202 8 0 1 -202-7 -231-19 -216 18 -159 7 -519 3 -87-2 -101-9 -101 9 -115 3z"/>
<path stroke="#76ff89" d="M405 3519l115-3 101-10 101 9 72 3 275 0 245-4 173-7 173-18 43-2 44 2 115 13 72 6 202 7"/>
<path stroke="#80ff80" d="M405 3519l115-3 101-9 101 9 87 2 288 0 231-3 159-7 173-17 43-1 44 1 115 13 72 5 202 7"/>
<path fill="#89ff76" d="M405 3519l115-3 101-9 101 9 87 2 519-3 159-7 216-18 231 19 202 7 0 1 -202-6 -231-17 -216 16 -159 6 -519 2 -87-1 -101-8 -101 8 -115 2z"/>
<path stroke="#89ff76" d="M405 3519l115-3 101-8 101 8 87 2 288 0 231-3 159-6 173-15 43-2 44 2 187 16 202 6"/>
<path stroke="#93ff6c" d="M405 3519l115-2 101-8 101 8 87 1 288 0 231-2 159-6 173-15 43-1 44 1 187 16 202 6"/>
<path fill="#9dff62" d="M405 3519l115-2 101-8 101 8 87 1 519-2 159-6 216-16 231 17 202 6 0 0 -202-5 -231-15 -216 15 -159 4 -534 3 -173-8 -101 6 -115 2z"/>
<path stroke="#9dff62" d="M405 3519l115-2 101-7 101 7 72 1 289 0 245-2 159-5 173-14 43-1 44 1 187 15 202 5"/>
<path stroke="#a7ff58" d="M405 3519l115-2 101-6 101 6 72 2 534-3 159-4 173-13 43-2 44 2 187 13 202 5"/>
<path fill="#b1ff4e" d="M405 3519l115-2 101-6 173 8 534-3 159-4 216-15 231 15 202 5 0 1 -202-5 -231-12 -216 12 -159 4 -534 2 -173-6 -101 5 -115 1z"/>
<path stroke="#b1ff4e" d="M405 3519l115-1 101-6 101 5 72 2 534-2 159-5 173-12 43-1 44 1 187 13 202 4"/>
<path stroke="#baff45" d="M405 3519l115-1 101-5 101 5 72 1 534-2 159-4 173-11 43-1 231 12 202 5"/>
<path fill="#c4ff3b" d="M405 3519l115-1 101-5 173 6 534-2 159-4 216-12 231 12 202 5 0 0 -202-4 -231-11 -216 11 -159 3 -534 2 -173-5 -216 6z"/>
<path stroke="#c4ff3b" d="M405 3519l115-1 101-5 87 4 86 2 534-2 159-4 216-11 231 12 202 4"/>
<path stroke="#ceff31" d="M405 3520l115-2 101-4 87 4 86 1 534-2 159-3 216-11 231 11 202 4"/>
<path fill="#d8ff27" d="M405 3520l216-6 173 5 534-2 159-3 216-11 231 11 202 4 0 0 -202-3 -231-9 -202 8 -158 4 -549 1 -173-4 -216 5z"/>
<path stroke="#d8ff27" d="M405 3520l115-2 101-4 173 5 534-1 159-4 216-10 231 11 202 3"/>
<path stroke="#e2ff1d" d="M405 3520l115-1 101-4 173 4 549-1 158-4 202-8 231 9 202 3"/>
<path fill="#ebff14" d="M405 3520l216-5 173 4 549-1 158-4 202-8 231 9 202 3 0 1 -202-3 -231-8 -360 10 -549 1 -173-3 -216 4z"/>
<path stroke="#ebff14" d="M405 3520l115-1 101-4 173 4 549-1 158-3 202-8 231 9 202 3"/>
<path stroke="#f5ff0a" d="M405 3520l115-1 101-3 173 3 549-1 158-3 202-7 231 8 202 3"/>
<path fill="#ffff00" d="M405 3520l216-4 173 3 549-1 360-10 231 8 202 3 0 0 -202-2 -231-8 -360 9 -549 2 -173-4 -216 4z"/>
<path stroke="#ffff00" d="M405 3520l216-4 173 3 549-1 158-2 202-8 231 8 202 3"/>
<path stroke="#fff500" d="M405 3520l216-4 173 4 549-2 158-2 202-7 231 8 202 2"/>
<path fill="#ffeb00" d="M405 3520l216-4 173 4 549-2 360-9 231 8 202 2 0 0 -433-8 -360 8 -549 1 -173-3 -216 3z"/>
<path stroke="#ffeb00" d="M405 3520l216-3 173 3 549-1 158-3 202-6 231 7 202 2"/>
<path stroke="#ffe200" d="M405 3520l216-3 173 3 549-1 158-2 202-6 231 6 202 2"/>
<path fill="#ffd800" d="M405 3520l216-3 173 3 549-1 360-8 433 8 0 0 -433-7 -360 7 -722-2 -216 3z"/>
<path stroke="#ffd800" d="M405 3520l216-3 173 3 549-1 158-2 202-6 217 6 216 2"/>
<path stroke="#ffce00" d="M405 3520l216-3 173 3 549-1 158-2 202-5 217 5 216 2"/>
<path fill="#ffc400" d="M405 3520l216-3 722 2 360-7 433 7 0 0 -433-6 -360 6 -938 1z"/>
<path stroke="#ffc400" d="M405 3520l216-2 173 2 549-1 360-6 217 5 216 1"/>
<path stroke="#ffba00" d="M405 3520l216-2 173 2 549-1 360-6 217 5 216 1"/>
<path fill="#ffb100" d="M405 3520l938-1 360-6 433 6 0 0 -433-5 -346 5 -952 1z"/>
<path stroke="#ffb100" d="M405 3520l216-2 173 2 563-1 346-5 217 4 216 1"/>
<path stroke="#ffa700" d="M405 3520l216-2 173 2 563-1 346-5 217 4 216 1"/>
<path fill="#ff9d00" d="M405 3520l952-1 346-5 433 5 0 1 -433-5 -346 4 -952 1z"/>
<path stroke="#ff9d00" d="M405 3520l216-2 173 2 563-1 346-5 217 4 216 2"/>
<path stroke="#ff9300" d="M405 3520l216-1 736 0 346-4 433 5"/>
<path fill="#ff8900" d="M405 3520l952-1 346-4 433 5 0 0 -433-4 -346 3 -952 1z"/>
<path stroke="#ff8900" d="M405 3520l952-1 346-4 433 5"/>
<path stroke="#ff8000" d="M405 3520l952-1 346-3 433 4"/>
<path fill="#ff7600" d="M405 3520l952-1 346-3 433 4 0 0 -433-4 -346 4 -952 0z"/>
<path stroke="#ff7600" d="M405 3520l952-1 346-3 433 4"/>
<path stroke="#ff6c00" d="M405 3520l952 0 346-4 433 4"/>
<path fill="#ff6200" d="M405 3520l952 0 346-4 433 4 0 0 -433-3 -346 3 -952 0z"/>
<path stroke="#ff6200" d="M405 3520l952 0 346-4 433 4"/>
<path stroke="#ff5800" d="M405 3520l952 0 346-3 433 3"/>
<path fill="#ff4e00" d="M405 3520l952 0 346-3 433 3 0 0 -433-3 -1298 3z"/>
<path stroke="#ff4e00" d="M405 3520l952 0 346-3 433 3"/>
<path stroke="#ff4500" d="M405 3520l952 0 346-3 433 3"/>
<path fill="#ff3b00" d="M405 3520l1298-3 433 3 0 0 -433-2 -1298 2z"/>
<path stroke="#ff3b00" d="M405 3520l952 0 346-3 433 3"/>
<path stroke="#ff3100" d="M405 3520l966 0 332-2 433 2"/>
<path fill="#ff2700" d="M405 3520l1298-2 433 2 0 0 -433-2 -1298 2z"/>
<path stroke="#ff2700" d="M405 3520l966 0 332-2 433 2"/>
<path stroke="#ff1d00" d="M405 3520l966 0 332-2 433 2"/>
<path fill="#ff1400" d="M405 3520l1298-2 433 2 0 0 -1731 0z"/>
<path stroke="#ff1400" d="M405 3520l966 0 332-2 433 2"/>
<path stroke="#ff0a00" d="M405 3520l1298-2 433 2"/>
<path fill="#ff0000" d="M405 3520l1731 0 0 0 -1731 0z"/>
<path stroke="#ff0000" d="M405 3520l1298-2 433 2"/>
<path stroke="#f50000" d="M405 3520l1298-2 433 2"/>
<path fill="#eb0000" d="M405 3520l1731 0 0 0 -1731 0z"/>
<path stroke="#eb0000" d="M405 3520l1298-1 433 1"/>
<path stroke="#e20000" d="M405 3520l1298-1 433 1"/>
<path fill="#d80000" d="M405 3520l1731 0 0 0 -1731 0z"/>
<path stroke="#d80000" d="M405 3520l1298-1 433 1"/>
<path stroke="#ce0000" d="M405 3520l1731 0"/>
<path fill="#c40000" d="M405 3520l1731 0 0 0 -1731 0z"/>
<path stroke="#c40000" d="M405 3520l1731 0"/>
<path stroke="#ba0000" d="M405 3520l1731 0"/>
<path fill="#b10000" d="M405 3520l1731 0 0 0 -1731 0z"/>
<path stroke="#b10000" d="M405 3520l1731 0"/>
<path stroke="#a70000" d="M405 3520l1731 0"/>
<path fill="#9d0000" d="M405 3520l1731 0 0 0 -1731 0z"/>
<path stroke="#9d0000" d="M405 3520l1731 0"/>
<path stroke="#930000" d="M405 3520l1731 0"/>
</g></g>
<path transform="scale(.1)" fill="none" stroke="#000" stroke-width="16.5" stroke-dasharray="54 50" d="M405 3519l115-3 101-9 101 9 87 2 288 0 231-3 87-3 72-4 58-4 115-13 43-1 44 1 115 13 72 5 87 4 115 3"/>
</g>
<g stroke="#262626" stroke-width="0.66" fill="none">
<rect x="270.50" y="224.50" width="173.20" height="127.50"/>
<path d="M313.80 352.00v-1.70M313.80 224.50v1.70M357.10 352.00v-1.70M357.10 224.50v1.70M400.40 352.00v-1.70M400.40 224.50v1.70M270.50 325.12h1.70M443.70 325.12h-1.70M270.50 298.25h1.70M443.70 298.25h-1.70M270.50 271.37h1.70M443.70 271.37h-1.70M270.50 244.50h1.70M443.70 244.50h-1.70"/>
</g>
<g clip-path="url(#c4)"><g filter="url(#bl)"><g transform="scale(.1)" fill="none" stroke-linejoin="miter" stroke-miterlimit="8" stroke-width="11.5">
<path stroke="#000093" d="M2705 3519l115-5 102-13 101 13 72 3 274 1 260-4 159-6 173-18 43-2 43 2 116 13 72 6 202 7"/>
<path fill="#00009d" d="M2705 3519l115-5 102-13 101 13 72 3 534-3 159-6 173-18 43-2 231 21 202 7 0-1 -202-7 -188-20 -43-2 -43 2 -173 19 -159 7 -260 3 -274 0 -72-3 -101-14 -102 14 -115 4z"/>
<path stroke="#00009d" d="M2705 3518l115-4 102-13 101 13 72 3 274 1 260-4 159-7 173-18 43-2 43 2 116 13 72 6 202 7"/>
<path stroke="#0000a7" d="M2705 3518l115-4 102-14 101 14 72 3 274 0 260-3 159-7 173-19 43-2 43 2 116 13 72 7 87 4 115 3"/>
<path fill="#0000b1" d="M2705 3518l115-4 102-14 101 14 72 3 274 0 260-3 159-7 173-19 43-2 43 2 188 20 202 7 0 0 -202-8 -188-22 -43-2 -43 2 -173 21 -159 7 -260 4 -274 0 -72-4 -101-14 -102 15 -115 4z"/>
<path stroke="#0000b1" d="M2705 3518l115-4 87-14 15-1 14 1 87 13 72 4 274 0 260-3 159-8 173-20 43-2 43 2 116 15 72 6 87 5 115 3"/>
<path stroke="#0000ba" d="M2705 3518l115-4 87-14 15-1 14 1 87 13 72 4 274 0 260-4 159-7 173-21 43-2 43 2 116 15 72 7 87 5 115 3"/>
<path fill="#0000c4" d="M2705 3518l115-4 102-15 101 14 72 4 274 0 260-4 159-7 173-21 43-2 43 2 188 22 202 8 0 0 -202-9 -188-23 -43-3 -43 3 -173 21 -159 9 -260 4 -274 0 -72-4 -101-16 -102 16 -115 5z"/>
<path stroke="#0000c4" d="M2705 3518l115-5 87-14 15-1 14 1 87 14 72 4 274 0 260-4 159-8 173-21 43-2 43 2 116 15 72 7 87 5 115 4"/>
<path stroke="#0000ce" d="M2705 3518l115-5 87-15 15-1 14 1 87 15 72 4 274 0 260-4 159-9 57-6 116-15 43-3 43 3 116 15 72 8 87 5 115 4"/>
<path fill="#0000d8" d="M2705 3518l115-5 102-16 101 16 72 4 274 0 260-4 159-9 173-21 43-3 43 3 188 23 202 9 0-1 -202-9 -188-25 -43-3 -43 3 -173 23 -159 9 -260 5 -274-1 -72-4 -101-16 -102 17 -115 5z"/>
<path stroke="#0000d8" d="M2705 3518l72-2 43-3 87-15 15-1 14 1 87 15 72 4 274 0 260-4 159-9 57-6 116-17 43-2 43 2 116 17 72 7 87 6 115 3"/>
<path stroke="#0000e2" d="M2705 3518l72-2 43-3 87-16 15-1 14 1 87 15 72 4 274 1 260-5 159-9 57-6 116-17 43-3 43 3 116 17 72 8 87 5 115 4"/>
<path fill="#0000eb" d="M2705 3518l115-5 102-17 101 16 72 4 274 1 260-5 159-9 173-23 43-3 43 3 188 25 202 9 0 0 -202-11 -188-26 -43-3 -43 3 -173 25 -159 10 -260 5 -274-1 -72-4 -101-17 -102 17 -115 6z"/>
<path stroke="#0000eb" d="M2705 3518l72-2 43-3 87-17 15-1 14 1 87 16 72 4 274 1 260-5 86-4 73-5 57-7 116-18 43-2 43 2 116 18 72 8 87 6 115 4"/>
<path stroke="#0000f5" d="M2705 3518l72-2 43-4 29-4 58-12 15-1 14 0 58 13 29 4 72 4 274 1 260-5 86-4 73-6 57-7 116-18 43-3 43 3 116 18 72 8 87 6 115 5"/>
<path fill="#0000ff" d="M2705 3518l115-6 102-17 101 17 72 4 274 1 260-5 159-10 173-25 43-3 43 3 188 26 202 11 0-1 -202-11 -188-29 -43-3 -43 3 -173 28 -159 10 -260 5 -274 0 -72-5 -101-18 -102 19 -115 6z"/>
<path stroke="#0000ff" d="M2705 3518l72-2 43-4 29-4 58-13 15-1 14 1 58 12 29 5 72 4 274 1 260-5 86-5 73-6 57-7 116-19 43-3 43 3 116 19 72 9 87 6 115 4"/>
<path stroke="#000aff" d="M2705 3518l72-2 43-4 29-5 58-13 15-1 14 1 58 13 29 4 72 5 274 0 260-5 86-4 73-6 57-8 116-20 43-3 43 3 116 20 72 9 87 7 115 4"/>
<path fill="#0014ff" d="M2705 3518l115-6 102-19 101 18 72 5 274 0 260-5 159-10 173-28 43-3 43 3 188 29 202 11 0 0 -202-12 -72-10 -116-21 -43-3 -43 3 -173 29 -159 12 -260 5 -274 0 -72-5 -101-20 -102 20 -115 7z"/>
<path stroke="#0014ff" d="M2705 3518l72-3 43-3 29-5 58-14 15-1 14 1 58 13 29 5 72 5 274 0 260-5 86-5 73-6 57-8 116-20 43-3 43 3 116 20 72 9 87 7 115 5"/>
<path stroke="#001dff" d="M2705 3518l72-3 43-4 29-5 58-14 15-1 14 1 58 14 29 5 72 5 274 0 260-5 86-5 73-7 57-8 116-21 43-3 43 3 116 21 72 10 87 7 115 5"/>
<path fill="#0027ff" d="M2705 3518l115-7 102-20 101 20 72 5 274 0 260-5 159-12 173-29 43-3 43 3 116 21 72 10 202 12 0-1 -115-5 -87-8 -72-10 -116-23 -43-4 -43 4 -173 32 -159 12 -260 6 -274-1 -72-5 -101-21 -102 22 -115 7z"/>
<path stroke="#0027ff" d="M2705 3518l72-3 43-4 29-5 58-14 15-2 14 1 58 15 29 5 72 5 274 0 260-6 86-5 73-7 57-8 116-22 43-3 43 3 116 22 72 10 87 7 115 5"/>
<path stroke="#0031ff" d="M2705 3518l72-3 43-4 29-5 58-15 15-2 14 2 58 14 29 5 72 5 274 1 260-6 86-5 73-7 57-9 116-23 43-4 43 4 116 23 72 10 87 8 115 5"/>
<path fill="#003bff" d="M2705 3518l115-7 102-22 101 21 72 5 274 1 260-6 159-12 173-32 43-4 43 4 116 23 72 10 87 8 115 5 0-1 -115-5 -87-8 -72-12 -116-24 -43-4 -43 4 -173 34 -159 13 -260 7 -274-1 -72-5 -101-22 -102 22 -115 7z"/>
<path stroke="#003bff" d="M2705 3517l72-2 43-5 29-5 58-15 15-1 14 1 58 15 29 5 72 5 274 1 260-7 86-5 73-7 57-9 116-24 43-4 43 4 116 24 72 11 87 7 115 6"/>
<path stroke="#0045ff" d="M2705 3517l72-2 43-5 29-5 58-16 15-1 14 1 58 15 29 6 72 5 101 1 173 0 260-7 86-5 73-8 57-10 116-24 43-4 43 4 116 24 72 12 87 8 115 5"/>
<path fill="#004eff" d="M2705 3517l115-7 102-22 101 22 72 5 274 1 260-7 159-13 173-34 43-4 43 4 116 24 72 12 87 8 115 5 0 0 -115-6 -87-9 -72-12 -116-27 -43-4 -43 4 -173 37 -159 14 -260 7 -274 0 -72-6 -87-22 -14-1 -15 1 -87 23 -115 7z"/>
<path stroke="#004eff" d="M2705 3517l72-3 43-4 29-6 58-16 15-1 14 1 58 16 29 5 72 6 101 1 173-1 260-6 86-6 73-8 57-10 116-25 43-4 43 4 116 25 72 12 87 8 115 6"/>
<path stroke="#0058ff" d="M2705 3517l72-3 43-4 29-6 58-17 15-1 14 1 58 16 29 6 72 6 101 1 173-1 144-2 116-5 86-6 73-8 57-10 116-27 43-4 43 4 116 27 72 12 87 9 115 6"/>
<path fill="#0062ff" d="M2705 3517l115-7 87-23 15-1 14 1 87 22 72 6 274 0 260-7 159-14 173-37 43-4 43 4 116 27 72 12 87 9 115 6 0-1 -115-6 -87-10 -72-13 -116-29 -43-4 -43 4 -116 29 -57 11 -73 9 -86 6 -260 8 -274-1 -72-6 -87-23 -14-2 -15 2 -87 24 -115 8z"/>
<path stroke="#0062ff" d="M2705 3517l72-3 43-5 29-6 58-17 15-2 14 2 58 17 29 6 72 6 101 1 173-1 144-3 116-4 86-6 73-9 57-11 116-27 43-4 43 4 116 27 72 13 87 9 115 6"/>
<path stroke="#006cff" d="M2705 3517l72-3 43-5 29-6 58-18 15-2 14 2 58 17 29 6 72 6 101 2 173-1 144-3 116-5 86-6 73-9 57-11 116-29 43-4 43 4 116 29 72 13 87 10 115 6"/>
<path fill="#0076ff" d="M2705 3517l115-8 87-24 15-2 14 2 87 23 72 6 274 1 260-8 86-6 73-9 57-11 116-29 43-4 43 4 116 29 72 13 87 10 115 6 0-1 -115-7 -87-10 -72-14 -116-31 -43-4 -43 4 -116 31 -57 12 -73 10 -86 6 -260 8 -274 0 -72-7 -87-24 -14-2 -15 2 -87 25 -43 5 -72 4z"/>
<path stroke="#0076ff" d="M2705 3517l72-3 43-5 29-7 58-18 15-2 14 2 58 18 29 6 72 6 101 2 173-1 144-3 116-5 86-7 73-9 57-11 116-30 43-4 43 4 116 30 72 13 87 10 115 7"/>
<path stroke="#0080ff" d="M2705 3517l72-4 43-5 29-6 58-19 15-2 14 2 58 18 29 6 72 7 101 2 173-2 144-3 116-5 86-6 73-10 57-12 116-31 43-4 43 4 116 31 72 14 87 10 115 7"/>
<path fill="#0089ff" d="M2705 3517l72-4 43-5 87-25 15-2 14 2 87 24 72 7 274 0 260-8 86-6 73-10 57-12 116-31 43-4 43 4 116 31 72 14 87 10 115 7 0 0 -115-8 -87-11 -72-15 -116-33 -43-5 -43 5 -116 33 -57 13 -73 10 -86 7 -260 9 -274 0 -72-7 -87-27 -14-1 -15 1 -87 27 -43 6 -72 4z"/>
<path stroke="#0089ff" d="M2705 3517l72-4 43-5 29-7 58-20 15-1 14 1 58 19 29 7 72 7 101 1 173-1 144-3 116-5 86-7 73-10 57-13 116-31 43-5 43 5 116 31 72 15 87 11 115 7"/>
<path stroke="#0093ff" d="M2705 3517l72-4 43-6 29-7 58-20 15-1 14 1 58 20 29 7 28 4 44 3 101 1 173-1 144-3 116-6 86-7 73-10 57-13 116-33 43-5 43 5 116 33 72 15 87 11 115 8"/>
<path fill="#009dff" d="M2705 3517l72-4 43-6 87-27 15-1 14 1 87 27 72 7 274 0 260-9 86-7 73-10 57-13 116-33 43-5 43 5 116 33 72 15 87 11 115 8 0-1 -115-9 -87-11 -72-17 -116-35 -43-6 -43 6 -116 35 -57 14 -73 11 -86 8 -260 10 -274-1 -72-7 -29-7 -58-21 -14-2 -15 2 -87 29 -43 6 -72 3z"/>
<path stroke="#009dff" d="M2705 3516l72-3 43-6 29-7 58-21 15-2 14 2 58 20 29 7 28 4 44 3 101 2 173-1 144-4 116-5 86-8 73-11 57-13 116-34 43-5 43 5 116 34 72 16 87 11 115 8"/>
<path stroke="#00a7ff" d="M2705 3516l72-3 43-6 29-8 58-21 15-2 14 2 58 21 29 7 28 4 44 3 101 2 173-1 144-4 116-6 86-8 73-11 57-14 116-35 43-6 43 6 116 35 72 17 87 11 115 9"/>
<path fill="#00b1ff" d="M2705 3516l72-3 43-6 87-29 15-2 14 2 58 21 29 7 72 7 274 1 260-10 86-8 73-11 57-14 116-35 43-6 43 6 116 35 72 17 87 11 115 9 0-1 -115-9 -87-13 -72-17 -116-39 -43-5 -43 5 -116 39 -57 14 -73 12 -86 9 -260 10 -274 0 -72-8 -29-8 -58-22 -14-2 -15 2 -58 23 -29 8 -43 6 -72 4z"/>
<path stroke="#00b1ff" d="M2705 3516l72-4 43-6 29-8 58-22 15-1 14 1 58 22 29 7 28 5 44 3 101 2 173-2 144-3 116-6 86-9 73-11 57-15 116-36 43-6 43 6 116 37 72 17 87 12 115 8"/>
<path stroke="#00baff" d="M2705 3516l72-4 43-6 29-8 58-23 15-2 14 2 58 22 29 8 28 4 44 4 101 2 173-2 144-4 116-6 86-9 73-12 57-14 116-39 29-5 14 0 14 0 29 5 116 39 72 17 87 13 115 9"/>
<path fill="#00c4ff" d="M2705 3516l72-4 43-6 29-8 58-23 15-2 14 2 58 22 29 8 72 8 274 0 260-10 86-9 73-12 57-14 116-39 43-5 43 5 116 39 72 17 87 13 115 9 0-1 -115-10 -87-13 -72-19 -116-42 -43-6 -43 6 -116 42 -57 15 -73 13 -86 10 -260 10 -274 0 -72-8 -29-8 -58-24 -14-2 -15 2 -58 24 -29 9 -43 7 -72 4z"/>
<path stroke="#00c4ff" d="M2705 3516l72-4 43-7 29-8 58-23 15-2 14 2 58 22 29 8 28 5 44 3 101 2 173-1 144-4 116-7 86-9 73-12 57-15 116-40 29-5 14-1 14 1 29 5 116 40 72 18 87 13 115 9"/>
<path stroke="#00ceff" d="M2705 3516l72-4 43-7 29-9 58-24 15-2 14 2 58 24 29 8 28 5 44 3 101 2 173-2 144-4 116-6 86-10 73-13 57-15 116-42 29-5 14-1 14 1 29 5 116 42 72 19 87 13 115 10"/>
<path fill="#00d8ff" d="M2705 3516l72-4 43-7 29-9 58-24 15-2 14 2 58 24 29 8 72 8 274 0 260-10 86-10 73-13 57-15 116-42 43-6 43 6 116 42 72 19 87 13 115 10 0-1 -115-11 -87-14 -72-21 -116-44 -43-7 -43 7 -116 44 -57 17 -73 14 -86 10 -116 7 -144 5 -274 0 -72-9 -29-9 -58-25 -14-2 -15 2 -58 26 -29 9 -43 7 -72 4z"/>
<path stroke="#00d8ff" d="M2705 3516l72-5 43-7 29-8 58-25 15-2 14 2 58 24 29 8 28 5 44 4 101 2 173-2 144-4 116-7 86-10 73-13 57-17 116-42 29-6 14-1 14 1 29 6 116 42 72 20 87 14 115 10"/>
<path stroke="#00e2ff" d="M2705 3515l72-4 43-7 29-9 58-26 15-2 14 2 58 25 29 9 28 5 44 4 101 2 173-2 144-5 116-7 86-10 73-14 57-17 116-44 29-6 14-1 14 1 29 6 116 44 72 21 87 14 115 11"/>
<path fill="#00ebff" d="M2705 3515l72-4 43-7 29-9 58-26 15-2 14 2 58 25 29 9 72 9 274 0 144-5 116-7 86-10 73-14 57-17 116-44 43-7 43 7 116 44 72 21 87 14 115 11 0-2 -115-11 -87-15 -72-22 -116-48 -43-7 -43 7 -116 48 -57 18 -73 15 -86 11 -116 8 -144 4 -173 2 -101-2 -72-9 -29-9 -58-27 -14-2 -15 2 -58 27 -29 10 -43 7 -72 5z"/>
<path stroke="#00ebff" d="M2705 3515l72-4 43-8 29-9 58-26 15-2 14 2 58 25 29 9 28 6 44 3 101 3 173-2 144-5 116-7 86-11 73-14 57-18 116-46 29-6 14-1 14 1 29 6 116 46 72 21 87 15 115 11"/>
<path stroke="#00f5ff" d="M2705 3515l72-5 43-7 29-10 58-27 15-2 14 2 58 27 29 9 28 5 44 4 101 2 173-2 144-4 116-8 86-11 73-15 57-18 116-48 29-6 14-1 14 1 29 6 116 48 72 22 87 15 115 11"/>
<path fill="#00ffff" d="M2705 3515l72-5 43-7 29-10 58-27 15-2 14 2 58 27 29 9 72 9 101 2 173-2 144-4 116-8 86-11 73-15 57-18 116-48 43-7 43 7 116 48 72 22 87 15 115 11 0-1 -115-12 -87-17 -72-23 -116-52 -43-7 -43 7 -116 52 -57 19 -73 17 -86 11 -231 13 -173 3 -116-2 -43-3 -43-7 -29-10 -58-28 -14-3 -15 3 -58 29 -29 10 -43 8 -72 5z"/>
<path stroke="#00ffff" d="M2705 3515l72-5 43-8 29-10 58-27 15-3 14 2 58 28 29 9 28 6 44 4 115 2 173-2 145-6 101-7 86-11 73-16 57-19 116-49 29-7 14-1 14 1 29 7 116 49 72 23 87 16 115 12"/>
<path stroke="#0afff5" d="M2705 3515l72-5 43-8 29-10 58-29 15-3 14 3 58 28 29 10 43 7 43 3 116 2 173-3 130-5 101-8 86-11 73-17 57-19 87-40 29-12 29-7 14 0 14 0 29 7 29 12 87 40 29 10 43 13 43 10 44 7 115 12"/>
<path fill="#14ffeb" d="M2705 3515l72-5 43-8 29-10 58-29 15-3 14 3 58 28 29 10 43 7 43 3 116 2 173-3 231-13 86-11 73-17 57-19 116-52 43-7 43 7 116 52 72 23 87 17 115 12 0-1 -115-13 -87-18 -72-26 -116-55 -43-8 -43 8 -116 55 -57 22 -73 17 -86 12 -101 9 -130 5 -173 3 -116-1 -43-4 -43-8 -29-10 -58-30 -14-2 -15 2 -58 31 -29 11 -43 8 -72 6z"/>
<path stroke="#14ffeb" d="M2705 3515l72-6 43-8 29-10 58-30 15-2 14 2 58 29 29 10 43 8 43 3 116 1 173-2 130-6 101-8 86-12 73-16 57-21 87-41 29-12 29-7 14-1 14 1 29 7 29 12 87 41 29 11 43 14 43 10 44 7 115 12"/>
<path stroke="#1dffe2" d="M2705 3515l72-6 43-8 29-11 58-31 15-2 14 2 58 30 29 10 43 8 43 4 116 1 173-3 130-5 101-9 86-12 73-17 57-22 87-43 29-12 29-7 14-1 14 1 29 7 29 12 87 43 29 12 43 14 43 10 44 8 115 13"/>
<path fill="#27ffd8" d="M2705 3515l72-6 43-8 29-11 58-31 15-2 14 2 58 30 29 10 43 8 43 4 116 1 173-3 130-5 101-9 86-12 73-17 57-22 116-55 43-8 43 8 116 55 72 26 87 18 115 13 0-2 -115-13 -87-20 -72-28 -116-59 -43-9 -43 9 -116 59 -57 23 -73 19 -86 14 -101 8 -130 6 -173 4 -116-2 -43-4 -43-8 -29-11 -58-32 -14-2 -15 2 -58 33 -29 11 -43 9 -72 6z"/>
<path stroke="#27ffd8" d="M2705 3514l72-5 43-9 29-11 58-32 15-2 14 2 58 31 29 11 43 8 43 3 116 2 173-3 130-6 101-9 86-12 73-18 57-23 87-44 29-13 29-8 14-1 14 1 29 8 29 13 87 44 29 12 43 15 43 11 44 8 115 13"/>
<path stroke="#31ffce" d="M2705 3514l72-6 43-9 29-11 58-33 15-2 14 2 58 32 29 11 43 8 43 4 116 2 173-4 130-6 101-8 86-14 73-19 57-23 87-46 29-13 29-8 14-1 14 1 29 8 29 13 87 46 29 13 43 15 43 11 44 9 115 13"/>
<path fill="#3bffc4" d="M2705 3514l72-6 43-9 29-11 58-33 15-2 14 2 58 32 29 11 43 8 43 4 116 2 173-4 130-6 101-8 86-14 73-19 57-23 116-59 43-9 43 9 116 59 72 28 87 20 115 13 0-1 -115-15 -87-21 -72-30 -116-64 -29-8 -14-2 -14 2 -29 8 -116 64 -57 25 -73 20 -86 15 -101 9 -130 6 -173 4 -116-2 -43-3 -43-9 -29-12 -58-34 -14-2 -15 2 -58 35 -29 12 -43 10 -72 6z"/>
<path stroke="#3bffc4" d="M2705 3514l72-6 43-9 29-12 58-34 15-2 14 2 58 33 29 11 43 9 43 4 116 1 173-3 130-6 101-9 86-14 73-20 57-24 87-48 29-14 29-8 14-1 14 1 29 8 29 14 87 48 29 13 43 16 43 12 44 8 57 9 58 6"/>
<path stroke="#45ffba" d="M2705 3514l72-6 43-10 29-12 58-35 15-2 14 2 58 34 29 12 43 9 43 3 116 2 173-4 130-6 101-9 86-15 73-20 57-25 87-50 29-14 29-8 14-2 14 2 29 8 29 14 87 50 29 14 43 16 43 12 44 9 57 9 58 6"/>
<path fill="#4effb1" d="M2705 3514l72-6 43-10 29-12 58-35 15-2 14 2 58 34 29 12 43 9 43 3 116 2 173-4 130-6 101-9 86-15 73-20 57-25 116-64 29-8 14-2 14 2 29 8 116 64 72 30 87 21 115 15 0-2 -115-16 -87-23 -72-32 -116-69 -29-9 -14-1 -14 1 -29 9 -116 69 -57 27 -73 22 -86 15 -101 10 -130 7 -173 4 -116-2 -43-3 -43-10 -29-12 -58-36 -14-3 -15 3 -58 37 -29 13 -43 10 -72 6z"/>
<path stroke="#4effb1" d="M2705 3514l72-7 43-10 29-12 44-28 14-8 15-3 14 3 14 7 44 28 29 12 43 9 43 4 116 2 173-4 130-7 101-10 86-14 44-12 29-9 57-26 87-52 29-15 29-8 14-2 14 2 29 8 29 15 87 52 29 14 43 17 43 12 44 10 57 9 58 6"/>
<path stroke="#58ffa7" d="M2705 3513l72-6 43-10 29-13 44-29 14-8 15-3 14 3 14 7 44 29 29 12 43 10 43 3 116 2 173-4 130-7 101-10 86-15 44-12 29-10 57-27 87-53 29-16 29-9 14-1 14 1 29 9 29 16 87 53 29 15 43 17 43 13 44 10 57 9 58 7"/>
<path fill="#62ff9d" d="M2705 3513l72-6 43-10 29-13 58-37 15-3 14 3 58 36 29 12 43 10 43 3 116 2 173-4 130-7 101-10 86-15 73-22 57-27 116-69 29-9 14-1 14 1 29 9 116 69 72 32 87 23 115 16 0-2 -115-17 -87-24 -72-35 -116-74 -29-10 -14-1 -14 1 -29 10 -116 74 -57 29 -73 23 -86 17 -101 11 -130 7 -173 5 -116-2 -43-5 -43-10 -29-13 -58-38 -14-3 -15 4 -58 38 -29 14 -43 11 -72 7z"/>
<path stroke="#62ff9d" d="M2705 3513l72-7 43-10 29-13 44-30 14-8 15-3 14 3 14 7 44 29 29 13 43 10 43 4 116 2 173-4 130-7 101-11 86-16 44-12 29-10 57-28 87-56 29-16 29-9 14-1 14 1 29 9 29 16 87 56 29 15 43 18 43 14 44 10 57 9 58 7"/>
<path stroke="#6cff93" d="M2705 3513l72-7 43-11 29-14 44-30 14-8 15-4 14 3 14 8 44 30 29 13 43 10 43 5 116 2 173-5 130-7 101-11 86-17 44-12 29-11 57-29 87-58 29-16 29-10 14-1 14 1 29 10 29 16 87 58 29 16 43 19 43 14 44 10 57 10 58 7"/>
<path fill="#76ff89" d="M2705 3513l72-7 43-11 29-14 58-38 15-4 14 3 58 38 29 13 43 10 43 5 116 2 173-5 130-7 101-11 86-17 73-23 57-29 116-74 29-10 14-1 14 1 29 10 116 74 72 35 87 24 115 17 0-2 -115-18 -87-27 -72-37 -116-80 -29-10 -14-2 -14 2 -29 10 -116 80 -57 31 -73 26 -86 17 -101 12 -130 8 -173 5 -116-2 -43-5 -43-10 -29-14 -58-41 -14-3 -15 4 -58 41 -29 15 -43 11 -72 7z"/>
<path stroke="#76ff89" d="M2705 3513l72-7 43-12 29-14 44-31 14-9 15-3 14 3 14 8 44 31 29 14 43 10 43 4 116 2 173-4 130-8 101-11 86-18 44-13 29-11 57-30 87-60 29-17 29-10 14-1 14 1 29 10 29 17 87 60 29 17 43 19 43 15 44 10 57 11 58 7"/>
<path stroke="#80ff80" d="M2705 3512l72-7 43-11 29-15 44-33 14-8 15-4 14 3 14 9 44 32 29 14 43 10 43 5 116 2 173-5 130-8 101-12 43-7 43-10 44-14 29-12 28-14 29-17 87-62 29-18 29-10 14-2 14 2 29 10 29 18 87 62 29 17 43 20 43 16 44 11 57 11 58 7"/>
<path fill="#89ff76" d="M2705 3512l72-7 43-11 29-15 58-41 15-4 14 3 58 41 29 14 43 10 43 5 116 2 173-5 130-8 101-12 86-17 73-26 57-31 116-80 29-10 14-2 14 2 29 10 116 80 72 37 87 27 115 18 0-2 -115-20 -87-28 -72-40 -116-86 -29-12 -14-1 -14 1 -29 12 -116 86 -57 33 -73 27 -86 20 -101 12 -130 9 -173 5 -116-2 -43-5 -43-11 -29-15 -58-43 -14-3 -15 4 -58 43 -29 16 -43 12 -72 8z"/>
<path stroke="#89ff76" d="M2705 3512l72-7 43-12 29-15 44-34 14-9 15-3 14 3 14 9 44 32 29 15 43 11 43 4 116 2 173-4 130-9 101-12 43-8 43-10 44-15 29-12 28-14 29-18 87-64 29-19 29-11 14-1 14 1 29 11 29 19 87 64 29 18 43 21 43 15 44 12 57 11 58 8"/>
<path stroke="#93ff6c" d="M2705 3512l72-8 43-12 29-16 44-34 14-9 15-4 14 3 14 9 44 34 29 15 43 11 43 5 116 2 173-5 130-9 101-12 43-9 43-11 44-14 29-13 28-15 29-18 87-67 29-19 29-12 14-1 14 1 29 12 29 19 87 67 29 18 43 22 43 16 44 12 57 12 58 8"/>
<path fill="#9dff62" d="M2705 3512l72-8 43-12 29-16 58-43 15-4 14 3 58 43 29 15 43 11 43 5 116 2 173-5 130-9 101-12 86-20 73-27 57-33 116-86 29-12 14-1 14 1 29 12 116 86 72 40 87 28 115 20 0-2 -115-22 -44-13 -43-17 -43-24 -29-19 -116-93 -29-12 -14-2 -14 2 -29 12 -116 93 -57 36 -73 29 -86 21 -101 13 -130 10 -173 5 -116-2 -43-5 -43-12 -29-16 -58-45 -14-4 -15 4 -58 47 -29 16 -43 13 -72 8z"/>
<path stroke="#9dff62" d="M2705 3512l72-8 43-13 29-16 44-36 14-9 15-4 14 4 14 9 44 35 29 15 43 12 43 4 116 3 173-5 130-10 101-13 43-8 43-12 44-15 29-13 28-16 29-18 87-70 29-20 14-7 15-5 14-1 14 1 15 5 14 7 29 20 87 70 29 18 43 23 43 17 44 12 57 12 58 9"/>
<path stroke="#a7ff58" d="M2705 3511l72-8 43-13 29-16 44-37 14-10 15-4 14 4 14 9 44 36 29 16 43 12 43 5 116 2 173-5 130-10 101-13 43-9 43-12 44-16 29-13 28-17 29-19 87-72 29-21 14-7 15-5 14-2 14 2 15 5 14 7 29 21 87 72 29 19 43 24 43 17 44 13 57 13 58 9"/>
<path fill="#b1ff4e" d="M2705 3511l72-8 43-13 29-16 58-47 15-4 14 4 58 45 29 16 43 12 43 5 116 2 173-5 130-10 101-13 86-21 73-29 57-36 116-93 29-12 14-2 14 2 29 12 116 93 29 19 43 24 43 17 44 13 115 22 0-3 -115-23 -44-14 -43-19 -43-25 -29-21 -116-100 -29-13 -14-2 -14 2 -29 13 -116 100 -57 39 -73 31 -86 23 -101 14 -130 10 -173 6 -116-2 -43-5 -43-13 -29-17 -58-48 -14-4 -15 4 -58 50 -29 17 -43 14 -72 9z"/>
<path stroke="#b1ff4e" d="M2705 3511l72-8 43-14 29-17 44-38 14-10 15-4 14 4 14 10 44 37 29 16 43 12 43 5 116 3 173-6 130-10 101-14 43-9 43-12 44-17 29-14 28-17 29-20 87-75 29-21 14-8 15-5 14-1 14 1 15 5 14 8 29 21 87 75 29 20 43 25 43 18 44 13 57 13 58 10"/>
<path stroke="#baff45" d="M2705 3511l43-4 29-5 29-8 14-6 29-17 44-39 14-11 15-4 14 4 14 10 44 38 29 17 14 5 29 8 43 5 116 2 173-6 130-10 101-14 43-10 43-13 44-17 29-14 28-18 29-21 87-77 29-23 14-8 15-5 14-2 14 2 15 5 14 8 29 23 87 77 29 21 43 25 43 19 44 14 57 14 58 9"/>
<path fill="#c4ff3b" d="M2705 3511l72-9 43-14 29-17 58-50 15-4 14 4 58 48 29 17 43 13 43 5 116 2 173-6 130-10 101-14 86-23 73-31 57-39 116-100 29-13 14-2 14 2 29 13 116 100 29 21 43 25 43 19 44 14 115 23 0-2 -58-11 -57-14 -44-15 -43-21 -43-27 -29-22 -87-84 -29-24 -29-14 -14-2 -14 2 -29 14 -29 24 -87 84 -57 41 -73 34 -86 24 -101 16 -130 11 -173 6 -116-2 -43-6 -43-13 -29-18 -58-51 -14-4 -15 4 -58 53 -29 18 -43 15 -72 9z"/>
<path stroke="#c4ff3b" d="M2705 3510l43-4 29-5 29-8 14-6 29-18 44-40 14-11 15-4 14 4 14 10 44 39 29 18 14 5 29 8 43 5 116 3 173-6 130-11 101-15 43-10 43-13 44-18 29-15 28-18 29-22 29-25 58-55 29-24 14-8 15-5 14-2 14 2 15 5 14 8 29 24 58 55 29 25 29 22 43 26 43 20 44 14 57 14 58 10"/>
<path stroke="#ceff31" d="M2705 3510l43-4 29-5 29-9 14-6 29-18 44-42 14-11 15-4 14 4 14 10 44 41 29 18 14 5 29 8 43 6 43 2 73 0 173-6 130-11 101-16 43-10 43-14 44-18 29-16 28-19 29-22 29-26 58-58 29-24 14-8 15-6 14-2 14 2 15 6 14 8 29 24 58 58 29 26 29 22 43 27 43 21 44 15 57 14 58 11"/>
<path fill="#d8ff27" d="M2705 3510l72-9 43-15 29-18 58-53 15-4 14 4 58 51 29 18 43 13 43 6 116 2 173-6 130-11 101-16 86-24 73-34 57-41 87-84 29-24 29-14 14-2 14 2 29 14 29 24 87 84 29 22 43 27 43 21 44 15 57 14 58 11 0-3 -58-11 -57-16 -44-16 -43-22 -43-29 -29-24 -87-90 -29-26 -29-16 -14-2 -14 2 -29 16 -29 26 -87 90 -57 44 -73 37 -86 26 -101 17 -130 11 -173 7 -116-3 -43-5 -43-15 -29-19 -58-54 -14-4 -15 5 -58 55 -29 20 -43 15 -72 10z"/>
<path stroke="#d8ff27" d="M2705 3510l43-5 29-5 29-9 14-6 29-19 44-43 14-11 15-5 14 4 14 11 44 42 29 18 14 6 29 8 43 6 43 2 73 1 173-7 130-11 101-17 43-10 43-14 44-20 29-16 28-19 29-24 29-27 58-59 29-25 14-9 15-6 14-2 14 2 15 6 14 9 29 25 58 59 29 27 29 24 43 28 43 21 44 16 57 15 58 10"/>
<path stroke="#e2ff1d" d="M2705 3509l43-4 29-6 29-8 14-7 29-20 44-44 14-11 15-5 14 4 14 11 44 43 29 19 14 6 29 9 43 5 43 3 73 0 173-7 130-11 57-9 44-8 43-12 43-14 44-20 29-17 28-20 29-24 29-29 58-61 29-26 14-10 15-6 14-2 14 2 15 6 14 10 29 26 58 61 29 29 29 24 43 29 43 22 44 16 57 16 58 11"/>
<path fill="#ebff14" d="M2705 3509l72-10 43-15 29-20 58-55 15-5 14 4 58 54 29 19 43 15 43 5 116 3 173-7 130-11 101-17 86-26 73-37 57-44 87-90 29-26 29-16 14-2 14 2 29 16 29 26 87 90 29 24 43 29 43 22 44 16 57 16 58 11 0-3 -58-12 -57-17 -44-18 -43-23 -43-31 -29-27 -87-96 -29-28 -29-17 -14-2 -14 2 -29 17 -29 28 -87 96 -57 48 -29 19 -44 21 -86 28 -101 18 -130 13 -173 7 -116-3 -43-6 -43-15 -29-20 -58-58 -14-4 -15 5 -58 59 -29 21 -43 16 -72 11z"/>
<path stroke="#ebff14" d="M2705 3509l43-5 29-5 29-9 14-7 29-20 44-46 14-12 15-5 14 5 14 11 44 45 29 19 14 6 29 9 43 6 43 2 73 0 173-6 130-13 57-8 44-9 43-12 43-15 44-21 29-17 28-21 29-25 29-30 58-64 29-27 14-9 15-6 14-3 14 3 15 6 14 9 29 27 58 64 29 30 29 25 43 30 43 23 44 17 57 16 58 11"/>
<path stroke="#f5ff0a" d="M2705 3509l43-5 29-6 29-9 14-7 29-21 44-47 14-12 15-5 14 4 14 12 44 46 29 20 14 6 29 9 43 6 43 3 73 0 173-7 130-13 57-9 44-9 43-12 43-16 44-21 29-19 28-21 29-27 29-30 58-66 29-28 14-10 15-7 14-2 14 2 15 7 14 10 29 28 58 66 29 30 29 27 43 31 43 23 44 18 57 17 58 12"/>
<path fill="#ffff00" d="M2705 3509l72-11 43-16 29-21 58-59 15-5 14 4 58 58 29 20 43 15 43 6 116 3 173-7 130-13 101-18 86-28 44-21 29-19 57-48 87-96 29-28 29-17 14-2 14 2 29 17 29 28 87 96 29 27 43 31 43 23 44 18 57 17 58 12 0-4 -58-12 -57-18 -44-19 -43-26 -43-33 -29-29 -87-104 -29-30 -29-18 -14-2 -14 2 -29 18 -29 30 -87 104 -57 52 -29 20 -44 22 -86 30 -101 20 -130 14 -173 8 -116-3 -43-7 -43-16 -29-21 -58-61 -14-5 -15 5 -58 63 -29 22 -43 18 -72 11z"/>
<path stroke="#ffff00" d="M2705 3508l43-5 29-6 29-9 14-8 29-21 44-48 14-13 15-5 14 4 14 13 44 47 29 20 14 7 29 9 43 6 43 3 73 0 173-7 130-13 57-10 44-9 43-13 43-16 44-22 29-19 28-23 29-27 29-31 58-70 29-29 14-10 15-6 14-3 14 3 15 6 14 10 29 30 58 69 29 31 29 27 43 33 43 24 44 18 57 18 58 12"/>
<path stroke="#fff500" d="M2705 3508l43-5 29-6 29-10 14-8 29-22 44-50 14-13 15-5 14 5 14 12 44 49 29 21 14 7 29 9 43 7 43 2 73 1 173-8 130-14 57-10 44-10 43-12 43-18 44-22 29-20 28-24 29-28 29-32 58-72 29-30 14-11 15-7 14-2 14 2 15 7 14 11 29 30 58 72 29 32 29 29 43 33 43 26 44 19 57 18 58 12"/>
<path fill="#ffeb00" d="M2705 3508l72-11 43-18 29-22 58-63 15-5 14 5 58 61 29 21 43 16 43 7 116 3 173-8 130-14 101-20 86-30 44-22 29-20 57-52 101-120 29-25 15-7 0-25 -15 7 -29 27 -101 129 -57 56 -29 21 -44 25 -43 18 -43 14 -101 21 -130 15 -173 8 -116-3 -43-7 -43-17 -29-22 -58-65 -14-5 -15 5 -58 67 -29 23 -43 19 -72 12zM4018 3184l15 7 29 25 101 120 29 29 43 33 43 26 44 19 57 18 58 12 0-3 -58-14 -57-19 -44-21 -43-27 -43-36 -29-31 -101-129 -29-27 -15-7z"/>
<path fill="#ffed1f" stroke="#ffed1f" stroke-width="5" d="M3990 3184l14-2 14 2 0-25 -14-3 -14 3z"/>
<path stroke="#ffeb00" d="M2705 3507l43-5 29-6 29-10 14-8 29-23 44-51 14-14 15-5 14 5 14 13 44 50 29 22 14 7 29 9 43 7 43 3 73 0 86-3 87-5 130-14 57-11 44-10 43-13 43-18 44-24 29-20 28-24 29-30 29-33 58-75 29-31 14-11 15-7 14-3 14 3 15 7 14 11 29 31 58 75 29 33 29 30 43 35 43 26 44 20 57 18 58 14"/>
<path stroke="#ffe200" d="M2705 3507l43-5 29-7 29-11 14-8 29-23 44-53 14-14 15-5 14 5 14 13 44 52 29 22 14 8 29 9 43 7 43 3 73 0 86-3 87-5 72-7 58-8 57-10 44-11 43-14 43-18 44-25 29-21 28-25 29-31 29-35 58-77 29-32 14-12 15-7 14-3 14 3 15 7 14 12 29 32 58 77 29 35 29 31 43 36 43 27 44 21 57 19 58 14"/>
<path fill="#ffd800" d="M2705 3507l72-12 43-19 29-23 58-67 15-5 14 5 58 65 29 22 43 17 43 7 116 3 173-8 130-15 101-21 43-14 43-18 44-25 29-21 57-56 101-129 29-27 0-27 -29 29 -101 139 -57 60 -29 23 -44 26 -43 20 -43 15 -101 23 -130 16 -173 9 -116-3 -43-8 -43-18 -29-24 -58-69 -14-5 -15 6 -58 71 -29 25 -43 20 -72 12zM4033 3166l29 27 101 129 29 31 43 36 43 27 44 21 57 19 58 14 0-4 -58-15 -57-21 -44-22 -43-29 -43-39 -29-33 -101-139 -29-29z"/>
<path fill="#ffda0a" stroke="#ffda0a" stroke-width="5" d="M3975 3166l15-7 0-28 -15 8zM4018 3159l15 7 0-27 -15-8z"/>
<path stroke="#ffd800" d="M2705 3507l43-6 29-7 29-11 14-8 29-24 44-55 14-14 15-6 14 6 14 14 44 52 29 24 14 7 29 10 43 8 43 2 73 0 86-3 87-5 72-7 58-8 57-11 44-12 43-14 43-19 44-26 29-21 28-27 29-31 29-37 58-80 29-33 14-12 15-8 14-2 14 2 15 8 14 12 29 33 58 80 29 37 29 31 43 38 43 28 44 21 57 21 58 14"/>
<path stroke="#ffce00" d="M2705 3506l43-6 29-6 29-12 14-8 29-25 44-56 14-15 15-6 14 5 14 15 44 54 29 24 14 8 29 10 43 8 43 2 73 1 86-3 87-6 72-8 58-8 57-12 44-11 43-15 43-20 44-26 29-23 28-27 29-33 29-38 58-83 29-35 14-12 15-8 14-3 14 3 15 8 14 12 29 35 58 83 29 38 29 33 43 39 43 29 44 22 57 21 58 15"/>
<path fill="#ffc400" d="M2705 3506l72-12 43-20 29-25 58-71 15-6 14 5 58 69 29 24 43 18 43 8 116 3 173-9 130-16 101-23 43-15 43-20 44-26 29-23 57-60 101-139 29-29 0-29 -29 31 -101 150 -57 64 -29 25 -44 28 -43 22 -43 16 -101 24 -130 17 -173 10 -116-3 -43-8 -43-19 -29-26 -58-73 -14-5 -15 6 -58 75 -29 27 -43 21 -72 13zM4033 3139l29 29 101 139 29 33 43 39 43 29 44 22 57 21 58 15 0-4 -58-16 -57-23 -44-23 -43-32 -43-42 -29-35 -101-150 -29-31z"/>
<path fill="#ffcb1f" stroke="#ffcb1f" stroke-width="5" d="M3975 3139l15-8 0-30 -15 9zM4018 3131l15 8 0-29 -15-9z"/>
<path stroke="#ffc400" d="M2705 3506l43-6 29-7 29-12 14-9 29-26 44-57 14-16 15-6 14 6 14 15 44 56 29 24 14 9 29 10 43 8 43 3 73 0 86-3 87-6 72-8 58-9 57-12 44-12 43-15 43-21 44-27 29-24 28-28 29-34 29-39 58-86 29-36 14-13 15-9 14-2 14 2 15 9 14 13 29 36 58 86 29 39 29 34 43 41 43 30 44 23 57 22 58 15"/>
<path stroke="#ffba00" d="M2705 3505l43-6 29-7 29-12 14-9 29-27 44-59 14-16 15-6 14 5 14 16 44 57 14 15 15 11 14 8 29 11 43 8 43 3 73 0 86-3 87-7 72-8 58-9 57-12 44-12 43-16 43-22 44-28 29-25 28-29 29-35 29-41 58-89 29-38 14-13 15-9 14-3 14 3 15 9 14 13 29 38 58 89 29 41 29 35 43 42 43 32 44 23 57 23 58 16"/>
<path fill="#ffb100" d="M2705 3505l72-13 43-21 29-27 58-75 15-6 14 5 58 73 29 26 43 19 43 8 116 3 173-10 130-17 101-24 43-16 43-22 44-28 29-25 57-64 101-150 29-31 0-32 -29 33 -101 162 -57 70 -29 26 -44 31 -43 23 -43 17 -101 27 -130 18 -173 10 -116-3 -43-8 -43-21 -29-27 -58-77 -14-6 -15 6 -58 80 -29 29 -43 22 -72 14zM4033 3110l29 31 101 150 29 35 43 42 43 32 44 23 57 23 58 16 0-5 -58-17 -57-24 -44-25 -43-34 -43-46 -29-38 -101-161 -29-34z"/>
<path stroke="#ffb100" d="M2705 3505l43-7 29-7 29-13 14-9 15-12 14-15 44-62 14-16 15-6 14 6 14 15 44 60 14 15 15 11 14 9 29 11 43 8 43 3 73 0 86-3 87-7 72-8 58-10 57-12 44-13 43-17 43-22 44-30 29-25 28-30 29-37 29-42 58-93 29-39 14-14 15-8 14-3 14 3 15 8 14 14 29 39 58 93 29 42 29 37 43 44 43 32 44 25 57 23 58 17"/>
<path stroke="#ffa700" d="M2705 3504l43-6 29-8 29-13 14-9 15-13 14-16 44-63 14-17 15-6 14 6 14 16 44 61 14 16 15 11 14 9 29 12 43 8 43 3 73 0 86-3 87-7 72-9 58-9 57-14 44-13 43-17 43-23 44-31 29-26 28-32 29-38 29-44 58-96 29-40 14-15 15-9 14-3 14 3 15 9 14 15 29 40 58 97 29 43 29 38 43 46 43 34 44 25 57 24 58 17"/>
<path fill="#ff9d00" d="M2705 3504l72-14 43-22 29-29 58-80 15-6 14 6 58 77 29 27 43 21 43 8 116 3 173-10 130-18 101-27 43-17 43-23 44-31 29-26 57-70 101-162 29-33 0-33 -29 35 -101 174 -29 41 -28 34 -29 28 -44 33 -43 25 -43 19 -101 28 -130 20 -173 12 -116-4 -43-9 -43-21 -29-29 -58-82 -14-7 -15 7 -58 85 -29 30 -43 24 -29 8 -43 7zM4033 3078l29 34 101 161 29 38 43 46 43 34 44 25 57 24 58 17 0-4 -58-19 -57-26 -44-27 -43-37 -43-49 -29-41 -101-174 -29-35z"/>
<path stroke="#ff9d00" d="M2705 3504l43-7 29-8 29-13 14-10 15-13 14-16 44-65 14-18 15-6 14 6 14 16 44 64 14 15 15 13 14 9 29 12 43 8 43 3 73 1 86-4 87-7 72-9 58-10 57-14 44-14 43-18 43-24 44-32 29-27 28-33 29-39 29-45 58-100 29-42 14-15 15-10 14-3 14 3 15 10 14 15 29 42 58 100 29 45 29 39 43 47 43 36 44 26 57 25 58 18"/>
<path stroke="#ff9300" d="M2705 3503l43-7 29-8 29-14 14-10 15-13 14-17 44-67 14-18 15-7 14 7 14 17 44 65 14 16 15 13 14 9 29 12 43 9 43 3 73 1 86-4 87-8 72-9 58-11 57-14 44-14 43-19 43-25 44-33 29-28 28-34 29-41 29-47 58-103 29-44 14-15 15-10 14-4 14 4 15 10 14 15 29 44 58 103 29 47 29 41 43 49 43 37 44 27 57 26 58 19"/>
<path fill="#ff8900" d="M2705 3503l43-7 29-8 43-24 29-30 58-85 15-7 14 7 58 82 29 29 43 21 43 9 116 4 173-12 130-20 101-28 43-19 43-25 44-33 29-28 28-34 29-41 101-174 29-35 0-37 -29 39 -101 187 -29 44 -28 37 -29 30 -44 36 -43 26 -43 20 -44 16 -57 15 -130 21 -173 13 -73 0 -43-4 -43-9 -29-13 -14-10 -29-31 -58-87 -14-7 -15 8 -58 90 -29 32 -14 10 -29 15 -29 8 -43 8zM4033 3045l29 35 101 174 29 41 43 49 43 37 44 27 57 26 58 19 0-6 -58-19 -57-29 -44-29 -43-39 -43-53 -29-44 -101-187 -29-39z"/>
<path stroke="#ff8900" d="M2705 3502l43-7 29-8 29-14 14-11 15-13 14-17 44-70 14-18 15-7 14 6 14 18 44 67 14 17 15 13 14 9 29 13 43 9 43 3 73 1 86-5 87-7 72-10 58-11 57-14 44-15 43-20 43-25 44-35 29-29 28-35 29-43 29-49 58-107 29-45 14-16 15-11 14-3 14 4 15 10 14 16 29 45 58 108 29 48 29 43 43 50 43 38 44 29 57 27 58 19"/>
<path stroke="#ff8000" d="M2705 3502l43-8 29-8 29-15 14-10 15-14 14-18 44-71 14-19 15-8 14 7 14 18 44 69 14 17 15 14 14 10 29 13 43 9 43 4 73 0 86-5 87-8 72-10 58-11 57-15 44-16 43-20 43-26 44-36 29-30 28-37 29-44 29-51 58-111 29-47 14-17 15-10 14-4 14 4 15 10 14 17 29 47 58 111 29 51 29 44 43 53 43 39 44 29 57 29 58 19"/>
<path fill="#ff7600" d="M2705 3502l43-8 29-8 29-15 14-10 29-32 58-90 15-8 14 7 58 87 29 31 14 10 29 13 43 9 43 4 73 0 158-11 130-20 101-28 58-26 43-26 44-36 29-30 28-37 29-44 87-162 29-47 0-38 -29 50 -87 175 -29 47 -28 40 -29 32 -44 39 -43 29 -58 27 -43 15 -58 16 -130 21 -158 11 -73 0 -43-3 -43-10 -29-14 -14-11 -29-32 -44-73 -14-20 -14-7 -15 8 -58 96 -29 34 -14 11 -29 16 -29 9 -43 8zM4047 3025l29 47 87 162 29 44 43 53 43 39 44 29 57 29 58 19 0-5 -58-21 -57-31 -44-32 -43-42 -43-57 -29-47 -87-175 -29-50z"/>
<path fill="#ff7b0a" stroke="#ff7b0a" stroke-width="5" d="M3961 3025l14-17 0-39 -14 18zM4033 3008l14 17 0-38 -14-18z"/>
<path stroke="#ff7600" d="M2705 3501l43-7 29-9 29-15 14-11 15-15 14-18 44-74 14-19 15-8 14 7 14 19 44 71 14 18 15 14 14 10 29 13 43 10 43 3 73 1 86-5 87-8 72-11 58-11 57-16 44-16 43-21 43-28 44-37 29-31 28-38 29-46 29-52 58-116 29-49 14-17 15-11 14-4 14 4 15 11 14 17 29 49 58 116 29 52 29 46 43 54 43 41 44 31 57 29 58 21"/>
<path stroke="#ff6c00" d="M2705 3501l43-8 29-9 29-16 14-11 15-15 14-19 44-76 14-20 15-8 14 7 14 20 44 73 14 18 15 14 14 11 29 14 43 10 43 3 73 0 86-4 87-9 72-11 58-12 57-16 44-17 43-21 43-29 44-39 29-32 28-40 29-47 29-55 58-120 29-50 14-18 15-11 14-4 14 4 15 11 14 18 29 50 58 121 29 54 29 47 43 57 43 42 44 32 28 17 29 14 58 21"/>
<path fill="#ff6200" d="M2705 3501l43-8 29-9 29-16 14-11 29-34 58-96 15-8 14 7 14 20 44 73 29 32 14 11 29 14 43 10 43 3 73 0 158-11 130-21 58-16 43-15 58-27 43-29 44-39 29-32 28-40 29-47 87-175 29-50 0-41 -29 54 -87 189 -29 50 -28 43 -29 35 -44 41 -43 31 -58 30 -43 16 -58 17 -130 23 -158 12 -73 0 -43-4 -43-10 -29-15 -14-11 -29-34 -44-78 -14-21 -14-7 -15 8 -14 21 -44 81 -29 36 -14 12 -29 16 -29 10 -43 8zM4047 2987l29 50 87 175 29 47 43 57 43 42 44 32 57 31 58 21 0-6 -58-23 -57-33 -44-34 -43-46 -43-61 -29-50 -87-188 -29-55z"/>
<path fill="#ff751f" stroke="#ff751f" stroke-width="5" d="M3961 2987l14-18 0-42 -14 19zM4033 2969l14 18 0-41 -14-19z"/>
<path stroke="#ff6200" d="M2705 3500l43-8 29-10 29-16 14-11 15-16 14-19 44-78 14-21 15-8 14 7 14 20 44 76 14 19 15 14 14 11 29 14 43 11 43 3 73 0 86-5 87-8 72-12 58-12 57-17 44-18 43-22 43-30 44-40 29-33 28-41 29-49 29-57 58-125 29-52 14-19 15-12 14-4 14 4 15 12 14 19 29 52 58 125 29 57 29 49 43 58 43 44 44 33 28 17 29 15 58 22"/>
<path stroke="#ff5800" d="M2705 3499l43-8 29-10 29-16 14-12 15-16 14-20 44-81 14-21 15-8 14 7 14 21 44 78 14 19 15 15 14 11 29 15 43 10 43 4 73 0 86-5 87-9 72-12 58-13 57-18 44-17 43-24 43-31 44-41 29-35 28-43 29-50 29-59 58-130 29-54 14-19 15-12 14-5 14 5 15 12 14 19 29 55 58 129 29 59 29 50 43 61 43 46 44 34 28 18 29 15 58 23"/>
<path fill="#ff4e00" d="M2705 3499l43-8 29-10 29-16 14-12 29-36 44-81 14-21 15-8 14 7 14 21 44 78 29 34 14 11 29 15 43 10 43 4 73 0 158-12 130-23 58-17 43-16 58-30 43-31 44-41 29-35 28-43 29-50 87-189 29-54 0-44 -29 59 -87 202 -29 55 -28 46 -29 38 -44 44 -43 33 -58 32 -43 18 -58 18 -130 24 -158 14 -73 0 -43-4 -43-11 -29-16 -14-12 -29-36 -44-83 -14-22 -14-8 -15 9 -14 23 -44 85 -29 38 -14 13 -29 18 -29 10 -43 9zM4047 2946l29 55 87 188 29 50 43 61 43 46 44 34 57 33 58 23 0-7 -58-24 -57-36 -44-36 -43-49 -43-66 -29-55 -87-202 -29-59z"/>
<path stroke="#ff4e00" d="M2705 3498l43-8 29-10 29-17 14-13 15-16 14-20 44-83 14-22 15-9 14 8 14 21 44 80 14 20 15 16 14 11 29 15 43 11 43 4 73 0 86-5 87-10 72-12 58-13 57-19 44-18 43-25 43-32 44-43 29-36 28-44 29-53 29-61 58-134 29-56 14-21 15-12 14-5 14 5 15 13 14 20 29 56 58 134 29 61 29 53 43 63 43 48 44 35 28 18 29 16 58 24"/>
<path stroke="#ff4500" d="M2705 3498l43-9 29-10 29-18 14-13 15-16 14-22 44-85 14-23 15-9 14 8 14 22 44 83 14 20 15 16 14 12 29 16 43 11 43 4 73 0 86-6 87-10 72-12 58-14 57-19 44-20 43-25 43-33 44-44 29-38 28-46 29-55 29-63 58-139 29-59 14-21 15-13 14-4 14 4 15 13 14 21 29 59 58 139 29 63 29 55 43 66 43 49 44 36 28 20 29 16 58 24"/>
<path fill="#ff3b00" d="M2705 3498l43-9 29-10 29-18 14-13 29-38 44-85 14-23 15-9 14 8 14 22 44 83 29 36 14 12 29 16 43 11 43 4 73 0 158-14 130-24 58-18 43-18 58-32 43-33 44-44 29-38 28-46 29-55 87-202 29-59 0-47 -29 63 -87 218 -29 59 -28 49 -29 41 -44 48 -43 35 -58 35 -43 19 -58 19 -57 14 -73 13 -158 14 -73 0 -43-4 -43-12 -29-16 -14-13 -29-38 -44-88 -14-23 -14-9 -15 10 -14 24 -44 90 -29 41 -14 13 -29 19 -29 11 -43 9zM4047 2902l29 59 87 202 29 55 43 66 43 49 44 36 57 36 58 24 0-6 -58-27 -57-38 -44-40 -43-52 -43-71 -29-59 -87-218 -29-63z"/>
<path stroke="#ff3b00" d="M2705 3497l43-9 29-11 29-18 14-13 15-17 14-22 44-88 14-24 15-9 14 9 14 22 44 85 14 21 15 17 14 12 29 16 43 11 43 5 73-1 86-5 87-11 72-13 58-14 57-20 44-20 43-26 43-35 44-46 29-39 28-47 29-57 29-66 58-144 29-61 14-22 15-13 14-5 14 5 15 13 14 22 29 61 58 144 29 66 29 57 43 68 43 51 44 38 28 20 29 16 58 26"/>
<path stroke="#ff3100" d="M2705 3496l43-9 29-11 29-19 14-13 15-18 14-23 44-90 14-24 15-10 14 9 14 23 44 88 14 21 15 17 14 13 29 16 14 5 29 7 43 4 73 0 86-6 87-11 72-13 58-15 57-21 44-20 43-28 43-35 44-48 29-41 28-49 29-59 29-68 58-150 29-63 14-23 15-14 14-5 14 5 15 14 14 23 29 63 58 150 29 68 29 59 43 71 43 52 44 40 28 21 29 17 58 27"/>
<path fill="#ff2700" d="M2705 3496l43-9 29-11 29-19 14-13 29-41 44-90 14-24 15-10 14 9 14 23 44 88 29 38 14 13 29 16 43 12 43 4 73 0 158-14 73-13 57-14 58-19 43-19 58-35 43-35 44-48 29-41 28-49 29-59 87-218 29-63 0-51 -29 68 -87 234 -29 64 -28 53 -29 44 -44 51 -43 39 -58 37 -43 21 -58 20 -57 15 -73 14 -72 9 -86 6 -73 1 -43-5 -43-12 -29-18 -14-13 -29-41 -44-93 -14-25 -14-9 -15 10 -14 26 -44 96 -29 43 -14 14 -29 20 -29 12 -43 10zM4047 2855l29 63 87 218 29 59 43 71 43 52 44 40 57 38 58 27 0-8 -58-29 -57-40 -44-43 -43-57 -43-76 -29-63 -87-235 -29-68z"/>
<path stroke="#ff2700" d="M2705 3495l43-9 29-12 29-19 14-14 15-18 14-23 44-94 14-25 15-9 14 8 14 24 44 91 14 22 15 17 14 14 29 17 14 5 29 7 43 4 73 0 86-6 87-12 72-14 58-15 57-22 44-21 43-28 43-37 44-50 29-42 28-51 29-62 29-70 58-156 29-65 14-23 15-15 14-5 14 5 15 15 14 23 29 65 58 156 29 71 29 61 43 73 43 55 44 41 28 21 29 18 58 28"/>
<path stroke="#ff1d00" d="M2705 3495l43-10 29-12 29-20 14-14 15-19 14-24 44-96 14-26 15-10 14 9 14 25 44 93 14 23 15 18 14 13 29 18 14 5 29 7 43 5 73-1 86-6 87-12 72-14 58-17 57-22 44-22 43-29 43-39 44-51 29-44 28-53 29-64 29-73 58-161 29-68 14-24 15-15 14-6 14 6 15 15 14 24 29 68 58 161 29 74 29 63 43 76 43 57 44 43 28 22 29 18 58 29"/>
<path fill="#ff1400" d="M2705 3495l43-10 29-12 29-20 14-14 29-43 44-96 14-26 15-10 14 9 14 25 44 93 29 41 14 13 29 18 43 12 43 5 73-1 86-6 72-9 73-14 57-15 58-20 43-21 58-37 43-39 44-51 29-44 28-53 29-64 87-234 29-68 0-55 -29 73 -87 253 -29 68 -28 57 -29 47 -44 56 -43 41 -58 40 -43 22 -58 23 -57 16 -73 14 -72 10 -86 7 -73 1 -43-5 -43-13 -29-19 -14-14 -29-43 -44-99 -14-27 -14-9 -15 11 -14 27 -44 102 -29 45 -14 16 -29 21 -29 12 -43 11zM4047 2804l29 68 87 235 29 63 43 76 43 57 44 43 57 40 58 29 0-8 -58-31 -57-44 -44-46 -43-61 -43-82 -29-68 -87-253 -29-73z"/>
<path stroke="#ff1400" d="M2705 3494l43-11 29-12 29-20 14-15 15-19 14-25 44-99 14-27 15-10 14 9 14 26 44 96 14 23 15 19 14 14 29 18 14 5 29 8 43 4 73 0 86-7 87-12 72-15 58-17 57-23 44-23 43-30 43-40 44-54 29-45 28-55 29-66 29-76 58-168 29-70 14-25 15-16 14-5 14 5 15 16 14 25 29 70 58 168 29 76 29 66 14 29 29 50 43 59 44 44 28 23 29 19 58 30"/>
<path stroke="#ff0a00" d="M2705 3493l43-11 29-12 29-21 14-16 15-20 14-25 44-102 14-27 15-11 14 9 14 27 44 99 14 24 15 19 14 14 29 19 14 6 29 7 43 5 73-1 86-7 87-12 72-16 58-17 57-24 44-24 43-32 43-41 44-56 29-47 28-57 29-68 29-79 58-174 29-73 14-26 15-16 14-6 14 6 15 16 14 26 29 73 58 174 29 79 29 68 14 30 29 52 43 61 44 46 28 24 29 20 58 31"/>
<path fill="#ff0000" d="M2705 3493l43-11 29-12 29-21 14-16 29-45 44-102 14-27 15-11 14 9 14 27 44 99 29 43 14 14 29 19 43 13 43 5 73-1 86-7 72-10 73-14 57-16 58-23 43-22 58-40 43-41 44-56 29-47 28-57 29-68 87-253 29-73 0-59 -29 79 -87 272 -29 73 -28 62 -29 51 -44 59 -43 45 -58 43 -43 24 -58 24 -57 17 -58 13 -87 13 -86 8 -73 0 -43-4 -43-14 -29-20 -14-15 -29-46 -44-105 -14-28 -14-10 -15 11 -14 29 -44 108 -29 49 -14 16 -29 22 -29 14 -43 11zM4047 2749l29 73 87 253 29 68 43 82 43 61 44 46 57 44 58 31 0-9 -58-33 -57-47 -44-49 -43-66 -43-89 -29-73 -87-272 -29-79z"/>
<path stroke="#ff0000" d="M2705 3492l43-11 29-13 29-21 14-16 15-21 14-26 44-106 14-28 15-11 14 10 14 27 44 102 14 25 15 20 14 15 29 19 14 6 29 7 43 5 73 0 86-8 87-13 72-16 58-18 57-25 44-25 43-32 43-43 44-58 29-49 28-59 29-71 29-82 58-180 29-76 14-27 15-17 14-6 14 6 15 17 14 27 29 76 58 180 29 82 29 71 14 31 29 54 43 64 44 47 28 25 29 21 58 32"/>
<path stroke="#f50000" d="M2705 3491l43-11 29-14 29-22 14-16 15-21 14-28 44-108 14-29 15-11 14 10 14 28 44 105 14 26 15 20 14 15 14 11 15 9 14 6 29 8 43 4 73 0 86-8 87-13 72-17 58-19 57-25 44-26 43-34 43-45 44-59 29-51 28-62 29-73 29-85 58-187 29-79 14-28 15-18 14-6 14 6 15 18 14 28 29 79 58 187 29 85 29 73 14 33 29 56 14 24 29 42 44 49 28 26 29 21 29 18 29 15"/>
<path fill="#eb0000" d="M2705 3491l43-11 29-14 29-22 14-16 29-49 44-108 14-29 15-11 14 10 14 28 44 105 29 46 14 15 29 20 43 14 43 4 73 0 86-8 87-13 58-13 57-17 58-24 43-24 58-43 43-45 44-59 29-51 28-62 29-73 87-272 29-79 0-63 -29 84 -87 293 -29 79 -28 66 -29 55 -44 64 -43 49 -58 46 -43 25 -58 26 -57 19 -58 14 -72 12 -87 10 -72 2 -58-6 -43-15 -29-21 -14-16 -29-49 -44-111 -14-30 -14-10 -15 12 -14 30 -44 115 -29 52 -14 17 -29 24 -29 14 -43 12zM4047 2690l29 79 87 272 29 73 43 89 43 66 44 49 57 47 58 33 0-9 -58-36 -57-51 -44-53 -43-71 -43-95 -29-79 -87-293 -29-84z"/>
<path stroke="#eb0000" d="M2705 3490l43-12 29-13 29-23 14-17 15-22 14-28 44-112 14-30 15-11 14 10 14 29 44 108 14 27 15 20 14 16 14 12 15 8 14 7 29 8 43 5 73-1 86-8 87-14 72-17 58-20 57-26 44-27 43-35 43-46 44-62 29-53 28-64 29-76 29-89 58-194 29-81 14-29 15-19 14-6 14 7 15 18 14 29 29 82 58 194 29 88 29 76 14 34 29 58 14 25 29 43 44 51 28 27 29 22 29 19 29 16"/>
<path stroke="#e20000" d="M2705 3489l43-12 29-14 29-24 14-17 15-23 14-29 44-115 14-30 15-12 14 10 14 30 44 111 14 28 15 21 14 16 14 12 15 9 14 7 29 8 29 4 29 2 72-2 87-10 72-12 72-18 58-21 57-27 44-28 43-36 43-49 44-64 29-55 28-66 29-79 29-92 58-201 29-84 14-31 15-19 14-6 14 6 15 19 14 31 29 84 58 202 29 91 29 79 14 35 29 60 14 26 29 45 44 53 28 28 29 23 29 20 29 16"/>
<path fill="#d80000" d="M2705 3489l43-12 29-14 29-24 14-17 29-52 44-115 14-30 15-12 14 10 14 30 44 111 29 49 14 16 29 21 43 15 58 6 72-2 87-10 72-12 58-14 57-19 58-26 43-25 58-46 43-49 44-64 29-55 28-66 29-79 87-293 29-84 0-69 -29 91 -87 316 -29 85 -28 71 -29 59 -44 69 -43 52 -58 50 -43 27 -58 28 -57 20 -58 15 -72 14 -87 10 -72 2 -58-6 -43-16 -29-22 -14-17 -29-52 -44-118 -14-31 -14-12 -15 13 -14 33 -44 122 -29 55 -14 18 -29 25 -29 15 -43 13zM4047 2627l29 84 87 293 29 79 43 95 43 71 44 53 57 51 58 36 0-10 -58-38 -57-55 -44-57 -43-77 -43-102 -29-85 -87-316 -29-91z"/>
<path stroke="#d80000" d="M2705 3488l43-13 29-14 15-11 14-13 14-18 15-24 14-29 44-119 14-32 15-12 14 11 14 30 44 115 14 29 15 22 14 16 14 13 15 9 14 6 29 9 29 4 29 2 72-2 87-10 72-13 72-19 58-21 57-29 44-28 43-38 43-50 29-42 15-25 29-57 28-68 29-82 29-95 58-209 29-88 14-31 15-20 14-7 14 7 15 20 14 31 29 88 58 209 29 95 29 82 14 36 29 62 14 27 29 47 44 55 28 29 29 24 29 20 29 17"/>
<path stroke="#ce0000" d="M2705 3487l43-13 29-15 15-11 14-14 14-18 15-24 14-31 44-122 14-33 15-13 14 12 14 31 44 118 14 29 15 23 14 17 14 13 15 9 14 7 29 9 29 4 29 2 72-2 87-10 72-14 72-19 58-22 57-30 44-30 43-39 43-52 29-44 15-25 29-59 28-71 29-85 29-99 58-217 29-91 14-32 15-21 14-7 14 7 15 21 14 32 29 91 58 217 29 99 29 85 14 37 29 65 14 28 29 49 44 57 28 30 29 25 29 20 29 18"/>
<path fill="#c40000" d="M2705 3487l43-13 29-15 29-25 14-18 29-55 44-122 14-33 15-13 14 12 14 31 44 118 29 52 14 17 29 22 43 16 58 6 72-2 87-10 72-14 58-15 57-20 58-28 43-27 58-50 43-52 44-69 29-59 28-71 29-85 87-316 29-91 0-73 -29 98 -87 339 -29 92 -28 76 -29 64 -44 74 -43 56 -58 54 -43 30 -58 29 -57 22 -58 16 -72 15 -87 11 -72 2 -58-6 -43-17 -29-23 -14-18 -29-55 -44-126 -14-33 -14-12 -15 13 -14 35 -44 130 -29 58 -14 19 -29 27 -29 16 -43 13zM4047 2558l29 91 87 316 29 85 43 102 43 77 44 57 57 55 58 38 0-11 -58-41 -57-59 -44-62 -43-82 -43-110 -29-92 -87-339 -29-98z"/>
<path stroke="#c40000" d="M2705 3486l43-14 29-15 15-11 14-15 14-19 15-25 14-31 44-126 14-34 15-13 14 12 14 32 44 122 14 30 15 23 14 18 14 13 15 10 14 7 29 9 29 4 29 2 72-2 87-11 72-14 72-20 58-23 57-31 44-31 43-40 43-54 29-46 15-26 29-61 28-74 29-88 29-103 58-224 29-95 14-34 15-21 14-7 14 7 15 21 14 34 29 95 58 224 29 103 29 88 14 39 29 67 14 29 29 51 44 59 28 31 29 26 29 21 29 19"/>
<path stroke="#ba0000" d="M2705 3484l43-13 29-16 15-12 14-15 14-19 15-26 14-32 44-130 14-35 15-13 14 12 14 33 44 126 14 31 15 24 14 18 14 13 15 10 14 8 29 9 29 4 29 2 72-2 87-11 86-18 58-18 58-23 57-32 44-33 43-42 43-56 29-47 15-27 29-64 28-76 29-92 29-106 58-233 29-98 14-35 15-23 14-7 14 7 15 23 14 35 29 98 58 233 29 106 29 92 14 40 29 70 14 30 29 52 44 62 28 32 29 27 29 22 29 19"/>
<path fill="#b10000" d="M2705 3484l43-13 29-16 29-27 14-19 29-58 44-130 14-35 15-13 14 12 14 33 44 126 29 55 14 18 29 23 43 17 58 6 72-2 87-11 72-15 58-16 57-22 58-29 43-30 58-54 43-56 44-74 29-64 28-76 29-92 87-339 29-98 0-80 -29 106 -87 365 -29 99 -28 83 -29 68 -44 80 -43 60 -58 58 -43 32 -58 32 -57 23 -58 18 -72 15 -87 12 -72 3 -58-7 -43-17 -29-25 -14-19 -29-59 -44-133 -14-35 -14-13 -15 14 -14 37 -44 138 -29 62 -14 20 -29 29 -29 17 -43 14zM4047 2485l29 98 87 339 29 92 43 110 43 82 44 62 57 59 58 41 0-11 -58-45 -57-64 -44-66 -43-88 -43-119 -29-99 -87-365 -29-106z"/>
<path stroke="#b10000" d="M2705 3483l43-14 29-16 15-12 14-16 14-20 15-26 14-34 44-133 14-36 15-14 14 12 14 35 44 129 14 32 15 25 14 18 14 14 15 10 14 8 29 10 29 4 29 2 72-3 87-11 86-19 58-18 58-24 57-34 44-33 43-44 43-58 29-49 15-28 29-66 28-79 29-95 29-111 58-242 29-101 14-37 15-23 14-7 14 7 15 23 14 37 29 101 58 242 29 111 29 95 14 42 29 72 14 31 29 54 44 64 28 34 29 28 29 23 29 20"/>
<path stroke="#a70000" d="M2705 3482l43-14 29-17 15-13 14-16 14-20 15-27 14-35 44-138 14-37 15-14 14 13 14 35 44 133 14 33 15 26 14 19 14 14 15 11 14 7 29 10 29 5 29 2 72-3 87-12 86-19 58-19 58-25 29-16 28-19 44-35 43-45 43-60 29-51 15-29 29-68 28-83 29-99 29-114 58-251 29-106 14-37 15-24 14-8 14 8 15 24 14 37 29 106 58 251 29 114 29 99 14 43 29 76 14 32 29 56 44 66 28 35 29 29 29 24 29 21"/>
<path fill="#9d0000" d="M2705 3482l43-14 29-17 29-29 14-20 29-62 44-138 14-37 15-14 14 13 14 35 44 133 29 59 14 19 29 25 43 17 58 7 72-3 87-12 72-15 58-18 57-23 58-32 43-32 58-58 43-60 44-80 29-68 28-83 29-99 87-365 29-106 0-85 -29 114 -87 393 -29 106 -28 89 -29 74 -44 86 -43 65 -58 62 -43 34 -58 35 -57 25 -58 19 -72 17 -87 12 -72 3 -58-7 -43-18 -29-27 -14-20 -29-62 -44-141 -14-38 -14-13 -15 15 -14 39 -44 146 -29 66 -14 22 -29 30 -29 18 -43 15zM4047 2405l29 106 87 365 29 99 43 119 43 88 44 66 57 64 58 45 0-13 -58-48 -29-31 -28-37 -44-72 -43-95 -43-128 -29-106 -87-393 -29-114z"/>
<path stroke="#9d0000" d="M2705 3481l43-15 29-18 15-12 14-17 14-21 15-28 14-36 44-142 14-38 15-15 14 14 14 36 44 137 14 34 15 26 14 20 14 15 15 11 14 8 29 10 29 5 29 2 72-3 87-12 86-21 58-19 58-26 29-17 28-19 44-36 43-47 43-63 29-52 15-31 29-71 28-86 29-102 29-119 58-260 29-110 14-39 15-24 14-9 14 9 15 24 14 39 29 110 58 261 29 118 29 103 14 45 29 78 14 33 29 59 44 68 28 36 29 30 29 25 29 21"/>
<path stroke="#930000" d="M2705 3479l43-15 29-18 15-13 14-17 14-22 15-29 14-37 44-146 14-39 15-15 14 13 14 38 44 141 14 35 15 27 14 20 14 16 15 11 14 8 29 10 29 5 29 2 72-3 87-12 86-21 58-21 58-27 29-17 28-20 44-38 43-48 43-65 29-55 15-31 29-74 28-89 29-106 29-123 58-270 29-114 14-41 15-25 14-9 14 9 15 25 14 41 29 114 58 270 29 123 29 106 14 47 29 81 14 35 29 60 15 26 29 46 28 37 29 31 29 26 29 22"/>
</g></g>
<path transform="scale(.1)" fill="none" stroke="#000" stroke-width="16.5" stroke-dasharray="54 50" d="M2705 3512l43-3 29-4 29-7 14-4 29-15 44-33 14-8 15-4 14 3 14 9 44 32 29 14 14 4 29 6 43 5 43 2 73 0 173-5 130-8 57-6 44-6 43-7 43-10 44-14 29-12 28-14 29-17 29-19 58-43 29-18 14-6 15-4 14-2 14 2 15 4 14 6 29 18 58 43 29 19 29 17 43 20 43 16 44 11 57 11 58 7"/>
</g>
<rect x="500.5" y="239.9" width="173.4" height="9.1" fill="url(#jet)" stroke="#444" stroke-width="0.35"/>
<text x="342.30" y="10.60" font-family="Liberation Sans" font-size="13.60" font-weight="bold" text-anchor="middle" fill="#000">Sensitivity of Gravity Anomalies to Model Parameter Perturbations</text>
<text x="127.05" y="39.80" font-family="Liberation Sans" font-size="13.60" font-weight="bold" text-anchor="middle" fill="#000">A</text>
<text x="40.50" y="186.00" font-family="Liberation Sans" font-size="12.40" font-weight="normal" text-anchor="middle" fill="#262626">-200</text>
<text x="83.78" y="186.00" font-family="Liberation Sans" font-size="12.40" font-weight="normal" text-anchor="middle" fill="#262626">-100</text>
<text x="127.05" y="186.00" font-family="Liberation Sans" font-size="12.40" font-weight="normal" text-anchor="middle" fill="#262626">0</text>
<text x="170.32" y="186.00" font-family="Liberation Sans" font-size="12.40" font-weight="normal" text-anchor="middle" fill="#262626">100</text>
<text x="213.60" y="186.00" font-family="Liberation Sans" font-size="12.40" font-weight="normal" text-anchor="middle" fill="#262626">200</text>
<text x="36.50" y="174.90" font-family="Liberation Sans" font-size="12.40" font-weight="normal" text-anchor="end" fill="#262626">0</text>
<text x="36.50" y="132.57" font-family="Liberation Sans" font-size="12.40" font-weight="normal" text-anchor="end" fill="#262626">2</text>
<text x="36.50" y="90.23" font-family="Liberation Sans" font-size="12.40" font-weight="normal" text-anchor="end" fill="#262626">4</text>
<text x="36.50" y="47.90" font-family="Liberation Sans" font-size="12.40" font-weight="normal" text-anchor="end" fill="#262626">6</text>
<text transform="translate(127.05 201.70) scale(1 1.15)" font-family="Liberation Serif" font-size="13.50" text-anchor="middle" fill="#262626">Distance (m)</text>
<text transform="translate(24.45 107.00) rotate(-90) scale(1 1.15)" font-family="Liberation Serif" font-size="13.50" text-anchor="middle" fill="#262626">Gravity anomaly (mGal)</text>
<text x="357.10" y="39.80" font-family="Liberation Sans" font-size="13.60" font-weight="bold" text-anchor="middle" fill="#000">z</text>
<text x="270.50" y="186.00" font-family="Liberation Sans" font-size="12.40" font-weight="normal" text-anchor="middle" fill="#262626">-200</text>
<text x="313.80" y="186.00" font-family="Liberation Sans" font-size="12.40" font-weight="normal" text-anchor="middle" fill="#262626">-100</text>
<text x="357.10" y="186.00" font-family="Liberation Sans" font-size="12.40" font-weight="normal" text-anchor="middle" fill="#262626">0</text>
<text x="400.40" y="186.00" font-family="Liberation Sans" font-size="12.40" font-weight="normal" text-anchor="middle" fill="#262626">100</text>
<text x="443.70" y="186.00" font-family="Liberation Sans" font-size="12.40" font-weight="normal" text-anchor="middle" fill="#262626">200</text>
<text x="266.50" y="174.90" font-family="Liberation Sans" font-size="12.40" font-weight="normal" text-anchor="end" fill="#262626">0</text>
<text x="266.50" y="143.15" font-family="Liberation Sans" font-size="12.40" font-weight="normal" text-anchor="end" fill="#262626">2</text>
<text x="266.50" y="111.40" font-family="Liberation Sans" font-size="12.40" font-weight="normal" text-anchor="end" fill="#262626">4</text>
<text x="266.50" y="79.65" font-family="Liberation Sans" font-size="12.40" font-weight="normal" text-anchor="end" fill="#262626">6</text>
<text x="266.50" y="47.90" font-family="Liberation Sans" font-size="12.40" font-weight="normal" text-anchor="end" fill="#262626">8</text>
<text transform="translate(357.10 201.70) scale(1 1.15)" font-family="Liberation Serif" font-size="13.50" text-anchor="middle" fill="#262626">Distance (m)</text>
<text transform="translate(254.45 107.00) rotate(-90) scale(1 1.15)" font-family="Liberation Serif" font-size="13.50" text-anchor="middle" fill="#262626">Gravity anomaly (mGal)</text>
<text x="580.10" y="33.90" font-family="Liberation Sans" font-size="13.60" font-weight="bold" fill="#000">x<tspan font-size="10.8" dy="6.9">0</tspan></text>
<text x="500.50" y="186.00" font-family="Liberation Sans" font-size="12.40" font-weight="normal" text-anchor="middle" fill="#262626">-200</text>
<text x="543.85" y="186.00" font-family="Liberation Sans" font-size="12.40" font-weight="normal" text-anchor="middle" fill="#262626">-100</text>
<text x="587.20" y="186.00" font-family="Liberation Sans" font-size="12.40" font-weight="normal" text-anchor="middle" fill="#262626">0</text>
<text x="630.55" y="186.00" font-family="Liberation Sans" font-size="12.40" font-weight="normal" text-anchor="middle" fill="#262626">100</text>
<text x="673.90" y="186.00" font-family="Liberation Sans" font-size="12.40" font-weight="normal" text-anchor="middle" fill="#262626">200</text>
<text x="496.50" y="174.90" font-family="Liberation Sans" font-size="12.40" font-weight="normal" text-anchor="end" fill="#262626">0</text>
<text x="496.50" y="143.15" font-family="Liberation Sans" font-size="12.40" font-weight="normal" text-anchor="end" fill="#262626">1</text>
<text x="496.50" y="111.40" font-family="Liberation Sans" font-size="12.40" font-weight="normal" text-anchor="end" fill="#262626">2</text>
<text x="496.50" y="79.65" font-family="Liberation Sans" font-size="12.40" font-weight="normal" text-anchor="end" fill="#262626">3</text>
<text x="496.50" y="47.90" font-family="Liberation Sans" font-size="12.40" font-weight="normal" text-anchor="end" fill="#262626">4</text>
<text transform="translate(587.20 201.70) scale(1 1.15)" font-family="Liberation Serif" font-size="13.50" text-anchor="middle" fill="#262626">Distance (m)</text>
<text transform="translate(484.45 107.00) rotate(-90) scale(1 1.15)" font-family="Liberation Serif" font-size="13.50" text-anchor="middle" fill="#262626">Gravity anomaly (mGal)</text>
<text x="127.05" y="220.80" font-family="Liberation Sans" font-size="13.60" font-weight="bold" text-anchor="middle" fill="#000">q</text>
<text x="40.50" y="367.50" font-family="Liberation Sans" font-size="12.40" font-weight="normal" text-anchor="middle" fill="#262626">-200</text>
<text x="83.78" y="367.50" font-family="Liberation Sans" font-size="12.40" font-weight="normal" text-anchor="middle" fill="#262626">-100</text>
<text x="127.05" y="367.50" font-family="Liberation Sans" font-size="12.40" font-weight="normal" text-anchor="middle" fill="#262626">0</text>
<text x="170.32" y="367.50" font-family="Liberation Sans" font-size="12.40" font-weight="normal" text-anchor="middle" fill="#262626">100</text>
<text x="213.60" y="367.50" font-family="Liberation Sans" font-size="12.40" font-weight="normal" text-anchor="middle" fill="#262626">200</text>
<text x="36.50" y="356.40" font-family="Liberation Sans" font-size="12.40" font-weight="normal" text-anchor="end" fill="#262626">0</text>
<text x="36.50" y="316.02" font-family="Liberation Sans" font-size="12.40" font-weight="normal" text-anchor="end" fill="#262626">50</text>
<text x="36.50" y="275.63" font-family="Liberation Sans" font-size="12.40" font-weight="normal" text-anchor="end" fill="#262626">100</text>
<text x="36.50" y="235.25" font-family="Liberation Sans" font-size="12.40" font-weight="normal" text-anchor="end" fill="#262626">150</text>
<text transform="translate(127.05 383.20) scale(1 1.15)" font-family="Liberation Serif" font-size="13.50" text-anchor="middle" fill="#262626">Distance (m)</text>
<text transform="translate(10.75 288.25) rotate(-90) scale(1 1.15)" font-family="Liberation Serif" font-size="13.50" text-anchor="middle" fill="#262626">Gravity anomaly (mGal)</text>
<text x="357.10" y="221.10" font-family="Liberation Serif" font-size="13.50" font-weight="bold" text-anchor="middle" fill="#000" font-style="italic">μ</text>
<text x="270.50" y="367.50" font-family="Liberation Sans" font-size="12.40" font-weight="normal" text-anchor="middle" fill="#262626">-200</text>
<text x="313.80" y="367.50" font-family="Liberation Sans" font-size="12.40" font-weight="normal" text-anchor="middle" fill="#262626">-100</text>
<text x="357.10" y="367.50" font-family="Liberation Sans" font-size="12.40" font-weight="normal" text-anchor="middle" fill="#262626">0</text>
<text x="400.40" y="367.50" font-family="Liberation Sans" font-size="12.40" font-weight="normal" text-anchor="middle" fill="#262626">100</text>
<text x="443.70" y="367.50" font-family="Liberation Sans" font-size="12.40" font-weight="normal" text-anchor="middle" fill="#262626">200</text>
<text x="266.50" y="356.40" font-family="Liberation Sans" font-size="12.40" font-weight="normal" text-anchor="end" fill="#262626">0</text>
<text x="266.50" y="329.52" font-family="Liberation Sans" font-size="12.40" font-weight="normal" text-anchor="end" fill="#262626">5</text>
<text x="266.50" y="302.65" font-family="Liberation Sans" font-size="12.40" font-weight="normal" text-anchor="end" fill="#262626">10</text>
<text x="266.50" y="275.77" font-family="Liberation Sans" font-size="12.40" font-weight="normal" text-anchor="end" fill="#262626">15</text>
<text x="266.50" y="248.90" font-family="Liberation Sans" font-size="12.40" font-weight="normal" text-anchor="end" fill="#262626">20</text>
<text transform="translate(357.10 383.20) scale(1 1.15)" font-family="Liberation Serif" font-size="13.50" text-anchor="middle" fill="#262626">Distance (m)</text>
<text transform="translate(247.55 288.25) rotate(-90) scale(1 1.15)" font-family="Liberation Serif" font-size="13.50" text-anchor="middle" fill="#262626">Gravity anomaly (mGal)</text>
<text x="587.20" y="225.00" font-family="Liberation Sans" font-size="8.30" font-weight="bold" text-anchor="middle" fill="#262626">Perturbation (%)</text>
<text x="500.50" y="235.10" font-family="Liberation Sans" font-size="8.50" font-weight="normal" text-anchor="middle" fill="#262626">-50%</text>
<text x="543.85" y="235.10" font-family="Liberation Sans" font-size="8.50" font-weight="normal" text-anchor="middle" fill="#262626">-25%</text>
<path d="M543.85 239.9v1.6" stroke="#262626" stroke-width="0.6"/>
<text x="587.20" y="235.10" font-family="Liberation Sans" font-size="8.50" font-weight="normal" text-anchor="middle" fill="#262626">0%</text>
<path d="M587.20 239.9v1.6" stroke="#262626" stroke-width="0.6"/>
<text x="630.55" y="235.10" font-family="Liberation Sans" font-size="8.50" font-weight="normal" text-anchor="middle" fill="#262626">25%</text>
<path d="M630.55 239.9v1.6" stroke="#262626" stroke-width="0.6"/>
<text x="673.90" y="235.10" font-family="Liberation Sans" font-size="8.50" font-weight="normal" text-anchor="middle" fill="#262626">50%</text>
<rect x="590.4" y="264.2" width="78.2" height="18.1" fill="#fff" stroke="#808080" stroke-width="0.6"/>
<path d="M593.5 269.6h20" stroke="#00008f" stroke-width="1"/><path d="M593.5 277.4h20" stroke="#000" stroke-width="1.5" stroke-dasharray="5.3 5.2"/>
<text x="616.00" y="271.80" font-family="Liberation Sans" font-size="6.30" font-weight="normal" text-anchor="start" fill="#000">Perturbed models</text>
<text x="616.00" y="279.70" font-family="Liberation Sans" font-size="6.30" font-weight="normal" text-anchor="start" fill="#000">True model</text>
</svg>
</div></body></html>
